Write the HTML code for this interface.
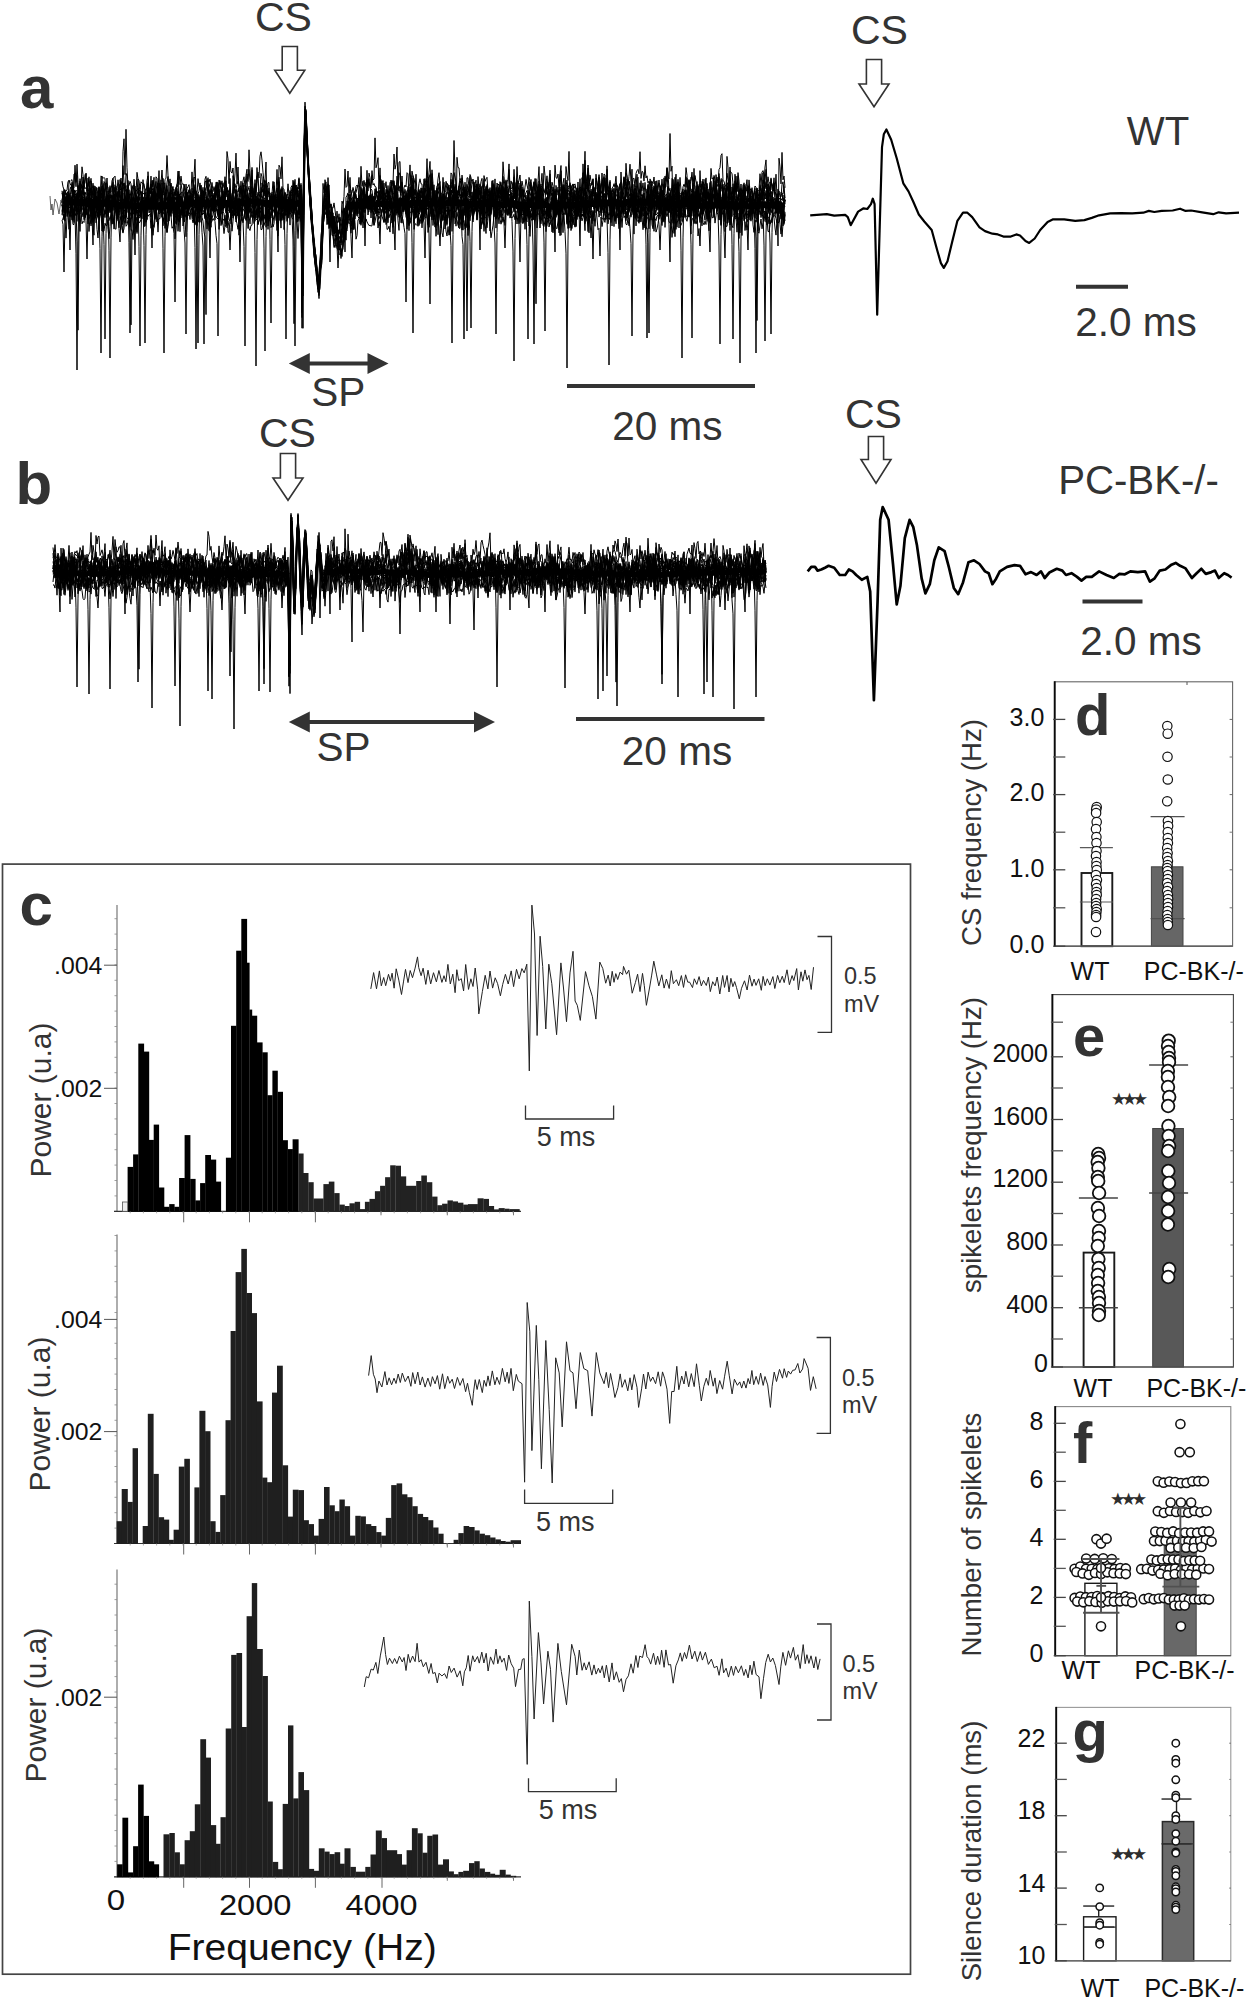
<!DOCTYPE html>
<html lang="en"><head><meta charset="utf-8"><title>Complex spikes in WT and PC-BK-/- Purkinje cells</title>
<style>html,body{margin:0;padding:0;background:#fff}svg{display:block}text{font-family:"Liberation Sans",sans-serif}.st{font-family:"DejaVu Sans","Liberation Sans",sans-serif}</style>
</head><body>
<svg width="1250" height="2000" viewBox="0 0 1250 2000">
<rect width="1250" height="2000" fill="#fff"/>
<path d="M63,202.7l2,1.1 2,-1.3 2,0.1 2,0.3 2,-1.2 2,1.1 2,0.4 2,0.5 2,-2 2,0.7 2,-0.6 2,2.2 2,-0.2 2,-1.9 2,2.9 2,0 2,-0.8 2,0 2,-1.3 2,-0.3 2,1.6 2,-1.3 2,0.5 2,0.2 2,-0.5 2,1.4 2,0 2,1.3 2,-0.9 2,0.5 2,-0.4 2,0.6 2,-0.5 2,-0.5 2,2.2 2,0.1 2,-0.4 2,-0.4 2,-1.1 2,-0.2 2,0.2 2,-0.6 2,2.1 2,-1.1 2,1.3 2,-1.3 2,1.7 2,-0.4 2,-2.5 2,0.6 2,2.1 2,-1.4 2,1.5 2,-1.8 2,-1 2,1.6 2,0.4 2,-1.6 2,-0.6 2,0.6 2,1.9 2,-0.7 2,-2 2,0.3 2,-0.6 2,-0.2 2,2.1 2,-1.9 2,1 2,-0.4 2,-0.9 2,1.6 2,-1.9 2,1.4 2,-1.7 2,0.8 2,-0.7 2,0.1 2,2 2,-0.5 2,-1.6 2,1.6 2,-2 2,0.4 2,1.4 2,-0.7 2,-1.7 2,2.6 2,-2.4 2,0.1 2,1.6 2,-1.4 2,-0.1 2,-0.7 2,0.1 2,1.5 2,-1.1 2,1.1 2,-0.6 2,0.2 2,1.6 2,-1.4 2,0.3 2,1 2,-2 2,-0.1 2,2.4 2,-0.2 2,-1.7 2,-0.1 2,1.8 2,0.6 2,-2.1 2,2.4 2,-0.2 2,-0.7 2,-0.5 2,-0.8 2,-0.1" fill="none" stroke="#000" stroke-width="6" stroke-linejoin="round" stroke-linecap="butt"/>
<path d="M325,204.2l2,1.5 2,-1.3" fill="none" stroke="#000" stroke-width="6" stroke-linejoin="round" stroke-linecap="butt"/>
<path d="M347,206.5l2,-0.7 2,-0.9 2,-0.4 2,1.6 2,-1.9 2,0.4 2,1 2,0.8 2,-0.7 2,-1.1 2,1.9 2,-2.2 2,-0.6 2,0.7 2,0.4 2,-1.2 2,0.2 2,0.5 2,0.6 2,-1.4 2,0.6 2,1.4 2,0.2 2,-1 2,0 2,-0.5 2,-1.4 2,-0.4 2,-0.1 2,2.5 2,-0.7 2,0.7 2,-2.9 2,1.8 2,-0.6 2,0.7 2,-1.3 2,1.9 2,-2.8 2,1.4 2,0.5 2,0.4 2,-0.5 2,-0.2 2,0.3 2,0.3 2,-1.7 2,1 2,0.6 2,-0.1 2,-1.3 2,1.1 2,0.2 2,-0.8 2,0.1 2,-0.7 2,0.7 2,0.1 2,-1.5 2,1.7 2,1.1 2,-0.3 2,-0.3 2,-1 2,1.1 2,-0.4 2,-0.3 2,1.3 2,-2.2 2,2.1 2,-2.1 2,1.9 2,-0.3 2,-0.7 2,1.5 2,-0.5 2,0.5 2,1 2,-1.9 2,-0.7 2,1 2,1.2 2,-1.3 2,0 2,2.2 2,-0.6 2,-0.6 2,1.4 2,-1.6 2,1.1 2,-1.4 2,0.7 2,1.2 2,0.4 2,-0.1 2,-1.5 2,0.6 2,-0.8 2,-0.5 2,1.1 2,1 2,0 2,-0.4 2,0.7 2,-2.1 2,-0.3 2,0.8 2,-0.6 2,-0.3 2,0.6 2,0.5 2,-0.4 2,-0.6 2,1.5 2,0.3 2,-1.7 2,-1.2 2,-0.2 2,2.4 2,-2.6 2,2 2,-0.6 2,-0.8 2,1.3 2,-2.4 2,0.3 2,0.8 2,-1.4 2,2.4 2,-1.9 2,-0.4 2,-0.4 2,1.7 2,-0.6 2,0.5 2,0 2,0.4 2,0.4 2,-0.9 2,-1.5 2,0.8 2,-1 2,-0.5 2,1.4 2,0.7 2,-1.7 2,0.3 2,0.2 2,1.1 2,-0.5 2,0.3 2,0.4 2,-1 2,1.2 2,0.4 2,-2.4 2,2.6 2,-0.6 2,-1.7 2,1 2,0.6 2,0.9 2,-1.5 2,0.7 2,1 2,-0.2 2,0.6 2,-1.4 2,0.7 2,-1.3 2,1.7 2,0.4 2,-0.5 2,0.3 2,-1.4 2,2.2 2,0.3 2,0.1 2,-1.2 2,0.8 2,-1.3 2,1.8 2,-0.1 2,-1.4 2,-0.7 2,1.1 2,0.4 2,0.7 2,-0.8 2,-1.3 2,2.3 2,-2.2 2,2.3 2,-1.9 2,0.5 2,1.4 2,-2 2,0 2,1.1 2,0.6 2,0.4 2,-0.5 2,0.7 2,-1.4 2,1.3 2,-2.6 2,0.3 2,0.9 2,-0.8 2,1.2 2,-0.3 2,-0.4 2,0.8 2,-0.9 2,-0.8 2,0.1 2,1.3 2,0.1" fill="none" stroke="#000" stroke-width="6" stroke-linejoin="round" stroke-linecap="butt"/>
<path d="M62,181.1l1,5.7 1,2.8 1,2.1 1,-0.7 1,-0.7 1,-8.9 1,-0.6 1,0.7 1,-1 1,-0.9 1,9.1 1,-0.3 1,-23.2 1,17.2 1,-6.9 1,22.6 1,-1 1,-18.4 1,10.4 1,-3.3 1,9 1,-9.6 1,2.6 1,0.8 1,0.4 1,-3 1,-9.2 1,11.4 1,7.3 1,-4.5 1,-7.8 1,7.7 1,17 1,-17.3 1,-2.8 1,8.7 1,-9.5 1,23.8 1,-34.9 1,1.3 1,1.2 1,-1 1,1.4 1,19.7 1,10.6 1,-10.5 1,51.6 1,107.8 1,-120.1 1,-40.9 1,-18.6 1,19.1 1,-12.8 1,6.3 1,27.9 1,-26 1,-8.7 1,5.2 1,0.1 1,-1.2 1,9.8 1,3.6 1,0.4 1,11.2 1,-23.1 1,3.7 1,16.1 1,-12.5 1,-6.6 1,-1.8 1,-3.2 1,-0.5 1,4.6 1,12 1,-5.1 1,3.4 1,46.3 1,99.4 1,-110.8 1,-38.2 1,-17.4 1,10.2 1,8.4 1,0.1 1,-2 1,-8.3 1,3.4 1,-1.7 1,4.1 1,-7.5 1,-6.3 1,6.6 1,5.8 1,2.8 1,-1.7 1,3.7 1,-4.9 1,-5 1,0.6 1,20.5 1,-2.6 1,-1.3 1,1.7 1,-2 1,1.9 1,-7.7 1,-2.7 1,6.5 1,-6.6 1,-8.9 1,3.6 1,-1.1 1,6.7 1,-6.5 1,-4.8 1,2.7 1,12.8 1,-6 1,-1 1,-1.4 1,1.2 1,4.4 1,4.5 1,-17.8 1,13 1,-4.1 1,-3.3 1,16.3 1,-10.5 1,10 1,-2.5 1,-13.5 1,5.1 1,3.6 1,-4.1 1,-15.4 1,7.4 1,3.6 1,-4.5 1,17.2 1,-7.2 1,-3.6 1,-0.7 1,-3.4 1,-1.3 1,4.9 1,3 1,-4.4 1,1 1,-8.2 1,9.3 1,-5.1 1,4.3 1,-5.8 1,0.4 1,4.7 1,-7.6 1,20.8 1,-9.1 1,-7.2 1,-4.4 1,5 1,-11 1,10.2 1,-35.4 1,7.3 1,24.9 1,-22.3 1,10.6 1,1.1 1,-5.1 1,19.9 1,-4.1 1,4.9 1,24.4 1,-2.5 1,-17.2 1,3.8 1,-8.6 1,3.1 1,5.3 1,-12 1,13.6 1,20.2 1,-17.4 1,12.1 1,-6 1,-16.6 1,1 1,-2.4 1,9.1 1,-2.7 1,-4 1,-0.4 1,-24 1,16 1,10.5 1,2.9 1,-9.5 1,5.3 1,-3.1 1,-1 1,6.4 1,2.3 1,-7 1,-7.6 1,-0.2 1,57.2 1,83.3 1,-92.8 1,-33.2 1,-15.1 1,13.5 1,11.3 1,0.7 1,-5 1,-3 1,-9.3 1,0.5 1,0.6 1,-2.9 1,19.2 1,37 1,94.5 1,-105.3 1,-36.7 1,3.9 1,24.2 1,-37.8 1,-1.7 1,5.7 1,-8.3 1,11.4 1,-6.4 1,2.1 1,-3.8 1,-7.4 1,18.7 1,-12.6 1,15.4 1,43.4 1,-71.7 1,-62.9 1,4.3 1,24.2 1,24.7 1,12.1 1,10.8 1,18.1 1,10.9 1,18.3 1,8.8 1,12.9 1,9.6 1,11.8 1,7.4 1,-3.7 1,-10.4 1,-18.6 1,-19.6 1,-11.5 1,-19.1 1,-16.8 1,3.7 1,1.7 1,-4.9 1,8.5 1,15.2 1,-3.4 1,3.4 1,0.6 1,-5.3 1,7 1,8.7 1,3.6 1,0.7 1,-9.1 1,17.2 1,4.9 1,-1.7 1,-3.4 1,-15 1,-8.2 1,0.5 1,6.3 1,-20.6 1,2.6 1,-2.2 1,7.2 1,8.4 1,-10.7 1,-7.8 1,3 1,-7.8 1,-1.5 1,1.9 1,-9.5 1,17.9 1,-29 1,20.1 1,-5.3 1,20.9 1,44 1,-52.3 1,-8.8 1,-1.7 1,-1 1,4 1,-2.3 1,-13.3 1,9.5 1,-1.2 1,-41 1,29.9 1,-3.6 1,-6.5 1,31.3 1,-21.1 1,27.1 1,3.9 1,-7.2 1,7.6 1,1.1 1,-5.2 1,-5.6 1,8.4 1,-0.8 1,-15 1,-0.2 1,9.9 1,1.1 1,1.4 1,2.7 1,-2.4 1,8.1 1,-11.2 1,-3 1,3.3 1,3.5 1,0.8 1,3.9 1,-12.4 1,-2.7 1,2 1,-14.3 1,1.1 1,23.9 1,-3.2 1,-8.1 1,-15.3 1,5.2 1,2.1 1,5.8 1,16.4 1,-4.1 1,-4 1,-9.1 1,-4.6 1,5 1,0.3 1,22.3 1,-19.9 1,-8 1,6.5 1,-4.3 1,2.5 1,14.1 1,-5.1 1,-8.2 1,7.8 1,3.9 1,-3.9 1,5.4 1,2.6 1,-10 1,-11 1,-6.1 1,12 1,12.1 1,2.8 1,-3.4 1,4.6 1,-8.8 1,-1.6 1,-7.2 1,9.6 1,2.1 1,-2.1 1,-3 1,-5.2 1,6.4 1,9.7 1,-6.8 1,3.6 1,-6.1 1,4.1 1,-6.4 1,7 1,-1.1 1,3.4 1,-4.4 1,-5 1,4 1,10.3 1,7.3 1,-9.7 1,11.4 1,28.9 1,86.8 1,-96.7 1,-34.3 1,-15.1 1,16.8 1,-8.1 1,7.8 1,-21.8 1,11.3 1,11.4 1,-12.2 1,11.5 1,-1.3 1,-2.9 1,-4.4 1,-3.7 1,2.2 1,23.2 1,-10.5 1,-3.8 1,-6.8 1,-2.2 1,-0.4 1,-2.2 1,10.5 1,-3.5 1,6.1 1,-10.7 1,9.8 1,-2.6 1,3.6 1,-3.5 1,-6.2 1,11.2 1,-6.8 1,-5.2 1,-6.5 1,-2.5 1,-15.6 1,24.7 1,0.8 1,-2.2 1,-4.9 1,4.2 1,5.5 1,0.3 1,-25.8 1,17.7 1,-3.9 1,-5.3 1,14.6 1,-8.5 1,5.4 1,8.5 1,-7.9 1,-7.7 1,5.7 1,3.9 1,-11.6 1,3.5 1,9.5 1,-1.3 1,1.4 1,-8 1,11.4 1,9.7 1,-8.8 1,-6.2 1,-4.5 1,11.8 1,4.2 1,14.2 1,-9.6 1,-2.8 1,-0.4 1,-15.1 1,5.4 1,6.7 1,-9.5 1,10.5 1,6.8 1,-0.2 1,-11.5 1,-4 1,8.4 1,3.1 1,2.1 1,-3.4 1,-6.1 1,-8.4 1,-15.6 1,20.3 1,8.7 1,-9.9 1,-0.3 1,4.3 1,2.6 1,-10.4 1,0.5 1,-1.8 1,34.1 1,2.7 1,-6.1 1,-7.1 1,7 1,-4.1 1,0.9 1,-12.5 1,16.4 1,-20.1 1,-2.4 1,19.4 1,-21 1,6.9 1,-10.1 1,21.4 1,-8.1 1,-27.6 1,27.4 1,-9.5 1,1 1,4.1 1,-10.9 1,0.5 1,4 1,4 1,-0.8 1,13.6 1,-12 1,-6.2 1,-4.1 1,-2.1 1,-5.2 1,0.9 1,12.3 1,-1.2 1,-2 1,2.7 1,5.5 1,-0.9 1,0.7 1,-8.2 1,-0.8 1,-3.5 1,3.3 1,-3.4 1,1.8 1,2 1,25.3 1,37.3 1,-58.8 1,5.7 1,-9.3 1,-10.1 1,8.3 1,-13.1 1,3.2 1,9.5 1,-8.9 1,-12.3 1,17.6 1,10.7 1,-13.8 1,-0.5 1,8.6 1,-13.4 1,-2.7 1,-1.3 1,4.4 1,-22.1 1,26.7 1,-7.1 1,0.9 1,8.9 1,-15.3 1,12.2 1,-2.2 1,7.3 1,-2 1,2.9 1,2 1,7.3 1,2.8 1,-10.2 1,3.3 1,9.4 1,-2.5 1,-8.2 1,-4.9 1,2.3 1,4.9 1,-11.1 1,11.8 1,3.3 1,-18.1 1,5.3 1,-13.4 1,4.8 1,17.7 1,-2.3 1,13.2 1,-22.9 1,2 1,43.1 1,-31.8 1,-6.9 1,8.2 1,-11.3 1,46.2 1,-31.3 1,20.6 1,-23.9 1,-4.5 1,8.7 1,-7.4 1,16.5 1,-11 1,-4 1,0 1,14.8 1,-5.4 1,-7 1,7.4 1,11.9 1,-19 1,-3.7 1,3.8 1,-3.5 1,23.9 1,7.7 1,-19.7 1,6.6 1,-27.8 1,3.4 1,-0.4 1,19.2 1,-20.6 1,8.2 1,9 1,-1.5 1,3.8 1,-6.8 1,-9.9 1,-10.7 1,3.7 1,6.7 1,-8.8 1,6.2 1,-13.7 1,-1.7 1,-12.4 1,-1.7 1,26.8 1,0.8 1,4 1,0.8 1,-12.9 1,6.7 1,8.4 1,-17.5 1,1.7 1,0.8 1,10.8 1,11.9 1,-12.2 1,4 1,8.3 1,4.5 1,-9.9 1,-0.7 1,10.1 1,10.2 1,-2.3 1,-17.9 1,3.8 1,-3.6 1,0.1 1,-3.9 1,-0.4 1,2.8 1,12.5 1,-2.8 1,-2.8 1,-3.5 1,-6.3 1,1.2 1,9.2 1,0.1 1,7.6 1,-15.9 1,-2.3 1,-13.8 1,-1.5 1,4.2 1,14.1 1,-4.6 1,8 1,-8 1,4.5 1,-1 1,13.1 1,-0.7 1,-9.2 1,-7.7 1,13.9 1,16 1,-19.6 1,5.9 1,-1.5 1,1.3 1,-4 1,-1.4 1,0.1 1,-7.5 1,11.5" fill="none" stroke="#000" stroke-width="1.0" stroke-linejoin="round"/>
<path d="M62,205l1,3.2 1,-7.2 1,8.3 1,-9.3 1,-4.7 1,2.8 1,4.4 1,-5.2 1,-7.2 1,-7.8 1,16.6 1,-9.2 1,2.3 1,-0.5 1,-1.3 1,6 1,0.8 1,-6 1,-1.7 1,11.5 1,-18.8 1,7.5 1,12.1 1,-0.9 1,-5 1,-12.8 1,-1.1 1,17.2 1,-17.7 1,13.9 1,3.7 1,1.3 1,4.6 1,-8.7 1,3.2 1,4.3 1,25.3 1,-29.9 1,-7.9 1,-2.9 1,10.9 1,-17.6 1,1.5 1,5.7 1,-10.7 1,14.2 1,3 1,-9.5 1,6.5 1,-11.5 1,-2.6 1,-0.5 1,-1.5 1,11.4 1,2.5 1,-10.2 1,7.8 1,-1.9 1,-1 1,-3.3 1,4.7 1,-3.3 1,7.7 1,0.3 1,2.6 1,-8 1,23.1 1,31.8 1,84.6 1,-94.3 1,-33.2 1,-18.2 1,12 1,7 1,-5.3 1,-13.9 1,1.5 1,8.6 1,-7.3 1,1.3 1,0.5 1,0 1,6.9 1,5.9 1,-16 1,-4.5 1,18.1 1,0.2 1,-2.6 1,-7.2 1,2.8 1,-9.9 1,21.4 1,-3.4 1,0 1,-1.9 1,7.9 1,-6.5 1,-1.7 1,2.3 1,53.3 1,104.3 1,-116.2 1,-39.8 1,-6.9 1,31.9 1,-29.7 1,8.5 1,-17.8 1,5.7 1,10.1 1,2.6 1,-7 1,-1.2 1,-8.2 1,-4.1 1,-9.9 1,13.7 1,-8.6 1,7.8 1,0.1 1,0.5 1,4.3 1,0.9 1,13 1,-10.6 1,-0.2 1,0.9 1,5.9 1,-0.2 1,3.5 1,-4 1,-1.3 1,0.7 1,-1.1 1,-2.3 1,-2.8 1,-8.3 1,11 1,-3 1,3.3 1,9.5 1,-14.9 1,9 1,0 1,-18.2 1,2.8 1,-3.4 1,6.6 1,8.6 1,10.8 1,-9.3 1,4.2 1,-3.2 1,-14.5 1,10.8 1,-7.8 1,-4.6 1,11.7 1,-5.9 1,25.4 1,-21.6 1,-4.9 1,-4.5 1,11.7 1,-2.3 1,2.7 1,12.4 1,18.6 1,-14.8 1,-33.5 1,10.4 1,-12.1 1,-20.8 1,30.7 1,-16.8 1,24.6 1,1.2 1,-3.7 1,-1.8 1,-6.4 1,-4.1 1,9.8 1,-11.4 1,-6 1,59.3 1,-28.5 1,0.4 1,-4.2 1,-9.4 1,10.5 1,26.3 1,-29.3 1,-2.5 1,-15.9 1,0.2 1,16.4 1,0 1,-19.1 1,3.4 1,15 1,-12.1 1,3.5 1,7 1,11.4 1,24.4 1,-14.8 1,-15.5 1,4.7 1,-1.4 1,-0.4 1,4.5 1,-5.2 1,3 1,3 1,-6.3 1,3.4 1,-9.1 1,9.2 1,15.4 1,-12.6 1,7.2 1,-2.9 1,-7 1,1 1,1 1,4.1 1,-1 1,-4.9 1,2.7 1,-15.5 1,-7.2 1,7.6 1,-4 1,12.2 1,-10.1 1,2.2 1,0.2 1,-6.2 1,19.8 1,52.9 1,-78.1 1,-57.2 1,-1.6 1,13 1,22.1 1,20.7 1,7 1,17.7 1,15.3 1,17 1,10.7 1,6.5 1,10.1 1,9.7 1,11.3 1,10.7 1,-15.6 1,-18.3 1,-15.9 1,-31.1 1,-12.3 1,-12.5 1,10.7 1,28.8 1,-22.1 1,-17.7 1,27.7 1,7.6 1,-12 1,10.1 1,-2.3 1,14 1,-5 1,-13.9 1,10.9 1,-2.1 1,-2.9 1,15.4 1,-15.1 1,-10.3 1,-10.6 1,-27.4 1,18.4 1,-1.2 1,-15.2 1,22 1,-15.6 1,20 1,3.1 1,5.8 1,-13.7 1,1.1 1,4.6 1,3.3 1,2.2 1,1.9 1,3.3 1,16.3 1,-24.8 1,-2.6 1,-1.9 1,9.7 1,0.3 1,-5.4 1,3.3 1,-6.9 1,1.2 1,-2.9 1,8.4 1,-4.5 1,3 1,-4.5 1,-9.2 1,10.3 1,0.2 1,2.3 1,-10.8 1,-11 1,8.2 1,8.3 1,-12.9 1,22.6 1,-1.8 1,1.7 1,-13.9 1,7.2 1,0 1,-0.6 1,1.2 1,-15.3 1,-30.2 1,15.2 1,-4.8 1,-17.4 1,41.8 1,-26.6 1,-0.7 1,29.4 1,-14.9 1,17.6 1,5.1 1,6.8 1,-9.8 1,-1 1,11.8 1,-3 1,-11.3 1,6.7 1,-13.1 1,-0.9 1,11.8 1,5.6 1,6.2 1,-9 1,-7 1,11 1,0.5 1,-6.9 1,0.2 1,1.4 1,20.8 1,-18.7 1,-5.2 1,11 1,-9.5 1,30.2 1,-19.8 1,-21.2 1,-16.5 1,13.6 1,18 1,-2.4 1,10.4 1,-23.1 1,-1.7 1,0.7 1,-3.8 1,40.7 1,-24 1,-0.6 1,-4.3 1,-2.3 1,-9.7 1,3.1 1,-0.2 1,4.6 1,5 1,-14.5 1,7.7 1,-6.7 1,14.9 1,-10.9 1,6 1,3.3 1,-2.5 1,-1.3 1,-8.8 1,14.8 1,-3.7 1,-5.5 1,3.6 1,4.6 1,1.2 1,-11.7 1,5.4 1,-1.3 1,5.7 1,-2.5 1,-9.2 1,-3.4 1,7.9 1,-0.6 1,0.9 1,-2.1 1,11.1 1,-1.2 1,-4.5 1,10.3 1,-6.2 1,14.1 1,11 1,-24.3 1,3.6 1,2.9 1,-9.5 1,-0.8 1,7.5 1,4.8 1,-20.9 1,-2.7 1,14.3 1,13.6 1,-13.8 1,-11.4 1,2.3 1,8.8 1,-4.1 1,3.7 1,-5 1,-1.9 1,7.3 1,-5.9 1,-3.2 1,8.5 1,6.7 1,-5 1,-0.7 1,-3.2 1,-1.1 1,1.9 1,7 1,-4.9 1,7.9 1,-10.7 1,-10.5 1,14.8 1,-7.2 1,12.2 1,-8.5 1,-1.7 1,9.4 1,-0.5 1,-4.4 1,6.2 1,0.2 1,-6.9 1,-4.4 1,-7.6 1,6.3 1,8.3 1,5.3 1,2.6 1,-9.4 1,3.4 1,-12 1,12.2 1,-0.7 1,-12.1 1,0 1,2 1,3.9 1,-2.4 1,-3.1 1,7.9 1,-3.4 1,-8.9 1,-1.2 1,18.7 1,-3.5 1,-2.9 1,15.9 1,42.6 1,-66.6 1,9.8 1,-8.1 1,10.4 1,-23.5 1,-8.5 1,44.1 1,-26.3 1,-5.1 1,32.2 1,-23.5 1,-6.9 1,8.5 1,0.4 1,-6.2 1,5.5 1,-2.1 1,-2 1,7.5 1,6 1,28.1 1,-27.9 1,-15.8 1,29.2 1,34.8 1,-51.5 1,-7.7 1,-8 1,4.7 1,-23.3 1,22.3 1,0.1 1,8.6 1,-0.1 1,2.1 1,2.3 1,10.6 1,-17.7 1,6.9 1,0.6 1,-3.6 1,9.9 1,-6 1,0.3 1,2 1,-5.9 1,-0.2 1,2.9 1,-2 1,0.9 1,13.5 1,9.4 1,-17.2 1,6.4 1,-8.9 1,4.1 1,-9 1,-4 1,38.1 1,-41.8 1,-8.6 1,17.5 1,11.2 1,3.2 1,3 1,5.7 1,-18.3 1,-0.7 1,-8.8 1,-1.4 1,14.4 1,2.9 1,12.9 1,-11.4 1,-1.2 1,-12.6 1,4.2 1,-1.4 1,1.4 1,1.6 1,4.8 1,0.7 1,5.5 1,-9.3 1,-0.5 1,-3.3 1,-2.1 1,2.4 1,-1 1,2.7 1,2.4 1,-7.1 1,-9.3 1,6.5 1,13.1 1,-17.4 1,-2.9 1,2.7 1,9.3 1,-5.7 1,-1.5 1,12.8 1,-5.8 1,8.1 1,7.2 1,-12.7 1,-8.1 1,7.9 1,-4.3 1,1.2 1,1.1 1,-2.6 1,-6.9 1,4.2 1,-0.8 1,6.1 1,4.4 1,0 1,-6.6 1,7.1 1,-3.3 1,8 1,-10 1,-2.3 1,-15.7 1,13 1,8.5 1,-12 1,-2.7 1,2.6 1,-19.2 1,7.7 1,39.3 1,-32.3 1,-1.3 1,-0.4 1,-8.5 1,14 1,-0.9 1,0.5 1,22.8 1,-20.4 1,-3.5 1,14.8 1,-28.8 1,21.2 1,-7.2 1,2.8 1,6.6 1,-3.9 1,15.9 1,-5.7 1,-4.6 1,7 1,6.4 1,3.7 1,-14.7 1,-2.5 1,2.1 1,-1.6 1,-4.5 1,-1.7 1,13.1 1,-7.9 1,15.9 1,-7.4 1,-4.7 1,-10.4 1,15 1,-4.9 1,-10.7 1,9.3 1,12.7 1,-11.3 1,7 1,-2.2 1,-16.4 1,5.9 1,-4.1 1,3.1 1,-8 1,7.9 1,-16 1,17.2 1,1.7 1,-10.7 1,13 1,-12.5 1,0.5 1,7.5 1,5 1,2.6 1,5.4 1,-8.9 1,3.2 1,-5.2 1,-6.9 1,8.2 1,0.2 1,-4.9 1,5.8 1,-8.6 1,8.5 1,-2.7 1,-9.6 1,9.9 1,3.3 1,-9.1 1,-2.5 1,-4.6 1,4.7 1,-2 1,1.9 1,-3 1,-0.9 1,0.2 1,0.9 1,4.4 1,-10 1,13.2 1,-16.8 1,23.1 1,48.7 1,-87.8 1,8.7 1,17 1,-31.5 1,27.4 1,-3.8 1,11.8" fill="none" stroke="#000" stroke-width="1.0" stroke-linejoin="round"/>
<path d="M62,199.8l1,-3.1 1,-1 1,6.5 1,3.7 1,-5.8 1,0.9 1,1.1 1,-12.9 1,-2.4 1,7.3 1,-7.8 1,10.7 1,0.9 1,9.9 1,34 1,88.4 1,-98.4 1,-33.1 1,-12.2 1,-19.7 1,7.9 1,14.3 1,-14.3 1,-1 1,21.1 1,-16.7 1,11.7 1,-5.4 1,-6.1 1,10.1 1,8.3 1,3.2 1,6.9 1,-1.8 1,11.2 1,-6.1 1,2.9 1,-14.3 1,2.5 1,20.5 1,-22.2 1,8.9 1,6 1,-2.4 1,-5.8 1,-4.4 1,-6 1,8.6 1,7.3 1,-4.4 1,-6.7 1,-9.4 1,-4.3 1,8.5 1,1.3 1,-6.4 1,7.4 1,-5.2 1,-14.5 1,23.9 1,-50.6 1,-12.5 1,35.8 1,-45.3 1,38.5 1,19 1,-1.3 1,-4.2 1,2.6 1,22.5 1,0.2 1,-5.6 1,-1.2 1,12.5 1,-5 1,-12 1,1.9 1,2.4 1,-1.2 1,-6.6 1,2.3 1,-1.1 1,4.1 1,5.6 1,2.8 1,-8.8 1,-0.8 1,-1.5 1,8.3 1,-6.2 1,8.9 1,-2.6 1,-14.3 1,-7.1 1,11.7 1,0.3 1,-10.5 1,14.7 1,-17.8 1,37.4 1,-38.9 1,9.5 1,36.2 1,-32.6 1,-9.2 1,-5.7 1,9.1 1,-6.7 1,14.1 1,0.8 1,12 1,22.8 1,-26.7 1,9.4 1,-17.7 1,17.2 1,10.1 1,-12.3 1,6.4 1,-13.2 1,-4.9 1,-12.9 1,10.3 1,-2.7 1,0.4 1,10.9 1,-3.8 1,2.2 1,-2 1,-11.1 1,7.4 1,-7.2 1,8.5 1,-5.2 1,1.8 1,8.3 1,-1.3 1,5 1,-19.9 1,14.5 1,-0.3 1,7.6 1,-7.7 1,1 1,-0.1 1,-2.5 1,4.8 1,4.4 1,-2 1,5.2 1,-11.6 1,-2.4 1,-1.9 1,-4 1,-8.7 1,15.3 1,-17.1 1,1.6 1,4 1,-4.9 1,13.3 1,11.1 1,-5.5 1,-3.8 1,-5.8 1,12.9 1,-9 1,-5.5 1,7.4 1,10.2 1,-11.4 1,6.1 1,-5.4 1,-5.9 1,1.8 1,1 1,-3.5 1,-1.5 1,-1.6 1,13.8 1,-2.2 1,7.2 1,1.5 1,-3.3 1,-12.7 1,0.8 1,-4.5 1,1.1 1,11 1,4.4 1,-10 1,8.6 1,-0.3 1,-3.5 1,-1.6 1,7.5 1,15 1,-18.1 1,-4.2 1,0 1,2.3 1,-7.1 1,-0.3 1,7 1,-0.7 1,-3.5 1,-1.6 1,0.2 1,3 1,10.7 1,-2.1 1,-3.1 1,0.3 1,-8.1 1,-5.4 1,13.1 1,-7.6 1,-0.8 1,-3.9 1,2.5 1,13.2 1,-0.7 1,0.2 1,-3.7 1,-5.4 1,-0.3 1,16.7 1,-1.2 1,-0.6 1,-5.3 1,-3.1 1,6.7 1,-18.3 1,4.7 1,-0.5 1,4.3 1,17.1 1,-24.9 1,17.3 1,94.7 1,-94.5 1,-50.5 1,-45.1 1,16.3 1,21.9 1,16.7 1,23.7 1,11.5 1,5.3 1,13.1 1,8.9 1,14.7 1,5 1,9.1 1,13 1,4.7 1,0.9 1,-12.1 1,-15.3 1,-31.2 1,-9.3 1,-7.5 1,-0.2 1,0 1,2.5 1,-26 1,19.4 1,14.2 1,11.6 1,1 1,1.5 1,-5.9 1,8 1,0.6 1,0.6 1,1.6 1,12.2 1,-0.2 1,-0.9 1,-8.6 1,-7.9 1,-14.6 1,-1.1 1,-3.6 1,4.7 1,-4.1 1,-2.5 1,1.5 1,15.2 1,-11.2 1,-6.9 1,-3.3 1,-3.8 1,-2.4 1,-4.3 1,-3.4 1,16 1,-6.2 1,-3.1 1,-3.4 1,8.4 1,-2.4 1,1.3 1,5.1 1,-20.8 1,7.4 1,-8.6 1,9.6 1,-0.3 1,-12.5 1,9.6 1,-1.6 1,3.1 1,0.3 1,9.1 1,4.3 1,-16.2 1,-8.6 1,12.4 1,-1.7 1,1.4 1,6.4 1,-0.6 1,7.5 1,11.8 1,-16 1,-5.3 1,12 1,-8.9 1,-13.7 1,0.7 1,6.8 1,15.3 1,-3.6 1,-2.5 1,15 1,-4.1 1,-3.5 1,-6.2 1,-0.9 1,14.1 1,-9.3 1,-4.5 1,-0.7 1,31.8 1,-24.8 1,-22.1 1,-17.4 1,21.9 1,55.9 1,90.3 1,-100.6 1,-35.4 1,0.9 1,3.7 1,-6.2 1,0.1 1,-4.2 1,1.4 1,-4.7 1,13 1,-3.8 1,-9.2 1,6.7 1,5.6 1,-3.7 1,-19.1 1,22.3 1,-12.8 1,2.2 1,0.2 1,16.6 1,-4.4 1,-4.6 1,-8.2 1,4.6 1,-10.2 1,10 1,4.6 1,4.3 1,0.1 1,8.3 1,18.5 1,-19.1 1,-4.1 1,-7 1,-5 1,6.7 1,-27.6 1,1.8 1,12.1 1,-46.3 1,31.3 1,54.4 1,-68.9 1,10.2 1,0.4 1,12.1 1,3.3 1,-5.5 1,6 1,5.2 1,10.6 1,28.1 1,-49.9 1,0.1 1,9.9 1,-1.1 1,10.9 1,3.2 1,-1.8 1,-5.9 1,-8.7 1,-4.2 1,16 1,-5.6 1,7.6 1,2.6 1,-0.7 1,3.5 1,8.3 1,-4.4 1,-11.7 1,-6.9 1,7.5 1,3.9 1,-1.5 1,-3.3 1,-1.8 1,11.3 1,-7.6 1,-4.6 1,15 1,20.3 1,-26.7 1,-9.5 1,-4.1 1,5.2 1,2.3 1,-0.3 1,-8.7 1,8.4 1,-6.9 1,15.6 1,-3.6 1,-11.2 1,18.3 1,-9.5 1,15.6 1,-6.1 1,-13.8 1,-10 1,11.8 1,12.8 1,-7 1,1.6 1,-0.8 1,-12.3 1,9.3 1,-8.8 1,0.4 1,5.6 1,-0.6 1,5.1 1,1.1 1,-4.9 1,3.6 1,-1.5 1,5.7 1,-2.5 1,-3.6 1,-4.8 1,1.2 1,-2.4 1,3.5 1,-6.7 1,13.2 1,-10.5 1,-4 1,3.9 1,1.7 1,17.3 1,-5.7 1,-5.1 1,-2 1,5.4 1,12.3 1,-4.6 1,-6 1,-6.3 1,-4 1,-1 1,11.9 1,-7.2 1,5.6 1,2.9 1,-17 1,12.5 1,-9.5 1,18.9 1,-5.1 1,-3.1 1,-7.6 1,-3.8 1,4.2 1,-6.8 1,3 1,-0.6 1,11.8 1,5.4 1,-13.7 1,3.3 1,-4.8 1,4.3 1,5.5 1,-5.4 1,-9.9 1,-1 1,0.6 1,4.5 1,-4.7 1,8.2 1,-12 1,5.1 1,-1.1 1,-22.9 1,12.2 1,11.6 1,-5.8 1,2.6 1,-6.3 1,17.5 1,1.6 1,-9.6 1,-1.4 1,-5.2 1,-7.6 1,7.7 1,11.5 1,-20.8 1,23.5 1,-22.5 1,0.8 1,18.5 1,-9.4 1,8.9 1,0.7 1,1.5 1,6.5 1,24.5 1,-19.5 1,7.1 1,-9.6 1,-4.1 1,-0.1 1,-5.8 1,7.4 1,-1.4 1,-1.9 1,0.7 1,-7.1 1,-8.8 1,5.6 1,-25.2 1,14.6 1,20 1,-16.9 1,4.5 1,10.9 1,-2.1 1,16.3 1,-21.3 1,-0.3 1,-1.5 1,-13.3 1,24.7 1,-3 1,-6.8 1,6.7 1,-0.4 1,9.2 1,5.4 1,15.1 1,-25.4 1,0.9 1,-9.8 1,16.7 1,-11.9 1,-0.4 1,-8.6 1,17.1 1,-3.1 1,-0.8 1,-18.8 1,12.7 1,-5.6 1,-8.1 1,12.2 1,5.2 1,-6.9 1,2.1 1,2.7 1,32.1 1,-19.6 1,-8.8 1,-11.8 1,37.1 1,37.7 1,-66.2 1,8.1 1,-13.3 1,1.6 1,-7.5 1,-10.6 1,20.7 1,7.8 1,-9.5 1,-0.3 1,1.1 1,0.2 1,-1.9 1,1.2 1,-4.4 1,-12.1 1,10.5 1,-3.4 1,-4.2 1,22.2 1,-7.8 1,-0.1 1,15.1 1,-19 1,-14.7 1,6 1,3.1 1,2.5 1,6.2 1,4.7 1,-9.2 1,6 1,-2.3 1,4.5 1,8 1,-6.8 1,1.1 1,-10.2 1,10.1 1,-8.7 1,-22.1 1,10.5 1,-1.2 1,17.4 1,-3.4 1,15.2 1,-7.1 1,13.1 1,7.2 1,-19.9 1,3.1 1,9.4 1,-8.2 1,-2.2 1,-7.6 1,8.1 1,-10.9 1,-5.9 1,9.4 1,-28.4 1,25.9 1,51.6 1,94.5 1,-105.3 1,-36.7 1,-20.9 1,15.1 1,-18.6 1,8.5 1,18.8 1,-11.4 1,11 1,2.3 1,9.7 1,-24 1,-1.1 1,-6.7 1,17 1,-16.8 1,10.8 1,4.7 1,2.7 1,4.9 1,-7.5 1,9.3 1,-9.3 1,-1.1 1,10 1,-7.8 1,-9.8 1,1.4 1,9.1 1,-17.4 1,3.8 1,-16.7 1,-7.1 1,25.3 1,-8.4 1,6.3 1,8.2 1,-12.1 1,6.1 1,5.6 1,-7.6 1,9.4 1,2.3 1,3.6 1,0.7 1,-8.4 1,6.3 1,-0.3 1,-12.2 1,-2.9 1,8.6 1,12" fill="none" stroke="#000" stroke-width="1.0" stroke-linejoin="round"/>
<path d="M62,190.8l1,10.9 1,-7.5 1,6.9 1,-5.6 1,-2.6 1,10.1 1,-1.4 1,-6.5 1,7 1,-5.3 1,6.1 1,-2.8 1,4 1,-0.9 1,-10.6 1,5.4 1,-3.2 1,0.2 1,8.9 1,-8.5 1,5.8 1,10.9 1,0 1,-9.4 1,-5.1 1,-4.3 1,-0.2 1,1.4 1,19.7 1,-8.1 1,16.4 1,-26.2 1,-10.2 1,12.6 1,3.2 1,-2.8 1,-6.2 1,20.6 1,-12 1,-8.5 1,7.5 1,3.2 1,-0.2 1,2.5 1,2.4 1,-9.2 1,4.6 1,4.3 1,-13.1 1,4.5 1,-2.5 1,7.1 1,24.7 1,0.4 1,-14.9 1,-16.3 1,-10.6 1,7.8 1,4.2 1,4.2 1,10.7 1,-13 1,-2 1,-4.5 1,-5.9 1,11.8 1,0.7 1,2.4 1,-5.6 1,-12.7 1,15.8 1,-1.8 1,-13.5 1,10.6 1,-1.8 1,-4.1 1,4.2 1,-8.5 1,12 1,5 1,-6.6 1,3.1 1,2.9 1,-4.1 1,-0.5 1,-15.2 1,14.7 1,9.3 1,-10.4 1,-0.9 1,11.1 1,-16.4 1,1.6 1,0.6 1,5 1,-14.8 1,6.6 1,-0.2 1,1.6 1,4.2 1,10.9 1,4.8 1,-19.2 1,5.1 1,4 1,-5.1 1,2.9 1,1.8 1,7.4 1,0.3 1,-9.9 1,3.5 1,3 1,0.1 1,7.3 1,-6 1,0.6 1,-10.4 1,3.8 1,13.4 1,-9 1,1.3 1,-13.5 1,1.6 1,6.7 1,14.2 1,-10.9 1,-1.5 1,-4.5 1,7.1 1,14.2 1,-7.8 1,36.3 1,101.5 1,-113.1 1,-38.9 1,7.9 1,5 1,0.6 1,4.5 1,-21.4 1,10.9 1,11.2 1,-16.1 1,-2.8 1,-1.5 1,-11.9 1,4 1,8.5 1,-6.2 1,6.2 1,1.6 1,3.4 1,9.8 1,-1.8 1,5.7 1,-13.1 1,9.7 1,-12.3 1,-2.4 1,8.2 1,-2.3 1,4.7 1,1.6 1,14.9 1,-17.1 1,-8.7 1,7.5 1,-1.5 1,-10.5 1,-0.8 1,-6 1,6.6 1,-2.4 1,12.3 1,7 1,-12 1,3.1 1,2.1 1,-5.2 1,-13.1 1,4.8 1,6.9 1,-14.5 1,-8.1 1,7.5 1,-31.7 1,20.9 1,19.6 1,-20.5 1,21.8 1,6.2 1,54.8 1,113.4 1,-126.4 1,-42.6 1,-4.7 1,0.6 1,4.7 1,-14.7 1,6 1,7.1 1,-11.2 1,12.8 1,-7.8 1,7.3 1,-9.2 1,21.9 1,-14.5 1,-1.9 1,-12 1,19.5 1,-6.3 1,12.3 1,23.6 1,-21.5 1,-3.1 1,-11.5 1,-3.9 1,9.8 1,2.7 1,-4.3 1,16.9 1,-21.2 1,12.2 1,-2.4 1,3.6 1,-10.2 1,-5.4 1,5.9 1,-2.3 1,-1.3 1,12.1 1,-5.9 1,0.3 1,5.7 1,-2.3 1,-11.9 1,4.1 1,121 1,-117.7 1,-62.1 1,-35.7 1,22.7 1,24.7 1,14.8 1,13.7 1,7.5 1,16.9 1,18.8 1,9.8 1,12.5 1,13.8 1,8.9 1,8.6 1,5.1 1,-0.3 1,-14.6 1,-29.9 1,-7.4 1,-44.3 1,9.5 1,-4.9 1,5.2 1,-2.2 1,-0.3 1,25.2 1,7.2 1,-4.2 1,0.5 1,-6.6 1,17.1 1,-7 1,10.2 1,-6 1,5.3 1,1.7 1,-15.8 1,3 1,-20.2 1,3.3 1,13.9 1,33.7 1,-54.7 1,-1.8 1,-2.6 1,6.3 1,-2.4 1,-2.2 1,-1.8 1,-5.4 1,4.3 1,7.1 1,-4.5 1,7.9 1,-2.3 1,-5.1 1,8.6 1,-16.7 1,18 1,23.3 1,-23 1,-5.7 1,0.9 1,-2.4 1,-2.1 1,2.1 1,13.8 1,1 1,-7.6 1,-5.9 1,-3.1 1,6 1,-6.5 1,-0.3 1,3.6 1,-6.9 1,6 1,-4.1 1,-12.9 1,12.2 1,8.2 1,-0.8 1,-5.1 1,2 1,-11.9 1,11.6 1,4.1 1,-5.5 1,7.4 1,-12.1 1,-10.3 1,10 1,1.3 1,-15.9 1,10.8 1,2.3 1,-3.5 1,7 1,-9.3 1,11.8 1,2.4 1,5.9 1,-5.2 1,13.8 1,-19 1,3.3 1,-9.2 1,1.6 1,-3 1,-7.7 1,20.6 1,9.4 1,9.7 1,-2.4 1,10.9 1,-16.4 1,-7 1,-12.4 1,3 1,-0.3 1,1.1 1,-2.4 1,-2.8 1,-14.7 1,4.1 1,-0.5 1,-3.5 1,15 1,-7.4 1,13.6 1,-10.9 1,19 1,-6.5 1,-9.5 1,10.9 1,4.6 1,10.7 1,-13 1,2.9 1,-9.7 1,17.6 1,-9.5 1,3.4 1,-15.3 1,-3.4 1,4 1,10.2 1,-11.4 1,1.3 1,2.2 1,-20.7 1,4.5 1,5 1,9.5 1,2 1,-8.7 1,-6.5 1,1.8 1,10.1 1,39.9 1,-24.9 1,-6.6 1,43.4 1,88.9 1,-99.1 1,-34.9 1,-20.7 1,17 1,-0.9 1,27 1,-17 1,-2.9 1,-8.2 1,7.2 1,-11 1,16.8 1,45.7 1,-64.2 1,7.3 1,8.9 1,-26.4 1,5.8 1,-2.5 1,-1.6 1,15 1,5.7 1,13.1 1,-8.3 1,-4.5 1,-12.1 1,-1.6 1,7.4 1,8.9 1,12 1,-19.2 1,4.4 1,-2.7 1,-2.8 1,2 1,-2.8 1,27 1,6.7 1,-21.7 1,-13.2 1,-6.1 1,-15 1,23.2 1,-11.8 1,3.8 1,5.7 1,-21.1 1,16.2 1,14.2 1,-19.4 1,20.8 1,2.7 1,6.6 1,-9.1 1,9.5 1,-7.1 1,5.1 1,20.5 1,-20.3 1,-3.7 1,-2.2 1,-5.4 1,-9.6 1,-8.7 1,30.6 1,9 1,-22.5 1,4.5 1,1 1,26 1,-10.6 1,-26.1 1,3.2 1,-1.4 1,-4.9 1,9.7 1,-4.3 1,-2.9 1,-6.8 1,-8.1 1,13.3 1,-7.5 1,-11.5 1,23.3 1,0.4 1,-6.8 1,6.1 1,-28 1,12.6 1,0.7 1,-4.4 1,13.7 1,-13.2 1,9.8 1,8.2 1,-6.2 1,18.9 1,-7.6 1,-1.4 1,-4.3 1,12.7 1,-9.9 1,-4.1 1,-0.7 1,4.7 1,-10.7 1,4 1,-1.4 1,1.8 1,5.5 1,6.1 1,-1.8 1,-19.4 1,23.1 1,-10.8 1,-18.3 1,18.5 1,-18.8 1,3.5 1,8.6 1,0 1,1.3 1,-10.7 1,5.8 1,4 1,-6.2 1,12.8 1,15.1 1,-12.6 1,4.1 1,-3.6 1,-3.1 1,-2.6 1,6.4 1,2.4 1,1.8 1,-4.6 1,-0.8 1,9.5 1,-9.5 1,-0.3 1,-6 1,7.7 1,-0.6 1,-4.2 1,1.2 1,14.8 1,-1.7 1,-15.2 1,-0.7 1,3.4 1,-1.1 1,-5.7 1,-3.4 1,16.7 1,-13.5 1,-8.7 1,6.8 1,-4.6 1,17.5 1,-4.7 1,2.5 1,1.9 1,-2.9 1,9.8 1,-8.9 1,1.9 1,-3.2 1,-6.9 1,16.2 1,8.6 1,-11.1 1,6 1,-25 1,14.5 1,5.2 1,-6.9 1,13.7 1,37.1 1,93.8 1,-104.5 1,-36.5 1,-18.1 1,2.5 1,12.7 1,3.2 1,-9.4 1,4.2 1,-6.3 1,19.4 1,-2 1,-4.6 1,0.6 1,-13.6 1,7.5 1,0.4 1,1.4 1,-2.6 1,-14.8 1,-8.7 1,23.6 1,1.4 1,3.1 1,13.3 1,4 1,-29.1 1,3 1,23.5 1,-10.4 1,-12.2 1,-6.4 1,6.6 1,13.8 1,47.2 1,107.8 1,-120.1 1,-40.9 1,5.9 1,-15.2 1,-9.5 1,14.2 1,-6.9 1,-0.3 1,6.1 1,0.3 1,0.1 1,-23.3 1,21.1 1,0.8 1,5.9 1,-9.8 1,10.8 1,0.5 1,-4.2 1,-12.1 1,1.7 1,14.6 1,-18.4 1,5.6 1,13.2 1,-5.2 1,8 1,2.6 1,-3.1 1,17.2 1,0.1 1,-9.4 1,-11.9 1,-10.6 1,12.3 1,0.3 1,-4 1,-10 1,24.5 1,-5 1,-1.3 1,5.6 1,-16.6 1,6.9 1,-13.6 1,-2.5 1,15.7 1,1.2 1,-3.9 1,3 1,1.2 1,-6.7 1,-2.1 1,-7.5 1,5.3 1,-2.6 1,10.4 1,-3.6 1,17.8 1,8.7 1,-16.5 1,-4.9 1,10.2 1,-7.1 1,0.7 1,1.8 1,4.9 1,-0.1 1,-17.3 1,0.5 1,8.9 1,-6.9 1,-5 1,19 1,-19.5 1,5.9 1,1.6 1,3.5 1,-2.3 1,2.7 1,-5.8 1,-1.8 1,6.6 1,0 1,-0.1 1,-2.7 1,-7.5 1,10.2 1,3.5 1,-2.4 1,-7.5 1,-4 1,3.1 1,3.3 1,7.9 1,0.6 1,1.6 1,-1.7 1,-4.1 1,1.8 1,-5.5 1,9.5 1,-4.7" fill="none" stroke="#000" stroke-width="1.0" stroke-linejoin="round"/>
<path d="M62,211.5l1,-6.7 1,6.8 1,-9.2 1,-5.8 1,0.4 1,-3.4 1,6.8 1,0.4 1,10.7 1,8.6 1,-21.5 1,-7.5 1,3.7 1,-0.6 1,3.8 1,6.3 1,-9.4 1,-6.2 1,7.6 1,-6 1,4.2 1,-2.6 1,3.9 1,4.8 1,5 1,-5.1 1,31 1,-15.3 1,-14.4 1,-5.7 1,-5.1 1,-5.3 1,13.4 1,-12.1 1,5.7 1,9.1 1,11.7 1,35.2 1,104.3 1,-116.2 1,-39.8 1,13 1,7.6 1,-14.3 1,-3.3 1,-4.9 1,7.8 1,-0.7 1,8.4 1,-5.9 1,-4.9 1,1.3 1,-7.4 1,14.4 1,-5.4 1,-11.1 1,3.1 1,2.8 1,15 1,12.4 1,-16.8 1,-7.4 1,-3.8 1,20.1 1,-15.4 1,-21.2 1,14.3 1,-0.1 1,0.3 1,5.5 1,1.6 1,-8.6 1,0 1,-2.8 1,-0.1 1,-2.4 1,12.8 1,-4 1,15.6 1,-21.3 1,8.7 1,26.9 1,-22.7 1,18.1 1,-2.9 1,-47.6 1,19.7 1,-2.9 1,-0.7 1,0.1 1,3.1 1,7.9 1,8.8 1,-8.9 1,1 1,-2.5 1,-13.6 1,4.4 1,-5.2 1,-12.9 1,17 1,8 1,-15.3 1,-1.6 1,-22.6 1,19.5 1,46 1,-27 1,8 1,0.3 1,-4.2 1,-5.9 1,3.3 1,-7.6 1,4.4 1,0.8 1,1.6 1,12.2 1,-6.5 1,2.2 1,10.7 1,-6.3 1,-6.9 1,-4.5 1,-3.2 1,3.8 1,5.7 1,-0.9 1,5.6 1,-12.6 1,7.3 1,-2.7 1,8.9 1,-16.8 1,6.8 1,2 1,-4.9 1,7.4 1,-4 1,-4.7 1,-1.5 1,3.8 1,-14.1 1,-0.1 1,9.3 1,-3.1 1,2.4 1,12.3 1,-11.4 1,2.3 1,10.8 1,-9.1 1,5.6 1,-12.3 1,4.7 1,7.3 1,-0.4 1,3.7 1,-0.2 1,11 1,-3.8 1,-5.7 1,-0.5 1,1.3 1,3.5 1,-5.1 1,-3.9 1,0 1,0.1 1,4.2 1,-2.1 1,-19.5 1,10.8 1,-4.8 1,-4.2 1,-3.4 1,3.1 1,6.5 1,-1 1,-0.6 1,8.5 1,3.3 1,6.4 1,-23.3 1,-4.9 1,0.3 1,-10.1 1,11.1 1,17.2 1,-11.1 1,11.1 1,-2.4 1,-1.8 1,1.7 1,-18.5 1,-4.7 1,6 1,-21.8 1,-4.4 1,8.4 1,12.1 1,10.4 1,0.8 1,1.6 1,11.8 1,-5.5 1,0.4 1,5.6 1,-0.7 1,-4.5 1,1.4 1,0.8 1,12.3 1,-9.8 1,1.4 1,-9.3 1,-7.4 1,39 1,-26.5 1,-7.6 1,13.1 1,30 1,-10.2 1,-20.2 1,3.8 1,1.1 1,2.8 1,-6.1 1,2 1,-3.9 1,1.7 1,9 1,-5.5 1,6.6 1,-18 1,-2.7 1,12.7 1,-5.3 1,6.9 1,123.9 1,-108.5 1,-62.5 1,-51 1,18.3 1,24.7 1,16.2 1,24.1 1,13.8 1,10.8 1,8.4 1,15.8 1,15.7 1,11.5 1,5.8 1,11.3 1,6.7 1,-3.8 1,-22 1,-8.4 1,-28.3 1,-8 1,-15.1 1,-8.3 1,-2 1,10 1,2.5 1,22.7 1,-15.2 1,7.5 1,7.7 1,6.6 1,0.1 1,1.3 1,-0.2 1,1.2 1,12.8 1,-14.4 1,3.6 1,2 1,-7.4 1,-14.3 1,8.8 1,-5.3 1,-3.4 1,-5.9 1,-3.9 1,-13 1,6.5 1,8.7 1,-1.8 1,-11.4 1,0.1 1,3.3 1,5.5 1,-0.1 1,-9.9 1,3.6 1,-6 1,14.5 1,11.6 1,-17.7 1,-10.6 1,14.5 1,-14.1 1,5.1 1,16 1,-7.3 1,-0.4 1,-11.3 1,0.9 1,3 1,9.7 1,1.3 1,-5.4 1,6.4 1,-15.1 1,0 1,-1.9 1,5.2 1,-3.7 1,11 1,-1.4 1,-8.6 1,-2 1,8.5 1,-11.7 1,7.8 1,-0.8 1,-19.2 1,5.9 1,-5.4 1,2.5 1,10.7 1,-8.5 1,6.1 1,3.7 1,13.5 1,-11.1 1,8.7 1,-7.4 1,3.3 1,7.2 1,-2.1 1,-16.5 1,12.2 1,11 1,8.4 1,-9.5 1,-0.8 1,-5.2 1,0.4 1,0.5 1,-3.4 1,-4.3 1,17.3 1,-14.1 1,-10.2 1,8.8 1,5 1,21.2 1,-20.5 1,-10.9 1,8.9 1,0 1,-7 1,6.6 1,29 1,70 1,-78 1,-29 1,-5 1,6.9 1,-3.8 1,14.8 1,-8.1 1,-10.6 1,2.8 1,8.7 1,5.7 1,-11.1 1,4.1 1,9.5 1,-5.1 1,12.5 1,-5.4 1,-10.8 1,1.1 1,-0.1 1,-10 1,10.1 1,-8.2 1,2.9 1,8.1 1,-10.6 1,3 1,-3.7 1,-0.2 1,1.3 1,3.5 1,5.4 1,-4.6 1,-3.6 1,-7.4 1,11 1,-8.3 1,-0.8 1,-1.7 1,8.5 1,-5.5 1,9 1,15.7 1,-12.3 1,-11.6 1,-3.9 1,11.8 1,-8.2 1,-9 1,5 1,-7.2 1,-3.2 1,15.5 1,-14.5 1,12 1,4.4 1,-9.6 1,7.1 1,-4.5 1,18.3 1,-8 1,-5.2 1,-10.4 1,24.8 1,7.1 1,-27.9 1,5.6 1,-3 1,5.7 1,-14.2 1,4.3 1,16.2 1,-25.9 1,12.2 1,8.7 1,-17.3 1,14 1,0.2 1,0 1,1.4 1,-1.2 1,-0.8 1,0.6 1,11.7 1,-4.2 1,0 1,6.5 1,2.8 1,13 1,38.2 1,-49.7 1,-12.4 1,-10.3 1,14.7 1,2.9 1,4.7 1,32.6 1,94.5 1,-105.3 1,-36.7 1,-4.7 1,21.1 1,32.6 1,98 1,-109.2 1,-37.8 1,2.5 1,-8.3 1,12.2 1,24.6 1,-18.8 1,-8.3 1,-2.9 1,5.7 1,2.6 1,-8.2 1,4.6 1,-12.3 1,-3.1 1,-13.4 1,18.7 1,-10.4 1,3.7 1,42.7 1,-32.9 1,-4.9 1,11 1,1.3 1,2 1,12.2 1,-15.6 1,8.4 1,-5.3 1,-3 1,-9 1,1.4 1,4.6 1,-3.6 1,-2.6 1,3.4 1,0 1,0.5 1,3.8 1,-1.3 1,-8.6 1,1.6 1,13.8 1,-11.4 1,0.6 1,0.5 1,0.8 1,1.7 1,-0.2 1,12.2 1,-11.4 1,-15.3 1,5.3 1,-3 1,6.2 1,10.3 1,2.7 1,-8 1,-1.7 1,0.5 1,-1 1,2.2 1,-0.2 1,-3.1 1,6.3 1,-0.3 1,1.7 1,1.4 1,10.2 1,-3 1,1.6 1,7.7 1,-0.6 1,-12.1 1,-15.2 1,13.1 1,-3 1,-8.3 1,12 1,4.8 1,-4.8 1,-4 1,8 1,-9.5 1,-12.3 1,-3.5 1,3.4 1,18.2 1,-5.6 1,3.3 1,-2.8 1,-13.6 1,10.4 1,0.5 1,-2 1,8.8 1,3 1,-18.5 1,12.9 1,-17.4 1,10.2 1,31.4 1,-20.4 1,4.2 1,-1.9 1,-6.8 1,4.3 1,12.1 1,12.3 1,-12.7 1,-7.3 1,4.6 1,-4.4 1,-14 1,-1.8 1,6.5 1,-17.6 1,-1.7 1,2.6 1,-6.9 1,11.5 1,-6.8 1,-1.1 1,12.2 1,1.8 1,4.2 1,-9.3 1,4.7 1,3.8 1,2.6 1,-2.6 1,5.8 1,-9 1,3.8 1,1.2 1,-4.5 1,13.1 1,4.4 1,10.5 1,-21.3 1,11.8 1,-10 1,-5 1,13 1,-0.2 1,-0.9 1,-14.4 1,5.9 1,9.1 1,-3.6 1,-5.3 1,-12.9 1,13.8 1,-3.8 1,-19.8 1,8.8 1,-11.5 1,0 1,20.8 1,13.9 1,-19.8 1,20.5 1,-17.1 1,8.7 1,0.4 1,-15.5 1,-5 1,5.7 1,-10.5 1,19.7 1,-11.7 1,-9.2 1,17.1 1,0.2 1,35.6 1,-25.7 1,-14.6 1,18.8 1,-14.8 1,2.4 1,5.7 1,-8.5 1,-1.2 1,12.9 1,-16.5 1,0.5 1,-11.3 1,0.9 1,25.1 1,-10.4 1,5.4 1,1.1 1,6.2 1,-4.5 1,-9 1,3.8 1,3.9 1,0.7 1,-18 1,15.5 1,-18.3 1,11.9 1,9.1 1,-7.4 1,6.4 1,2.4 1,-9.5 1,10.1 1,-9.3 1,-9.7 1,14.2 1,-12.4 1,4.8 1,7.5 1,2.9 1,-4.9 1,2.4 1,2.2 1,6.5 1,1.9 1,9.5 1,19.5 1,81.5 1,-90.9 1,-31.1 1,-4.6 1,3.1 1,2.6 1,-3.6 1,-6 1,0.4 1,8.1 1,-7.4 1,20.6 1,-18.8 1,4.6 1,-5.9 1,2.7 1,10.7 1,-2.5 1,-0.7 1,4.6 1,-0.9 1,-16.4 1,14.8 1,-1.4 1,-10.5 1,0.8 1,8.2 1,1.2 1,-1.5" fill="none" stroke="#000" stroke-width="1.0" stroke-linejoin="round"/>
<path d="M62,202.9l1,-11.4 1,5.5 1,-7.2 1,5.1 1,-1.2 1,-2.3 1,8.9 1,-1 1,1 1,-6.1 1,-0.4 1,-3.5 1,9 1,1.3 1,20.8 1,-20 1,-15.1 1,-3.5 1,0.7 1,3.9 1,-10.4 1,7.8 1,-1.8 1,-9.8 1,17.8 1,-2.8 1,12.2 1,-8.3 1,-3.9 1,17 1,20.4 1,9.6 1,-33.8 1,10.5 1,-11.6 1,2.5 1,-0.8 1,-6 1,10.1 1,-0.8 1,-10.1 1,8 1,-2.5 1,3.7 1,11.8 1,-13.8 1,-7.4 1,6.7 1,1.2 1,0.3 1,0.1 1,-8.7 1,5 1,-0.2 1,4.6 1,1.7 1,3.9 1,-2.5 1,-8.4 1,0.5 1,9.1 1,-3.8 1,-7.1 1,8.2 1,-3.5 1,-3.2 1,-5.1 1,4.9 1,5.1 1,-5 1,8.5 1,1.5 1,10.1 1,-3.8 1,-5.2 1,5.3 1,-1.6 1,3.8 1,-2.3 1,-15 1,1.3 1,4.6 1,-3.7 1,7.4 1,-8.3 1,-10.5 1,6.9 1,14.2 1,-11.8 1,-19.6 1,6.9 1,12.5 1,0.6 1,-4 1,8 1,-6.6 1,-5.7 1,-2.1 1,10.6 1,-9.4 1,2.4 1,1 1,8.1 1,-9.8 1,-7.6 1,9.6 1,2.8 1,2.2 1,-7.5 1,12.5 1,-3.3 1,-1.6 1,-3.3 1,3.1 1,-11.6 1,10.6 1,7.2 1,25.5 1,-28.6 1,1 1,21.9 1,-6.6 1,-12.9 1,-4.4 1,-13.7 1,-1.7 1,-2.1 1,7.6 1,0.1 1,-20.4 1,17.6 1,-13.3 1,-17 1,36.7 1,16.6 1,-10.5 1,1.3 1,7 1,-2.4 1,-14.3 1,-6.3 1,11.1 1,-19.3 1,-2.8 1,9.8 1,-8.4 1,25 1,9.9 1,14.7 1,-20 1,3.2 1,-8 1,-3.6 1,6.4 1,6 1,5.4 1,-15 1,-0.6 1,6 1,-0.4 1,-3.8 1,4 1,1.1 1,5 1,-3.2 1,-5.6 1,4.1 1,4.3 1,-12.2 1,3.4 1,-2.8 1,3.4 1,-0.1 1,1.1 1,-0.2 1,-6.4 1,21.6 1,41.6 1,-46.4 1,-4.9 1,-9.6 1,-8.9 1,6.7 1,-12.8 1,6.7 1,9.1 1,-8.7 1,0.3 1,3.3 1,-1 1,6.7 1,-13.7 1,-5.3 1,12.7 1,4 1,2.3 1,4.4 1,-13.3 1,13.7 1,8.1 1,-17.3 1,-7.1 1,-7.1 1,-3.6 1,22.1 1,27 1,-20.2 1,-4.1 1,4.2 1,-8.2 1,-1.6 1,5.7 1,8.7 1,-4.7 1,-13.7 1,11.8 1,-6.7 1,-3.9 1,10.7 1,4.5 1,-8.2 1,-6.6 1,11.6 1,-8.2 1,-1.4 1,6.3 1,-9.5 1,-0.9 1,-3.1 1,0.5 1,7.5 1,46.7 1,99.4 1,-110.8 1,-38.2 1,-5.9 1,1.4 1,6.8 1,-1.8 1,15.8 1,54.7 1,-77.2 1,-67 1,-13 1,28.9 1,15.5 1,18.1 1,19.3 1,6.7 1,18.9 1,10.1 1,17.7 1,5 1,5.1 1,12 1,10.3 1,17.2 1,-22.9 1,-11.1 1,-19.4 1,-16.2 1,-23.7 1,-16.9 1,-3.5 1,13.7 1,16.3 1,-1.5 1,2.4 1,-0.8 1,4 1,9 1,9.1 1,-17.4 1,11.9 1,4 1,3.4 1,-2.7 1,-1.4 1,9.8 1,-11.4 1,-10.1 1,8.6 1,-14.7 1,5.4 1,-2.8 1,-15.8 1,9.3 1,-21 1,0.7 1,7 1,2.2 1,14.8 1,-2.1 1,-6.3 1,-7.5 1,1.3 1,2.5 1,8.2 1,-3.7 1,-13.1 1,18 1,-3.6 1,-3.2 1,1.3 1,-13.9 1,10.6 1,4 1,0.4 1,-2.9 1,1.6 1,4.3 1,-1.7 1,-2.4 1,3.1 1,-8.8 1,5 1,-1 1,-2.3 1,-6.3 1,1.2 1,4.9 1,-12.4 1,-0.9 1,-6.5 1,11.6 1,1.9 1,-2.9 1,-0.2 1,-5.7 1,9 1,-4 1,15.8 1,-3 1,-8 1,-7.9 1,1.8 1,-17.5 1,2.7 1,19.7 1,-12.7 1,18.6 1,-5.3 1,-6.3 1,19.4 1,-13.6 1,-8.7 1,-1.1 1,-0.3 1,-9.3 1,27.1 1,-13.3 1,3 1,-3.4 1,1 1,16 1,-5.3 1,-10.6 1,4.1 1,7.4 1,20.7 1,-15.6 1,-9.7 1,19.6 1,1.4 1,-23.6 1,11.5 1,-0.5 1,2.3 1,-6.8 1,-0.3 1,10 1,8.6 1,7.8 1,-13.7 1,-5.2 1,-1 1,-10.8 1,-0.2 1,-3.2 1,22.8 1,4.6 1,-9.7 1,3.5 1,2.6 1,7.1 1,-12.1 1,-7.2 1,-14.6 1,5.1 1,-4.3 1,21.7 1,5.3 1,-19.4 1,-4.9 1,2.3 1,5.9 1,13.1 1,3.2 1,-8.2 1,20.2 1,-15.9 1,-4.7 1,-10 1,9.9 1,-5.9 1,0.8 1,4.3 1,-4.4 1,-3.5 1,4.2 1,-13 1,10.1 1,-5.9 1,14.2 1,-2.1 1,3.6 1,-1.9 1,-3.6 1,-2.3 1,-0.3 1,8 1,-12.5 1,-10.1 1,8.8 1,-13.2 1,11.2 1,-1.3 1,36.5 1,-20.8 1,-29.4 1,10.4 1,13.1 1,-0.2 1,-4.5 1,-0.4 1,-7.2 1,-5.1 1,-1 1,-3.5 1,9.9 1,-30.5 1,14.5 1,12.2 1,-7.6 1,19.9 1,-6.1 1,-9.1 1,3.6 1,5.5 1,11 1,-9.8 1,15.9 1,-10.1 1,-1.9 1,3 1,3 1,0.2 1,4.9 1,1.6 1,-5.8 1,3.6 1,4.3 1,-9.3 1,13.7 1,2.9 1,-22 1,-11.1 1,-7.1 1,5.2 1,10.8 1,2.3 1,-4.5 1,4.3 1,6.1 1,-12.3 1,6.1 1,0.5 1,8.2 1,-4.1 1,15 1,-9.2 1,2 1,-9.8 1,5.5 1,8.7 1,-13.6 1,8.7 1,-2.3 1,-3.2 1,-3.1 1,-10.6 1,15.9 1,-19.5 1,8.2 1,4.4 1,-1.2 1,29.6 1,-18.9 1,-5.2 1,3.3 1,23.7 1,-30.3 1,-4.5 1,-31.4 1,8.6 1,5.3 1,-29 1,40.7 1,35.7 1,-35.8 1,11.2 1,-18 1,-1.3 1,5.5 1,3.6 1,8.1 1,-5.4 1,1 1,3.2 1,4.2 1,-1.7 1,-5.3 1,8.1 1,3.7 1,0.4 1,-2.3 1,-1 1,-5.9 1,-7.3 1,-0.2 1,9.5 1,-2.1 1,-1.2 1,-4.8 1,-1.7 1,5.7 1,9.6 1,-11 1,19.1 1,-11.6 1,-1.7 1,-6.4 1,7.3 1,2.1 1,-3.4 1,4.1 1,-11.1 1,-4.8 1,6.1 1,3.7 1,-4.4 1,-7.2 1,10.4 1,-15.8 1,2.3 1,13.5 1,25.2 1,-25.8 1,-26.2 1,18.2 1,3 1,19.1 1,-27.1 1,-3.5 1,7.5 1,-9.5 1,2 1,12.5 1,8.9 1,1.8 1,-4.5 1,3.8 1,3.7 1,-9.8 1,5.5 1,-1.5 1,1.2 1,1.3 1,-6.9 1,2.5 1,4.7 1,-6.2 1,11.2 1,-14.2 1,-6.9 1,7 1,-12.7 1,0.4 1,-2.6 1,19.5 1,5.3 1,25.6 1,-30.2 1,4.7 1,4.5 1,-14.9 1,1.8 1,-0.5 1,-1.9 1,14.5 1,8.3 1,-18.8 1,3.8 1,-0.4 1,0.9 1,8.1 1,-4.9 1,-9.9 1,4.7 1,0.5 1,9 1,-7.3 1,-0.4 1,7.1 1,-7.3 1,0.8 1,-1.2 1,-8 1,2.7 1,-2.5 1,-2.5 1,11.9 1,-2.5 1,-9.6 1,9.9 1,7 1,-5.1 1,-15.4 1,15.5 1,-10.5 1,-10.1 1,13.9 1,2.3 1,-3.6 1,4.2 1,12 1,-11.5 1,-5.9 1,8.9 1,-10.6 1,11.6 1,-4.5 1,-12.6 1,11.6 1,-6.3 1,-0.9 1,2.8 1,-12 1,19.7 1,-8.3 1,2.2 1,0.5 1,6.5 1,-4.6 1,1.4 1,0.1 1,-3.5 1,-8.8 1,3.6 1,-6.8 1,8 1,-8.4 1,47.6 1,-26.3 1,-2.4 1,-3 1,-7.9 1,11 1,-1.9 1,0.4 1,3 1,-4 1,-4.5 1,10.2 1,-4.6 1,8.3 1,-4.1 1,-8.6 1,-4.1 1,2 1,-4.9 1,2.5 1,8.1 1,7 1,-5.9 1,-3.3 1,-0.1 1,5.6 1,6.7 1,0.8 1,-5.1 1,-6.9 1,0.9 1,2.2 1,7.2 1,-4.9 1,0.9 1,2.5 1,-0.9 1,1.9 1,-11 1,-13 1,7.1 1,3.4 1,5.2 1,-5 1,14.3 1,-8 1,-0.5 1,-10.7 1,10.3 1,-1.1 1,-2.4 1,12.7 1,-1.8 1,-6.3 1,10.7 1,-7.6 1,-1.5 1,0.7 1,5 1,1.7 1,-11.6" fill="none" stroke="#000" stroke-width="1.0" stroke-linejoin="round"/>
<path d="M62,193l1,3.3 1,-6.9 1,15 1,-3.9 1,3.5 1,2.9 1,-26.8 1,3.1 1,2.3 1,-0.7 1,21.4 1,16.3 1,-25.9 1,14.9 1,-5.1 1,5.7 1,-13 1,1.4 1,11 1,-3.7 1,-9.2 1,-1.6 1,4.3 1,19.2 1,38.5 1,-42.9 1,-19.1 1,12.9 1,-4.1 1,-6.9 1,1 1,2.4 1,-4.1 1,1.4 1,11 1,-5.7 1,-16.8 1,13.1 1,0 1,-13.4 1,13.8 1,-4 1,-1.3 1,8.8 1,-6.7 1,19 1,-9 1,-14.2 1,2.5 1,1.1 1,-3 1,-0.3 1,-0.1 1,-0.3 1,2.5 1,-4.3 1,14.4 1,-0.2 1,-8.1 1,1.9 1,-34.7 1,17.2 1,35.6 1,4.8 1,-37.8 1,15.7 1,41.6 1,90.3 1,-100.6 1,-35.4 1,15.3 1,1.5 1,-20.3 1,0.8 1,-22 1,6.9 1,21.2 1,1.5 1,11.5 1,-13.3 1,1.2 1,18.1 1,-28.1 1,-2.9 1,-0.2 1,-5.5 1,11 1,-3.4 1,-6.2 1,15.2 1,3.5 1,9.5 1,6.9 1,-13.4 1,-11.9 1,10.3 1,-17.7 1,11.9 1,-6.7 1,-0.3 1,1.6 1,-9 1,-1.2 1,15.2 1,2.4 1,7.1 1,-5.4 1,-3.6 1,1.7 1,-3.1 1,4.5 1,20.6 1,-11.1 1,-13.5 1,6.8 1,26.9 1,-14.2 1,-12.8 1,-8.2 1,6.6 1,5.5 1,-8.7 1,2.5 1,9.1 1,4.5 1,-14.2 1,7.2 1,-2.8 1,-8.9 1,5.2 1,-10.9 1,-14.2 1,1 1,23.9 1,-5.1 1,5.7 1,15.7 1,-13 1,-3.3 1,9.9 1,-20.9 1,18.2 1,0.7 1,-0.4 1,-9.4 1,2.2 1,18.3 1,37.5 1,-51.6 1,-8.6 1,12 1,-9.6 1,-9 1,-1.2 1,8.7 1,9.4 1,1.9 1,-12.1 1,12.8 1,0.2 1,-19.9 1,8.6 1,-8.1 1,11.3 1,7.5 1,-2.8 1,-5.2 1,9.5 1,-7.2 1,-1.9 1,5.5 1,0.9 1,-4.8 1,-14.3 1,11.5 1,-11.6 1,-2.1 1,9.2 1,11.3 1,6 1,-14.1 1,6.6 1,2.3 1,-7 1,-7.5 1,4.6 1,2.5 1,-3.5 1,6.1 1,3.4 1,-5.1 1,-14.4 1,-0.3 1,15.4 1,3.2 1,-8.8 1,8.2 1,-0.4 1,-11.4 1,-4.9 1,2.1 1,2 1,-1.8 1,35.8 1,-39 1,19.8 1,-2.6 1,-0.8 1,-1.9 1,-6.6 1,1.3 1,0.8 1,12.2 1,-14.5 1,-26.6 1,27.3 1,-19.5 1,17.2 1,1 1,2.9 1,6.5 1,-7 1,-5.6 1,2.9 1,1.7 1,-13 1,11.6 1,-4.9 1,2.4 1,-4.7 1,-1.8 1,6.4 1,5.2 1,-13 1,8.1 1,-4.3 1,-11.1 1,19.7 1,-8 1,108.8 1,-88 1,-66 1,-23.5 1,16.3 1,13.2 1,22.7 1,11.9 1,20 1,13.6 1,3.9 1,14.7 1,18.1 1,6.8 1,5.6 1,6.9 1,9.5 1,-13.1 1,-9.8 1,-13.8 1,-11.2 1,-23.9 1,-11.7 1,-20.7 1,7 1,10.2 1,-3.1 1,6.4 1,6 1,-2.4 1,17.2 1,7.1 1,2.5 1,5.1 1,0.1 1,-6 1,7.7 1,6.6 1,-4.3 1,5.1 1,-14.7 1,-18.7 1,-3.3 1,4.5 1,1.3 1,-13.1 1,4.3 1,0.4 1,-2.8 1,2 1,7.4 1,-9.3 1,9.7 1,-18.4 1,2.7 1,6.1 1,11 1,-15.6 1,4.3 1,-3 1,-10.1 1,5.8 1,11.7 1,-11.3 1,11.4 1,-20.5 1,14.2 1,2.6 1,-3.9 1,6.5 1,1 1,-3.4 1,-7.1 1,-1 1,4.1 1,1.9 1,-3.4 1,-4 1,-4 1,10.5 1,-0.9 1,2.6 1,0.6 1,-5.6 1,2.2 1,9 1,-6.8 1,-8.6 1,16.5 1,-11.7 1,5.5 1,-2.7 1,-4.8 1,-10.1 1,12.3 1,0.9 1,7.3 1,3.8 1,-12.1 1,4.3 1,-4 1,3.4 1,5 1,-4.4 1,-0.3 1,3.6 1,-0.5 1,14 1,-10.6 1,-6 1,2.8 1,-9.5 1,-1.1 1,-4.7 1,-15.9 1,20.3 1,-2.6 1,-2.6 1,6.7 1,-8.2 1,9.5 1,-5.9 1,11.6 1,-1.6 1,-1.3 1,1.7 1,5 1,-16.9 1,8.6 1,14.4 1,-20.6 1,11.7 1,-3.9 1,-9.8 1,15.1 1,-2.2 1,2.8 1,5.8 1,2.2 1,-1.4 1,-0.6 1,-8.7 1,2.6 1,8 1,-9.4 1,-2.1 1,2 1,-12.8 1,5.4 1,5.1 1,13.3 1,-7.3 1,-20.6 1,8.7 1,0.1 1,-0.6 1,5.5 1,-7.3 1,0 1,2.7 1,40 1,7.9 1,94.5 1,-105.3 1,-36.7 1,-2.6 1,1.9 1,0.1 1,-1 1,8.9 1,4.9 1,12.8 1,-9.8 1,-7 1,6.4 1,-13.9 1,-9.5 1,0.4 1,0.7 1,12.4 1,12 1,-11.3 1,-2.2 1,-7.2 1,3.5 1,16.7 1,-5.3 1,-10.3 1,-3.9 1,7.9 1,1.2 1,4.4 1,17.7 1,18.1 1,91 1,-101.4 1,-35.6 1,-3.9 1,15.9 1,-1.6 1,15 1,-5.4 1,6.1 1,24.9 1,-32.8 1,-17.8 1,-6.4 1,12.4 1,5.5 1,-1.8 1,-7.9 1,1.2 1,-3.5 1,-6.1 1,7.9 1,4.4 1,11.3 1,3.5 1,-17.2 1,13 1,-6.3 1,-7.5 1,-0.2 1,2.8 1,-3.2 1,9.3 1,-4.1 1,-0.4 1,9.8 1,-4.8 1,1.9 1,-24.6 1,-4.8 1,8.6 1,0.4 1,7.3 1,5.3 1,-4.9 1,-6 1,-8.3 1,21.2 1,-4.4 1,3.2 1,-5.3 1,4.4 1,1.5 1,12.1 1,-13.9 1,-18.9 1,12 1,-2.8 1,26.3 1,-14.7 1,-6.5 1,17.4 1,-5.8 1,-6.5 1,-1.5 1,-8.6 1,-6.3 1,11.9 1,-4 1,-10.1 1,23.4 1,-7.6 1,-5.8 1,8.8 1,3.6 1,6.3 1,8.8 1,-13 1,-8.3 1,-0.6 1,0.8 1,-3.5 1,-9.8 1,14.7 1,-11.2 1,14.2 1,-5 1,-3.3 1,-33.3 1,19.5 1,-32.1 1,62.6 1,-35.6 1,-10.2 1,19.8 1,5.7 1,-4.6 1,5.7 1,-1.8 1,0.8 1,4.1 1,-23.6 1,12.4 1,5.3 1,-11.9 1,9.9 1,0.5 1,1.6 1,-1.2 1,-8.7 1,-4 1,15.4 1,-27.6 1,22.9 1,-3.2 1,-3.6 1,23.5 1,6.3 1,0.1 1,-6.9 1,6.4 1,12.4 1,-15.5 1,-12.9 1,6.8 1,-10.1 1,11.1 1,0 1,6.9 1,-10.5 1,0.5 1,10.2 1,-1.1 1,-5.1 1,7.2 1,-7.5 1,-2.3 1,2.4 1,5 1,-12.7 1,17.5 1,-7.7 1,5.5 1,-9.7 1,-5.9 1,8.5 1,17.4 1,-14.4 1,-9.7 1,-4.8 1,10.6 1,14.3 1,-7.1 1,0.2 1,-12 1,1.8 1,14.7 1,-11.1 1,-6 1,-4.4 1,5 1,-1.7 1,-4.9 1,17.4 1,-12.5 1,-5.4 1,22.1 1,-19 1,8.1 1,-6.2 1,-0.4 1,10 1,1.4 1,-7.5 1,-7.9 1,4.2 1,8.1 1,-7.4 1,-18.1 1,13.7 1,-15.6 1,15.2 1,1.2 1,-14.4 1,15.4 1,12.8 1,-2.2 1,16.1 1,-14.7 1,5.8 1,-11.3 1,2.2 1,1.5 1,1 1,-1.9 1,4.5 1,-2.3 1,-11.7 1,7.4 1,5.3 1,-8.2 1,3.2 1,-0.7 1,-10.7 1,6.1 1,0.7 1,5.2 1,-4.7 1,6.9 1,-10.3 1,3.2 1,11.2 1,-15.5 1,1.1 1,6.3 1,-8.2 1,4.2 1,9.7 1,-11.1 1,4.1 1,-4 1,-11.3 1,11 1,-2.9 1,-16 1,22.1 1,26.9 1,-25.1 1,1.5 1,-7.2 1,4.6 1,-6 1,-0.2 1,8.5 1,-2.6 1,-11 1,10.9 1,17.7 1,-21.1 1,7.4 1,-28.7 1,19.8 1,20.9 1,-6.7 1,-0.1 1,-1.2 1,3.4 1,-15.6 1,6.5 1,-18.4 1,10.2 1,-8.6 1,1.1 1,7.9 1,-6.4 1,23.4 1,-2.3 1,-11.5 1,15.4 1,-2.5 1,-8.8 1,9.1 1,9.7 1,-9 1,-1.8 1,-13.5 1,8.6 1,10.4 1,-7.8 1,-14.2 1,11.8 1,5.6 1,-3.2 1,1.5 1,4.2 1,2.9 1,-16.9 1,5.8 1,-5.1 1,4.2 1,3.3 1,-1.3 1,-11 1,4.2 1,4.3 1,1.5 1,5.8 1,27 1,-12.5 1,-24 1,3.7" fill="none" stroke="#000" stroke-width="1.0" stroke-linejoin="round"/>
<path d="M62,204.5l1,10.7 1,1.1 1,4.9 1,-14.1 1,-11.3 1,1.1 1,20.3 1,32.8 1,-42.5 1,-2 1,2.8 1,2.2 1,3.4 1,1.9 1,-1.1 1,-2 1,-8.5 1,-2.1 1,8.4 1,-3.9 1,-5 1,0.1 1,-9.8 1,3.2 1,8.9 1,0.7 1,-7.9 1,-6.7 1,-1.6 1,7 1,-5.1 1,-2.2 1,5 1,5 1,0.1 1,1 1,-12.7 1,8.5 1,-5.5 1,-13.5 1,21 1,-13.8 1,19.4 1,3 1,-19.6 1,0.9 1,9.4 1,-9 1,9.7 1,-2.1 1,-12.7 1,23 1,-11.2 1,9 1,-0.9 1,2.2 1,2 1,-26.9 1,8.9 1,13.7 1,-9.4 1,-9.5 1,19.8 1,-7 1,-6.4 1,22.9 1,-4.6 1,18.8 1,-11.3 1,-11.5 1,-4 1,-2.6 1,16.4 1,-15.8 1,12.3 1,0.8 1,4.8 1,-1.3 1,-7.2 1,-2.9 1,-3.6 1,-0.4 1,16.5 1,-10.7 1,-14 1,6.7 1,-11.3 1,6 1,-17.5 1,25 1,-10.1 1,-3.4 1,12.1 1,1.2 1,4 1,-1.1 1,2.7 1,-0.6 1,6.9 1,-3.9 1,-1.9 1,-9.3 1,4.8 1,1.6 1,-1.1 1,3.6 1,-4.7 1,-0.3 1,14.9 1,-13.4 1,0.2 1,2.1 1,-8.3 1,-10.4 1,0.2 1,-15.8 1,23.1 1,0.8 1,-11.2 1,6 1,22.1 1,-3.2 1,-1.5 1,-4 1,6.2 1,3 1,-17.1 1,10.8 1,-1.9 1,-7.6 1,11.8 1,6.6 1,10.1 1,-4.4 1,-4.8 1,-10.4 1,-0.6 1,-8.5 1,10.3 1,0.8 1,-8.2 1,-1.9 1,21.1 1,-16.2 1,-1.9 1,-4.8 1,-5 1,4.7 1,1.3 1,-1.7 1,2.6 1,-4.5 1,1.6 1,-12.3 1,1.3 1,14.2 1,9.8 1,-4.5 1,1.1 1,-14 1,6.6 1,0.1 1,7.3 1,-0.3 1,24 1,-17.8 1,0.3 1,-15.4 1,6.2 1,8.2 1,3.1 1,1.4 1,0.3 1,-9.5 1,-5 1,16.3 1,-9.6 1,-3.5 1,2 1,1.5 1,14 1,26.2 1,99.4 1,-110.8 1,-38.2 1,2.3 1,13.2 1,-3.8 1,2.9 1,-4.4 1,-2.9 1,0.9 1,3.1 1,-3.3 1,9.9 1,-2.7 1,0.1 1,2.8 1,14.6 1,-0.3 1,-6.5 1,-16.5 1,-6.9 1,-1.5 1,4.2 1,4.1 1,-3.1 1,2.6 1,-10.4 1,16.9 1,14.8 1,-3.4 1,-13.3 1,1.9 1,-13.7 1,7.8 1,1.4 1,-7.7 1,4 1,-4.7 1,-2.2 1,9.8 1,-13.7 1,13.8 1,14.3 1,-20.9 1,8.3 1,-13.6 1,1.9 1,13.8 1,-6 1,3.7 1,0.2 1,-5.4 1,-0.1 1,-4.5 1,-6.2 1,9.6 1,-1.1 1,111.5 1,-102.5 1,-57.2 1,-37.8 1,10.3 1,20.4 1,23.7 1,12.1 1,9 1,19.5 1,12.8 1,14.8 1,11.9 1,5.3 1,10.7 1,11.3 1,10.9 1,-6.8 1,-13.4 1,-13.2 1,-9.2 1,-21.6 1,-8.4 1,-3.7 1,3.5 1,0 1,9.1 1,-7.5 1,4.7 1,-9.3 1,5.5 1,6.3 1,7.6 1,0.5 1,1.4 1,-12.7 1,14.3 1,-4.7 1,-0.7 1,13.3 1,-14 1,3.2 1,1.1 1,-13.4 1,20.5 1,-22 1,2.8 1,-3.5 1,-7.5 1,9.4 1,5.6 1,-7.5 1,10.9 1,-18.7 1,-1.3 1,3.9 1,-6.2 1,-3.4 1,-1.2 1,-4.1 1,12.9 1,1.8 1,-24.8 1,14.1 1,6.8 1,-17.7 1,13.8 1,-0.4 1,-8.7 1,-6.3 1,1.6 1,9.1 1,-2.2 1,14.6 1,-3.5 1,7.4 1,-0.4 1,5.8 1,22.7 1,-35.1 1,7.2 1,3.3 1,2.6 1,-11.5 1,2.9 1,-8.5 1,4.6 1,-1.3 1,1.1 1,5.8 1,4.2 1,-11.6 1,18.1 1,24.2 1,-55.3 1,6.6 1,19.4 1,9.7 1,-27.7 1,-20.3 1,5.9 1,4.2 1,4 1,-0.1 1,17.8 1,-11 1,-2.7 1,-10.9 1,7.4 1,-1 1,-10.9 1,11.8 1,5.8 1,6.1 1,-2.6 1,-7.2 1,7.4 1,7.3 1,-12.3 1,10.3 1,-10.2 1,19.8 1,-26 1,-7.2 1,-4.2 1,-5 1,21.3 1,-8.8 1,-1.9 1,-2.8 1,-4.1 1,21 1,-1.3 1,-1.4 1,-6.4 1,-3.5 1,43.7 1,-22 1,-26 1,19 1,-12.5 1,-2.7 1,-8.3 1,16.8 1,-3.2 1,-2 1,-1.3 1,5.6 1,6.9 1,-3.9 1,-2.6 1,-4.4 1,0.9 1,1 1,-0.4 1,8.6 1,5.6 1,-5.4 1,3.5 1,-0.6 1,-15.3 1,5.1 1,-10.1 1,2 1,5 1,8.2 1,-4.8 1,18.9 1,-16.6 1,0.2 1,-0.9 1,0.7 1,-17 1,20.5 1,-4.8 1,21.3 1,-12.1 1,0.5 1,-9.7 1,14 1,-2.8 1,-0.2 1,-16.9 1,12.4 1,0.6 1,-8.7 1,2.1 1,16.7 1,-11.8 1,10.7 1,-15 1,-0.8 1,-0.7 1,-19.1 1,39.3 1,-28.6 1,-5.1 1,0 1,2.8 1,9.4 1,7.2 1,-7.8 1,7.9 1,-5.7 1,10.2 1,0.9 1,5.5 1,-3.5 1,-1 1,-16.6 1,7.1 1,-2.6 1,-3.4 1,-2.1 1,5 1,3.6 1,1.8 1,20.7 1,-17.8 1,4.4 1,-12.2 1,5.7 1,17.9 1,-12.4 1,-8.3 1,1.2 1,13.1 1,-12.1 1,-4.1 1,2.9 1,6.6 1,-9.5 1,-6.2 1,-14.6 1,11 1,5.8 1,-0.5 1,1.1 1,6.9 1,-1.9 1,-7 1,13.3 1,0.4 1,1.5 1,5.3 1,-7.3 1,1.2 1,18.7 1,-3.5 1,-15.5 1,-9.9 1,3 1,15.9 1,-2.8 1,-6.8 1,-5.3 1,10.7 1,20.1 1,-15.4 1,-15.2 1,3.3 1,-10.4 1,-7.8 1,0.8 1,9.5 1,1.8 1,6.3 1,0.6 1,9.7 1,-27.8 1,8.4 1,5.1 1,-5.6 1,3.9 1,15 1,-10.6 1,-3.9 1,11.4 1,-4.8 1,10.1 1,-3.3 1,2.5 1,-6.6 1,13.8 1,-9.9 1,7.5 1,-15.3 1,-5.4 1,13.3 1,-3.2 1,10.1 1,-9.1 1,4.9 1,-5.5 1,-14.4 1,6.1 1,-1.3 1,-7.9 1,15.9 1,-12.4 1,13.1 1,-6.8 1,12.1 1,-14.3 1,3.7 1,6.5 1,6.3 1,-6.2 1,-16.8 1,17.5 1,2 1,-9.7 1,-2.5 1,-3.8 1,0.3 1,13.9 1,5.6 1,-7.7 1,-8.4 1,-3.7 1,8.5 1,0.9 1,-10.4 1,7.2 1,5.4 1,-9.6 1,1.1 1,9.4 1,-3.3 1,-2.4 1,-4.5 1,2.5 1,31.1 1,-44.6 1,14.2 1,-22.8 1,-3.7 1,28.1 1,2.9 1,-8.5 1,-3.4 1,1 1,18 1,9.1 1,-2 1,-6.6 1,-4.5 1,-8 1,2.5 1,14.4 1,-8.2 1,-12 1,13 1,2.6 1,-2.8 1,-7 1,-14.4 1,16.4 1,5.3 1,-8.1 1,-3.2 1,-6.8 1,-17.2 1,18.1 1,5.4 1,1.8 1,9.6 1,9.5 1,0 1,2.4 1,-7.8 1,-3.2 1,-3.3 1,5.1 1,-6.9 1,9.2 1,-5.1 1,8.6 1,-8 1,2.9 1,-0.3 1,1.7 1,-5.8 1,-2.2 1,9.4 1,2.4 1,-6.4 1,-13.7 1,5.4 1,8.5 1,1 1,-14.1 1,4.1 1,0 1,0.6 1,-21.2 1,8.8 1,5.2 1,-5.6 1,14.7 1,-1.2 1,6.5 1,-3.4 1,-2.9 1,-9.1 1,2.2 1,1.8 1,4.8 1,-1.4 1,-15.9 1,-1.2 1,-1.7 1,-10.1 1,24.1 1,-26.5 1,9.1 1,3 1,-13.2 1,10.2 1,16.9 1,0.2 1,-5.9 1,-0.1 1,14.9 1,-6.9 1,2.1 1,9.8 1,8 1,-3.9 1,-9.6 1,-9.1 1,-3 1,12.4 1,-8.7 1,-1.9 1,10.6 1,15.2 1,-11.6 1,6.9 1,-23.6 1,7.7 1,-3 1,2.3 1,0 1,-7.6 1,8.8 1,-6.3 1,0.6 1,-0.7 1,13.2 1,1.2 1,1 1,-10.7 1,1.6 1,9 1,-13.6 1,13 1,-14.7 1,2.3 1,9.4 1,-8.7 1,11.7 1,-9.4 1,4.3 1,10.1 1,-4.9 1,3.8 1,1.9 1,24.3 1,91 1,-101.4 1,-35.6 1,11 1,0.7 1,4.7 1,-9.8 1,-0.9 1,5.4 1,-0.7 1,0.6 1,9.2 1,2.4 1,-8.2 1,9.6" fill="none" stroke="#000" stroke-width="1.0" stroke-linejoin="round"/>
<path d="M62,201.8l1,1 1,10.1 1,-7.2 1,-4.7 1,6.5 1,-12.2 1,12.7 1,-1.2 1,3.2 1,-3.6 1,10.1 1,-5.2 1,-7.7 1,-8.1 1,4.9 1,-0.8 1,-14.1 1,17.8 1,2.7 1,0 1,-6.2 1,10.6 1,7.3 1,-11.5 1,0.7 1,-3.8 1,6.9 1,1.7 1,2.1 1,-2.4 1,-4.4 1,6.3 1,-6.4 1,-10.5 1,13.7 1,-13.3 1,10.2 1,-13.6 1,19.3 1,-11.9 1,-3.6 1,-1.8 1,-5.6 1,-6.6 1,10.3 1,19.6 1,-10.7 1,10.5 1,-8.5 1,-1.3 1,-0.4 1,-4.3 1,2.8 1,-14.9 1,15.4 1,6.9 1,-8.6 1,0.6 1,-9.3 1,34.2 1,7.6 1,-40.3 1,8.1 1,-27.6 1,2.7 1,28.6 1,-14.9 1,15.4 1,-8.5 1,3.6 1,-1.7 1,15.2 1,-1.1 1,8 1,11.3 1,-21.7 1,-1.8 1,5.1 1,-7.7 1,-1.2 1,-4.7 1,7.6 1,3.8 1,4.9 1,-12 1,-7.7 1,7.6 1,3.2 1,-0.6 1,-9.2 1,-6.7 1,5.8 1,17.5 1,-37.3 1,1.5 1,13.9 1,-21.6 1,31.5 1,-0.5 1,-9.8 1,22.7 1,-2.9 1,-10 1,0.7 1,0.9 1,8 1,3.2 1,-8.5 1,3.8 1,1.3 1,-5.5 1,-5.4 1,5.7 1,9.2 1,-5.9 1,-2 1,-13 1,9.5 1,-6.8 1,4.7 1,2.6 1,6.7 1,-14 1,0.4 1,6.9 1,6.9 1,-14.5 1,-0.1 1,12.7 1,0.5 1,-12.3 1,-6.4 1,-6.4 1,25.2 1,36 1,97.3 1,-108.4 1,-37.6 1,0.8 1,6.7 1,-4.9 1,5.9 1,-11 1,-2.9 1,14.7 1,-4.3 1,10.4 1,19.5 1,-25.9 1,-10.6 1,4.5 1,4.2 1,-15.4 1,18.5 1,-2 1,-11.4 1,2.8 1,6.4 1,-3.9 1,10.2 1,-9.7 1,5.1 1,-16.2 1,8.6 1,-8.9 1,18.6 1,-5.8 1,12 1,-8.5 1,4.1 1,-8.7 1,-1.6 1,7.4 1,7.1 1,-8.6 1,4.1 1,-2.2 1,5.4 1,-10.8 1,0 1,-4.5 1,9.3 1,11.6 1,3.4 1,-14.4 1,5.8 1,-18.6 1,-5.2 1,2.1 1,-22.8 1,26.7 1,-3.3 1,5.4 1,13.3 1,3.3 1,11.6 1,-3.3 1,-2.7 1,-0.1 1,0.3 1,-13.9 1,43.4 1,102.9 1,-114.7 1,-39.3 1,11.4 1,3.3 1,6.9 1,-3.7 1,-20.9 1,10.4 1,-4.1 1,12.7 1,-1.5 1,5.8 1,18.7 1,-22.8 1,-0.5 1,15.4 1,-34.3 1,8.7 1,1.4 1,2 1,3.9 1,-4.5 1,7.1 1,-8.5 1,-1.5 1,9.9 1,-4.3 1,8.6 1,-21.6 1,-15.6 1,22.1 1,5.7 1,14.3 1,-7.4 1,-9.9 1,-0.5 1,16.7 1,75.6 1,-114.9 1,-32.8 1,-24.3 1,13.4 1,20.7 1,19.4 1,15.4 1,7.1 1,15.1 1,14 1,8 1,11 1,10.5 1,12.2 1,7.2 1,4.9 1,-3.6 1,-16.6 1,-3.8 1,-26.4 1,-27.3 1,-5.2 1,-7.5 1,-6 1,13.6 1,19.6 1,42.3 1,-55.2 1,1.6 1,11.8 1,2.7 1,2.4 1,7.3 1,-0.3 1,-1.3 1,-1.3 1,3 1,0.4 1,4.6 1,-13.5 1,18.1 1,-14.6 1,-10.1 1,-4.8 1,5.3 1,-4 1,-10 1,-6.5 1,22.2 1,2.8 1,-10.6 1,7 1,-13.9 1,11 1,-10.7 1,-1.1 1,14.3 1,-8.1 1,-7.1 1,7.7 1,-21.2 1,17.9 1,-7.9 1,0.2 1,9.4 1,-13.1 1,13.6 1,-1.9 1,2.4 1,1.8 1,13.2 1,-15.1 1,0.6 1,2.6 1,-4.1 1,5.8 1,-14.8 1,-5.7 1,-1.9 1,-3.8 1,8.5 1,3.4 1,9.3 1,-1.9 1,-8.1 1,-2.2 1,-2.5 1,13.2 1,0.9 1,4.5 1,0.9 1,-9 1,9.3 1,-5.6 1,-10 1,2.9 1,3.7 1,-8.8 1,13 1,-1.9 1,1.3 1,-13 1,7.1 1,0.6 1,1.2 1,-7.4 1,-1.6 1,-8.4 1,10.2 1,4.5 1,-6.2 1,20.8 1,-15.9 1,1.4 1,5.8 1,3.2 1,-5.7 1,-7.9 1,-5.2 1,0.2 1,-14.8 1,9.9 1,1.1 1,1.7 1,0.5 1,8.6 1,5.9 1,10.1 1,-10.6 1,-1.8 1,-7.6 1,-1.4 1,9.2 1,-0.4 1,1.6 1,-8.4 1,21.4 1,9.3 1,-18.2 1,-16.2 1,3.1 1,9.1 1,-5.7 1,0.7 1,-3.8 1,3.9 1,19.4 1,-19.5 1,30.6 1,-30.7 1,-14.2 1,5.5 1,12.5 1,-14.2 1,9.6 1,6.9 1,7.1 1,3.6 1,7.2 1,-8 1,-11 1,-1.7 1,-5.9 1,2.1 1,29.9 1,-15.1 1,0.7 1,-9.5 1,8.9 1,3.2 1,-5 1,-10.3 1,-12.6 1,-6.4 1,5.7 1,-1.6 1,5.5 1,11.7 1,8.4 1,5.6 1,-27.4 1,1.5 1,9.1 1,11.1 1,-9.9 1,7.8 1,-20.9 1,19.1 1,-20.4 1,10 1,2.6 1,2.7 1,7.4 1,-5.5 1,3.2 1,-8 1,5.6 1,9.4 1,-6.4 1,-8.8 1,0.2 1,-4.7 1,-3.6 1,13.4 1,-4.5 1,-7.7 1,13.4 1,-16.4 1,4.2 1,8 1,-26.7 1,13.7 1,9 1,-8.9 1,10 1,9.2 1,-27 1,13.8 1,-10 1,7 1,3.7 1,-2.1 1,-3 1,-2 1,6.7 1,8.5 1,-8.6 1,5.4 1,-8.4 1,6.5 1,4.5 1,-0.8 1,-4.5 1,3.8 1,-6.7 1,6 1,2.3 1,-4.7 1,-1.4 1,9.2 1,33.8 1,88.9 1,-99.1 1,-34.9 1,10.9 1,-1.5 1,4.1 1,1.1 1,-8.7 1,1.7 1,-9.6 1,-4.4 1,15 1,3.9 1,-1.4 1,4.7 1,-8.2 1,1.7 1,3.2 1,-10 1,-2.6 1,-1.1 1,3.1 1,15.2 1,14.4 1,-17.1 1,-17 1,-9 1,10.6 1,9.3 1,-13.9 1,-0.9 1,16.3 1,-9.4 1,17.3 1,-7.6 1,-2.4 1,-3.5 1,1.7 1,-0.5 1,2.1 1,-6.3 1,0.3 1,9.3 1,3.1 1,4.4 1,3.1 1,-2.4 1,7.7 1,-13.3 1,3.9 1,12 1,-12.3 1,-11.4 1,8.7 1,-11 1,6.3 1,-2.6 1,-5.1 1,-4.1 1,6.4 1,11.7 1,-11.8 1,-6.3 1,-2.1 1,4.2 1,10.2 1,3.4 1,6.2 1,-1.7 1,-4 1,-11.3 1,-4.9 1,0.5 1,6.9 1,-13.6 1,-4.8 1,-1 1,24.7 1,0.3 1,-11.2 1,10.7 1,7.4 1,1 1,-7.4 1,-1.1 1,-3.7 1,7.2 1,-0.3 1,-6.8 1,-8.6 1,10.1 1,-5.2 1,-7.3 1,7.6 1,-1.4 1,-16 1,6.2 1,1.8 1,-7.9 1,11.8 1,-12.3 1,13.6 1,6 1,-5.9 1,5.9 1,2.3 1,-5.7 1,-9.2 1,3.8 1,11.9 1,-10 1,2 1,1.6 1,0.1 1,16.7 1,-26.8 1,0.3 1,2.8 1,3.4 1,-10.9 1,3.1 1,-0.5 1,-19.4 1,9 1,2.3 1,-45.3 1,37.8 1,-5.2 1,47.1 1,-20.6 1,-2.5 1,-3.7 1,25.3 1,-15.6 1,1.2 1,19.2 1,-9.3 1,-4.2 1,-0.4 1,3.4 1,2.4 1,0.6 1,-0.5 1,-1.6 1,4.3 1,-7.2 1,0.4 1,6.1 1,-4.4 1,-3.7 1,-4.8 1,21 1,-15.1 1,5.4 1,2.9 1,6.1 1,-13.6 1,2.9 1,5.7 1,-4.9 1,-3.4 1,-2 1,6.7 1,-2.5 1,6.9 1,-4 1,-28.5 1,13.8 1,-6.7 1,1.1 1,1 1,11 1,9.9 1,-10.9 1,13.1 1,-4.3 1,7.8 1,-11.6 1,0.6 1,15.6 1,-22.8 1,-1.9 1,26.5 1,-9.9 1,-6.2 1,0.2 1,-5.4 1,3 1,-7.8 1,13.3 1,-4.9 1,8.8 1,-3 1,-14.3 1,1.3 1,34.4 1,-30.9 1,-0.6 1,-3.5 1,-5.1 1,7.4 1,8.6 1,2.8 1,-18 1,-5.5 1,15.8 1,-5.6 1,6.9 1,-8.4 1,5.2 1,3.6 1,2.2 1,3.5 1,-7.1 1,1.9 1,-13.8 1,8.8 1,-3.4 1,4.2 1,1.3 1,-1.8 1,10.1 1,13.5 1,-20.2 1,-7.3 1,6 1,-25.6 1,12 1,0.9 1,-2.9 1,9.7 1,11 1,5.2 1,8.8 1,-0.2 1,-4 1,-8.5 1,7.2 1,-9.6 1,-9.6 1,2.8" fill="none" stroke="#000" stroke-width="1.0" stroke-linejoin="round"/>
<path d="M62,201.3l1,11.2 1,7.6 1,-24.8 1,-2.6 1,3.1 1,17.9 1,15.6 1,-15.1 1,-5.6 1,2 1,-10.1 1,-1.4 1,14.8 1,39.9 1,116.2 1,-129.5 1,-43.5 1,-2.5 1,11.1 1,3 1,0.9 1,-5.1 1,-0.6 1,8.9 1,-11.5 1,-4.9 1,-0.9 1,3.7 1,-0.9 1,19 1,27.8 1,-55 1,14.8 1,-8.9 1,1.4 1,9.2 1,6 1,-1.9 1,-9.7 1,5.2 1,1.4 1,-5.8 1,-3.2 1,8.3 1,-15.9 1,9 1,2.6 1,-1.7 1,5.6 1,17.8 1,-17.6 1,-1.3 1,-7 1,6.7 1,-1.3 1,9.3 1,-3.5 1,-1.4 1,1 1,12.7 1,-1.1 1,-4.9 1,2.9 1,-7.8 1,-11.4 1,-3.1 1,11.5 1,2.5 1,-5.3 1,-4.7 1,10 1,-5.3 1,-7 1,9.7 1,-0.7 1,-9.5 1,14.4 1,-9.1 1,-3.1 1,-2.8 1,9.9 1,38.8 1,97.3 1,-108.4 1,-37.6 1,7.9 1,8 1,-1.5 1,5.6 1,-7.7 1,-16.6 1,-1.2 1,4.1 1,10.8 1,7.7 1,18 1,-17.8 1,-9.9 1,0.9 1,-2.8 1,3.1 1,5.5 1,8.3 1,1.4 1,-9.7 1,-6.1 1,-2.2 1,-18.2 1,16.8 1,-1.3 1,-13.6 1,23.1 1,29.3 1,-13.3 1,-5.6 1,-28.5 1,22.1 1,-12 1,1.5 1,-4.8 1,10.4 1,13 1,-1.8 1,-8.7 1,8.3 1,-7.8 1,-0.9 1,-4.3 1,1.2 1,2.5 1,-4.1 1,10.9 1,-1 1,-10.3 1,-0.1 1,4.5 1,0.3 1,11.9 1,-11.7 1,2.6 1,0.3 1,-0.2 1,5.2 1,1.4 1,-6.8 1,-2.5 1,5.1 1,-1.4 1,-3.6 1,-8.7 1,9.3 1,-3.6 1,4.2 1,-22.5 1,-4 1,17.3 1,-13.5 1,12.4 1,4.6 1,-10 1,8 1,3.5 1,-24.9 1,11.4 1,-7.2 1,3.4 1,9.1 1,-10.2 1,11 1,8.5 1,-5.8 1,9.7 1,3.6 1,0.9 1,-2.4 1,-9.5 1,29.9 1,-38.2 1,-15.8 1,20.6 1,-18.9 1,10.1 1,8.6 1,4.3 1,9.1 1,-3.5 1,-9.5 1,7.8 1,-10.1 1,1.1 1,1.7 1,2.6 1,-25.5 1,17.5 1,1.5 1,-6.4 1,20.5 1,-12.2 1,-6.6 1,25.8 1,-26.8 1,-1.1 1,-11.3 1,-18.5 1,42.9 1,-0.1 1,13.5 1,-3.8 1,3.4 1,-7.4 1,-1.9 1,3.9 1,-3.3 1,11.5 1,-0.4 1,-5.3 1,-5.7 1,-12.9 1,2.1 1,21.9 1,-6.7 1,6 1,-18.6 1,-2 1,13.3 1,5.8 1,-14.7 1,-5.9 1,0.7 1,7.9 1,-12.5 1,20.8 1,-10.9 1,5.7 1,5 1,-4.2 1,-0.9 1,-2.9 1,14.6 1,1.9 1,59.5 1,-90.6 1,-61.1 1,-21.1 1,23 1,21.2 1,26.4 1,24.3 1,5.8 1,6.5 1,17.7 1,13.7 1,12.4 1,7.3 1,9.5 1,8.4 1,12.9 1,-18.6 1,-19.1 1,-9.3 1,-24.8 1,-17.1 1,-1.5 1,-10.3 1,3.4 1,1.8 1,20.4 1,4.2 1,-10.5 1,-1.7 1,19.3 1,12.6 1,-3.1 1,-6.6 1,-2.7 1,7.2 1,7.8 1,-2.3 1,-2.8 1,-11.5 1,-8.7 1,-6 1,-9.8 1,9 1,-4.4 1,10.1 1,-1.2 1,-6.3 1,20.8 1,21.1 1,-43.7 1,-1 1,-5.1 1,-0.9 1,2.5 1,-1.6 1,-1.1 1,0.7 1,-1.3 1,6.9 1,-7.8 1,-18.7 1,14 1,-7.6 1,-23 1,20.8 1,-18 1,4.7 1,25.9 1,-0.5 1,-2 1,9.2 1,-2.2 1,-2.9 1,0.3 1,3.9 1,0.3 1,-8.9 1,3.7 1,-1.4 1,-1.8 1,-0.5 1,9.3 1,-3.1 1,22.3 1,-0.4 1,-2.8 1,5.9 1,-17.7 1,-6 1,6.8 1,6.2 1,-11.3 1,-9.8 1,-13.2 1,19.7 1,-8.6 1,12.8 1,2.7 1,-2.8 1,-7.7 1,8.3 1,-16.5 1,2.2 1,-4.8 1,7.5 1,3.4 1,0.4 1,-2.2 1,8.5 1,-14.6 1,-2.2 1,11.2 1,9.9 1,-1.9 1,-10.7 1,-8 1,13.3 1,2.8 1,0 1,-9.3 1,-12.3 1,16.1 1,5.1 1,-25.1 1,21.4 1,-10.6 1,-6.3 1,13.5 1,-4.2 1,27.4 1,-12.2 1,-15.2 1,8.7 1,13.1 1,1.4 1,-13.2 1,1.4 1,-2.9 1,6.3 1,-15.9 1,-0.9 1,9.3 1,-12.4 1,0 1,-1.7 1,-6.3 1,7.7 1,-2.1 1,2.3 1,-5.8 1,16.6 1,-0.3 1,-2.9 1,-4.9 1,-1.1 1,-8.6 1,13.1 1,17.9 1,-41.8 1,11.6 1,15.9 1,-20.4 1,11.1 1,12.9 1,-0.3 1,-6.1 1,-0.2 1,1.6 1,3.3 1,-7.1 1,5.4 1,-4 1,10.2 1,-0.1 1,-4.4 1,-0.7 1,-1.3 1,8.2 1,0.1 1,0.7 1,-13.9 1,20.2 1,-10.2 1,-5.7 1,-7.1 1,13.9 1,7.6 1,-7.3 1,-3.6 1,-4.9 1,8.8 1,-2.9 1,-5 1,10.5 1,0.9 1,11 1,-17.6 1,-10.4 1,3.4 1,-10.4 1,4.3 1,15.1 1,-18.3 1,23.3 1,2.5 1,-12.9 1,3 1,-9.2 1,24.8 1,29.7 1,109.9 1,-122.5 1,-41.5 1,12 1,-3.6 1,9.2 1,-3.2 1,0.4 1,-4.5 1,6.3 1,-11.9 1,-1.7 1,14.5 1,1.7 1,-9.4 1,4.3 1,2.4 1,4.7 1,2.3 1,-1.9 1,-11.5 1,13.3 1,-18.9 1,7.3 1,-0.7 1,-1.3 1,12.4 1,-19.6 1,-2 1,10.3 1,-1.7 1,11.3 1,7.5 1,1.2 1,-9.6 1,6.2 1,1.9 1,-4.4 1,1.2 1,11.4 1,-8.3 1,-5.9 1,-1.3 1,-2.6 1,-5.7 1,0.1 1,2.6 1,23.4 1,-22.4 1,-12.1 1,0.1 1,-0.8 1,-3.4 1,-11.6 1,24.2 1,19 1,-13.2 1,-12.9 1,9.3 1,-1.5 1,-12 1,4 1,2.6 1,-8.3 1,8.4 1,-12.5 1,-3.1 1,15.1 1,-26.4 1,5.7 1,32 1,15.3 1,-39 1,3 1,2.1 1,36.1 1,-25.7 1,-12.5 1,-2.1 1,3.9 1,12.6 1,3.5 1,-1.2 1,-6 1,-5.3 1,-8.8 1,8.5 1,-15.9 1,-1.4 1,17.1 1,-22.9 1,11.6 1,13.9 1,-32.8 1,19.5 1,6.7 1,-15.3 1,22.6 1,7 1,1 1,-2.1 1,12.3 1,-3.3 1,-2.2 1,-2.3 1,5.1 1,-17.2 1,7.2 1,3.5 1,-0.3 1,-9.2 1,4.6 1,-19.9 1,10.5 1,2.4 1,-2.5 1,10.5 1,-5.8 1,7.3 1,1.6 1,-3.6 1,10.7 1,-2.3 1,-1.3 1,-8.1 1,9.8 1,-1.2 1,-12.1 1,1.4 1,10.3 1,1.5 1,0.2 1,12.8 1,-15.5 1,-28.2 1,15.6 1,7.7 1,-19.1 1,11.1 1,-5.5 1,-7.2 1,21 1,-11.7 1,5.7 1,-0.1 1,2.8 1,-6.2 1,-1.7 1,7.6 1,0.9 1,15.8 1,-11.1 1,-4.6 1,4.1 1,-5.3 1,-5.9 1,2.7 1,1 1,9.8 1,9.2 1,11.3 1,-36.2 1,-6.5 1,11.3 1,-11.7 1,13.2 1,-3.4 1,7.9 1,-3 1,-8.6 1,0.3 1,4 1,7.6 1,-6.5 1,-4.3 1,-0.9 1,6 1,31.5 1,-45.2 1,13.2 1,-11.4 1,15.2 1,18.2 1,-3.6 1,-9.3 1,-4.4 1,-10.6 1,9.4 1,13.4 1,-4.8 1,-2.6 1,-3.8 1,-8.3 1,19.6 1,-10.6 1,8.7 1,-7 1,-3.4 1,-6.3 1,4.1 1,1.7 1,-2.9 1,0.5 1,-0.4 1,-4.6 1,-0.4 1,21.3 1,-17.6 1,6.6 1,-10.7 1,-0.8 1,12.1 1,-10.9 1,10.7 1,8.5 1,-7.4 1,4.1 1,3.3 1,-18.3 1,4.5 1,1.9 1,9.5 1,2.6 1,14.3 1,-25.2 1,1.7 1,7.5 1,5 1,-11.1 1,3.5 1,-1.5 1,-6.2 1,-4.2 1,20.4 1,-3.3 1,-7.4 1,3.1 1,-7.4 1,12.6 1,-3 1,-10.7 1,42.7 1,104.3 1,-116.2 1,-39.8 1,10.2 1,2.6 1,7.8 1,-5.3 1,6.3 1,2.8 1,-8.2 1,-1.7 1,3.8 1,-1.6 1,-4 1,14.3 1,-2.1 1,-5.2 1,-12.5 1,-3.7 1,4.7 1,-4.5 1,-3.5 1,11.9 1,4.7 1,-6.7 1,1.2 1,7.4 1,1.1 1,6.1 1,-11" fill="none" stroke="#000" stroke-width="1.0" stroke-linejoin="round"/>
<path d="M62,215.1l1,-13.2 1,-4.8 1,20.2 1,-10 1,9.2 1,-10 1,-2.5 1,-8.3 1,16.8 1,-15.5 1,1.6 1,-24.6 1,-0.4 1,13.1 1,-22.6 1,18.2 1,10 1,-11.2 1,14.4 1,-5.5 1,-4.4 1,16.3 1,15.5 1,-2.8 1,-5.4 1,9.7 1,-3 1,3.6 1,4.3 1,-16.5 1,2.5 1,-1.1 1,9.1 1,-6.4 1,-0.6 1,-14.1 1,-0.5 1,2.7 1,-8.4 1,-4.6 1,31 1,-28.1 1,7.7 1,12 1,-8.8 1,7.2 1,-7.2 1,-4 1,3.7 1,11.5 1,-16 1,8.8 1,5.9 1,-2.3 1,6.5 1,-9.1 1,10.8 1,-1.1 1,-15.2 1,-0.4 1,1.2 1,6.9 1,2 1,5.1 1,3.9 1,1.1 1,-0.4 1,-8.3 1,-7.2 1,2 1,11.9 1,14.9 1,-23.6 1,-5 1,11.4 1,3.7 1,-8.8 1,4 1,2.7 1,-15.5 1,5 1,3.8 1,16.7 1,-10.5 1,-16.1 1,0.5 1,3.9 1,-1.9 1,4.9 1,4.8 1,23.4 1,-10.8 1,-12.3 1,-15 1,-5.1 1,-9 1,2.1 1,8.4 1,7 1,-17.6 1,19.3 1,6.5 1,-9.1 1,27 1,5.9 1,-11.2 1,-11.6 1,5.7 1,-16.8 1,14.8 1,-15.4 1,3.8 1,17.9 1,4.1 1,-21.9 1,-8.3 1,0.9 1,4.9 1,-0.4 1,11.3 1,-4.7 1,9.8 1,1.2 1,-25.7 1,12.9 1,12.1 1,-13.5 1,1.6 1,-2.7 1,-1.8 1,5.8 1,4.6 1,-5.2 1,-6.5 1,12.4 1,9.2 1,2.4 1,-16 1,5.6 1,20.5 1,13.6 1,98 1,-109.2 1,-37.8 1,13.7 1,3.4 1,3 1,-1.7 1,3.5 1,-0.3 1,-3.9 1,-9 1,8.9 1,1.7 1,1.8 1,0.8 1,-0.9 1,-8.2 1,-0.6 1,0.8 1,-2.2 1,0.4 1,-1.1 1,-0.6 1,6.4 1,19.3 1,0 1,-12.2 1,-3.7 1,-3.3 1,-2 1,3.8 1,-10.5 1,-13.2 1,23.3 1,-10 1,12.4 1,-0.4 1,-14.2 1,13.9 1,-12.7 1,-0.6 1,4.4 1,-6.7 1,13.1 1,4.3 1,-4 1,-4.9 1,-8 1,4.5 1,3.4 1,7.5 1,-3.5 1,4.9 1,-8.5 1,5.9 1,1.3 1,-6.7 1,4.2 1,6.7 1,-17.3 1,-5.7 1,1.9 1,1.3 1,-2 1,6.3 1,-4.3 1,16.1 1,-4.6 1,-2.5 1,-2.3 1,-3.1 1,3.5 1,-0.3 1,3.3 1,3.8 1,-8.5 1,-8.9 1,4 1,7.2 1,-11.8 1,11.5 1,1.8 1,-8.4 1,6.6 1,6.8 1,-4.2 1,2 1,1.1 1,4 1,1.3 1,-11.9 1,-1 1,1.1 1,-6.3 1,4.8 1,3.2 1,0.8 1,-12.5 1,11.3 1,33.2 1,-67.1 1,-58.7 1,7.9 1,21.5 1,14.8 1,21.1 1,21.4 1,17.1 1,12.3 1,6.7 1,7.4 1,15.1 1,7.9 1,3.7 1,13.5 1,0.1 1,-12.3 1,-10.1 1,-13.6 1,-23.8 1,-9.3 1,-11.7 1,-3.1 1,12.2 1,3.4 1,5.7 1,-0.1 1,2.4 1,-4.2 1,1.7 1,12.5 1,7.3 1,-9.5 1,7.7 1,5.3 1,-6.2 1,7.5 1,3.3 1,-0.8 1,-1.9 1,-14 1,-4.7 1,-11.1 1,0.6 1,-3.3 1,-2.1 1,1.7 1,5 1,2.3 1,-0.3 1,6.3 1,-17.7 1,1.7 1,0.8 1,-1.7 1,-1.3 1,-6.3 1,3.3 1,10.6 1,-6.9 1,-3.3 1,4.1 1,-4.5 1,-11.6 1,5.6 1,3.5 1,-7.9 1,-1.2 1,11 1,-0.8 1,-8.3 1,-9.8 1,6.3 1,-4.1 1,2.8 1,11.1 1,-10 1,-8.7 1,11.9 1,-17.6 1,42.2 1,-24.3 1,-9.1 1,5 1,11 1,-2.6 1,6.9 1,-3.5 1,0.2 1,-3.1 1,2 1,-6.7 1,6.3 1,4.1 1,-0.5 1,-8.6 1,8.9 1,7.1 1,-2.5 1,-7.2 1,2.4 1,-9.5 1,12.7 1,4.4 1,-7.4 1,2.3 1,-9.4 1,-1.8 1,5.1 1,-6 1,24.4 1,-12.3 1,4 1,-10.4 1,3.8 1,-0.6 1,-4.8 1,8.8 1,3.2 1,4.6 1,-3.5 1,-10.1 1,8.6 1,-0.1 1,10.1 1,-22.6 1,6.3 1,3.9 1,7.8 1,-11.2 1,10.9 1,-1.5 1,-15 1,22.3 1,-20.3 1,-0.2 1,1.1 1,8.3 1,1.1 1,5 1,-8.6 1,2.7 1,4.2 1,6.7 1,-18 1,6.4 1,20.9 1,-21.7 1,-4.9 1,5.3 1,-2.7 1,7.6 1,0.6 1,1.5 1,4.9 1,2.4 1,-16.3 1,7.3 1,-1 1,-5.5 1,2.9 1,-7 1,-5.2 1,12.2 1,20.4 1,-23.5 1,-2.2 1,-5.2 1,0 1,-7.8 1,2.3 1,7.5 1,-1 1,4.5 1,-3.5 1,-0.6 1,-7.6 1,17.9 1,-5.9 1,4.6 1,-9 1,-5.9 1,10.8 1,9.3 1,-11.1 1,1.2 1,1.3 1,1.4 1,-4.3 1,-15.7 1,10.3 1,1.4 1,-1 1,0.5 1,-15.9 1,15.2 1,-6.5 1,-12.2 1,3.6 1,8.2 1,12 1,4.5 1,-3.9 1,-1.8 1,-3.9 1,7.5 1,3 1,3.6 1,-0.7 1,0.3 1,-3.1 1,5.6 1,-9 1,13.2 1,-8.6 1,-2.9 1,3.3 1,-8 1,15 1,0.3 1,-6.1 1,-0.9 1,-2.8 1,-4.1 1,-6.8 1,14 1,20 1,-20.5 1,1.5 1,-9.6 1,-2.8 1,-4.2 1,-22.1 1,14.8 1,-11.8 1,-15.1 1,31.5 1,0.1 1,10 1,7.9 1,-3.9 1,4.1 1,-5.1 1,7.9 1,-1.2 1,3.3 1,-14.4 1,4.7 1,10.1 1,-4.4 1,-0.1 1,5.1 1,5.6 1,0.9 1,-7.7 1,-7.4 1,6.8 1,-8.4 1,-6.8 1,-0.2 1,4.5 1,-3.1 1,3.2 1,14.7 1,-15.1 1,-8.6 1,6.5 1,5.6 1,-2.1 1,7.4 1,7 1,-14.2 1,16 1,-17.8 1,7.8 1,-14.5 1,9.5 1,1.5 1,-8.1 1,-9.1 1,19 1,-8.6 1,-2.1 1,9.9 1,17.3 1,-18.7 1,-13.3 1,-4.6 1,-3.2 1,-6 1,2.8 1,11.3 1,-21.8 1,4.4 1,15 1,-20.2 1,22.3 1,-0.2 1,7.6 1,-10 1,1.5 1,-4.4 1,7.3 1,-21.6 1,15.6 1,8.7 1,6.2 1,-7.2 1,0.8 1,-4.7 1,0.1 1,-7.5 1,17 1,-5 1,-1.5 1,8.6 1,6.4 1,-7.4 1,-7 1,9.8 1,-13.6 1,9.9 1,8.4 1,0.6 1,-2.8 1,-3.1 1,-2.6 1,7.7 1,-13.4 1,-1.9 1,3.7 1,3 1,5.6 1,-3.3 1,0.9 1,-3.8 1,8.9 1,1.3 1,-15.5 1,11.8 1,-0.5 1,-2 1,4.3 1,-1.2 1,-1.9 1,0.8 1,-13.6 1,9.2 1,1.8 1,-7.1 1,1.1 1,7.5 1,-3.4 1,-4.6 1,3.4 1,-1 1,4.3 1,7.6 1,6.4 1,-8.8 1,-5.9 1,-13.1 1,13.1 1,-12 1,0.2 1,9.9 1,-12.5 1,11.9 1,1.6 1,-0.6 1,12.4 1,14.9 1,-22 1,-5 1,3.8 1,2.5 1,-10.8 1,-1.5 1,-0.8 1,-6 1,8.7 1,11.8 1,-11.5 1,-2.4 1,-1.3 1,1.5 1,-4.2 1,15.9 1,-12.7 1,6.3 1,9.2 1,5 1,-2.2 1,-21.2 1,-13.7 1,17.9 1,5 1,-1.7 1,2 1,-5.6 1,-3.4 1,0.2 1,5.3 1,5.2 1,10.4 1,-10.4 1,-12.7 1,11.7 1,-4.3 1,-2.4 1,14.3 1,-19.4 1,-3.8 1,19.1 1,0.2 1,32.3 1,98 1,-109.2 1,-37.8 1,11.7 1,5.2 1,3.7 1,8.7 1,0.1 1,-7.9 1,-10.9 1,5.9 1,-7.3 1,-9.4 1,-0.6 1,9.6 1,3 1,-1.6 1,10.1 1,5.7 1,28.7 1,111.3 1,-124 1,-42 1,14.3 1,9.4 1,-6.6 1,-0.4 1,4.3 1,-7 1,3.6 1,1.1 1,5.5 1,-20.2 1,23.9 1,7.5 1,-12.5 1,2.3 1,-2.9 1,-13.3 1,2.2 1,6.4 1,-4.7 1,0.4 1,0.9 1,33.9 1,95.9 1,-106.9 1,-37.1 1,-11.5 1,21.8 1,4 1,-1.1 1,3 1,-11.5 1,5.3 1,1.7 1,3.8 1,-9.3 1,13 1,-7.5 1,1.7 1,8.6 1,-4.1 1,-5.7 1,12.8 1,-7.2" fill="none" stroke="#000" stroke-width="1.0" stroke-linejoin="round"/>
<path d="M62,204.7l1,2.2 1,-5.6 1,-0.1 1,10 1,-13.9 1,-3.7 1,-0.7 1,15.2 1,-5.8 1,8.7 1,-1.8 1,4.3 1,0.7 1,0 1,-21.4 1,16.1 1,2.6 1,2.4 1,-13.3 1,11.1 1,5.1 1,-10.3 1,-1.6 1,-3 1,10.5 1,11.5 1,-13.8 1,-4.6 1,20.4 1,-11.6 1,2.5 1,-16.3 1,10.5 1,11.8 1,-5 1,-3.8 1,-13.5 1,-4.7 1,16.9 1,18.3 1,-17.3 1,30.8 1,94.5 1,-105.3 1,-36.7 1,10.4 1,0.6 1,3.8 1,-0.5 1,-2.3 1,-8 1,9.5 1,-9.5 1,8.1 1,11.6 1,-16.3 1,24.1 1,13.5 1,-26.8 1,-1.8 1,-0.9 1,3.3 1,-0.2 1,-10.2 1,-2.4 1,6 1,0 1,7.1 1,-4.9 1,-6.4 1,7.6 1,2.6 1,40 1,-55 1,-4.1 1,8 1,-5.8 1,-6.5 1,0.2 1,14.6 1,2.6 1,-4.6 1,6.1 1,3.8 1,-2.8 1,-3 1,-18.4 1,19.9 1,-11.2 1,7.1 1,3.8 1,-15.2 1,0 1,16 1,0.2 1,-9.2 1,12.6 1,-0.9 1,-14 1,5.7 1,0.3 1,-2.1 1,-9.7 1,7.9 1,4.9 1,6.8 1,-16.2 1,14.4 1,4 1,13 1,-1.6 1,6.8 1,68.6 1,-76.4 1,-28.6 1,3.3 1,5 1,10.3 1,2.4 1,-16.6 1,12.2 1,5.9 1,-10.9 1,-8.4 1,1.3 1,5.3 1,-14.5 1,-2.8 1,8 1,5.9 1,12 1,7.2 1,-12.8 1,3.3 1,1.1 1,6.4 1,-6.6 1,-14.8 1,12.9 1,2.9 1,-0.8 1,-1.7 1,-1.7 1,-4.2 1,1.5 1,4.1 1,-9.8 1,-0.4 1,-4.5 1,3.2 1,4.3 1,-2.4 1,8.7 1,-11.6 1,2.1 1,5.2 1,22.4 1,-19.7 1,15.9 1,-7.9 1,-5.8 1,1.6 1,12.8 1,-8.7 1,-8.4 1,-12.8 1,6.2 1,-24.2 1,20.1 1,32.7 1,-10 1,-11.7 1,-3.3 1,13 1,-5.9 1,-2.6 1,0.5 1,12.7 1,-3.8 1,-12.6 1,0.9 1,2.6 1,2 1,-8.4 1,7.1 1,-4.3 1,-2.5 1,3.2 1,5.9 1,3.7 1,-2.7 1,3 1,-17.8 1,2.3 1,0.9 1,11 1,-7.6 1,3.7 1,-3.8 1,5.7 1,0.2 1,6.9 1,-4 1,-15.9 1,6.7 1,-2.8 1,-2 1,19.7 1,-11.2 1,-2.9 1,-1.2 1,-20.2 1,7.4 1,9.2 1,14.8 1,34.9 1,-55.8 1,5 1,8 1,-13.7 1,10.9 1,-2.3 1,11.3 1,-2.5 1,-3.5 1,-3.2 1,5.8 1,-7 1,3 1,8 1,23.9 1,83.8 1,-93.4 1,-32.2 1,24.1 1,-4.6 1,-8 1,7.6 1,3.9 1,3.5 1,64 1,-85.2 1,-62.5 1,-16.9 1,13.5 1,14.5 1,25.9 1,19.6 1,20.7 1,4.5 1,15.6 1,7.8 1,9.9 1,7.5 1,9.7 1,10.5 1,8.6 1,-13.2 1,-17.6 1,-16.6 1,-17.9 1,-24.9 1,0.5 1,-4.4 1,9.1 1,3.2 1,8.7 1,0 1,0.6 1,3.8 1,8.2 1,-15.6 1,17.5 1,-1.5 1,13.2 1,22.6 1,-19.7 1,-4.1 1,7.2 1,-1.8 1,-3.9 1,-11.7 1,3.3 1,-15.4 1,3.5 1,-20 1,3.8 1,3.8 1,12.9 1,-5 1,0.8 1,-7.1 1,-4.9 1,-7.2 1,10.5 1,-5.4 1,-1.4 1,9.6 1,5.1 1,-20 1,7.1 1,-27.7 1,6.4 1,-4.4 1,2.3 1,22 1,-10 1,9.4 1,-0.1 1,-12.2 1,16.1 1,4.7 1,-0.5 1,-4.9 1,-8.4 1,11.6 1,-0.9 1,1.9 1,-8.5 1,0.8 1,6.8 1,-1.9 1,-2.7 1,1.3 1,-0.4 1,14 1,-13.1 1,1.7 1,-12 1,13.7 1,14.3 1,-7.3 1,-15.4 1,0.8 1,7.9 1,-12.8 1,12.7 1,-3 1,-8.4 1,3.9 1,-10.1 1,7.5 1,6.8 1,-3.3 1,-0.6 1,2.7 1,21.9 1,-44.2 1,5.1 1,9.1 1,-25 1,15.8 1,3.7 1,-4.8 1,13.1 1,10.3 1,-0.9 1,1.5 1,3.8 1,-0.5 1,-3.6 1,9.1 1,34.9 1,-49.3 1,3.9 1,19.9 1,-7.7 1,-16.5 1,-7.4 1,9.5 1,2.6 1,-2.9 1,11 1,6.5 1,-6.8 1,-3.1 1,-9.9 1,-8.7 1,2.9 1,-4.4 1,-20.2 1,16.8 1,11.8 1,5.8 1,-2.2 1,4.3 1,-9.3 1,-3.3 1,5.7 1,6.1 1,-7.5 1,2.9 1,3 1,-0.2 1,-5.7 1,3.8 1,16 1,-20.4 1,5.9 1,4.3 1,-3.5 1,0.4 1,-14.3 1,10.9 1,-8.7 1,-13.6 1,8.8 1,-20.7 1,2.9 1,6 1,-0.9 1,16.7 1,-2.2 1,-4.9 1,6.7 1,-10 1,20.1 1,-2.1 1,22.2 1,-9.2 1,-8.3 1,-13.6 1,-4.3 1,11.9 1,-4.1 1,7.1 1,-7.4 1,-13.5 1,13.4 1,-6.2 1,5.9 1,16.2 1,-7.6 1,9.5 1,-17.3 1,14.2 1,-7.1 1,10.5 1,5.1 1,-4.6 1,-1.1 1,3 1,-2 1,-14.3 1,9.5 1,-3.1 1,2.5 1,-8.7 1,10.2 1,-3.1 1,-0.8 1,-8.5 1,10.9 1,1.8 1,3.2 1,-1.2 1,-15.2 1,6.1 1,5.4 1,0.1 1,9.2 1,-6.8 1,-12.5 1,-0.6 1,7.7 1,-21.9 1,16.4 1,-0.5 1,-7.3 1,-0.9 1,-10.4 1,21.6 1,4.4 1,-15.6 1,15.7 1,1.7 1,-1.1 1,4.8 1,5.6 1,-9 1,10.5 1,1.1 1,-6 1,-2.8 1,-1.6 1,-1.1 1,1.5 1,1.7 1,0.2 1,13.6 1,-14 1,-4.8 1,3 1,-7.1 1,3.2 1,-1.7 1,-4.5 1,12 1,-12.6 1,2.9 1,4.7 1,1.7 1,16.9 1,21.6 1,114.8 1,-127.9 1,-43.1 1,5.1 1,-6.4 1,8.3 1,6 1,-4.1 1,9.5 1,-11.2 1,8.1 1,1.7 1,-6.1 1,-5.1 1,12.9 1,5.2 1,-3.4 1,-2.9 1,0.9 1,-0.7 1,-14.6 1,-4 1,12.9 1,2.9 1,4.8 1,-19.9 1,1.1 1,11.1 1,-7 1,3.9 1,11.9 1,11.8 1,-1.4 1,27.7 1,-39 1,9.6 1,-5.9 1,-10.9 1,-10.7 1,-0.7 1,11.9 1,13.6 1,-6.2 1,2 1,-9.6 1,0.2 1,-1.1 1,1.8 1,8.6 1,-1.9 1,-18.4 1,16.2 1,13.2 1,-11.2 1,-5.5 1,2.3 1,-5.9 1,9.3 1,-1.9 1,8.5 1,0.5 1,-6.7 1,0.3 1,10 1,15.2 1,92.4 1,-103 1,-36 1,-5.2 1,17 1,6.1 1,0.2 1,4.4 1,-10.1 1,4.6 1,-13.9 1,3.8 1,3.2 1,2.7 1,-5.4 1,6 1,-2.7 1,4 1,-2.8 1,7 1,-18.1 1,0.1 1,4.2 1,8.8 1,4 1,-0.7 1,-1.9 1,7 1,-10.2 1,-4.6 1,10.9 1,-21.3 1,1.1 1,17.4 1,-8.5 1,0.9 1,5.3 1,2.6 1,-7.8 1,-5.6 1,-1.7 1,-4.2 1,13.2 1,7 1,15.6 1,-30.1 1,7.8 1,5.2 1,-12.4 1,14.6 1,-22.5 1,0.1 1,4.9 1,-1.5 1,-5.2 1,10.1 1,2.8 1,-4.8 1,17.3 1,-8.5 1,-6 1,1.9 1,7 1,-13.5 1,-0.2 1,-14.9 1,19 1,4.3 1,-4.8 1,7.5 1,6.6 1,-8.2 1,-6.8 1,1.9 1,2.1 1,0.2 1,10.8 1,-16.1 1,-2.8 1,2.1 1,-4.5 1,0.9 1,2.7 1,-4 1,-10.4 1,8.3 1,14.5 1,-11.6 1,17.5 1,13.7 1,-13 1,4 1,16.5 1,26.1 1,-44.6 1,-0.8 1,-2.4 1,1.3 1,13.5 1,-5.7 1,6.1 1,2.4 1,-14 1,4.7 1,0.4 1,-18.2 1,2.4 1,-8.9 1,2.9 1,1.7 1,9.6 1,1.9 1,3.1 1,5.7 1,-11.1 1,-9.5 1,-6.5 1,-6 1,4.5 1,-1.6 1,2.9 1,10.5 1,5.3 1,-8 1,-1.6 1,-5.9 1,38.6 1,-28.9 1,-9 1,10.5 1,11 1,-6.9 1,4.8 1,-1.2 1,11.2 1,-7 1,2.8 1,5.8 1,-9.4 1,-9.8 1,1.1 1,5.7 1,4.9 1,-0.8 1,-5.9 1,-7.6 1,10.2 1,-2 1,-2.8 1,5.8 1,-10.6 1,5.5 1,-5.5 1,-2.4" fill="none" stroke="#000" stroke-width="1.0" stroke-linejoin="round"/>
<path d="M62,220l1,4.4 1,47.6 1,-53 1,-22 1,10 1,2.8 1,4.4 1,1.8 1,-2.1 1,-15.6 1,22 1,-15.3 1,-14.9 1,20.7 1,-16.1 1,-1.1 1,14.3 1,23.6 1,-21.6 1,-14.3 1,8.3 1,15.7 1,-10.6 1,-0.6 1,6.4 1,-25.5 1,2.6 1,15.7 1,4.8 1,-10.4 1,-0.4 1,-1.9 1,16 1,-4.4 1,18.1 1,8.6 1,-18 1,-3.5 1,-3.8 1,-11.8 1,28.1 1,-13.9 1,-4.4 1,2.7 1,0.4 1,15.7 1,9.2 1,-12.2 1,-17.5 1,-12.7 1,17.9 1,14.9 1,-12.4 1,-11.5 1,2.5 1,7.5 1,-10.4 1,12.7 1,2.8 1,9.1 1,2.8 1,-3.5 1,-13.8 1,-8.7 1,-1 1,3.7 1,6.4 1,4.7 1,-1.8 1,-0.2 1,-12.6 1,-1.4 1,0.5 1,14.7 1,14.3 1,-18.1 1,7.7 1,-1 1,-2.6 1,-12.8 1,-9.1 1,19.4 1,1.5 1,-10.2 1,5.6 1,2.5 1,-1.8 1,0 1,13.7 1,-13.5 1,9.3 1,3.3 1,-6.8 1,-10 1,11.3 1,-5.4 1,-10.3 1,-0.3 1,1.5 1,9.6 1,3.6 1,-2.9 1,10.7 1,-10.8 1,14.7 1,-5.7 1,-7.6 1,-13.1 1,6.4 1,-3.4 1,-0.2 1,17.6 1,-23.1 1,17.4 1,-11 1,7.7 1,4.8 1,-2.9 1,-3.2 1,-10.2 1,6 1,17.6 1,13.6 1,91 1,-101.4 1,-35.6 1,16.8 1,-0.5 1,-3.9 1,-1 1,10.5 1,-0.7 1,5.7 1,-21.9 1,8.8 1,-16.5 1,17.1 1,-6 1,-4 1,1.7 1,6.5 1,2.9 1,-4.7 1,6.4 1,14.9 1,-12.2 1,13.8 1,-12 1,-13.7 1,-1.1 1,7.1 1,2.7 1,6.6 1,-10.8 1,-0.3 1,5 1,-0.9 1,3.7 1,-6 1,3.3 1,9.4 1,9.9 1,-8 1,0.8 1,-3.9 1,-1.6 1,5.9 1,23.2 1,-22.6 1,-13.6 1,2.4 1,-9.3 1,-3.3 1,15.9 1,4.1 1,5.7 1,-4.5 1,6.2 1,-10.7 1,-3 1,5.5 1,-7.1 1,-5.6 1,4 1,1.8 1,-2.4 1,1.9 1,8.7 1,-15.8 1,8.2 1,-8.8 1,-2.5 1,0 1,13.7 1,1.1 1,-2.7 1,-2.4 1,-3.8 1,13.6 1,-11.1 1,3.1 1,0.3 1,-2.5 1,8.2 1,-10.7 1,7.8 1,-0.8 1,-3 1,11.7 1,-2.1 1,-4.2 1,-5.8 1,-1.5 1,-6.6 1,16 1,-10.7 1,-1.3 1,-3.9 1,12.9 1,-3.4 1,-4.2 1,2.9 1,-7.7 1,2.7 1,-4.5 1,11.6 1,-4.6 1,-4.3 1,-8.1 1,-2.2 1,9.8 1,4.6 1,-7.6 1,-0.2 1,12.6 1,-4.8 1,-8.4 1,6.2 1,-12.4 1,99.7 1,-75.4 1,-60.1 1,-51 1,13.7 1,23.9 1,19.2 1,13.8 1,16 1,18.6 1,8.1 1,18.6 1,11.5 1,7 1,10 1,10 1,10.3 1,-5.9 1,-16.3 1,-9.3 1,-14.6 1,-17.5 1,-12.2 1,-10.8 1,4.5 1,7.5 1,-6 1,-1.9 1,5.8 1,-0.8 1,8.5 1,-4.9 1,8.7 1,5.8 1,-1.9 1,4.6 1,3.8 1,10.5 1,-0.6 1,9.1 1,-9.8 1,-13.4 1,0.1 1,4.2 1,-21.5 1,7.1 1,-5.3 1,-6.7 1,-4 1,12.6 1,6 1,2.1 1,-7.4 1,-9.4 1,-13.5 1,1.5 1,15.6 1,1.6 1,5.9 1,-9.6 1,4.5 1,-10.7 1,-19 1,13.9 1,-1.3 1,-1.1 1,8.1 1,-9.2 1,-4.9 1,23.1 1,-16.7 1,18 1,5.6 1,-2.9 1,-5.7 1,-2.1 1,13.8 1,-6.4 1,4.6 1,-9.5 1,-4.8 1,-8.3 1,7.6 1,6.6 1,6.7 1,-1.6 1,-11.3 1,-13.3 1,-1.5 1,2.5 1,12.2 1,22.3 1,-29.7 1,-13.8 1,11 1,-7.2 1,9.9 1,11.1 1,-5.1 1,-4.8 1,18 1,-10.3 1,-5.5 1,-2 1,11.7 1,1.7 1,2.7 1,4.2 1,-3.7 1,-5.9 1,-12.2 1,8.1 1,-2.5 1,9.2 1,-2.2 1,-9.2 1,-2 1,20.2 1,-7.4 1,-2 1,7.3 1,-12.6 1,-7.9 1,3.8 1,-17.7 1,-30.3 1,29 1,-15.5 1,-10.8 1,28.1 1,-16 1,22.7 1,14.3 1,-19.8 1,17.6 1,-8.7 1,8.4 1,0.5 1,9.4 1,6.1 1,-3.6 1,-8.8 1,2.8 1,6.4 1,-5.1 1,3.5 1,-1.2 1,-8 1,19.6 1,16.1 1,97.3 1,-108.4 1,-37.6 1,26.8 1,-3.2 1,-8.3 1,5.5 1,10.3 1,0.3 1,-10.5 1,-6.4 1,10.7 1,-1.6 1,8.6 1,-2 1,-4.3 1,-11.3 1,-8 1,-0.4 1,3.3 1,3.2 1,0.9 1,2.8 1,-3.5 1,-1.1 1,11.4 1,-9.6 1,-1 1,1.5 1,11 1,2.3 1,-8.9 1,15.9 1,-14.3 1,1.6 1,9.1 1,-9.3 1,-6.9 1,14.9 1,11.3 1,-6.2 1,-6.4 1,-9.3 1,-1.8 1,-0.5 1,-10.9 1,6 1,-7.1 1,16 1,-5.9 1,0.6 1,-7.7 1,2.6 1,-4.4 1,5.5 1,-1.1 1,5.6 1,-5.2 1,0.9 1,-12.1 1,2.6 1,-1.6 1,1.3 1,-4.8 1,-11.4 1,21 1,6 1,-12.7 1,-11.4 1,7 1,-3.3 1,9.2 1,7.4 1,5.5 1,9.3 1,-3.2 1,-11.5 1,20.2 1,-15 1,4.3 1,1.3 1,3.5 1,-2.1 1,-5.7 1,-7 1,-4.4 1,4 1,-24 1,28 1,-25 1,-10.6 1,22.3 1,-29.6 1,9.4 1,18.6 1,-12.5 1,9.9 1,14.5 1,6.6 1,-4.1 1,-2.2 1,3.7 1,1.3 1,4.1 1,0.3 1,-6.1 1,-4.7 1,-4.5 1,4.6 1,-9 1,18.4 1,0.5 1,-1.5 1,1.2 1,-7.7 1,15.7 1,-9 1,2 1,0.8 1,14.3 1,-5.6 1,-8.5 1,6.6 1,4.1 1,-20.6 1,-0.7 1,3.7 1,2.3 1,0.8 1,4.4 1,-3.4 1,2.2 1,-10 1,9.2 1,-10.8 1,8.2 1,1.9 1,6.3 1,-1 1,18.3 1,-17.5 1,38.5 1,-42.9 1,-19.1 1,9.5 1,-6.2 1,4.1 1,12.7 1,-5.1 1,-7.9 1,15.2 1,-1.1 1,1.7 1,2.5 1,-11.8 1,-3.4 1,11.3 1,0.1 1,-9 1,12.9 1,-19.1 1,0.2 1,-1.5 1,-1.7 1,9.3 1,-3.8 1,3.4 1,-4.7 1,10.5 1,-1.9 1,-2.7 1,-2.9 1,-1.8 1,8.1 1,-3.1 1,4.5 1,-0.7 1,-20.4 1,1.1 1,-9.2 1,-16.9 1,31 1,-5.5 1,16.1 1,8.6 1,0.8 1,1.4 1,-2.2 1,2.7 1,-10.1 1,-1.5 1,-3.1 1,4.1 1,-4.5 1,7.8 1,3.6 1,-0.9 1,11.3 1,-17.6 1,3.8 1,-2.7 1,14.7 1,-13.9 1,5.5 1,2 1,-4.8 1,-0.4 1,8.9 1,25.7 1,-24.8 1,-12.8 1,9 1,-3 1,-6.2 1,1.4 1,3 1,-4.6 1,-8.5 1,6.1 1,8 1,19.8 1,-11.7 1,-9.4 1,-8.1 1,10.2 1,8.8 1,-11.3 1,-6.4 1,8.3 1,-17.6 1,7.5 1,-0.7 1,-7.3 1,-0.5 1,-4.1 1,8 1,10.8 1,3.3 1,-7.2 1,15.7 1,-6.6 1,-0.6 1,5.2 1,-17.3 1,2 1,-1.4 1,29 1,-7.5 1,17.5 1,-29.7 1,9.6 1,-18.5 1,6.5 1,6.4 1,-16.6 1,12.7 1,-5.9 1,9.9 1,2.5 1,-6.1 1,-5.4 1,-12.1 1,10.6 1,13.2 1,-7.7 1,-7 1,-2.9 1,-5.4 1,-5 1,8.9 1,1.8 1,-0.5 1,-4.6 1,-7.3 1,3.6 1,-40.6 1,10.8 1,32.1 1,-20 1,16.3 1,-4 1,3.2 1,11.1 1,-3.6 1,15.1 1,-7.8 1,16 1,12.9 1,-15.8 1,-17.5 1,8 1,-7.4 1,-2.4 1,-0.5 1,4.4 1,18 1,24.7 1,-42.4 1,12.5 1,-11.3 1,-7.8 1,11.4 1,-2 1,7.5 1,-15.6 1,4.2 1,-15.5 1,-1.4 1,-15.9 1,10.8 1,14 1,-25.4 1,17.5 1,-9.9 1,-11.3 1,33.3 1,-15.6 1,22 1,-4.1 1,-4.3 1,10.4 1,-7.2 1,7.1 1,3.9 1,3.6 1,4.6 1,-7.3 1,-10.7 1,6.2 1,-10.1 1,4.3 1,20.4 1,-20.5 1,1" fill="none" stroke="#000" stroke-width="1.0" stroke-linejoin="round"/>
<path d="M62,219.6l1,-0.6 1,-5 1,4.2 1,19.9 1,-20.4 1,-8.2 1,-2.1 1,9.8 1,-8.4 1,5.4 1,10.3 1,0 1,-18.8 1,2.3 1,-9.8 1,-1.9 1,22.4 1,-11.7 1,2.7 1,14.1 1,-2.5 1,1.2 1,-7.7 1,-3.9 1,3.8 1,0.5 1,1.5 1,-2.9 1,-9.9 1,-2.1 1,-3.4 1,-8.6 1,15.2 1,-13.1 1,17.9 1,7.7 1,-11.2 1,7.3 1,-4.1 1,5.9 1,16.6 1,-0.9 1,-7.9 1,2.6 1,-0.6 1,-5.2 1,0.9 1,-4.2 1,-1.1 1,1.2 1,7 1,-7.8 1,-6.5 1,1 1,6.2 1,0.8 1,10.3 1,-11.3 1,2.8 1,4.6 1,-1.6 1,-12.1 1,0.7 1,15.4 1,-1.3 1,-5.4 1,-1.3 1,-1.7 1,13.9 1,-0.8 1,9.8 1,-14.7 1,-1 1,-6.9 1,4.3 1,-0.4 1,-3.7 1,1.1 1,-8.5 1,9.1 1,-18.2 1,8.2 1,-12.2 1,8.9 1,14 1,-26.2 1,15.3 1,-8.2 1,10.7 1,36.9 1,-44.6 1,7.1 1,6.7 1,-10.6 1,14.8 1,-1.7 1,-0.9 1,-0.2 1,-18.7 1,9.8 1,16.1 1,-10.6 1,-2 1,10.9 1,-14.1 1,-12.3 1,14.2 1,-7.2 1,5.5 1,-10 1,2.6 1,6.4 1,6 1,2.4 1,-7.6 1,-6.6 1,11 1,-8.3 1,-13.3 1,15.5 1,-6.2 1,19.9 1,-2.4 1,17.2 1,-40.5 1,6.4 1,10.1 1,6.7 1,-10.6 1,9.6 1,4.3 1,-5.2 1,-7.6 1,4.6 1,10.9 1,-10.2 1,-6.6 1,2 1,-6.8 1,13.4 1,3.9 1,10.6 1,5.4 1,77.4 1,-86.3 1,-29.8 1,19.6 1,2 1,2.6 1,-1.6 1,-2.7 1,1.8 1,1.3 1,13.8 1,8.3 1,92.4 1,-103 1,-36 1,24.2 1,3.2 1,-5.4 1,1.5 1,-5.3 1,9.1 1,-11.8 1,-0.3 1,8.1 1,0.1 1,-8.1 1,-5 1,10.8 1,-3.7 1,-13.9 1,21.5 1,-5.4 1,-5.3 1,-9.2 1,13.3 1,1 1,4.6 1,-0.7 1,-1.6 1,-6.3 1,-6.9 1,-10.3 1,26.1 1,7 1,2.2 1,-5.1 1,-0.2 1,-13 1,-5.6 1,14.7 1,-11.2 1,3.5 1,11 1,-4.5 1,-8.2 1,-0.8 1,0.3 1,10.6 1,3.5 1,-3.7 1,-13 1,0.8 1,3.6 1,-2.9 1,-0.3 1,-4.6 1,6.9 1,-18.8 1,9.5 1,-7.9 1,-0.3 1,0.1 1,13.5 1,-43.2 1,2.2 1,11.5 1,-22.1 1,31.5 1,1.1 1,9.3 1,12.8 1,-1 1,-11.5 1,14.2 1,-18.8 1,11.7 1,-1.1 1,-24.8 1,21.6 1,-9.4 1,-0.7 1,28.4 1,18.4 1,-16.4 1,-9.3 1,-7.1 1,7.1 1,115.5 1,-112.7 1,-63.3 1,-39 1,18.8 1,23.4 1,13.6 1,25.3 1,24.3 1,10.2 1,2.8 1,10.8 1,14.2 1,7.2 1,5.4 1,16.6 1,6.4 1,-3.8 1,-19.6 1,-6.6 1,-36.5 1,-6.6 1,-8 1,-7.2 1,2.4 1,-0.9 1,12.7 1,6.7 1,-6.8 1,17.3 1,-0.4 1,10.3 1,2.2 1,-4.9 1,6.1 1,0.4 1,5.7 1,-1.4 1,-4.9 1,8 1,-13.7 1,-13.4 1,10 1,-11.3 1,2.8 1,-9.3 1,0.5 1,2.3 1,8.8 1,-9.3 1,4.2 1,-15.1 1,9.7 1,16.5 1,-3.7 1,-15.5 1,-0.8 1,-2.7 1,7.2 1,-4.8 1,3.1 1,1.6 1,4.1 1,-8.8 1,2.9 1,2.1 1,1.6 1,-0.1 1,0.6 1,-0.2 1,-9.8 1,-4.7 1,-7.3 1,9.8 1,-4.9 1,6.7 1,3.1 1,-3 1,0.7 1,-6.2 1,-1.4 1,6.9 1,5.1 1,-2.4 1,-6.2 1,-10.1 1,15.7 1,-4.1 1,1.9 1,7.5 1,-16.8 1,-6.5 1,2.3 1,-0.2 1,8.8 1,-1.5 1,8.1 1,-7.3 1,12.7 1,-5.3 1,2.3 1,7.7 1,6 1,68.6 1,-76.4 1,-28.6 1,24.5 1,1.9 1,-3.2 1,-6.3 1,-4.4 1,19.9 1,-5.8 1,0.8 1,1 1,-11.3 1,4.3 1,5.2 1,-6 1,-3.9 1,5.4 1,-4.3 1,-6.3 1,5.3 1,-6.2 1,1.7 1,-8.5 1,-3.5 1,16.5 1,-5.6 1,1.8 1,6.6 1,-1.8 1,21.5 1,-12.4 1,-3.8 1,7 1,18.9 1,-25 1,11.7 1,4.3 1,-15.2 1,-2.4 1,11.7 1,4.9 1,-9.6 1,8.8 1,-8.1 1,-6.2 1,-13.3 1,1.3 1,-14.7 1,3.5 1,-8.1 1,7 1,8.6 1,7.3 1,1.5 1,6.3 1,-6.8 1,-2.9 1,4.9 1,-8.3 1,-9.1 1,19.4 1,-18.2 1,15.5 1,6 1,-9 1,-8.1 1,3.4 1,-3.8 1,-6.5 1,-12.6 1,25.5 1,-8.7 1,8.2 1,8.6 1,-1.3 1,3.7 1,3.1 1,-12.8 1,11.6 1,11.4 1,-23.6 1,-8.8 1,6.2 1,-6.6 1,8.8 1,-4.7 1,0.9 1,-1.8 1,1.5 1,7.8 1,4.1 1,-9.5 1,3.4 1,0 1,-1.1 1,8.1 1,-7.1 1,-5.7 1,-11.2 1,11.1 1,-1.5 1,-10 1,14.6 1,9.7 1,-7.2 1,-15.2 1,10.9 1,-6.5 1,1.2 1,3.4 1,-0.5 1,8.3 1,-4.9 1,14.9 1,-14.6 1,6.1 1,0.9 1,-3.3 1,-1.3 1,-5.6 1,11.6 1,-6.6 1,8.8 1,0 1,-5.4 1,3.7 1,2.5 1,-11.7 1,26.3 1,69.9 1,-77.9 1,-27.2 1,-4.7 1,3.6 1,-3.9 1,11.3 1,6.2 1,7.4 1,-2.2 1,15.3 1,-14.2 1,-6.9 1,1.6 1,6 1,-11.1 1,-7.2 1,10.1 1,0.1 1,-4 1,1.9 1,6.8 1,-4.2 1,-0.2 1,25.3 1,-41.5 1,13.4 1,-23 1,14.6 1,15.3 1,-6.7 1,1.1 1,-7.8 1,10.9 1,2.8 1,10.9 1,2.7 1,-13.2 1,0.2 1,-2 1,-9.6 1,15.8 1,-8.3 1,2.9 1,4.6 1,-3.5 1,-14.5 1,10.1 1,-3.5 1,12.7 1,-12.1 1,-6.8 1,10.9 1,0.4 1,-6.3 1,5.7 1,-1.1 1,10.4 1,-9 1,-4.7 1,-9 1,12.5 1,-4 1,3.9 1,1.8 1,-4.5 1,-1.9 1,-0.9 1,12.1 1,2.6 1,-4.9 1,3 1,34.1 1,112.7 1,-125.6 1,-42.4 1,2.4 1,16.7 1,-3.1 1,8.4 1,-10.1 1,-6 1,5 1,3.8 1,-2.8 1,1.5 1,14.7 1,-15 1,0.4 1,0.2 1,7.6 1,-9 1,7.2 1,7 1,-11 1,0.1 1,-0.1 1,-6.5 1,2.5 1,1.1 1,-1.9 1,3.6 1,6.5 1,3.1 1,-11.7 1,3.1 1,-1.9 1,4.5 1,10.7 1,-4.9 1,4.4 1,0.5 1,14.7 1,90.3 1,-100.6 1,-35.4 1,27.7 1,4.1 1,-11.7 1,2.9 1,12.1 1,-3.2 1,-5.3 1,-6.7 1,-2.5 1,-9.3 1,2.3 1,13.3 1,-20.2 1,-0.5 1,14.8 1,-18.4 1,5.2 1,10.7 1,-4 1,9.2 1,-8.3 1,-1.1 1,8.7 1,-16.1 1,-8.1 1,7.1 1,-13.3 1,26.3 1,10.9 1,1.7 1,-2.7 1,-3.8 1,-1.6 1,-5.5 1,3.8 1,1.4 1,-2 1,2.1 1,-2.3 1,29.5 1,93.8 1,-104.5 1,-36.5 1,-0.5 1,7.2 1,7.3 1,5.5 1,-2.9 1,4.5 1,-3.8 1,-5.6 1,13.8 1,2.4 1,-3.8 1,3.4 1,-21.7 1,17.9 1,9.1 1,22.2 1,-46.6 1,2.8 1,-15.5 1,-11.8 1,27.8 1,-16.7 1,14.1 1,2.2 1,-20.7 1,8 1,-13.2 1,-2.8 1,20.7 1,-8.7 1,-5.8 1,12.3 1,-14.2 1,9.4 1,7.5 1,29.8 1,-24.7 1,3.2 1,-6.5 1,12.2 1,-10.8 1,7.2 1,10.1 1,-4.2 1,13.4 1,-12.3 1,2.5 1,14.8 1,-22.8 1,-4.2 1,22 1,-8.8 1,8.5 1,-7 1,-13.2 1,6.5 1,-6.7 1,3.8 1,-8.4 1,2 1,-3.9 1,16 1,-1.2 1,13.3 1,1.8 1,-8.1 1,-6.1 1,9.8 1,-6.3 1,-11.1 1,4.8 1,4.1 1,-2.4 1,13.6 1,0.2 1,-6.7 1,-5.2 1,3 1,-8.4 1,3.6 1,10 1,7.1 1,-16.5 1,-9.7 1,5.3 1,10 1,9.9 1,-17 1,0 1,7.3 1,-10.9" fill="none" stroke="#000" stroke-width="1.0" stroke-linejoin="round"/>
<path d="M50,196l1,14 1,-6 1,11 2,-16 2,4 2,11 2,-14 2,5" fill="none" stroke="#222" stroke-width="0.7" stroke-linejoin="round"/>
<path d="M54,575.8l2,-0.2 2,-2.4 2,1.6 2,-0.5 2,0.3 2,-1.2 2,0.2 2,0.7 2,-0.7 2,0.7 2,-1.3 2,0.1 2,1.8 2,-0.9 2,0.2 2,0.6 2,-1.2 2,-0.9 2,2.1 2,-0.7 2,0.1 2,-0.2 2,1 2,-1.9 2,1.1 2,-1.3 2,0.5 2,0.2 2,-1.2 2,-0.7 2,1 2,0.7 2,-0.5 2,-0.5 2,0.5 2,-1.5 2,-0.1 2,0.4 2,1.4 2,-2 2,-0.3 2,-0.1 2,-0.3 2,0.7 2,0.8 2,0.7 2,-1.5 2,0.1 2,-0.3 2,0.1 2,1.4 2,-0.7 2,-0.9 2,-0.5 2,2.1 2,-0.3 2,0.4 2,-1.7 2,0.9 2,1.2 2,-0.9 2,1.1 2,-2.3 2,2.5 2,-2.7 2,1.1 2,-1.1 2,2.4 2,-0.2 2,0.9 2,-0.4 2,0.5 2,-1.1 2,1.4 2,-0.6 2,-1.1 2,2 2,-1.7 2,-0.5 2,-0.3 2,1.3 2,-0.7 2,2.3 2,0.1 2,-2.1 2,-0.2 2,1.3 2,-1 2,1.2 2,0.9 2,-1.6 2,0.6 2,1.5 2,-1.4 2,-0.2 2,1.7 2,-0.2 2,0.2 2,-0.6 2,-0.8 2,0.9 2,0.4 2,-0.6 2,-1.2 2,0.2 2,0.3 2,1 2,-0.6 2,-0.1 2,0.8 2,-2.2 2,1.5 2,-1 2,0.7 2,0.7 2,-1.8 2,2" fill="none" stroke="#000" stroke-width="5" stroke-linejoin="round" stroke-linecap="butt"/>
<path d="M326,572l2,0.7 2,-2.2 2,1 2,1.2 2,-2 2,2.1 2,-2 2,1.4 2,-1.6 2,0.8 2,-0.1 2,-1 2,1.8 2,-0.7 2,0.7 2,-0.5 2,0.1 2,-0.1 2,-0.7 2,1.9 2,-2.4 2,2.4 2,0 2,-1 2,0.8 2,-0.2 2,-0.1 2,-0.9 2,0.1 2,0.2 2,0 2,2 2,-1.8 2,0.3 2,0.2 2,1.2 2,-0.9 2,0.4 2,-0.8 2,0.1 2,-0.5 2,0.5 2,0.3 2,1.8 2,-0.9 2,-1.1 2,1.1 2,-0.9 2,1.4 2,-0.3 2,1.3 2,-1.7 2,1.8 2,-1.7 2,2.2 2,-1 2,-1.7 2,2.3 2,-1.5 2,0.2 2,-0.6 2,2.1 2,-2.2 2,1.9 2,-1 2,0.8 2,-1.2 2,-0.6 2,2.5 2,-0.9 2,-1.5 2,2.4 2,-0.2 2,-2.3 2,-0.5 2,1.7 2,-1.5 2,1.7 2,-0.9 2,0.7 2,-0.6 2,0.6 2,0 2,-0.7 2,-0.2 2,-0.8 2,-0.7 2,-0.2 2,2.2 2,-2.1 2,0.6 2,-0.4 2,0.8 2,-0.4 2,0.9 2,-1.3 2,-0.4 2,0.8 2,0.2 2,0.5 2,-1.9 2,1.7 2,0.2 2,0 2,-2.7 2,0.8 2,1.1 2,0.1 2,-2.3 2,1 2,1 2,0.1 2,-0.7 2,-1 2,0.6 2,-1 2,0.8 2,0.4 2,1.2 2,-0.6 2,-0.5 2,-0.5 2,0.3 2,1.1 2,-0.6 2,-0.7 2,2 2,-0.7 2,1.3 2,-1.2 2,0.3 2,-0.4 2,0.6 2,1 2,0.3 2,-0.9 2,-0.6 2,-1 2,2.5 2,-1.3 2,0.1 2,-0.9 2,0 2,1.2 2,1.8 2,-0.6 2,0 2,-0.1 2,-1.1 2,-0.2 2,1.3 2,-1.5 2,1.6 2,-0.2 2,0.1 2,-1.2 2,-0.1 2,1.2 2,-1 2,1.5 2,-1 2,1 2,0.3 2,-0.4 2,-0.3 2,-1 2,0.4 2,1.9 2,-2.2 2,0 2,0.6 2,0.1 2,0.6 2,-1.5 2,1.9 2,-2.9 2,2.2 2,-0.7 2,0.9 2,-2.3 2,1.5 2,0.7 2,-1 2,-1.7 2,2.3 2,0 2,-2.6 2,2 2,-2.3 2,-0.1 2,2 2,-0.3 2,0.7 2,-1.1 2,-0.4 2,-0.8 2,0.8 2,1.2 2,-1.1 2,0.6 2,-2.1 2,1.6 2,-0.1 2,-2 2,2.2 2,-1.9 2,0.1 2,-0.5 2,1.8 2,-1.6 2,2.5 2,-2.9 2,2.5 2,-0.2 2,-0.5 2,0 2,0.8 2,-0.5 2,-1.4" fill="none" stroke="#000" stroke-width="5" stroke-linejoin="round" stroke-linecap="butt"/>
<path d="M53,557.8l1,-2.3 1,3.6 1,-1.3 1,12.6 1,-13.7 1,22.7 1,15.6 1,-21.6 1,-16.3 1,11.8 1,2.7 1,-3.3 1,-9.7 1,16.9 1,-9.9 1,-8.7 1,-4.1 1,10.5 1,4.3 1,-8.7 1,2.1 1,9.2 1,-6.5 1,-5.5 1,-1.8 1,9.7 1,-1.4 1,11.8 1,10.4 1,-26 1,3.4 1,0.3 1,3.5 1,10.9 1,-8.5 1,1.3 1,-0.8 1,-10.4 1,13.9 1,-3.3 1,-10.2 1,7 1,-3.4 1,8.1 1,2.3 1,-1.7 1,12.7 1,-21.1 1,7.6 1,-2.3 1,0.7 1,-8.6 1,-2.7 1,0 1,14.6 1,0.3 1,-17.7 1,20.4 1,-16.6 1,5.3 1,23.6 1,-27.3 1,-15.4 1,5.5 1,-1.5 1,-4.1 1,0.5 1,6 1,8.8 1,-5.9 1,11.9 1,-1.9 1,-1.3 1,0.6 1,0.1 1,-11.6 1,10.3 1,-2 1,2.9 1,-3.1 1,-2.9 1,-4.7 1,2.7 1,-3.6 1,9.6 1,-6.7 1,-2 1,7.4 1,-10.2 1,11.9 1,21.6 1,-31.2 1,1.7 1,5.9 1,-16.1 1,13.2 1,-10.4 1,-12.8 1,14.1 1,3.9 1,-5.2 1,7.2 1,-20.4 1,13.8 1,1.5 1,-4.5 1,31 1,-21.6 1,-14.7 1,25.5 1,-7.8 1,-4.7 1,6.4 1,6.7 1,-1.8 1,1 1,-10.1 1,6.9 1,9.4 1,0.6 1,3.6 1,-13.8 1,14.1 1,12.9 1,-11.4 1,-7.4 1,-0.3 1,-11.8 1,15.1 1,-0.2 1,-4.9 1,2.7 1,-4.5 1,2.2 1,7.9 1,-6.1 1,2.2 1,0.1 1,-1.3 1,2 1,7.5 1,-2 1,-5.5 1,-1.6 1,5.8 1,-1.1 1,-5.4 1,-1.9 1,-1.7 1,-3.2 1,5.7 1,-3.1 1,18.2 1,-2.3 1,-4.3 1,-6.2 1,8.3 1,-4.5 1,-1.3 1,-1.4 1,0.9 1,-1.7 1,2.2 1,6.7 1,-1.3 1,-12.6 1,0.5 1,-9 1,4.1 1,4.7 1,-2.9 1,-6.3 1,4.2 1,-19.1 1,3.8 1,9.6 1,-15.2 1,7.9 1,7.2 1,-7.6 1,9.9 1,-0.6 1,-12.8 1,4.1 1,5 1,10.4 1,-10.4 1,7.8 1,-5.3 1,12 1,1.2 1,0.2 1,-11.4 1,-2.6 1,18.5 1,-10.2 1,-3.4 1,3.1 1,-3.5 1,3.3 1,12.2 1,2.8 1,-5.6 1,-11.4 1,5.8 1,-6.6 1,-9.1 1,8 1,4.5 1,-4.8 1,1.6 1,-1.6 1,2.7 1,5.5 1,-0.3 1,0 1,-2.8 1,-4.2 1,7.2 1,18 1,-29.5 1,11.3 1,-2 1,1.5 1,4.6 1,2.4 1,-3.9 1,-0.6 1,-5.4 1,2.7 1,3 1,3.1 1,-11.8 1,9.8 1,10.7 1,103.3 1,-108.3 1,-62.9 1,20.2 1,36.5 1,37.4 1,-24.6 1,-26.4 1,-28.8 1,-2.9 1,16.6 1,31.4 1,28.6 1,-0.7 1,-36.9 1,-25.7 1,-6.9 1,18.6 1,7 1,12.4 1,9 1,0.3 1,-0.4 1,3.4 1,5.7 1,3.3 1,-5.9 1,-19.6 1,-12.7 1,-18.4 1,7.1 1,8 1,11.3 1,23.7 1,3.1 1,-4.7 1,-18.3 1,3.2 1,-7.7 1,-4.8 1,4.8 1,3.4 1,1.3 1,-8.3 1,3.1 1,6.3 1,-4.1 1,0.3 1,-3.8 1,2.4 1,-2.2 1,9.9 1,-4.4 1,2.9 1,-16 1,0.9 1,7.7 1,3.4 1,-3.4 1,3.8 1,-13.4 1,5.9 1,31.6 1,53.5 1,-86.7 1,12.1 1,25.1 1,-30.2 1,-0.9 1,5.5 1,-12.4 1,9.1 1,-6.6 1,-0.7 1,10.1 1,14.6 1,-13.6 1,-4.3 1,-1.4 1,-1.7 1,1.5 1,-1.5 1,-0.4 1,9.2 1,1.7 1,-4.6 1,5.2 1,-6.3 1,-13.6 1,8.8 1,-8.6 1,-9 1,0 1,13.3 1,-23 1,5.4 1,7.3 1,-4 1,11 1,6.2 1,6.9 1,20.5 1,-19.1 1,-2.4 1,21.5 1,-13.4 1,13.7 1,-26.1 1,13.1 1,1 1,3.4 1,-7.7 1,0.9 1,-10.2 1,8.9 1,-0.3 1,-0.4 1,1.1 1,-5.2 1,-2.6 1,-1.2 1,12.3 1,-2.1 1,3.1 1,-0.4 1,-0.6 1,0.7 1,-8.8 1,0.9 1,-9.8 1,4.6 1,-0.5 1,6.2 1,-0.7 1,-9.5 1,11.9 1,-3.9 1,-4 1,7.4 1,-9.8 1,3.9 1,4.9 1,25.7 1,-30.4 1,3.6 1,-5.5 1,11.4 1,-7.3 1,3.1 1,6.3 1,-2.1 1,4 1,-14.2 1,20.7 1,-14.9 1,8.1 1,-2.5 1,-8.1 1,-1.8 1,0.5 1,3.7 1,21 1,-18 1,-10.8 1,8 1,5 1,-4.5 1,25.5 1,-34.6 1,4.3 1,-4.8 1,-3.9 1,-0.6 1,5.1 1,-5.7 1,8.9 1,-2.7 1,1.8 1,-0.1 1,0.2 1,9.1 1,14.1 1,-29.4 1,6.3 1,-12.1 1,5.5 1,-3.2 1,-11 1,13.7 1,4.5 1,-7.2 1,9 1,3.6 1,0 1,8.2 1,-10.4 1,-3.7 1,22.6 1,-27.7 1,-5.5 1,-5.5 1,-9.3 1,30.6 1,13.3 1,-22.3 1,15.6 1,6.3 1,-0.3 1,-10.2 1,-3.5 1,6 1,-7.1 1,0 1,4.3 1,1.3 1,-3.1 1,1.3 1,3.6 1,3.7 1,-2.5 1,4.7 1,-2.2 1,-2.8 1,0.8 1,-4.6 1,4 1,1.5 1,6.7 1,-5 1,0.9 1,12.1 1,-14.8 1,1.6 1,7.9 1,-8.6 1,-1.6 1,-2.7 1,2.1 1,0.6 1,6.9 1,4.1 1,1.4 1,1.8 1,-11.5 1,-11.1 1,20.6 1,-14 1,9.1 1,-6.4 1,14.7 1,-21.7 1,3.3 1,2.7 1,1.4 1,-9 1,9.8 1,-2.5 1,-5 1,-2.4 1,3.8 1,2.2 1,-0.6 1,2.8 1,-0.9 1,-12.9 1,11.1 1,-6.3 1,2.4 1,27.2 1,-16.9 1,-5.1 1,17.1 1,-10.8 1,-7 1,-0.1 1,-2.5 1,-4.3 1,2.1 1,0.7 1,-1.6 1,-8 1,4.9 1,-0.9 1,3 1,0.9 1,-1.4 1,8.8 1,-10.4 1,8.6 1,-12.4 1,-2.3 1,9.8 1,-9.2 1,5.3 1,-7.2 1,12.6 1,-5.1 1,7.3 1,-1.9 1,-1.4 1,2.8 1,-5.9 1,-9.9 1,18.8 1,-11.4 1,-8.6 1,4.1 1,1.8 1,4.4 1,1.5 1,1 1,15.4 1,-13 1,-2.7 1,-0.4 1,-5.3 1,13.8 1,9.7 1,-11.1 1,-2.5 1,-7.1 1,26.3 1,7.2 1,-27.5 1,-10 1,6.1 1,-5 1,10.6 1,-6.7 1,1.5 1,8 1,-4.3 1,8.9 1,-3.8 1,-1.7 1,-5.5 1,-5.2 1,-16.7 1,1.6 1,12.9 1,-18.1 1,16.9 1,-0.8 1,-4.7 1,13.4 1,-3.5 1,-3.6 1,12.5 1,-13.7 1,3.8 1,2.1 1,-14.9 1,13.7 1,-8.5 1,37.8 1,-19.9 1,-6.8 1,0.8 1,-6.5 1,0.3 1,13.7 1,-10.9 1,-5.7 1,7.3 1,-1.5 1,30.8 1,-31.8 1,-5.9 1,0.6 1,3.7 1,6.1 1,-3.8 1,-1 1,4.2 1,-1.7 1,3.1 1,-2.4 1,-0.8 1,1.2 1,9.8 1,-3.2 1,-7.9 1,0.4 1,-8.6 1,2.4 1,-0.8 1,6 1,-2.7 1,1.7 1,6.2 1,-0.8 1,5.2 1,-8.1 1,-0.5 1,1.6 1,-0.1 1,-0.1 1,2 1,-9.8 1,-3.2 1,-3 1,5.2 1,0.6 1,0.1 1,2.5 1,-13.9 1,5.9 1,10.1 1,-15.4 1,-1.8 1,12.5 1,-2.8 1,0.7 1,5.6 1,-4.9 1,4 1,-13.3 1,15.8 1,4.9 1,-4.2 1,3.8 1,-7.7 1,0.6 1,53.8 1,86.8 1,-96.7 1,-34.3 1,-0.3 1,3 1,-3.1 1,-6.6 1,9.1 1,-2 1,7.7 1,-4.3 1,-4 1,6.6 1,-3 1,2.3 1,3.3 1,-1.9 1,1.3 1,-19.4 1,9.9 1,-0.7 1,5.4 1,-6 1,8.9 1,-3.3 1,2.7 1,-4.4 1,-6.2 1,13.8 1,0.2 1,-1.1 1,12.7 1,25.4 1,-45.8 1,2.5 1,4.6 1,18.9 1,-20.6 1,2.5 1,-3.7 1,-3.7 1,-15.8 1,-2.9 1,16.7 1,-12.8 1,2 1,8 1,-14.6 1,10.2 1,-8.5 1,-5.5 1,22.4 1,0.8 1,5.7" fill="none" stroke="#000" stroke-width="1.0" stroke-linejoin="round"/>
<path d="M53,547.5l1,9.3 1,-12.2 1,12.5 1,0.5 1,-4.5 1,3.5 1,5.9 1,-6.1 1,11.3 1,-19.5 1,4.1 1,13.2 1,-5.3 1,8.2 1,5.7 1,2.7 1,-2.1 1,-15.2 1,2.8 1,1.5 1,-3.8 1,-5.6 1,0.1 1,1.6 1,0.3 1,0.2 1,2.6 1,5.7 1,4 1,-5.9 1,-0.5 1,1.8 1,-6.3 1,11.6 1,39.7 1,84.7 1,-94.4 1,-33.6 1,-10.5 1,2.4 1,2.6 1,15.7 1,-24.4 1,8.5 1,7.8 1,-7.9 1,9.9 1,-0.1 1,0.7 1,2.2 1,-1.9 1,-2.1 1,6.9 1,-5.8 1,11.8 1,5.7 1,-2.4 1,-10.2 1,-2.1 1,-3.2 1,-11.1 1,2.2 1,17.9 1,8.4 1,-22.7 1,4.7 1,-14.7 1,8.6 1,-6.2 1,0.9 1,-2.2 1,12.7 1,-15.2 1,5.1 1,15.5 1,-0.2 1,-0.6 1,-8.4 1,7.1 1,-0.3 1,13.3 1,3.2 1,-10.3 1,-4.2 1,6.1 1,-9.3 1,-1.5 1,2.5 1,-2.8 1,-10.4 1,6.4 1,-0.8 1,9.9 1,-12.7 1,0.2 1,9.3 1,-6.3 1,-1 1,5 1,-2.3 1,-1.5 1,5.1 1,3.8 1,-1.7 1,-6.8 1,-6.8 1,3.2 1,-1.2 1,6 1,-2.7 1,-0.2 1,-6.5 1,8.7 1,-5 1,-1.1 1,-2.4 1,7.4 1,4.2 1,4.8 1,-1.7 1,35.9 1,79.1 1,-88.1 1,-31.9 1,10.5 1,-18.3 1,-1.4 1,3.2 1,31.6 1,-21.5 1,-12.2 1,3.9 1,-2.2 1,-2.4 1,-1.5 1,2.4 1,-4.2 1,5.9 1,-1.6 1,8.1 1,-8 1,-9.7 1,12.2 1,1.5 1,-1 1,0.7 1,-2.9 1,4.3 1,-8.2 1,9.7 1,-1.5 1,9.6 1,-4 1,6.8 1,1.5 1,-2.1 1,-11.8 1,6.5 1,15.3 1,-10.8 1,-8.7 1,-6.8 1,8.5 1,0.7 1,5.2 1,-10.7 1,17 1,-12.3 1,-0.7 1,-4 1,-1.3 1,-1.4 1,4.9 1,-4.8 1,5.5 1,-4.8 1,2 1,-9.3 1,-1.7 1,-9.5 1,16.7 1,11 1,-1.1 1,-2 1,-7.2 1,24.7 1,-17.8 1,0.7 1,-2.5 1,7.8 1,-0.3 1,-8.8 1,-6.1 1,10.9 1,1 1,-1.4 1,-10 1,-3.9 1,18 1,-5.9 1,-4.4 1,-0.2 1,-2.3 1,17.5 1,17.5 1,-18.7 1,-0.9 1,-9.3 1,-2.8 1,-4.2 1,-6.1 1,5.3 1,7.4 1,-3.1 1,5.6 1,-2.7 1,3.8 1,21.3 1,-30.4 1,0.9 1,-4.7 1,0.6 1,12.1 1,-9 1,-2 1,1.2 1,1.8 1,4.5 1,9.3 1,-14.4 1,-0.3 1,-7.7 1,17.3 1,-8.6 1,10.4 1,77 1,-35.2 1,-90.1 1,5.2 1,34.2 1,42.9 1,-14.7 1,-35.2 1,-25.6 1,-11.3 1,19.2 1,19.5 1,21.4 1,21.1 1,-30.6 1,-27.1 1,-9.4 1,8.9 1,6.5 1,25.2 1,16.2 1,-2.7 1,-10.6 1,-0.2 1,5.4 1,22.3 1,-12.8 1,-18 1,-14.8 1,-4.8 1,-20.2 1,17.1 1,4.3 1,18.5 1,4.5 1,4.9 1,-7.2 1,-7.9 1,4.1 1,20.4 1,-26.9 1,-6 1,1.9 1,12.5 1,0.3 1,3.1 1,-1.8 1,-5.4 1,-2.5 1,-0.5 1,4.1 1,2.5 1,-7.5 1,-1.4 1,0.8 1,2.5 1,0.9 1,-2.9 1,-8.5 1,1.9 1,-0.4 1,9.7 1,3.4 1,2.3 1,5.4 1,1.9 1,-2.3 1,-10.7 1,8 1,-16.3 1,3.2 1,1.3 1,-0.2 1,6.4 1,-3.7 1,-11 1,22.8 1,-0.2 1,-6.2 1,3.9 1,15.7 1,-27 1,4.5 1,-5.5 1,19 1,-19.9 1,-4.9 1,-2.1 1,7.5 1,-1.9 1,1.7 1,-3.2 1,12.2 1,-8.9 1,-8.3 1,8.7 1,-0.3 1,-1.6 1,-10.5 1,-0.3 1,8.1 1,2.4 1,6.4 1,-6.1 1,-2.6 1,7 1,-6.9 1,9.8 1,-13.7 1,8 1,-11.7 1,-1.8 1,7.9 1,-5.1 1,12 1,1.4 1,-14 1,13.7 1,-0.7 1,-12.6 1,7.4 1,-24.2 1,6 1,5.3 1,0.3 1,1.8 1,6.7 1,-1.4 1,4.7 1,3.2 1,5 1,-5.9 1,-1.7 1,2.1 1,-5.9 1,-4.8 1,14.7 1,-0.8 1,-2.8 1,4.1 1,-4.3 1,-5.7 1,12.4 1,4 1,-4.8 1,6.9 1,-6.4 1,-10.4 1,6.1 1,5.4 1,-2.1 1,-0.3 1,-3 1,1.8 1,0.1 1,-6.2 1,8.4 1,0.9 1,2.2 1,3.3 1,-9.2 1,-0.8 1,5.4 1,0.2 1,2 1,-3.4 1,4.3 1,-5 1,-3.2 1,-1.7 1,-10 1,6.9 1,-7.7 1,-3.4 1,-1.3 1,6.9 1,-10.5 1,13.8 1,-2.1 1,14.4 1,-4.5 1,0.3 1,-3.9 1,7.9 1,4.3 1,3.9 1,-15.6 1,-5.3 1,-1.8 1,11.1 1,-3.4 1,-0.4 1,-19.5 1,-2.6 1,5.3 1,4.3 1,4.4 1,7.8 1,-14.2 1,14.6 1,0.2 1,7.2 1,-6.2 1,-7.6 1,2.2 1,5.6 1,-5.8 1,9.1 1,-3.9 1,-8.5 1,1.6 1,-4.9 1,2.3 1,-0.7 1,1 1,-5.1 1,9.7 1,3.9 1,-3 1,-7.5 1,16.4 1,41.7 1,-51.3 1,3.7 1,1 1,-3.5 1,-0.7 1,-2.5 1,-2 1,12 1,-8.9 1,17.3 1,-11.5 1,-3.6 1,0.2 1,15.6 1,-7.2 1,-5.6 1,2.5 1,-3.9 1,-4.7 1,12.6 1,-7.4 1,-2.5 1,5.1 1,-0.2 1,-3.4 1,-11 1,4.3 1,-8.8 1,-1.7 1,18 1,-6.9 1,-0.3 1,10 1,1.5 1,1.3 1,4 1,6.1 1,-8.1 1,-7.2 1,0.1 1,14.3 1,15.7 1,-19.4 1,-9.5 1,-7.1 1,7.9 1,5.5 1,-0.5 1,2.9 1,0.1 1,3.7 1,3.4 1,-7.6 1,-2.6 1,16.8 1,-23.6 1,-3.4 1,-1.7 1,-10.1 1,12.4 1,19.7 1,5.1 1,-17.9 1,-7.1 1,1 1,7.1 1,2.9 1,3.2 1,-13.4 1,3.7 1,-9.3 1,5.2 1,2 1,-2.4 1,24.3 1,-11.4 1,-6.6 1,0.3 1,10.9 1,-1 1,-14.5 1,-8.4 1,1.4 1,13.5 1,-9.3 1,-3.6 1,2.4 1,-7.8 1,13.1 1,2.4 1,-8.4 1,0.9 1,-2.7 1,7.7 1,-7.7 1,9.5 1,-13.4 1,-4.2 1,6.3 1,2.8 1,0 1,7.6 1,-18.5 1,4.5 1,2 1,4.2 1,5 1,1.4 1,-5.7 1,0.9 1,-0.5 1,-0.8 1,-8.3 1,-4.6 1,12.8 1,-18.8 1,10.9 1,17 1,3.8 1,-3.2 1,21.7 1,-8.9 1,5.6 1,4.1 1,-19.5 1,-2.5 1,-16.9 1,7.6 1,8.9 1,-15.7 1,2.9 1,-0.9 1,2.2 1,7.7 1,10 1,8.3 1,-7.3 1,-22.1 1,13.3 1,-10.3 1,2.3 1,4 1,4.5 1,-6.5 1,6.4 1,-17.1 1,9.7 1,4.5 1,-6.3 1,6.9 1,-1.5 1,-6.9 1,19.3 1,-7.3 1,11.4 1,11 1,-10.8 1,-7.8 1,0.3 1,-10.9 1,6.3 1,15 1,-20 1,6.3 1,-6.1 1,5.3 1,-3.6 1,12.4 1,-13.7 1,9.6 1,1.3 1,-2.3 1,-1.6 1,-6.5 1,4.5 1,3.1 1,4.2 1,-7.8 1,-6.8 1,8.3 1,2.1 1,-8.1 1,0 1,6.4 1,0.7 1,8.5 1,-12.7 1,6.8 1,8 1,-26.6 1,7.8 1,2 1,0.5 1,-3.3 1,5.8 1,1.2 1,0.8 1,-0.2 1,-8.9 1,0.3 1,-15 1,14.9 1,-6.9 1,-12.4 1,10.6 1,11.8 1,4.9 1,-1.4 1,10.6 1,-7.3 1,-5.9 1,0.7 1,0.2 1,13.2 1,-13.4 1,4.5 1,0.3 1,2.9 1,-8.8 1,6.9 1,-11.4 1,8.4 1,-5.2 1,0.9 1,2.2 1,-3.5 1,23.9 1,-7.3 1,-6.2 1,-5.2 1,8.6 1,0.3 1,5.5 1,-12.8 1,-12.7 1,16.2 1,-7 1,11.8 1,18.2 1,-9.5 1,-11.8 1,-2.7 1,-6.1 1,-2.6 1,18.5 1,-2.5 1,-7.4 1,-2.5 1,-0.8 1,-4.3 1,1.9 1,0.8 1,5.9 1,2.6 1,-12.6 1,10" fill="none" stroke="#000" stroke-width="1.0" stroke-linejoin="round"/>
<path d="M53,574.2l1,-2.1 1,-18.8 1,6.9 1,12.8 1,-17.4 1,11.6 1,-3.9 1,-5.8 1,10.7 1,7.1 1,-4.4 1,-8.4 1,5.8 1,-0.7 1,3.5 1,-0.9 1,-2.4 1,0.3 1,-2.7 1,-5.4 1,4.6 1,-6 1,1.7 1,11.2 1,4.1 1,-5.1 1,1.1 1,0.1 1,-2.3 1,-7.3 1,-0.3 1,11.6 1,-9.1 1,-3 1,-4.4 1,-2.8 1,-2.1 1,-19.6 1,27.6 1,-14.7 1,7 1,14.4 1,-31.2 1,8.5 1,-7.2 1,-0.7 1,19.5 1,-2.7 1,-3.1 1,5.1 1,5.6 1,9.2 1,-5.6 1,-3 1,-2.1 1,-5.1 1,8.7 1,2.2 1,-5.7 1,8.8 1,0.4 1,0.2 1,-9.3 1,1.2 1,-3.1 1,2.9 1,4.7 1,5.9 1,1.6 1,-4.6 1,6.8 1,39.4 1,-64.7 1,5 1,7.2 1,26.9 1,-3.8 1,-16.1 1,-14 1,8.7 1,-6.9 1,8.3 1,-6.3 1,-10.5 1,23.7 1,6 1,-8.1 1,-9 1,14.7 1,0.9 1,-8.1 1,-6.3 1,8.4 1,-4 1,2.2 1,-3.4 1,5.7 1,-9.7 1,4.2 1,7.9 1,-7.5 1,-4.9 1,6.3 1,2.6 1,-8.3 1,0.1 1,7.4 1,5 1,13.8 1,-18.4 1,1 1,-0.2 1,0.9 1,-4.6 1,-3.9 1,25.9 1,-22.5 1,-3.2 1,10.2 1,20.6 1,-16.3 1,-9.9 1,-18.4 1,11.5 1,17.3 1,-26.9 1,3.7 1,-2.9 1,15.8 1,2.5 1,-7.8 1,-2.5 1,0.8 1,-3.6 1,6 1,-4.7 1,-0.9 1,2.4 1,2.7 1,5.2 1,-2.9 1,28.6 1,-33.4 1,4 1,-4.2 1,0 1,1.6 1,9.8 1,7.3 1,-8.5 1,3.5 1,-0.4 1,12.8 1,-16.3 1,1.3 1,-3.6 1,10.4 1,-12 1,10.4 1,-14.3 1,-8.8 1,5.6 1,2.5 1,1.3 1,7.6 1,21.1 1,-26.3 1,-6.6 1,-4 1,1.7 1,-8.7 1,-10.9 1,22.6 1,-1.7 1,4.8 1,6.8 1,28.4 1,55.2 1,-61.5 1,-22.8 1,-10 1,10.5 1,4.3 1,-8.9 1,15.6 1,-5.8 1,-15.2 1,0.5 1,9.4 1,-7.3 1,-6.9 1,3.5 1,-3.3 1,-0.2 1,14.8 1,-5.4 1,3.7 1,-14.6 1,9.2 1,5.2 1,-2.5 1,2.4 1,5.6 1,-3 1,-2.8 1,8.1 1,-22.5 1,1.7 1,10.4 1,-9.1 1,13.1 1,-1.2 1,-5.6 1,-0.3 1,-3.3 1,14.8 1,-4.2 1,-0.4 1,-4.8 1,-0.1 1,9.2 1,14.5 1,8 1,-6.2 1,-18.1 1,1.2 1,-3.2 1,-5.6 1,-1.5 1,3.3 1,7 1,-12.5 1,8.4 1,-2.3 1,9.7 1,53 1,0.4 1,-90.2 1,-10.7 1,30.2 1,36.8 1,1.5 1,-34.6 1,-23.4 1,-19.6 1,19 1,17 1,34.9 1,24.8 1,-29.4 1,-25.1 1,-25.3 1,3.8 1,20.6 1,11.9 1,15.6 1,-3.9 1,-12.3 1,1.3 1,16.8 1,17.4 1,-18.9 1,-8.9 1,-22.1 1,-5.9 1,-1.6 1,-3 1,21.8 1,3.1 1,7.9 1,-0.9 1,-0.3 1,5.4 1,-20.1 1,-14.2 1,9.3 1,16.1 1,-2.8 1,6.3 1,-16.2 1,7.5 1,1 1,20.5 1,-19.2 1,-8 1,1.4 1,-3.7 1,18.3 1,-22 1,13.1 1,6.8 1,-5.5 1,-11.6 1,13 1,-3.7 1,1.7 1,-6.4 1,10.2 1,-4.2 1,0 1,1 1,-1.5 1,3.5 1,6.5 1,-3.9 1,0.7 1,-0.9 1,2.2 1,-3.7 1,-5.1 1,10 1,6.4 1,-6.1 1,-6.8 1,-0.2 1,3.2 1,-0.3 1,-6.5 1,-4.6 1,2.9 1,3.5 1,-1.7 1,-4 1,-2.9 1,5.8 1,-11.2 1,2.1 1,9.6 1,-10.8 1,5.6 1,10.2 1,-10.9 1,-20.3 1,4.4 1,9.2 1,-6 1,16.2 1,-6.4 1,8.1 1,1.9 1,3.9 1,-10 1,2 1,-8.2 1,6.7 1,1.7 1,-9.2 1,13 1,-0.1 1,4.5 1,3.8 1,-8.6 1,5.7 1,-7.3 1,-8 1,6.6 1,-5.3 1,-11.3 1,11.2 1,3.8 1,5.9 1,-1.8 1,-3.9 1,-14.6 1,11.6 1,21 1,-23.5 1,5.1 1,3.6 1,-4.4 1,1.5 1,-2.3 1,-9.9 1,-0.3 1,9.7 1,-3.4 1,4.5 1,14.9 1,15.8 1,-29.1 1,-8.6 1,-9.2 1,27.3 1,-7.3 1,1.9 1,9.8 1,-4.1 1,-5.7 1,-2.9 1,24.1 1,-19.3 1,-1.7 1,2.7 1,-10.3 1,0.2 1,-8.7 1,10 1,23.5 1,-38.6 1,10.8 1,-8.5 1,12.1 1,3.2 1,-9.1 1,7.8 1,8.2 1,-5.5 1,-5.5 1,8.7 1,-3.4 1,-1.2 1,-5.5 1,4.9 1,1.1 1,7.3 1,-6.7 1,-3.9 1,7.9 1,-2 1,-5.7 1,13.6 1,-1.7 1,-1.4 1,2.3 1,-1.6 1,0.4 1,1.5 1,-8.2 1,1.3 1,-7.5 1,0.5 1,2.6 1,4.6 1,4.4 1,-5 1,0.9 1,-1 1,-2.6 1,-5.9 1,11.7 1,-7.6 1,8.6 1,-0.4 1,15 1,-18.7 1,2.4 1,-9.7 1,11.4 1,-8.9 1,-2.4 1,5.4 1,2.2 1,-1.3 1,-2.3 1,2.4 1,3.5 1,1.7 1,-4.4 1,12.9 1,-6.7 1,1.1 1,-11.6 1,0.6 1,4 1,-15.1 1,8.4 1,0 1,-2 1,6.9 1,4.8 1,-10 1,-5.3 1,10 1,-0.6 1,-2.9 1,1.7 1,-2.4 1,1.3 1,-1.1 1,2.1 1,-6.7 1,6.1 1,-19.3 1,20.5 1,-2.8 1,-0.3 1,14.8 1,-3.1 1,-9.6 1,3.2 1,0.5 1,-0.2 1,3.4 1,-2.1 1,-4.2 1,0.3 1,3.4 1,3.1 1,-5.6 1,10.9 1,-3.4 1,-5 1,-5.2 1,4.2 1,-3.6 1,7 1,-10.3 1,-3.5 1,9.2 1,4.8 1,16.7 1,-14.3 1,-6.1 1,-7.3 1,-0.3 1,28.2 1,-15.1 1,-8.8 1,7 1,16.2 1,0.5 1,-1.4 1,-9.6 1,-13.2 1,8 1,11.4 1,-9.9 1,5.6 1,-1.8 1,-0.5 1,-1.4 1,-8.6 1,6 1,7.3 1,-11.4 1,4 1,-4.9 1,5.5 1,4.3 1,8.6 1,7.9 1,-5.8 1,-2.1 1,25.5 1,88.2 1,-98.3 1,-34.7 1,7.9 1,3.6 1,-14 1,-5.1 1,4 1,2.4 1,-10.4 1,20.2 1,7.7 1,-6.7 1,-10.4 1,2.8 1,19.8 1,-28.4 1,3.4 1,1.8 1,4.9 1,-5.3 1,5.6 1,-6.7 1,4.4 1,-1.2 1,-9 1,7 1,5.8 1,24.5 1,-13.5 1,-5.2 1,3.6 1,-6.5 1,-4.6 1,7.3 1,-0.9 1,-2.5 1,-7 1,-0.9 1,-2 1,9.4 1,-11.5 1,0.1 1,10.9 1,-2.4 1,-10.9 1,4.3 1,12.3 1,-5.4 1,2.6 1,-3.7 1,-6.6 1,3.7 1,2.7 1,0.3 1,3 1,11.7 1,-24.2 1,9.7 1,-4 1,11.8 1,-3.8 1,-0.2 1,-6 1,-2.7 1,7.4 1,-1.4 1,-5 1,3.9 1,-4.3 1,7.6 1,-7.1 1,5.4 1,-10.5 1,4.1 1,-6.1 1,2.3 1,-8.8 1,15.9 1,0.1 1,6.4 1,1.5 1,-1.4 1,11.6 1,-11.7 1,-5.8 1,5.6 1,-3.4 1,4.7 1,-3.6 1,-6.3 1,19.5 1,-11.1 1,-3 1,-1.4 1,9.4 1,3.3 1,-1.2 1,-8.4 1,-4 1,2.5 1,-1 1,-14.4 1,6.1 1,2.6 1,5.8 1,12.1 1,-1.8 1,-10.8 1,-2 1,4.2 1,0.9 1,-1 1,-2.6 1,1.1 1,-2.7 1,2.5 1,-6.7 1,-5.9 1,8.1 1,-1.4 1,4.8 1,-6.5 1,27.7 1,-25.8 1,0.8 1,-11.5 1,14.3 1,-0.8 1,4.6 1,-16.2 1,0.6 1,-0.2 1,-0.3 1,9.6 1,-5.6 1,9.2 1,12.3 1,-20.2 1,-6.7 1,9.7 1,9.1 1,-2.9 1,-8.7 1,2.6 1,4.5 1,-2.7 1,1 1,13.5 1,-10.4 1,-8.1 1,-0.4 1,-10 1,4.3 1,1.9 1,2.3 1,15.4 1,35.7 1,86.8 1,-96.7 1,-34.3 1,-8.4 1,8.4 1,15.6 1,-7.8 1,-16.3 1,6.9 1,-4 1,3.7" fill="none" stroke="#000" stroke-width="1.0" stroke-linejoin="round"/>
<path d="M53,569l1,-7.6 1,9.4 1,-8.1 1,5.6 1,19.8 1,-8.6 1,-0.8 1,4.6 1,-12.9 1,-1.5 1,4.2 1,4.3 1,5.2 1,0.9 1,-17.6 1,-2.2 1,12.1 1,-10.5 1,-0.1 1,8.5 1,-11.3 1,-5.1 1,19.9 1,-18.2 1,17.6 1,5.4 1,-7.1 1,3.8 1,-9.5 1,4.8 1,-7.1 1,-12.1 1,9.6 1,3 1,2.1 1,-0.8 1,-4.7 1,7.1 1,-8.6 1,7.6 1,-10 1,-3.3 1,3.4 1,2.3 1,-5.2 1,9.3 1,2.5 1,-7.8 1,9.9 1,-4.7 1,5.6 1,-5.5 1,1.6 1,2.4 1,0.3 1,-0.7 1,7.9 1,-8.5 1,1.4 1,7.4 1,-0.8 1,-3.8 1,-8 1,4.8 1,-0.6 1,5 1,-1.3 1,-5.1 1,-4.6 1,1.3 1,0.8 1,13.5 1,-16.6 1,-4 1,6.4 1,-3.8 1,-0.5 1,11.2 1,-5.9 1,-0.5 1,-8.4 1,1.4 1,8.4 1,-4.9 1,16.9 1,-15.3 1,-9.8 1,11.2 1,-0.8 1,-6.4 1,10.3 1,6.6 1,-13.6 1,6.2 1,3.9 1,-7.4 1,-3 1,5 1,1 1,0.1 1,-0.6 1,5.2 1,-1.2 1,3.6 1,-5 1,-2.8 1,-3.1 1,-2.1 1,-10.5 1,5.7 1,-2.1 1,-7.7 1,18.4 1,-4.2 1,2 1,1.8 1,-14.8 1,9.2 1,-2.8 1,-5.9 1,4.5 1,5.2 1,2.9 1,3.4 1,1.7 1,0.3 1,-6.5 1,-2 1,5.9 1,4.6 1,0.8 1,-10.2 1,-5 1,-2.6 1,15 1,-5 1,4.2 1,2.6 1,-5.6 1,1.8 1,-6.6 1,-4.5 1,0.4 1,-2.2 1,8.8 1,34.3 1,-33.4 1,-0.1 1,-1.5 1,-2.7 1,11.6 1,-8.9 1,-5.9 1,-0.7 1,-23.6 1,4.9 1,14.1 1,-4.1 1,11 1,5.4 1,-4.8 1,14.4 1,21 1,-21.4 1,-14.2 1,6.7 1,2.1 1,8.2 1,1.8 1,-9.2 1,15.1 1,5.8 1,-22.2 1,2.4 1,7.4 1,28.1 1,72.1 1,-80.3 1,-29.7 1,4.2 1,6.6 1,3.3 1,-20.4 1,7.2 1,-6.8 1,-2.9 1,14.4 1,-21.3 1,17.9 1,0.2 1,8.1 1,-9.1 1,-6.3 1,16.7 1,-6.5 1,3.5 1,7.4 1,-1.6 1,-3.1 1,-0.2 1,-2 1,4.1 1,-10.2 1,0.7 1,-1.8 1,10.3 1,-8.2 1,0.1 1,-4.4 1,4.3 1,9.8 1,-10.3 1,0.4 1,4.6 1,-6.1 1,-10.8 1,-0.2 1,11.9 1,5.8 1,9.1 1,-7.1 1,4.5 1,-4.3 1,-4.8 1,-2.4 1,-2.4 1,-8.3 1,-1.2 1,3.8 1,3.7 1,1.9 1,-9.1 1,2.1 1,-0.8 1,11.6 1,103.6 1,-78.2 1,-83.7 1,17.6 1,40.5 1,37.2 1,-19.3 1,-0.5 1,-52.4 1,-10.1 1,5.6 1,33.9 1,27.2 1,14.6 1,-26.9 1,-37.4 1,-13.8 1,15.2 1,18.3 1,13.8 1,16.5 1,-1.4 1,-13 1,-1.4 1,20.6 1,13.5 1,-12.7 1,-25.7 1,-24 1,2.9 1,-8.8 1,8.5 1,0.3 1,11.9 1,7.9 1,5.3 1,-4.2 1,-19.7 1,9.3 1,-17.5 1,7.3 1,7.4 1,5.2 1,16.6 1,-12.6 1,4.3 1,1.7 1,-0.4 1,6.8 1,-3.8 1,-9.7 1,0.8 1,4.6 1,-13.7 1,-2.3 1,26.3 1,-54.8 1,30.2 1,29.3 1,-54.2 1,24.4 1,0.5 1,-2 1,8.1 1,-6.9 1,3.5 1,10.5 1,-5.8 1,8.1 1,19.5 1,-11.5 1,-10.5 1,5.3 1,-1.4 1,-10.3 1,15 1,-4.1 1,-7.2 1,8.9 1,-5.9 1,-9.9 1,13.2 1,-3.4 1,-1.8 1,4.6 1,-0.3 1,-1.2 1,11.6 1,5.4 1,-13.7 1,2.7 1,28.5 1,-25.3 1,-15.2 1,6 1,5.2 1,-2 1,6.5 1,2 1,-7.4 1,1.7 1,-4.2 1,3.2 1,4.9 1,8 1,-18.5 1,-3.3 1,-0.8 1,1.4 1,1 1,-4.5 1,3.2 1,-17.5 1,0 1,-0.2 1,6.4 1,19.8 1,-19.1 1,-9 1,-16.1 1,20.3 1,37.8 1,-31.9 1,2.8 1,-19.3 1,5.6 1,11.8 1,-15.5 1,22.7 1,-7 1,5.9 1,-5.2 1,-4 1,14.4 1,-6 1,9.3 1,7.2 1,-10.2 1,-1.3 1,-5.8 1,-3.4 1,12.8 1,-6.9 1,0.6 1,0.4 1,25.9 1,-15.1 1,13.7 1,2.2 1,-23.2 1,-6.9 1,-1.7 1,-0.7 1,2.5 1,13.9 1,-2.1 1,4.2 1,-10.2 1,-2.2 1,1.1 1,11.2 1,-1.7 1,1.8 1,-14 1,-1.4 1,-2 1,2.6 1,-2.5 1,6.3 1,4.4 1,-6.9 1,5.3 1,10.3 1,-4.8 1,-0.7 1,-6.7 1,6.1 1,0.3 1,4.1 1,-5.5 1,-10 1,0.9 1,5.8 1,-1.1 1,-3.4 1,8.9 1,-5 1,-1.4 1,-5.9 1,-6.4 1,14 1,0.8 1,0.6 1,-5.2 1,-8.2 1,8.3 1,3.5 1,-1 1,-5.4 1,6.9 1,-8.7 1,-8.1 1,10.5 1,-5.1 1,8.9 1,1.9 1,-4.9 1,1.1 1,4.4 1,0.4 1,-5.9 1,-3.7 1,7.9 1,-3.5 1,8.3 1,-8.2 1,6.1 1,-1.9 1,-7.7 1,-0.5 1,-8 1,15.3 1,21.6 1,-21.6 1,-8.7 1,-5.3 1,-9.5 1,14.2 1,-2.6 1,-0.5 1,-0.9 1,4.6 1,-0.2 1,7.2 1,-6.8 1,15 1,-15.2 1,-0.9 1,5.3 1,26.7 1,13.4 1,-48.5 1,3.4 1,8.6 1,21.5 1,-23.2 1,-4.9 1,7.7 1,-0.6 1,-3.2 1,-6.7 1,7.3 1,4.1 1,0.9 1,2.9 1,-7.2 1,-3.6 1,4.6 1,-5 1,6.3 1,-6.5 1,6.7 1,-9.3 1,-2.9 1,6.6 1,-2.7 1,8.9 1,-1.7 1,-4.5 1,2.9 1,0.6 1,22.1 1,-21.3 1,-4.7 1,2.1 1,3.4 1,4.5 1,2.6 1,4.5 1,4.6 1,1.6 1,8.7 1,-5.3 1,-15.9 1,-9.5 1,6.2 1,-1.9 1,4.9 1,-5.2 1,5.2 1,0.3 1,-10.1 1,16.1 1,-16.6 1,2 1,8.4 1,-5.9 1,1.7 1,-1.1 1,-3 1,-2.3 1,12.2 1,-0.8 1,-7.1 1,5.8 1,-8.7 1,5.3 1,-7.2 1,2.8 1,-9.1 1,-6.9 1,0 1,12.1 1,8.8 1,-1.9 1,-0.5 1,-9.6 1,6.7 1,7.6 1,-3.2 1,12.4 1,-19.9 1,2.7 1,-0.9 1,13 1,-0.3 1,-3.9 1,0.1 1,-5.2 1,-6.5 1,6.5 1,17.1 1,-19.8 1,-0.2 1,-1.5 1,-3.2 1,9.4 1,-4.8 1,2.1 1,1 1,23.7 1,-21.7 1,1.3 1,-7.8 1,2.6 1,-6.2 1,1 1,-0.3 1,4.2 1,4.2 1,8 1,-10.9 1,8.2 1,3.4 1,-11.2 1,0.2 1,0 1,3.7 1,0.5 1,-11.6 1,19.3 1,0.7 1,-12 1,3 1,-4.3 1,-3.9 1,5.3 1,-27.7 1,8.6 1,7.9 1,-6.4 1,29 1,-13.5 1,-13.2 1,14.7 1,6.7 1,-12.2 1,4.4 1,-1.4 1,-0.4 1,6.6 1,-1.8 1,8.4 1,-5 1,0.7 1,0.7 1,-1.9 1,-3.7 1,1.6 1,5.1 1,4 1,-11.1 1,2.4 1,5.8 1,6.9 1,-10.2 1,1.1 1,0.5 1,-1.4 1,-3.4 1,-9.7 1,-2.9 1,7.1 1,-8 1,20.5 1,-12.3 1,6.5 1,2.7 1,-14.3 1,-1.7 1,11.8 1,-15.5 1,2.1 1,-1.5 1,4.7 1,11.7 1,-3.4 1,-3.5 1,-6.1 1,0.4 1,2.7 1,5.3 1,-0.2 1,0.6 1,-1.3 1,-13.8 1,12.1 1,4 1,-4.2 1,19.5 1,-11.9 1,-7.2 1,-1 1,-2.7 1,6.4 1,7.3 1,-1.8 1,-3.1 1,1.6 1,2.5 1,1.1 1,-6.8 1,-2.1 1,3.5 1,1.6 1,-4.5 1,-6.2 1,-0.3 1,-5.3 1,7.9 1,1.2 1,-4 1,-8.1 1,13.2 1,7.8 1,-11.2 1,-3.6 1,0.9 1,5.5 1,4 1,-10.6 1,-11.8 1,9.6 1,-1.8 1,9.2 1,-3.5 1,-8.4 1,19.6 1,-2.3 1,8.1 1,-9.8 1,2.1 1,-6 1,5.4 1,0.3 1,4 1,-11.3 1,3.4" fill="none" stroke="#000" stroke-width="1.0" stroke-linejoin="round"/>
<path d="M53,569l1,-6 1,11.3 1,-8 1,10.2 1,-5.8 1,1.6 1,3.3 1,20.2 1,-34.7 1,-6.5 1,20.2 1,-5.6 1,-12.6 1,11.3 1,-7.6 1,1.7 1,42 1,-41 1,-11 1,14.3 1,-11.2 1,-3.6 1,1.6 1,-2.4 1,6.6 1,0.2 1,-10 1,3.2 1,9.2 1,-14.3 1,21.2 1,-9.1 1,5.8 1,-9.3 1,12 1,2.9 1,-1.4 1,2.8 1,1.5 1,-6.4 1,10.6 1,-18.1 1,3.7 1,-4.5 1,10.5 1,-2.2 1,-7 1,-0.1 1,5.8 1,6.1 1,4.9 1,-3.7 1,-6 1,-0.3 1,-10.6 1,2.9 1,-7.5 1,11.8 1,-11.1 1,-14.4 1,22.9 1,-19.8 1,9.4 1,17.8 1,-8.6 1,4 1,-3.9 1,5.3 1,27.8 1,-16.3 1,-6.9 1,2.3 1,8.8 1,-8.7 1,8.1 1,-3.7 1,-5.8 1,-1.6 1,-1.7 1,4.6 1,-1.4 1,2.6 1,4 1,5 1,-2.6 1,-12.7 1,9 1,-0.6 1,-3.3 1,-6.4 1,3.3 1,-4.5 1,1.6 1,1.4 1,10.2 1,13.1 1,-8.5 1,-2.9 1,-9.9 1,4.4 1,-10.1 1,3.7 1,4.8 1,-6.4 1,-3.9 1,9.1 1,-6.5 1,-4.6 1,3.3 1,2.4 1,-2.2 1,-0.4 1,8.2 1,-5.4 1,2.2 1,5.8 1,-4.9 1,-0.6 1,1.8 1,0 1,0 1,-7.7 1,-13.1 1,5.8 1,-11.5 1,9.9 1,5.1 1,-8.5 1,11.7 1,-4.8 1,9.8 1,0.1 1,-0.7 1,-0.7 1,-15 1,13.2 1,-0.1 1,1.7 1,4.1 1,-9.1 1,-5.2 1,4.8 1,1.6 1,10.9 1,-10.1 1,2.8 1,3.4 1,2.7 1,-4.7 1,7.5 1,0.7 1,-3.7 1,0 1,9.2 1,-0.9 1,-6.3 1,4.8 1,-5.4 1,-7.6 1,20.5 1,-5.4 1,11.2 1,-15.9 1,-6.1 1,0.7 1,3.5 1,-5 1,3.3 1,5.3 1,0.7 1,-0.6 1,12.9 1,-19.5 1,-5.9 1,-3.2 1,-4.6 1,-14.8 1,22.1 1,1.7 1,-10.9 1,20.4 1,-3.1 1,-5.7 1,15.8 1,-9.5 1,5.3 1,8.4 1,-9.6 1,3.9 1,-19.3 1,16.9 1,1.6 1,-7.8 1,8.5 1,0.4 1,2.8 1,-3.7 1,-4 1,-2.9 1,-0.4 1,-0.4 1,-7.2 1,2.3 1,-5.5 1,19.5 1,11.2 1,-13.2 1,-8.5 1,0.4 1,5.1 1,-0.7 1,-5.8 1,1.4 1,-5.7 1,0.4 1,3.1 1,3.6 1,5.7 1,-11.3 1,3.9 1,4.7 1,0.3 1,-4.3 1,-0.5 1,-2.5 1,-5 1,-0.2 1,7 1,-7 1,-1.6 1,6.6 1,-9.5 1,6.1 1,-1.2 1,34.7 1,21.9 1,32.1 1,-106.9 1,-20.7 1,21 1,50.4 1,9 1,-36.5 1,-25.7 1,-27 1,22 1,27.6 1,19.7 1,24 1,-12.7 1,-27.4 1,-29.7 1,3.2 1,10.7 1,20.2 1,22 1,-0.6 1,-17.5 1,8.2 1,13.3 1,16.7 1,-9.2 1,-22.6 1,-26.3 1,-6.6 1,-7.5 1,10.6 1,6.1 1,8.2 1,2.5 1,1.5 1,-0.7 1,-6.1 1,1.1 1,0.5 1,0 1,5 1,23.2 1,-23.3 1,6.4 1,-4.7 1,-12.3 1,9.4 1,-8.8 1,9.8 1,2.7 1,4.9 1,-5.8 1,-4.2 1,-3.6 1,6 1,4.1 1,-2.4 1,11.1 1,-12.2 1,-0.9 1,-0.3 1,-9.8 1,4 1,-11.2 1,9.8 1,1.1 1,-9.6 1,36.1 1,-30.7 1,0.8 1,3.9 1,12.2 1,-11.4 1,8.8 1,-10.3 1,-1.4 1,-3.2 1,0.7 1,10.6 1,-10.7 1,-4.6 1,5.6 1,-2.7 1,9.6 1,-6.8 1,0.8 1,9.9 1,0.2 1,-2.6 1,-5.5 1,3 1,-2.7 1,1.4 1,2.8 1,4.7 1,-7.9 1,2.1 1,22 1,-24.5 1,-4.7 1,3.8 1,2.6 1,7.8 1,-5.6 1,-2.8 1,1.8 1,-3.9 1,4.9 1,5.8 1,15.1 1,-23.9 1,-2.1 1,3.3 1,-1.8 1,-10 1,-4.8 1,-2.2 1,18.1 1,5.8 1,12.5 1,-9 1,-2.3 1,-11.9 1,-6 1,9.7 1,5.9 1,-2 1,4 1,23.8 1,-27.6 1,-20 1,9.4 1,3.4 1,-0.5 1,-10 1,6.1 1,-0.5 1,-0.5 1,2.2 1,-1.5 1,1.8 1,-1.9 1,-4 1,6.8 1,1.4 1,8.7 1,42.3 1,-43.8 1,-10.3 1,22.1 1,16.4 1,-42.1 1,9.8 1,-2.7 1,11.7 1,-6.6 1,5.4 1,-1.9 1,6.1 1,-4.7 1,-1.2 1,-1.2 1,0 1,-4.8 1,3.9 1,-1.3 1,8.9 1,-11.6 1,2.4 1,5.3 1,0.3 1,-1.9 1,6.8 1,-10.8 1,2.4 1,6.7 1,-4.1 1,-0.6 1,19 1,-10.2 1,7.3 1,-18.6 1,-1.1 1,-0.2 1,10 1,-7.3 1,8.9 1,-7.7 1,-1.9 1,3 1,-3 1,-1.1 1,-0.2 1,2.3 1,6.8 1,4.9 1,8.9 1,-6.7 1,-20.2 1,5.6 1,3.8 1,1.5 1,-8.1 1,-6.7 1,6 1,0.8 1,40.8 1,79.8 1,-88.9 1,-32.1 1,-14.8 1,-0.8 1,11.6 1,-0.3 1,9.2 1,-0.2 1,-8.3 1,3.9 1,1.5 1,4.4 1,-5.7 1,-3.3 1,7.9 1,-3.7 1,2.7 1,0 1,22 1,-48.9 1,22.6 1,4.4 1,-12.2 1,2.2 1,2.9 1,14.7 1,-3.5 1,-1 1,-17 1,2.7 1,8.7 1,4.1 1,-5.1 1,4.6 1,1 1,-2.6 1,8.2 1,-3.5 1,-4.1 1,0.6 1,-1 1,11 1,-10.5 1,0.5 1,6.4 1,-11.4 1,0.6 1,8 1,-3.8 1,-4.5 1,11.7 1,-2.5 1,0.4 1,-1.1 1,-1.2 1,2.8 1,14.8 1,-12.8 1,-1.9 1,1.5 1,-1 1,5.9 1,-7.1 1,-2 1,-4.4 1,7.6 1,-12.9 1,13.7 1,5.8 1,-5.5 1,1.9 1,4 1,-12.9 1,2.9 1,4.6 1,0.3 1,-0.6 1,-7.6 1,8.8 1,1.6 1,-2.1 1,14.3 1,-29 1,5.1 1,4.5 1,-2.2 1,5.7 1,7.4 1,-12.8 1,11.8 1,-5.7 1,-13.9 1,8 1,1 1,-6.5 1,4.8 1,10 1,7.9 1,-13.5 1,-9.4 1,-4.1 1,1.8 1,4.3 1,-3.9 1,6.4 1,-1.6 1,5.5 1,-10.6 1,-4.4 1,5.4 1,1 1,2.8 1,-7.7 1,10.1 1,-5.1 1,-0.8 1,-2 1,14.6 1,34.8 1,93.1 1,-103.7 1,-36.3 1,0.1 1,1.9 1,5.4 1,-4.9 1,2.2 1,7.6 1,-2.1 1,-1.3 1,5.7 1,-18.8 1,7.2 1,1.2 1,-7.7 1,6.8 1,5.1 1,-5.6 1,-1.3 1,3.8 1,-1.2 1,-5.6 1,1.2 1,8.1 1,-0.2 1,-1.6 1,-10.5 1,-2.1 1,-0.2 1,5.4 1,-7.7 1,9.9 1,3.8 1,3.6 1,0.9 1,-12.1 1,4.8 1,-1.6 1,10.2 1,0.8 1,-6.6 1,-0.2 1,8.7 1,24.3 1,70.9 1,-79 1,-28.7 1,6.6 1,4.1 1,-5 1,-3.7 1,4.7 1,3 1,-2.3 1,7.8 1,-9.3 1,-3.6 1,-3.9 1,-1.9 1,1.3 1,-3.7 1,11.6 1,6.1 1,-20.8 1,6.6 1,-10.3 1,-1.6 1,16.5 1,-2.9 1,21.4 1,-23 1,6.2 1,43.5 1,-56.9 1,-12.1 1,24.8 1,-9.5 1,12.3 1,-6.7 1,7.7 1,-1.7 1,0.6 1,-1.6 1,0.7 1,-1.6 1,39.3 1,84.7 1,-94.4 1,-33.6 1,-1.6 1,-4.7 1,0.1 1,-1.9 1,-3.1 1,3.4 1,4.2 1,-4.4 1,3.2 1,16.2 1,-16 1,-2.6 1,-0.8 1,-1.5 1,3.1 1,22.3 1,-36.5 1,5.4 1,14.5 1,-5.6 1,-4.6 1,2.4 1,6.1 1,4.1 1,-7.2 1,10.8 1,-3.6 1,29.4 1,-21.1 1,-10.6 1,6.2 1,7.6 1,-15.6 1,2.2 1,0.4 1,8 1,-1 1,-4.4 1,14 1,-15.3 1,-1.2 1,-4.6 1,2.8 1,6 1,0.4 1,-5.6 1,-10.8 1,-0.9 1,-13.3 1,50.4 1,-0.7 1,-28 1,7.1 1,-5.4 1,14.8 1,0.8 1,-18.8 1,8.6 1,4.9 1,6.8" fill="none" stroke="#000" stroke-width="1.0" stroke-linejoin="round"/>
<path d="M53,570.4l1,1.1 1,-2.9 1,-3.7 1,0.9 1,2 1,-0.7 1,12.2 1,-15 1,7.4 1,2.2 1,-2.3 1,8.6 1,2.9 1,-8.2 1,1.7 1,6.5 1,13.4 1,-18 1,-9.2 1,-1.2 1,9.9 1,19 1,-25.4 1,-5.5 1,-6.8 1,-6.6 1,10.7 1,-8.8 1,9 1,2.1 1,4.6 1,1.8 1,-0.3 1,-2 1,-7.9 1,-0.6 1,1.8 1,6.1 1,1.1 1,1.4 1,-8.1 1,14.7 1,-2 1,-6.6 1,10.8 1,-3.6 1,-9.1 1,1.3 1,9.1 1,-10.7 1,9.3 1,-3.6 1,9.9 1,-10.9 1,-1.1 1,3.9 1,4.3 1,-8.4 1,5.8 1,2.9 1,-11.1 1,0 1,-1.1 1,-3.4 1,-7.2 1,3.5 1,4.2 1,19.1 1,-10.6 1,-29.1 1,-3.4 1,17.6 1,-7.9 1,-7.3 1,24.4 1,-12.7 1,6.2 1,9.5 1,1.7 1,-9.6 1,9.2 1,-5.9 1,12 1,-9 1,0 1,-1.3 1,2.2 1,2.8 1,1.1 1,-5 1,-11.2 1,-4.5 1,1.6 1,13.8 1,-17.1 1,-0.1 1,0.2 1,-12 1,14 1,16.4 1,22.4 1,-18.4 1,-12.5 1,0.8 1,3.8 1,9.3 1,-13.4 1,-0.3 1,-0.7 1,5 1,2 1,-1.7 1,-0.9 1,3.5 1,28.1 1,-36.6 1,0.3 1,7.2 1,-4.6 1,0.5 1,5.5 1,-7.4 1,5.5 1,-2.4 1,6.1 1,0.8 1,1.6 1,4.7 1,0.6 1,-2.4 1,-8.1 1,-10.2 1,22.9 1,-6.8 1,-1.4 1,-15.6 1,5.6 1,-1.1 1,-4.3 1,9.7 1,-2.3 1,-11.7 1,17.7 1,-7 1,-0.7 1,0.8 1,8.4 1,9.6 1,-10.6 1,3.8 1,-2 1,3.3 1,-1.7 1,-5.4 1,2.3 1,9 1,-11.1 1,11.9 1,5 1,-12.4 1,10.2 1,-9 1,4.5 1,1 1,-6.3 1,0.5 1,4.7 1,-6.7 1,0.8 1,7.8 1,-13 1,-5.2 1,-1.1 1,17.4 1,-3.8 1,3.8 1,-10.7 1,16.3 1,-3.5 1,-9.3 1,-0.7 1,-0.2 1,-6.3 1,7 1,-6.2 1,-1.8 1,10.7 1,-2.7 1,21.5 1,-25.3 1,-12.8 1,5 1,7.7 1,0.6 1,2.2 1,-2.9 1,7.3 1,-9.2 1,10.8 1,-2.3 1,0.6 1,7.2 1,-9 1,-2.8 1,8.4 1,-13.6 1,13.1 1,-3.7 1,-1.4 1,-6 1,4.7 1,-4.9 1,-1.1 1,3.9 1,3.9 1,-9.5 1,-2.9 1,-1.2 1,11.3 1,2.1 1,-4.3 1,-0.3 1,-7.5 1,5.2 1,0.8 1,-6.9 1,4.1 1,0.7 1,-5.6 1,-4.5 1,4.3 1,-12.1 1,38.1 1,-18.5 1,-9.9 1,22.5 1,86 1,-100.5 1,-41.5 1,23.3 1,46.6 1,13.1 1,-35.6 1,-31.6 1,-21.2 1,9.3 1,24.7 1,23.5 1,39.5 1,-18.1 1,-30.2 1,-28.9 1,-3.9 1,23.2 1,19.8 1,25 1,0.8 1,-19.1 1,-5 1,16.5 1,6.7 1,3.7 1,-19.8 1,-12.1 1,-18.5 1,-11.1 1,-0.6 1,19.7 1,12.1 1,-0.3 1,-4.5 1,4.3 1,-14.2 1,9.7 1,-15.1 1,3.6 1,15.2 1,-19.7 1,6.2 1,13.6 1,-0.1 1,0.6 1,-19.7 1,3.7 1,12 1,2.5 1,-9.4 1,9.1 1,-20 1,6.6 1,2.1 1,-13.3 1,2.3 1,17.4 1,2.2 1,-7.7 1,4.9 1,-9.2 1,-7.4 1,17.6 1,1.8 1,-4.3 1,16.8 1,-5.6 1,-1.7 1,2.9 1,-13.8 1,-7.3 1,6.2 1,9.5 1,2.2 1,-7.3 1,0.2 1,-11.7 1,10 1,5.5 1,5.2 1,16.6 1,-11.5 1,-15.4 1,-0.9 1,9.2 1,-7 1,6.8 1,-6.4 1,-10.5 1,0.8 1,8.4 1,6 1,8.4 1,-13.3 1,-10.4 1,5.1 1,2.3 1,2.9 1,-5.3 1,3.3 1,1.7 1,-3.4 1,-0.1 1,-8.6 1,9.9 1,25.8 1,-21 1,1.6 1,-4.5 1,-7.3 1,-7.9 1,-7.8 1,14.9 1,9.5 1,-24.5 1,7.7 1,3.8 1,-3.3 1,7.1 1,-9 1,17.8 1,2.5 1,-7 1,1.9 1,3.8 1,-2.3 1,4.3 1,21.2 1,-5.6 1,24.7 1,-46 1,12.7 1,2.1 1,-16.2 1,2.8 1,4.7 1,1.1 1,-6.9 1,3.3 1,3.9 1,-0.6 1,15.5 1,-18.8 1,7.8 1,12.6 1,-6.9 1,-11.4 1,14.8 1,-10.5 1,-3.2 1,8.3 1,2.9 1,-0.6 1,-0.7 1,4.9 1,0.3 1,-7 1,-5.1 1,1.6 1,-5.2 1,3.6 1,-0.4 1,-6 1,7.2 1,-0.4 1,-0.1 1,-2.8 1,-7.7 1,-2.8 1,1.6 1,2.6 1,-1.1 1,13 1,-9.7 1,-2.2 1,-3.8 1,-0.5 1,7.1 1,3 1,-4.3 1,-6 1,-2.3 1,4.5 1,-5.2 1,4.4 1,-1 1,20 1,-12.7 1,-2.1 1,1.9 1,1.9 1,10.2 1,4.9 1,-14.8 1,3.5 1,-13.7 1,6.9 1,-5.7 1,6.2 1,0.2 1,-11 1,12.7 1,-7.1 1,-2.7 1,-0.6 1,14.6 1,16.9 1,-18.2 1,0.3 1,-6.9 1,0.2 1,1.7 1,-4 1,10.6 1,-5 1,-5.9 1,16.5 1,-15.1 1,5.4 1,-1 1,8 1,-16.3 1,8.2 1,-5.5 1,5.8 1,-3.6 1,-7.3 1,-5.9 1,-7.4 1,-2.6 1,21.6 1,-9.9 1,10.7 1,5.9 1,1.1 1,-4.7 1,6.9 1,-1.7 1,2.6 1,-3 1,3.3 1,-3.7 1,-10.7 1,-0.8 1,-2.9 1,-17.2 1,16.8 1,10.9 1,-4 1,0.4 1,5.4 1,-0.6 1,-4.7 1,15.6 1,30.3 1,-43.4 1,-4.8 1,1.3 1,1.4 1,15.5 1,-19.1 1,-9.1 1,13.1 1,12.5 1,-20.4 1,15.9 1,14.6 1,-10 1,-2.3 1,5.8 1,1.6 1,-6.7 1,-4.8 1,6.9 1,2.5 1,-8.1 1,13 1,4.6 1,-16.1 1,-0.6 1,6.6 1,-7.5 1,-4.3 1,1.5 1,-1.1 1,0 1,-6.5 1,-7.1 1,6.3 1,2.3 1,3.5 1,0 1,10.9 1,-14 1,1.2 1,7.8 1,-7.1 1,-5.5 1,-0.7 1,5.7 1,-22.9 1,22.6 1,-10.4 1,6.2 1,4.1 1,-4.9 1,4.4 1,6.2 1,0.1 1,4.1 1,-6.5 1,-3 1,9.4 1,1.6 1,-0.7 1,-5.6 1,4.3 1,-9.1 1,-4.8 1,-8.6 1,4.8 1,13.6 1,3.9 1,-3 1,2.2 1,-13.2 1,0.7 1,1.1 1,7.1 1,0.8 1,-0.9 1,-5 1,5.4 1,-7.8 1,6.1 1,-8.1 1,22.2 1,13.2 1,-24.8 1,1.6 1,20.8 1,-15.1 1,-10.1 1,-1.8 1,-0.7 1,-1.2 1,-0.5 1,-2.8 1,3.3 1,0.5 1,12.7 1,-1.4 1,-5.1 1,-1 1,4.3 1,2.1 1,-0.6 1,-10.8 1,-2.5 1,-7.7 1,12.5 1,-0.5 1,-10.6 1,-3.1 1,10.4 1,2.2 1,3.2 1,-1.1 1,3.7 1,-4.4 1,2.9 1,-0.8 1,-4.4 1,2.3 1,-6.6 1,-1.6 1,-0.5 1,5.5 1,7.6 1,4 1,5.1 1,-11.4 1,-6.9 1,13.2 1,-9.3 1,6.7 1,3.9 1,-2.9 1,-0.5 1,1.3 1,14.3 1,-3.2 1,-19.6 1,-1.7 1,0.2 1,3.4 1,-0.3 1,-0.2 1,-11.1 1,9.2 1,-2.3 1,-2.5 1,9.8 1,-15.5 1,5.3 1,4.4 1,1.5 1,14.9 1,-8.9 1,0.8 1,-7.7 1,-2.8 1,2.7 1,9.6 1,-9.4 1,5.3 1,-6 1,6.1 1,-2.9 1,-2.1 1,20.6 1,-20 1,-16.6 1,17 1,12.8 1,-22.9 1,-12.7 1,18.5 1,-4.2 1,19.1 1,-8.3 1,13.6 1,-16.2 1,15.2 1,26.8 1,-27.9 1,-8.7 1,-4.7 1,-9.2 1,10.4 1,1.9 1,-6.4 1,0 1,-10 1,4.5 1,1.6 1,5.9 1,-0.6 1,-13.8 1,5.1 1,-2.2 1,6.9 1,7.2 1,-24.3 1,10.1 1,-2.1 1,-9.9 1,12.6 1,4.8 1,28.3 1,-15.9 1,0.9 1,5.2 1,-4.7 1,10.3 1,-0.4 1,-25.6 1,5.9 1,20.3 1,-11.5 1,-5.5 1,-2.4 1,-6.2 1,7.6 1,0.7 1,3.8" fill="none" stroke="#000" stroke-width="1.0" stroke-linejoin="round"/>
<path d="M53,568.8l1,-2.9 1,0.9 1,-1.8 1,10 1,-5.8 1,-3.8 1,0.3 1,-2 1,6.3 1,18.2 1,-28.4 1,0.8 1,19.8 1,-14.8 1,0.7 1,0.5 1,-6.5 1,10.8 1,-8.5 1,3.9 1,-8.6 1,3.4 1,2 1,-0.3 1,3.3 1,1.5 1,-4.6 1,-3.4 1,-9.7 1,12.5 1,3.1 1,7.9 1,-12.8 1,2.5 1,-4.5 1,16.9 1,-9.7 1,-5.1 1,10.8 1,-0.3 1,-0.8 1,6.1 1,-9.4 1,-2.4 1,10.7 1,-7.4 1,-2.6 1,8.6 1,-18.3 1,7.8 1,-0.1 1,-11.3 1,17.5 1,0.4 1,1 1,0.6 1,-9.9 1,12.6 1,-0.6 1,7.3 1,-6.5 1,-12.9 1,7.1 1,3.7 1,-0.7 1,6.3 1,-6.7 1,-0.7 1,6.9 1,-2.7 1,7.5 1,1.2 1,-17.1 1,5.5 1,-2.5 1,-4.1 1,13.8 1,-7.3 1,0.2 1,23.8 1,-30.8 1,0.2 1,1.7 1,-2.2 1,3.7 1,-1.8 1,13.8 1,0.4 1,-7.6 1,-0.8 1,-2.2 1,5.8 1,-10.3 1,-4.3 1,-1.4 1,9.2 1,-7.4 1,4.1 1,2.8 1,-18.6 1,3.3 1,15.7 1,-12.3 1,6.2 1,8.7 1,4.3 1,-1.1 1,-7 1,1.7 1,6.6 1,-14.2 1,7.2 1,-7.6 1,0.9 1,-2.3 1,5.2 1,4 1,0.7 1,5.7 1,-0.5 1,0.8 1,-5.4 1,-10.7 1,6.9 1,-0.7 1,11.1 1,-2.3 1,-7.2 1,-4.2 1,-0.5 1,-7.9 1,6.4 1,-7.9 1,25.3 1,-2.5 1,9.3 1,-18.9 1,-0.9 1,-0.4 1,-2.6 1,12 1,-7.3 1,0.2 1,15.4 1,9.9 1,-14.3 1,9.6 1,-12.7 1,3.1 1,-6.2 1,13.7 1,-5.2 1,8.2 1,3.1 1,-14 1,-1.2 1,4.3 1,29 1,88.2 1,-98.3 1,-34.7 1,9 1,2.5 1,0.3 1,-4.5 1,12.9 1,1.3 1,-2.3 1,-6.1 1,-4.5 1,0.1 1,2.2 1,-0.5 1,-6.1 1,1.5 1,-6.5 1,21.7 1,-14.8 1,0 1,-10 1,3.8 1,1.7 1,-3.6 1,16.3 1,1.4 1,-8.8 1,-6.6 1,7.2 1,1.6 1,3.4 1,-2 1,-4.6 1,6.5 1,-6.8 1,0.3 1,-8.7 1,-1.7 1,0.6 1,-9.9 1,20.3 1,-13.8 1,3 1,3.1 1,-0.5 1,2.4 1,1.5 1,-7.6 1,28.6 1,-20.7 1,-5.5 1,25.7 1,-14.2 1,-17.3 1,1.8 1,-14.1 1,12.9 1,1.2 1,-15.8 1,15.6 1,9 1,-15.5 1,8.3 1,4 1,-2.7 1,-1.9 1,3.5 1,9.8 1,18.2 1,-27 1,10.7 1,-2.7 1,-8.9 1,3.6 1,-4.9 1,11.5 1,64.6 1,-10.6 1,-97 1,0.4 1,16.3 1,56.6 1,-5.6 1,-40.8 1,-24.5 1,-18.1 1,22.9 1,24.9 1,31 1,30.4 1,-26.7 1,-38.8 1,-28 1,-0.3 1,42 1,12.3 1,12 1,1.9 1,-14.2 1,4.2 1,6.9 1,8.4 1,-7.9 1,-28.6 1,-3.5 1,-5.2 1,-11.8 1,12.9 1,6.3 1,14.4 1,-0.1 1,18.1 1,-9.8 1,-10.8 1,-5.9 1,1.8 1,-9 1,-4.9 1,6.4 1,2.8 1,1.9 1,9.6 1,8.8 1,-15.3 1,-3.3 1,4.9 1,-7.2 1,5 1,-7.4 1,8 1,-6.9 1,7.6 1,-1.9 1,-3.1 1,-7.8 1,-2 1,12.4 1,-5.7 1,6.4 1,11.8 1,-12.3 1,-7.1 1,5.2 1,0.7 1,-8.3 1,-2.3 1,-7.7 1,11.6 1,-16.4 1,12.7 1,-4.1 1,-5.2 1,9.4 1,3.8 1,-8.8 1,7 1,2.5 1,-5.9 1,3.3 1,-2.9 1,0.2 1,-8.7 1,6.1 1,19.4 1,-15.9 1,7.9 1,2.3 1,-6.9 1,2.5 1,1.7 1,-0.5 1,-2.7 1,-3.5 1,-8.1 1,13.6 1,6 1,-4 1,9.5 1,-12.1 1,-1.7 1,-4.9 1,-0.9 1,6.5 1,8 1,-1.8 1,-4.2 1,3.3 1,-1 1,2.8 1,3.1 1,-5.6 1,3.1 1,1.4 1,-3.3 1,1.5 1,5.5 1,-13 1,1.6 1,4.5 1,2.2 1,-0.7 1,12 1,1.9 1,-8.9 1,-9.9 1,-4.4 1,9 1,-0.5 1,-6.5 1,8.7 1,-3.6 1,7.8 1,-7.7 1,4.7 1,-1.7 1,-0.5 1,4 1,-7.6 1,0.7 1,6.1 1,-17.1 1,16.9 1,-7.9 1,7.4 1,-1 1,5.2 1,-0.8 1,-8.8 1,4.8 1,-2.6 1,9.5 1,1.9 1,-8.6 1,3.1 1,-3.8 1,-2.9 1,0.5 1,0.6 1,-8.5 1,6.7 1,-12.9 1,-15.5 1,17.4 1,-6.4 1,-1.3 1,5.1 1,-8.1 1,-5 1,14.5 1,-11.3 1,15 1,32.1 1,-55.6 1,23.4 1,-4.9 1,5.8 1,2.6 1,-1.4 1,3.2 1,16.8 1,-4 1,-1.5 1,5.3 1,-15.9 1,4.1 1,2.6 1,-2.7 1,2.3 1,-7.1 1,0.7 1,3.7 1,-10 1,3.6 1,7.9 1,2 1,-7.8 1,-6.4 1,9.9 1,-11.4 1,-8.2 1,3.8 1,9 1,-11.4 1,17 1,-5 1,6.2 1,-4 1,6.7 1,-8.6 1,-0.1 1,0.7 1,11.5 1,16 1,-23.1 1,-7 1,12.4 1,-3.9 1,-0.4 1,-7 1,11.3 1,-6.9 1,-2.8 1,-2.9 1,19.1 1,-8.6 1,4.5 1,-3.2 1,-3.1 1,-4.8 1,18.1 1,8.8 1,-15.3 1,-9.7 1,8.4 1,-10.7 1,-14.1 1,5.4 1,7.8 1,4.8 1,2 1,5.7 1,-4.8 1,-12.2 1,5.4 1,3.5 1,-6.3 1,16.3 1,1 1,3.2 1,-9.8 1,5.2 1,-1.1 1,-5.4 1,0.8 1,4.7 1,-11 1,8.9 1,9.3 1,9.1 1,-18.3 1,-1.3 1,-7.9 1,8 1,23.5 1,-3.6 1,-5.2 1,-3.2 1,-11.8 1,0.2 1,-4.6 1,-3.6 1,9 1,9.1 1,-8.9 1,-14.8 1,7.8 1,1.7 1,-3.6 1,10.6 1,14.3 1,-11.9 1,-25.7 1,-3 1,9.3 1,-8 1,4.9 1,-6.7 1,1.4 1,8.5 1,-2.9 1,8.6 1,23.5 1,-20.8 1,-0.7 1,4.3 1,10.2 1,-12.7 1,2 1,7.9 1,-15 1,-2.8 1,4.8 1,-2 1,3.2 1,6.4 1,1.6 1,-8.1 1,-0.7 1,0.8 1,-8.5 1,-11.9 1,23.3 1,19.9 1,-23.7 1,-10.5 1,4.5 1,-1.4 1,3.6 1,1.1 1,-7.6 1,-7.6 1,0.6 1,-10.4 1,3.1 1,7.6 1,-12.6 1,17.5 1,-4.3 1,2.2 1,7.2 1,-2.3 1,4.9 1,5.7 1,5.6 1,3.4 1,-3.2 1,5.3 1,-7.1 1,5.8 1,2.2 1,-8.4 1,1.1 1,-6.6 1,1.1 1,-4.1 1,8.8 1,9.8 1,-4.2 1,-3.2 1,-14.6 1,-5.1 1,2.6 1,-8.9 1,7.8 1,3.1 1,-22.9 1,17.8 1,17.1 1,-13.9 1,11.9 1,-5.7 1,0 1,4.4 1,6.4 1,-8.3 1,22.4 1,-9.9 1,-18.5 1,2.6 1,0.2 1,4.8 1,8.6 1,-7.8 1,-16.6 1,14.8 1,-2.5 1,9.3 1,5.7 1,-3.5 1,-9.8 1,0.8 1,1.2 1,-3.9 1,5 1,1.9 1,-1.2 1,-1.8 1,-1.4 1,14.9 1,-19.9 1,-3 1,27.1 1,-13.3 1,0.1 1,-6.6 1,13 1,-18 1,-3.5 1,4.5 1,-6 1,0.5 1,4.1 1,13.7 1,-7.8 1,-9.1 1,3.3 1,3.6 1,-5.6 1,13.7 1,-1.1 1,-3.5 1,-2.7 1,15.7 1,-11.2 1,0 1,-8.2 1,12.3 1,-4.8 1,-6.4 1,4.4 1,5 1,-13.6 1,9.3 1,0.9 1,-2.5 1,2.2 1,2.4 1,-5.2 1,3.6 1,-5.2 1,12.5 1,-5.6 1,-3.6 1,-0.3 1,4.1 1,7.3 1,6 1,-14.6 1,-0.5 1,27 1,-21.6 1,-5.9 1,3.9 1,-4.4 1,-1.3 1,9.7 1,-3 1,-1.4 1,-5.1 1,2.4 1,5.1 1,-6.4 1,5.1 1,-7 1,0.9 1,4.4 1,-15.2 1,3.7 1,9.3 1,-16.9 1,26.7 1,8.5 1,-28.4 1,3.8 1,-5.4 1,0.2 1,5.9 1,2.4 1,7.9 1,-8.2 1,-5 1,4.2 1,-4.6 1,9.9" fill="none" stroke="#000" stroke-width="1.0" stroke-linejoin="round"/>
<path d="M53,572.3l1,-7.3 1,10.9 1,-5.8 1,6.7 1,-7.9 1,2.6 1,-6.1 1,7.3 1,-2 1,1.6 1,2.2 1,16.7 1,-14.3 1,-1.9 1,15.4 1,-7 1,-13.8 1,3.5 1,7.3 1,-3.9 1,-11.9 1,2.5 1,5.3 1,9.5 1,-0.7 1,-4 1,1.1 1,4.4 1,-7.4 1,-3.7 1,14.2 1,-3.6 1,6.7 1,-5.5 1,-6 1,6.2 1,-5.1 1,4.7 1,-2.3 1,2.9 1,-1.8 1,-2.9 1,-6.8 1,-0.1 1,4.2 1,3 1,-21.1 1,0.7 1,13.5 1,3.7 1,-1.4 1,1.4 1,4.3 1,-8.1 1,3.2 1,-3.7 1,6.2 1,-1.1 1,-3.3 1,-2.5 1,3 1,-1.3 1,7.1 1,-7.6 1,-11.7 1,0.4 1,-5.1 1,-10.7 1,27.6 1,-0.4 1,7.6 1,3.5 1,-15.3 1,4.1 1,5.2 1,-6.2 1,-3.8 1,4.4 1,-0.5 1,15.4 1,-5.6 1,6.8 1,-30.4 1,8.7 1,-1.3 1,4.6 1,-2.9 1,-3 1,10.7 1,10.1 1,-24.6 1,6.2 1,9 1,-3.2 1,-11.5 1,1 1,3.5 1,3.3 1,-2 1,-4.5 1,3.3 1,1.2 1,3.8 1,0.8 1,-0.5 1,-0.3 1,2.1 1,3.1 1,-9.1 1,0.2 1,3.1 1,-9.1 1,7.1 1,4.8 1,-12 1,1.9 1,8.3 1,0.3 1,-4.9 1,-1.6 1,6 1,-9.5 1,9.4 1,5.6 1,-10.8 1,-1.2 1,-0.6 1,-0.3 1,8 1,-9.9 1,10 1,0.8 1,-2.8 1,-11.9 1,12.8 1,-6.9 1,12.6 1,-8 1,20.6 1,-3.8 1,-22.8 1,-9.9 1,8.8 1,5.6 1,7.3 1,-0.9 1,2 1,-2.3 1,8.4 1,-7.8 1,2.5 1,-13 1,12.6 1,33.5 1,82.6 1,-92 1,-33 1,8.2 1,6.8 1,0.3 1,-7.6 1,-1.3 1,-0.7 1,15.3 1,-19.8 1,1.5 1,9.1 1,-1.3 1,-4.6 1,14.5 1,-21.2 1,-3.1 1,-2.4 1,8.3 1,9.5 1,-6.2 1,1.1 1,-6.4 1,5.5 1,-6.4 1,10.1 1,-5.4 1,-10.9 1,0.2 1,-5.7 1,5.8 1,14.1 1,22.5 1,-19.4 1,-9.1 1,9.4 1,5 1,-4.2 1,-2 1,1.7 1,-8.7 1,5.6 1,-0.2 1,-0.2 1,-4.8 1,7.6 1,11.8 1,-21.6 1,11.9 1,-3.6 1,-14.9 1,8 1,-1.1 1,3.5 1,-5.2 1,6.3 1,0.7 1,-8.7 1,0.8 1,1.3 1,5.2 1,4.9 1,1.1 1,-12.7 1,0.9 1,10.4 1,4.7 1,1.9 1,2.3 1,-5.6 1,-15 1,0.1 1,6.2 1,-9.9 1,7.9 1,-4.3 1,-2.9 1,8.4 1,5.9 1,-4.3 1,10.1 1,112.6 1,-117.1 1,-59.3 1,22.7 1,26.7 1,46.8 1,-33.5 1,-26.9 1,-19.7 1,-1.9 1,11.5 1,38.7 1,15.6 1,9.7 1,-28.8 1,-18.3 1,-27.1 1,17.8 1,13.6 1,17.7 1,14.3 1,-6.6 1,-5.1 1,14.3 1,8.3 1,6 1,-17.9 1,-15.9 1,-14.1 1,-12.2 1,-4.1 1,9.7 1,12.8 1,9.3 1,0.3 1,9.7 1,1 1,-15.4 1,-5.8 1,-9.1 1,1.2 1,0.7 1,7.9 1,-1.8 1,-3.9 1,1.1 1,-9.9 1,-0.4 1,4.3 1,-6.5 1,13.7 1,3.3 1,-5.2 1,2.8 1,-0.6 1,9.4 1,3 1,-5.8 1,0.5 1,1.8 1,0.1 1,-7.9 1,-7 1,6 1,-4 1,7.5 1,-9.3 1,7.2 1,-8.6 1,-6.9 1,34.5 1,2 1,-22.7 1,-4.3 1,1.6 1,9.6 1,-12.6 1,17.7 1,-18.6 1,-1.8 1,4 1,-0.4 1,0.7 1,5.4 1,-12.7 1,-1.1 1,5.9 1,3.9 1,7.2 1,-1.9 1,4.8 1,1 1,-7.1 1,-5.2 1,3.1 1,0.8 1,9.1 1,-1.1 1,-2.7 1,-0.5 1,-0.9 1,-5.1 1,15.1 1,3.4 1,-8.2 1,-1.8 1,1.1 1,-2.9 1,8.6 1,2.5 1,-17.4 1,-4 1,-10.2 1,10.7 1,3.4 1,-23.9 1,7.9 1,0.4 1,-2.3 1,12.7 1,-4 1,-3.9 1,17 1,-0.4 1,-1.6 1,7.7 1,-1.9 1,-3.2 1,4.1 1,-8.7 1,-3.7 1,-0.8 1,-0.6 1,7.4 1,2.3 1,5.3 1,1 1,-8.3 1,0 1,-13.2 1,1.1 1,21 1,-14.6 1,17.5 1,16.1 1,-27.1 1,-1.3 1,-10.9 1,-4.4 1,11.2 1,1.3 1,11.8 1,4.6 1,-11.7 1,-2.4 1,2 1,-5.1 1,-7.2 1,15.3 1,-1.5 1,16.1 1,-12.3 1,-11.1 1,4.9 1,-7.7 1,2.6 1,11.3 1,21.3 1,-24.8 1,-9.9 1,-1.5 1,7.7 1,-6.5 1,11.5 1,-6.1 1,0.6 1,2.3 1,11 1,-7.8 1,-2.6 1,-5 1,3.1 1,2.2 1,-4 1,6.7 1,-1.9 1,-4 1,5.6 1,24.4 1,-26.4 1,-11.6 1,-1.9 1,19.4 1,-13.3 1,-8 1,8.7 1,-1.3 1,-2.5 1,10.9 1,-15.6 1,10.3 1,-13.4 1,13.2 1,1.6 1,2.7 1,1.1 1,-4.2 1,-2.6 1,4.4 1,6.3 1,-3.7 1,26.1 1,-22.7 1,-6.7 1,6.2 1,3.8 1,-3.3 1,2.8 1,-0.5 1,-2 1,6.8 1,-3.8 1,-4.1 1,-4.5 1,-25.3 1,4.9 1,5.7 1,-14.7 1,23.2 1,-3.4 1,-0.6 1,4.3 1,-3.8 1,12 1,9.6 1,1.3 1,-7 1,-1.7 1,-12.6 1,3.6 1,1.9 1,-6.6 1,11.2 1,0.7 1,-0.5 1,-4.7 1,9.8 1,3.7 1,-9 1,7.8 1,3.8 1,14.1 1,-2.6 1,-22.8 1,3.7 1,-4.7 1,2.1 1,6.3 1,-5.2 1,7.2 1,1.4 1,-1.3 1,-10.6 1,-1.4 1,-4.8 1,1.4 1,4.8 1,0.7 1,3.5 1,-2.6 1,2.8 1,-4.1 1,-0.7 1,0.6 1,16.8 1,-16.6 1,4.5 1,-5.7 1,-0.4 1,-8.9 1,11.2 1,1.5 1,0 1,-0.2 1,-3.3 1,-1.3 1,0.9 1,-2.9 1,8.4 1,-3.3 1,8.6 1,9.3 1,-18.8 1,2.4 1,2.4 1,-5.9 1,-5 1,6.5 1,-8.6 1,11 1,-1.7 1,8.3 1,-2.3 1,-7.2 1,13.3 1,-3.9 1,-7.3 1,12 1,-9.9 1,-2.8 1,13.7 1,-0.7 1,22.7 1,82.6 1,-92 1,-33 1,-3.7 1,-4.1 1,14.8 1,3.5 1,-9.9 1,5.9 1,2.5 1,17.4 1,-12 1,-16.8 1,16 1,-5.4 1,8 1,10.1 1,-0.7 1,-8.8 1,6.2 1,-5.2 1,-9.3 1,-4.4 1,4.2 1,-7.7 1,14.4 1,5.4 1,-11.5 1,0 1,-8.5 1,11.8 1,1.2 1,2.2 1,-4.1 1,3.5 1,-8.5 1,-1.1 1,10.2 1,-1.3 1,-5.3 1,-4.3 1,-2.1 1,0.7 1,11.9 1,-4.7 1,17.3 1,-10.8 1,-11.2 1,3.7 1,-10 1,-6 1,5.2 1,6 1,-1 1,-3.3 1,0.4 1,-3.5 1,6.2 1,-4.8 1,-2.4 1,1.4 1,-3.5 1,-8.7 1,18 1,1.8 1,-12.6 1,10.8 1,0.2 1,-9.6 1,2.4 1,4.2 1,-0.6 1,0.6 1,5.4 1,-2.8 1,-0.1 1,2.6 1,5.7 1,-9.5 1,4.3 1,2 1,2.4 1,2.9 1,-6.4 1,-6.6 1,12.3 1,-7.2 1,-3.5 1,17 1,-17.9 1,1.5 1,-1.1 1,0.4 1,2.7 1,1.2 1,3.1 1,-10.6 1,-0.5 1,19.9 1,-5.1 1,-13.2 1,1.2 1,-5 1,-0.9 1,9.1 1,-15.4 1,13.9 1,-9.3 1,3.1 1,1.4 1,2.6 1,-5.6 1,6.4 1,6.7 1,-3.6 1,-5.6 1,7.6 1,-0.7 1,4.5 1,-2.1 1,-5.6 1,-1.7 1,22.8 1,-13.4 1,-0.3 1,3.2 1,-19.1 1,2.9 1,0 1,1 1,2.9 1,3.1 1,4.8 1,0 1,2.3 1,-11.1 1,8.4 1,14.9 1,-10.8 1,-7.3 1,-6.6 1,4.9 1,0.2 1,6 1,4.2 1,3.4 1,-4.1 1,-6.3 1,-1.8 1,0 1,-2.3 1,-2.1 1,7.2 1,2.9 1,-3 1,-5.7 1,5.9 1,1.2 1,-3.8 1,-0.9 1,-11 1,13.6 1,3.5 1,-8.8" fill="none" stroke="#000" stroke-width="1.0" stroke-linejoin="round"/>
<path d="M53,565.2l1,7 1,2.7 1,3.2 1,17.1 1,-22.8 1,-2.6 1,2.4 1,-13.2 1,12.4 1,-16.1 1,-5.8 1,12 1,0.2 1,15.1 1,4 1,-16 1,6.1 1,2.9 1,8.6 1,1.9 1,-2.6 1,-1.2 1,-2.2 1,9.7 1,-4.8 1,6.1 1,-9.4 1,7.5 1,-6 1,-5.7 1,6.1 1,-6 1,7.4 1,4.3 1,0.3 1,-10.3 1,-2.8 1,-3.4 1,14 1,2.8 1,0.7 1,-11.1 1,-11 1,4.1 1,-3.6 1,3.3 1,-8.4 1,13.8 1,-0.9 1,-3.9 1,-10.5 1,10.3 1,-6.9 1,4.5 1,10.6 1,28.7 1,81.2 1,-90.5 1,-32.5 1,4.4 1,-4.8 1,15.4 1,-0.8 1,2.7 1,-3.1 1,-1.9 1,-6.5 1,1.3 1,1.8 1,-14.8 1,9.6 1,-2.5 1,-3.5 1,7.5 1,-4.2 1,-8 1,11 1,-6.6 1,-8.3 1,12.4 1,-4 1,-3.6 1,8.7 1,-14.3 1,8.5 1,7.2 1,-1.7 1,-3 1,1.7 1,9 1,3.8 1,4.6 1,-7.8 1,-9.3 1,4.6 1,-5.3 1,9.6 1,-13.7 1,9.2 1,-5.4 1,8.8 1,-5.6 1,6.3 1,4.6 1,1.7 1,-3.1 1,-15.7 1,1.9 1,-0.5 1,11.5 1,-1.2 1,0.1 1,-16.8 1,4.7 1,4.9 1,3.8 1,-15 1,33.7 1,-19.9 1,-6.2 1,10.7 1,-1.9 1,-0.8 1,-0.3 1,12.9 1,-14.5 1,-1.4 1,6.2 1,-1.6 1,5.8 1,-0.8 1,3.9 1,-7.4 1,3.9 1,4.1 1,11.5 1,-15.1 1,0.2 1,6 1,-4.2 1,-0.1 1,-14 1,13 1,4.3 1,-3 1,-1.7 1,-6 1,1.1 1,-3.4 1,0.2 1,25.8 1,-20.1 1,-11.4 1,2 1,7 1,-0.5 1,-3 1,4 1,-2.2 1,-5.6 1,2 1,-1.6 1,2.7 1,2.7 1,-2.8 1,-1.8 1,-7.7 1,-1.1 1,21.3 1,-19.5 1,3.3 1,4 1,18.4 1,-10.4 1,-20.3 1,11.7 1,9.3 1,-12.3 1,5.9 1,48.5 1,109.2 1,-121.7 1,-41.3 1,6.5 1,-2.2 1,8.9 1,5.9 1,-13.9 1,-2.9 1,2.8 1,-2.7 1,5.8 1,-7.2 1,11.4 1,-3.3 1,-21.1 1,11.8 1,-5 1,3.9 1,7.9 1,3.5 1,-12.8 1,3.4 1,12.7 1,-3.8 1,-1 1,-7.1 1,1.8 1,6 1,26.4 1,67 1,-74.7 1,-27 1,7.6 1,4 1,-1.1 1,5 1,4 1,-0.9 1,1 1,4.5 1,-10.4 1,-4.9 1,-2 1,2.5 1,-16.1 1,-2.2 1,7.2 1,19.6 1,7.8 1,-10.2 1,-10.9 1,15.2 1,-9.8 1,1.8 1,15.4 1,79.3 1,-105.2 1,-47.2 1,32 1,42.2 1,19.2 1,-36.4 1,-30.8 1,-24.6 1,12.3 1,26.6 1,28.8 1,22 1,-7.4 1,-26.9 1,-22.3 1,-10.2 1,16.4 1,19.1 1,16.2 1,11.9 1,-12.1 1,-12.4 1,11.5 1,14.1 1,-0.7 1,-17.6 1,-18.6 1,-14.9 1,-1.5 1,-3.2 1,22.5 1,1.8 1,5.9 1,3.6 1,18.7 1,-19.3 1,-16.1 1,-13.6 1,4.8 1,4.5 1,-5.1 1,0.4 1,3.4 1,-17.6 1,16.4 1,2.2 1,-19.7 1,20.6 1,5.9 1,23.9 1,-8.8 1,-9.1 1,-8.1 1,1.1 1,5.3 1,1.7 1,-4.9 1,6.1 1,2.4 1,-8 1,2 1,6.5 1,-6.3 1,0.7 1,-4.7 1,-2.9 1,6.6 1,-0.9 1,4.1 1,-3.1 1,3.7 1,-5.3 1,-3.1 1,6.3 1,-1 1,0.9 1,-5.7 1,-1.2 1,6.6 1,-9 1,-1.7 1,10.9 1,-15.9 1,11.8 1,-4.7 1,5.4 1,-3.6 1,1.4 1,1.7 1,4.6 1,5 1,-1.1 1,1.6 1,-7.6 1,-2.1 1,2 1,11.3 1,0.3 1,-1.7 1,-1.2 1,1.2 1,5 1,-9.1 1,3 1,-0.1 1,-3.5 1,-7.2 1,-3.3 1,3.3 1,-2 1,1.3 1,3.9 1,-7.1 1,9.4 1,17.5 1,-10.4 1,-2.2 1,1.1 1,-9.4 1,-1.7 1,1.7 1,1.7 1,0.2 1,-5.7 1,1.3 1,3.4 1,-2.5 1,7 1,1.7 1,-6.4 1,-5 1,-8.6 1,10.4 1,-4.1 1,-0.3 1,3.4 1,-5.9 1,3 1,-1.5 1,-5.4 1,-4.6 1,1 1,3.9 1,4.9 1,-2.6 1,3.9 1,9.3 1,17.5 1,-19.7 1,-6.2 1,-2.9 1,-4.7 1,4.5 1,2.6 1,-9.8 1,1.5 1,5.4 1,2.8 1,11.5 1,-6.5 1,-6.8 1,5.3 1,-7.2 1,3.2 1,11.4 1,-13.3 1,6.1 1,2.8 1,-4 1,1.6 1,-14.1 1,5.4 1,3.9 1,6.3 1,2.5 1,2.8 1,-1.1 1,-3.9 1,2.5 1,-5 1,-12.2 1,1.2 1,-1.5 1,-0.6 1,10.2 1,-8 1,1.7 1,2.4 1,3.6 1,-7.7 1,-1.3 1,8 1,5.1 1,-3.5 1,1.7 1,-2 1,-7.3 1,-0.7 1,9.1 1,-9.2 1,4.1 1,10.2 1,-0.5 1,10.6 1,-14.5 1,-0.2 1,10.5 1,-6.9 1,4.7 1,5.4 1,-6.9 1,4.4 1,-7.9 1,2.9 1,-1.4 1,4.5 1,2 1,-12.9 1,1.2 1,0.1 1,-9.5 1,13.6 1,3.6 1,-4.1 1,-8.4 1,6 1,-1.4 1,-1 1,1.9 1,20.4 1,-5.3 1,-11.2 1,5.9 1,0.8 1,-6.3 1,-5.3 1,0.1 1,4 1,-4.7 1,9.6 1,-2.9 1,-7 1,3 1,5.6 1,0.6 1,3.1 1,11.2 1,-14.6 1,-9.9 1,6.1 1,11.8 1,-26.2 1,6.9 1,-2.2 1,-7.3 1,4.5 1,-18.8 1,16.9 1,-9.6 1,-11 1,24.5 1,-8.8 1,-0.7 1,8.6 1,-0.2 1,18 1,-15.5 1,8 1,-10.2 1,10.8 1,-2.9 1,-11.1 1,4 1,6 1,8.5 1,-0.1 1,1.1 1,-2.9 1,-7.2 1,-1.1 1,1.4 1,-6.3 1,7.4 1,8.6 1,-4.6 1,-3.3 1,-2.8 1,10 1,-6.4 1,11.6 1,0.9 1,-3.1 1,4 1,-1 1,4.5 1,-14.3 1,-7.6 1,2.5 1,-0.5 1,-2.4 1,13.1 1,12.1 1,-2.2 1,-1.9 1,-7 1,-2.8 1,-9.4 1,4.9 1,2.9 1,14.4 1,-6.5 1,-4.8 1,-3.7 1,1.4 1,-5 1,7 1,1.2 1,6 1,0.9 1,-10.7 1,12.5 1,2.8 1,-7 1,6.4 1,-9.1 1,-0.5 1,3.7 1,-3.8 1,3.1 1,-10.3 1,12.7 1,-4 1,-0.9 1,-19.2 1,14.4 1,-1.9 1,7.5 1,5.3 1,-11.9 1,-2.5 1,-2.6 1,-13 1,5.6 1,0 1,4.6 1,-0.5 1,-5.5 1,6.8 1,10.5 1,-3.1 1,3 1,-17.6 1,4.8 1,1.6 1,15.3 1,-6.9 1,-1.2 1,3.8 1,-6.5 1,6.9 1,5.7 1,-17.9 1,4.6 1,-6.8 1,6.1 1,-10.7 1,5.9 1,9.1 1,-5.9 1,-0.6 1,0.9 1,4.3 1,6 1,4.6 1,-17.4 1,15.1 1,-8.5 1,-4.1 1,-6.5 1,1.5 1,9.6 1,-8.1 1,0.8 1,8.7 1,-5.1 1,-10.2 1,9.3 1,2.4 1,-3.5 1,-2.4 1,-1.4 1,7.6 1,1.3 1,5.7 1,-2.6 1,-7.3 1,7.1 1,-2.5 1,3.6 1,-5.7 1,-5 1,9.2 1,-0.4 1,-0.3 1,-10 1,7.3 1,1.8 1,6.9 1,-2.6 1,-4.5 1,-7.3 1,6 1,1.8 1,0.1 1,0.2 1,28.4 1,76.3 1,-85 1,-31 1,9.2 1,-5.5 1,-5.3 1,4.7 1,-2 1,12 1,-19.3 1,11.5 1,14.8 1,-11.9 1,-5.6 1,1.3 1,-3 1,8.5 1,-6.3 1,-14.5 1,7.8 1,-13 1,7.7 1,13.3 1,-22.4 1,22 1,-0.3 1,21.6 1,-17.9 1,4.9 1,2.1 1,-2 1,5.4 1,-3.7 1,-0.5 1,-11.9 1,7.8 1,-3.4 1,-4.6 1,3.4 1,-17.3 1,-3.1 1,20.9 1,-25.5 1,7.4 1,6 1,5.8 1,9.3 1,-8.4 1,-3.4 1,-1.6 1,5.1 1,-14.7 1,10.1 1,-8.6 1,17.5 1,-7.4 1,0.7 1,0.5 1,2.4 1,6.2" fill="none" stroke="#000" stroke-width="1.0" stroke-linejoin="round"/>
<path d="M53,582l1,-10 1,2 1,-2.5 1,0.8 1,-3.7 1,0.2 1,-3.5 1,5.1 1,2.8 1,7.7 1,-6.5 1,0.9 1,5.6 1,-17.4 1,-0.5 1,1 1,11.4 1,0.9 1,-4.8 1,-1.5 1,-6.7 1,3.5 1,9.1 1,5.6 1,-1.4 1,-2.3 1,2 1,5.8 1,0.2 1,-16.3 1,13 1,-14.3 1,9.9 1,5.7 1,-13.3 1,0.5 1,-6.5 1,2.7 1,4.2 1,0.2 1,9.4 1,-7.5 1,-3.5 1,2.3 1,4.1 1,2.9 1,0.4 1,1.7 1,-12.7 1,4.1 1,5.8 1,9.9 1,-3.4 1,-0.3 1,-14.1 1,-4.2 1,7.5 1,-3.3 1,3.3 1,-5.6 1,0.5 1,4.4 1,25.2 1,-22.7 1,-7.4 1,-1.2 1,0.6 1,-8.7 1,11.8 1,-0.6 1,-4.5 1,-0.3 1,-6.4 1,8.9 1,4 1,-6 1,2.1 1,-6.9 1,16.5 1,-11.3 1,12.2 1,-8.3 1,-2.8 1,4.4 1,30 1,67.3 1,-75 1,-27.4 1,-5.6 1,-1.9 1,-0.5 1,7.5 1,16.5 1,-1.9 1,-3.8 1,-3.9 1,2 1,3.3 1,-1.8 1,-2.3 1,7.2 1,2.1 1,-2 1,1.9 1,-0.3 1,-10.3 1,-8.9 1,0.4 1,10.2 1,20.5 1,-12.7 1,2 1,-13.8 1,7.2 1,2.2 1,2.9 1,-3.6 1,6.8 1,-3.2 1,-6.4 1,0.1 1,-8.4 1,2 1,6.5 1,3.3 1,-0.5 1,-5.1 1,5 1,-6.2 1,0.4 1,0.9 1,1.3 1,6 1,1.6 1,-9.6 1,16.7 1,21.4 1,-23.9 1,-4.3 1,5.3 1,1.1 1,-9.7 1,-2.3 1,-8.4 1,-8.8 1,3.8 1,-0.3 1,-4.4 1,11.1 1,9.5 1,1.9 1,2.9 1,-1.9 1,-4.9 1,-7.8 1,-10.4 1,13.1 1,10.1 1,-0.5 1,-14.3 1,3.8 1,-14 1,7.1 1,10.3 1,-9.1 1,-7 1,9.8 1,-0.6 1,-1.2 1,9.5 1,-0.5 1,2.2 1,8 1,-23.4 1,7 1,2.3 1,-5.9 1,8.8 1,1.7 1,-0.2 1,-12.2 1,7.2 1,1.9 1,-8.5 1,11.3 1,2.3 1,7.9 1,-2.1 1,0.8 1,-6.3 1,12.6 1,21.6 1,-36.7 1,-1.2 1,5.5 1,-6.1 1,9.8 1,-2.8 1,-5.1 1,-1.5 1,-9.1 1,2.7 1,0.8 1,3.1 1,-1.6 1,16.6 1,-0.3 1,9.2 1,-20.9 1,-9.7 1,21.8 1,-14.1 1,-24.2 1,13.3 1,-5.1 1,50.3 1,83.3 1,-92.8 1,-33.2 1,11 1,-4.1 1,7.3 1,0.3 1,-1.4 1,6.4 1,-4.3 1,-2.8 1,4.7 1,1.4 1,-10.4 1,12.2 1,1 1,-6.5 1,1 1,-0.3 1,59.1 1,-9.1 1,-105 1,-3.2 1,52.2 1,30.3 1,-4.6 1,-36.8 1,-32.7 1,-18.2 1,26.6 1,33 1,15.7 1,27.8 1,-28.1 1,-34.6 1,-13 1,0.5 1,27.6 1,22.6 1,15.8 1,-17.5 1,4.5 1,-19.5 1,25.2 1,13.8 1,-8.9 1,-11.9 1,-16.6 1,-17.7 1,9.9 1,49.3 1,-49.9 1,10.4 1,-0.7 1,3.7 1,-3 1,-5.3 1,0.7 1,-17.2 1,16.4 1,40.9 1,-72.8 1,-1.4 1,11.2 1,-14.3 1,24.3 1,4.6 1,-0.2 1,9.7 1,-6.6 1,-4.9 1,7.1 1,-7.7 1,9.9 1,3.1 1,-6.1 1,1.1 1,4.6 1,0.4 1,-6 1,-0.1 1,7.8 1,-7.2 1,10.4 1,-3.8 1,7.8 1,-5.9 1,4 1,-7.7 1,-6.8 1,9 1,-4.8 1,7.2 1,-18.9 1,10.6 1,-0.5 1,3.8 1,1.8 1,1.2 1,-4.1 1,2.3 1,-8.4 1,-1.6 1,2.8 1,3.8 1,-0.2 1,-5.3 1,6.8 1,8.8 1,-5 1,1.6 1,6.4 1,-6.5 1,9.8 1,-11.7 1,10 1,1.7 1,-0.4 1,-0.9 1,-3.2 1,-4.5 1,-12.3 1,4.2 1,5.7 1,-1.3 1,6.6 1,-2.7 1,-10.7 1,2.3 1,12.8 1,-14.3 1,4.7 1,-6.6 1,1.9 1,5.9 1,1.1 1,3.6 1,-1.8 1,-7 1,8.5 1,-3.4 1,-1.9 1,-0.7 1,-12.4 1,10.1 1,-4.6 1,5.4 1,-0.8 1,0.1 1,6.8 1,-8.9 1,5.6 1,-5.2 1,0.7 1,-0.9 1,2.6 1,0.1 1,14.7 1,-0.9 1,7.6 1,-25.1 1,11.7 1,-5.4 1,-2.7 1,-9.7 1,11.2 1,-3.2 1,7.4 1,-3 1,-4.1 1,3 1,-0.6 1,-0.9 1,1.9 1,-8.4 1,2.7 1,14.6 1,10.8 1,-20 1,9.9 1,39.2 1,-52.9 1,1.6 1,-4.6 1,-0.9 1,4.9 1,20 1,-13.7 1,-7.6 1,0.3 1,2.4 1,6.5 1,-9 1,-8.6 1,1 1,-8.6 1,11.8 1,4.7 1,-10 1,12.8 1,-1.5 1,3.5 1,2.5 1,-3.7 1,11.6 1,-4.6 1,-7.1 1,3.6 1,3 1,-2.8 1,-4.6 1,-0.2 1,-1.4 1,1.9 1,-17 1,12.4 1,-3.8 1,-2 1,33.8 1,-21.3 1,3.8 1,-4.1 1,-1.4 1,-2.5 1,8.4 1,5.1 1,-11.4 1,-7.5 1,-10.6 1,21.1 1,-1 1,3.9 1,-2.9 1,-8.8 1,11.7 1,5.1 1,0.2 1,-2.5 1,-11.1 1,4.6 1,1 1,3.3 1,5.8 1,-1.1 1,-5.9 1,7.3 1,-5.4 1,8.7 1,-10.6 1,-0.4 1,2 1,-8.2 1,5.8 1,-4.5 1,-3.2 1,19.9 1,-10.9 1,-7 1,-16.6 1,11.5 1,-7.5 1,-6.4 1,16.2 1,3 1,-0.6 1,0 1,5.9 1,4.9 1,-1.8 1,-3.8 1,-1.3 1,-4.8 1,5 1,-11.5 1,13.8 1,0.5 1,-4.4 1,-12.1 1,18.4 1,-7.8 1,-7.5 1,10.4 1,-18.1 1,4.2 1,9.9 1,-11.2 1,23.8 1,-15.8 1,-13.2 1,2.4 1,-6.5 1,3.5 1,11.8 1,2.4 1,1.5 1,3.4 1,-6.4 1,8.5 1,20.4 1,-8.7 1,-4.1 1,-13.8 1,-9.1 1,-9.1 1,3.8 1,3.7 1,12 1,3.6 1,6.8 1,-1.5 1,5.5 1,-9.1 1,2.4 1,-9.9 1,12.2 1,1.8 1,-3.6 1,0.6 1,0.1 1,1.6 1,-11.6 1,3.8 1,4.5 1,-2.3 1,-0.1 1,1.3 1,2.6 1,1.5 1,-2.6 1,3 1,-4.5 1,-18.1 1,2.8 1,5.5 1,16.2 1,-0.8 1,-5.6 1,0 1,4.8 1,-4.2 1,-3.9 1,-5 1,7.3 1,-1.2 1,9.7 1,-1.4 1,-1.5 1,-8.8 1,1.2 1,12.1 1,-10.6 1,-1.8 1,5.1 1,0.3 1,-6.5 1,-1.9 1,6.6 1,8.6 1,-13.3 1,-2.5 1,-1.6 1,14.9 1,0.8 1,-6.3 1,-12.4 1,-4.3 1,7 1,11.1 1,4.5 1,12.9 1,10.3 1,-20.9 1,12.8 1,-21.1 1,-11.3 1,-5.7 1,-6.7 1,13 1,-7.2 1,15.7 1,-2.8 1,-5.9 1,-4.3 1,-2.5 1,-7.4 1,26.9 1,-22.9 1,33 1,-23.3 1,-23.4 1,8.7 1,-5.4 1,2.6 1,14.7 1,6.2 1,-2.4 1,2.6 1,-1.1 1,-0.4 1,2.6 1,11.6 1,-20.3 1,2.7 1,0.2 1,-4.5 1,-0.4 1,-2.1 1,10.9 1,-3.2 1,8.2 1,-4.2 1,-10.7 1,9.2 1,24.7 1,-19.9 1,-1 1,-2.7 1,0.3 1,1.7 1,3 1,3.4 1,8.1 1,-4.6 1,-4.9 1,7.1 1,1.8 1,-1 1,-7.2 1,9.1 1,-3.5 1,4.8 1,-8.1 1,-3 1,2.8 1,5.5 1,-5.4 1,0.9 1,-10.9 1,4.8 1,7.9 1,-9.4 1,5.8 1,18.5 1,-7.4 1,5.5 1,-11.3 1,4.1 1,-7.1 1,2.7 1,10.3 1,-14.1 1,5.2 1,3.4 1,-15.9 1,6.8 1,4.2 1,-1.4 1,-1.8 1,-4.9 1,7.4 1,-1.5 1,-3.4 1,0.6 1,-7.7 1,-3 1,6.3 1,-0.3 1,-5.9 1,1.5 1,-2.5 1,-0.1 1,1.8 1,-2.1 1,19.3 1,-11.3 1,1.9 1,5.6 1,-6.8 1,-1.9 1,1.9 1,8 1,-10.1 1,-11.2 1,5.8 1,-1.1 1,-24.1 1,18.2 1,-10.7 1,7.9 1,5.6 1,3.5 1,4.1 1,-4.5 1,4.7 1,9.2 1,-5.5 1,-3.8" fill="none" stroke="#000" stroke-width="1.0" stroke-linejoin="round"/>
<path d="M53,553.1l1,13.1 1,-3.2 1,-3.6 1,7.6 1,-8.8 1,19.6 1,-7.2 1,6.1 1,-10.4 1,10.2 1,18 1,-24.7 1,-3.6 1,3.5 1,-8.8 1,-15.5 1,17.8 1,9.3 1,26.9 1,-13.4 1,-19.5 1,5.5 1,35.2 1,79.8 1,-88.9 1,-32.1 1,-9.9 1,20.4 1,2.7 1,-1 1,-1.9 1,0.8 1,6.5 1,-4.7 1,3.3 1,-4 1,2.4 1,-4.6 1,-2.7 1,-5.2 1,13.7 1,0.4 1,0.3 1,12.7 1,0.9 1,-19.6 1,-5.8 1,6.8 1,-2.3 1,-8 1,-11.2 1,-12.4 1,24.4 1,-6.8 1,9.2 1,4.7 1,8 1,0.4 1,5.9 1,-11.5 1,2.2 1,-1.8 1,3.2 1,0.7 1,0.7 1,0 1,2 1,6.3 1,2.5 1,-4.4 1,-3.7 1,1.7 1,-9.3 1,-2 1,5.5 1,9.2 1,7.6 1,5.9 1,-18.2 1,-4.8 1,-0.7 1,-2.7 1,1.5 1,0.2 1,-6.6 1,-1.6 1,1.2 1,6.8 1,-10.4 1,-5.7 1,5.2 1,-0.4 1,13.6 1,6.7 1,-12.6 1,-7.4 1,15.6 1,29.6 1,94.5 1,-105.3 1,-36.7 1,8.5 1,-1.6 1,5.4 1,-6.7 1,5.9 1,-7.5 1,6.3 1,4.2 1,-7.3 1,14.1 1,-5.6 1,-2.9 1,-4.9 1,-2.8 1,9.5 1,-1.5 1,-5 1,18.4 1,-16.5 1,-0.4 1,0.3 1,-12.3 1,5.6 1,9.1 1,5.2 1,-11.6 1,6.2 1,4.2 1,-6.8 1,-6.1 1,10.3 1,-1.9 1,-9.2 1,6.5 1,9.2 1,7.7 1,-3.8 1,-12.1 1,-2.3 1,11.1 1,-15.4 1,3.8 1,-7.2 1,7.9 1,4.8 1,-25.3 1,14.9 1,9.8 1,-17.7 1,8.9 1,-6.2 1,-3.1 1,12.8 1,13.4 1,-1.8 1,2.1 1,-15.8 1,0.2 1,-6.6 1,13.8 1,10 1,-3.9 1,7.3 1,-6.7 1,-3.6 1,12 1,5.1 1,-10.5 1,-5.6 1,6.7 1,-1.6 1,-3.9 1,-3.2 1,-1.3 1,4.4 1,-5.3 1,10.3 1,9.5 1,-19.8 1,-2.8 1,-3.9 1,-1.9 1,5.1 1,-4.7 1,7.6 1,8.4 1,-16.6 1,5 1,7.6 1,-9.1 1,6.8 1,-6.6 1,-1.1 1,2 1,-6.4 1,12.4 1,-14.7 1,7.1 1,2.7 1,-0.8 1,-0.2 1,-0.9 1,8.6 1,26.7 1,82.6 1,-92 1,-33 1,2.6 1,37.7 1,77.7 1,-86.6 1,-31.4 1,-1.1 1,6.2 1,-5.2 1,-1.5 1,6.5 1,-8 1,5 1,3.2 1,-7 1,6.4 1,0.1 1,1.1 1,0.5 1,-3.4 1,7 1,-3 1,-0.5 1,2.2 1,-0.4 1,2.8 1,-2.6 1,10.9 1,91.8 1,-100.5 1,-49.2 1,20.5 1,40.2 1,22.9 1,-21.5 1,-39.6 1,-22.3 1,4.4 1,25.8 1,27.6 1,16.9 1,-4.7 1,-35.2 1,-16.6 1,-10.4 1,24.3 1,20.7 1,20.8 1,-0.9 1,-11.2 1,9.4 1,25.6 1,-15.5 1,3.1 1,-22.7 1,-21.6 1,-8.2 1,-17 1,-2.3 1,31.2 1,6.7 1,5.2 1,6.2 1,-4.1 1,-6.9 1,-4.9 1,-4.6 1,-5.7 1,10.5 1,-4.8 1,6.1 1,-0.5 1,8.1 1,-1 1,-5.8 1,3.5 1,-1.8 1,-6.2 1,-2.5 1,-4.9 1,5.4 1,-9.3 1,10.6 1,-2.2 1,1.7 1,-4.6 1,-2.8 1,1.9 1,4.8 1,4.3 1,-1.5 1,4.2 1,2.5 1,-3.1 1,-6.2 1,-2.3 1,-4.9 1,14.1 1,18.1 1,-14.4 1,-14 1,-4.3 1,4.1 1,2.9 1,1.2 1,16 1,-9.6 1,10.4 1,-9.5 1,-8.3 1,5.1 1,-8.2 1,2.5 1,1.8 1,20.3 1,-21.5 1,-8.8 1,-5.1 1,14.7 1,-3.1 1,0.6 1,6.9 1,-3.4 1,2.7 1,0 1,7 1,6.5 1,-7.5 1,3.9 1,-7.7 1,21 1,-14.9 1,-10.7 1,2.2 1,9.1 1,5.2 1,-10.8 1,-5.7 1,-1.7 1,3.1 1,7.8 1,-5.9 1,-3.5 1,5 1,4.8 1,6.5 1,-5 1,-1.3 1,-4.3 1,1.6 1,-0.4 1,5.4 1,-8.9 1,-7.9 1,13.9 1,0.2 1,-7 1,5.1 1,-4.4 1,4 1,3.5 1,-11 1,11.3 1,11.2 1,2 1,-16.3 1,2.6 1,-7.7 1,-7 1,14.3 1,4.9 1,-1.7 1,1.7 1,-16.6 1,6 1,-4.4 1,-7.7 1,2.2 1,8.1 1,-1.1 1,2.7 1,3.7 1,-12.2 1,0.1 1,7 1,-8 1,8.9 1,18.9 1,-28 1,15 1,-16.5 1,9.1 1,-1.1 1,-7.7 1,1.2 1,-2.7 1,-11.7 1,27.1 1,-9.8 1,-5.6 1,4.7 1,3.8 1,3.4 1,1 1,4.2 1,1.2 1,2.6 1,-3.1 1,-3.4 1,5.9 1,7.5 1,-14.6 1,1.5 1,2.3 1,5.2 1,3.8 1,-11.6 1,-7 1,3.1 1,-2.1 1,5.9 1,3.2 1,-6.1 1,-3.8 1,13.1 1,-3.9 1,-20.1 1,15.4 1,-4.4 1,-4.1 1,8.3 1,-8.8 1,2.5 1,-3 1,-5.4 1,1.8 1,-0.3 1,-5.6 1,15.1 1,24.2 1,-35.6 1,9.4 1,-6.4 1,3.4 1,-1.9 1,4.9 1,-1.8 1,3.6 1,-8.4 1,14.6 1,-5.4 1,-11.7 1,12.6 1,-17.9 1,6.5 1,10.7 1,-13.4 1,19.6 1,-7.2 1,11.4 1,1.7 1,-6.6 1,-9 1,4.5 1,-11.9 1,10.5 1,3.3 1,-2.2 1,7.9 1,-1 1,1.8 1,-0.3 1,-11.8 1,-0.4 1,4.2 1,15.1 1,-2.7 1,-1.2 1,3.6 1,-5.8 1,-9 1,5.4 1,-3.6 1,-1.6 1,3.8 1,-3.8 1,7.3 1,4.3 1,-5.1 1,3.9 1,-1.3 1,-5.9 1,1.6 1,4.8 1,7.7 1,9.8 1,-21.4 1,5.4 1,-8.1 1,1.9 1,-0.9 1,9.7 1,-6 1,26.8 1,80.5 1,-89.7 1,-32.3 1,1.7 1,5.6 1,-4.3 1,6.1 1,-3.8 1,-3.3 1,8 1,1.3 1,-4 1,1.1 1,13.2 1,-1.2 1,-9 1,-1.8 1,-0.2 1,-6.6 1,12.4 1,-8.6 1,1.7 1,-1.8 1,6.4 1,-10.7 1,2.4 1,2.8 1,-3.3 1,1 1,11.2 1,-10.1 1,-1.2 1,-6.5 1,14.4 1,25 1,-9.1 1,-17.1 1,-11.4 1,3 1,-1.4 1,2.7 1,-8.6 1,0.5 1,10.4 1,4.3 1,5.3 1,-13 1,1.7 1,5 1,6.4 1,23.1 1,76.4 1,-85.1 1,-29.7 1,6 1,-1.3 1,1.9 1,4.3 1,-1.3 1,-4.9 1,3.5 1,-2.4 1,3 1,-12.5 1,6.8 1,4.7 1,-5.3 1,-5.7 1,4.4 1,-7.6 1,4 1,5.4 1,-14.4 1,6.1 1,7.7 1,12.3 1,-12.8 1,11.5 1,1.9 1,-3.5 1,1 1,-8.8 1,-6 1,7.1 1,-8.4 1,7.5 1,15.3 1,-18.5 1,-15.2 1,12.8 1,33.9 1,-40.1 1,8.4 1,2.3 1,-2.2 1,10.4 1,-0.6 1,5.9 1,-1.2 1,-6.4 1,9.7 1,-4.3 1,2.4 1,-6.8 1,-5 1,7.7 1,-4.9 1,10.4 1,-8.9 1,9.2 1,-7.4 1,16.2 1,15.6 1,86.8 1,-96.7 1,-34.3 1,-0.7 1,0.1 1,11.8 1,4.3 1,-4.2 1,7.6 1,-11.5 1,-3.1 1,-2.8 1,-1.8 1,0.4 1,6.7 1,-3.5 1,7.7 1,-1.4 1,-14 1,6.4 1,4.5 1,-0.3 1,2.9 1,-3.6 1,-4.5 1,16.5 1,-13.8 1,1.4 1,-2.1 1,2 1,-3.4 1,-1.1 1,9.9 1,7.2 1,-4.2 1,-9.3 1,2.9 1,-3.9 1,7.1 1,-7.1 1,5.4 1,2.3 1,2.4 1,7.4 1,-13 1,13.7 1,-11.7 1,6.6 1,2.7 1,-11.3 1,4.9 1,-7.9 1,1.4 1,6.4 1,15 1,-17.4 1,-3.4 1,11.3 1,-26.3 1,4.5 1,3.6 1,16.7 1,-1.5 1,-8.8 1,0.7 1,15.7 1,-8.1 1,-0.8 1,-5.3 1,2.6 1,3.4 1,-0.3 1,-4.1 1,0.5 1,-17.5 1,12.4 1,7.2 1,-9.4 1,17.5 1,-0.8 1,3.6 1,-10.8 1,-4.9 1,6.8 1,-0.7 1,2.5 1,-5.3 1,4.7 1,-6.7" fill="none" stroke="#000" stroke-width="1.0" stroke-linejoin="round"/>
<path d="M53,561.5l1,5.7 1,8.6 1,0 1,-2.5 1,3.2 1,-4.1 1,7 1,10.1 1,0.7 1,-12.9 1,1.2 1,-0.3 1,-0.8 1,-3.9 1,0.9 1,8.1 1,-0.7 1,-7.2 1,10.4 1,-9 1,7.6 1,-2.4 1,-3.6 1,-0.1 1,16.3 1,-7.5 1,4.8 1,-4.6 1,-6.5 1,3.6 1,5.1 1,-4.1 1,1.1 1,-6.8 1,-0.7 1,9.9 1,-7.5 1,-5.2 1,8.5 1,-3 1,-1.5 1,10.6 1,0.4 1,6.8 1,10.8 1,-19.6 1,-7.6 1,-3 1,8.1 1,-6.4 1,-2.5 1,6.6 1,-3.8 1,-5.1 1,-2.9 1,8.1 1,-0.4 1,7.3 1,3.3 1,-15.1 1,-2.7 1,7.8 1,-2.5 1,-3.2 1,-11.5 1,10.1 1,4.6 1,4.9 1,-2.4 1,2.7 1,-5.3 1,-0.1 1,5.9 1,11.4 1,-12.8 1,-4.7 1,11.7 1,-5.2 1,-1.4 1,-12.7 1,10.7 1,4.5 1,-8.2 1,-2.3 1,-3.8 1,4.6 1,4.1 1,1.6 1,-3.8 1,-7 1,8.2 1,-4.1 1,1.6 1,3.7 1,-8.1 1,-3.7 1,-0.5 1,-17.7 1,16.2 1,24.7 1,-21.6 1,3 1,6.4 1,-8.1 1,-4.3 1,17.2 1,23.1 1,-24.8 1,8.7 1,-11.5 1,-2.3 1,-1.5 1,8.9 1,-4.8 1,10.8 1,-15.6 1,-6.4 1,6.3 1,1.2 1,2.5 1,4 1,-9.1 1,7.4 1,-6.2 1,1.2 1,44.1 1,107.1 1,-119.3 1,-40.7 1,14.7 1,0.6 1,-8.6 1,0.1 1,10.5 1,-9.1 1,-16.7 1,5.5 1,7.8 1,-15.8 1,20.1 1,-10.3 1,7.9 1,9.6 1,-8.5 1,-8.6 1,6.9 1,-3.2 1,3.2 1,-2.9 1,-13.1 1,15.2 1,-4.8 1,11.3 1,6.5 1,-16.3 1,5.5 1,14.6 1,-2.7 1,0.6 1,-11.7 1,-7 1,12.5 1,-14.9 1,-7.6 1,5.2 1,-16.6 1,13.6 1,3.7 1,-11.1 1,14 1,5.8 1,-11.2 1,17.7 1,-22.4 1,5.8 1,13 1,-8.2 1,1.9 1,12.6 1,-11 1,26.1 1,-13.2 1,-2.8 1,16.1 1,-16.8 1,3.3 1,-8 1,5.2 1,-0.8 1,2.9 1,12.9 1,-16.5 1,6.8 1,-6.4 1,-0.7 1,-1.6 1,1.3 1,1 1,-3.4 1,-12 1,10.7 1,-6.1 1,6.8 1,-9.1 1,-15.8 1,19.6 1,-8.9 1,16.5 1,-5.6 1,-19 1,25.6 1,19.1 1,-36.2 1,0.4 1,-13.6 1,10.5 1,10.1 1,1.4 1,9.1 1,-15.1 1,0.6 1,29.2 1,-8.4 1,-13 1,6.1 1,10.2 1,-10.2 1,7.3 1,-0.6 1,-7.5 1,-4.8 1,10.5 1,1.7 1,-0.5 1,-1.6 1,93.3 1,-79.1 1,-79.5 1,17.5 1,35.2 1,43.7 1,-21.5 1,-28.1 1,-27.7 1,-10.5 1,23.5 1,31.3 1,22.8 1,13.1 1,-27.8 1,-34.6 1,-16.7 1,20.1 1,9.9 1,26.4 1,14.8 1,-10 1,-15.3 1,-1 1,3.9 1,18.1 1,-15.8 1,-9.6 1,-9.1 1,-11.6 1,-3.5 1,14.9 1,12.9 1,8.3 1,-2 1,-1.9 1,-1.2 1,-11.1 1,-1.1 1,-8.7 1,3.7 1,1.5 1,3 1,3.7 1,-5.2 1,4.3 1,-3.5 1,6 1,-5.3 1,-4 1,13.5 1,27.1 1,-33.6 1,-0.1 1,-2.7 1,-4.5 1,-5.4 1,3.4 1,-1 1,13.2 1,-7.5 1,-5.2 1,-6.9 1,25 1,-2.6 1,-5.8 1,13.9 1,0.1 1,-10.2 1,-3 1,2.3 1,-10.8 1,5.4 1,-1.3 1,-6.4 1,8.5 1,-1 1,-13.6 1,11.7 1,3.8 1,11.2 1,-4.5 1,-3 1,6.8 1,10.8 1,-14.8 1,-5.2 1,5.3 1,-5.8 1,0.6 1,12.5 1,-2.7 1,-5.7 1,-4.3 1,-6.4 1,-8.6 1,6.9 1,0.5 1,12.8 1,-11.1 1,14.8 1,-6.7 1,9.8 1,0.4 1,-9.6 1,-6.3 1,27.7 1,-15.7 1,-6.2 1,4.6 1,4.2 1,-0.5 1,-7.8 1,-10.5 1,3.7 1,0.3 1,-0.6 1,9 1,3.8 1,0.4 1,-6.4 1,1.9 1,1.5 1,-2.5 1,-0.9 1,-5.1 1,-0.5 1,11.8 1,0 1,1.3 1,-5.7 1,-4.6 1,7.5 1,4.2 1,0.6 1,-1.6 1,0.1 1,-3.2 1,-4.6 1,1.7 1,0.8 1,-1.1 1,-6 1,-9.7 1,-6 1,14.9 1,-4.4 1,17.3 1,-15.2 1,-15.5 1,18.3 1,-6 1,-3.3 1,8.7 1,-3.6 1,10.5 1,3.8 1,3.7 1,-12.5 1,1.6 1,1.9 1,-14.2 1,3 1,5.1 1,3.9 1,-1.2 1,-10.6 1,9.9 1,-11.5 1,13.5 1,7 1,-17.1 1,1.6 1,-4 1,-1 1,14.9 1,-0.3 1,0.7 1,8.7 1,-6.1 1,-11.9 1,5.3 1,-0.8 1,0.8 1,15.8 1,39 1,-52.8 1,7.5 1,-1.3 1,-0.8 1,-2.5 1,-0.9 1,2 1,5.2 1,-0.7 1,-2.3 1,-5.7 1,2.2 1,1.2 1,4.1 1,2.9 1,3.9 1,-9.1 1,-9.9 1,-10.3 1,2.7 1,4.8 1,9.3 1,-4.9 1,7.2 1,-10 1,5.3 1,3.9 1,-0.7 1,-1.5 1,0.9 1,5.1 1,-5 1,-4.3 1,-7.2 1,-1.1 1,2.9 1,13 1,6.8 1,-9 1,8.7 1,3.6 1,-4.4 1,-1.3 1,-1.1 1,1.5 1,-2.7 1,-7.1 1,1.8 1,9.2 1,-2.3 1,9.4 1,-18.3 1,3.4 1,-2.4 1,0.6 1,-0.8 1,10.7 1,-5.3 1,-16.4 1,6.8 1,10.8 1,-9.2 1,5 1,1.1 1,-3.7 1,3.5 1,-12.8 1,8.1 1,-1.3 1,-5 1,-2.3 1,6.6 1,-6.9 1,6.5 1,-3.7 1,-14.9 1,9 1,-6.1 1,-0.8 1,11.9 1,-16.6 1,10.3 1,-0.6 1,3.6 1,0.4 1,1.5 1,2.3 1,8.2 1,-4.4 1,-7 1,1.6 1,7.7 1,2.4 1,10.8 1,5.9 1,-24.2 1,8.5 1,16.9 1,-8 1,-0.8 1,-13.3 1,5.6 1,-7.8 1,2.3 1,3.9 1,-3.7 1,5.2 1,1.3 1,-4.1 1,14.2 1,21.6 1,-30.6 1,-2.5 1,-6.1 1,-0.7 1,8.1 1,-10.2 1,-1.3 1,1.8 1,-0.4 1,-4.1 1,6.4 1,15.8 1,-6.7 1,0.4 1,11.7 1,0.5 1,-8.7 1,-12.2 1,-4.3 1,5.1 1,2.9 1,-6.6 1,-0.2 1,-1 1,3.6 1,7.6 1,5.5 1,-4.5 1,0.8 1,-7.4 1,-10 1,18.1 1,-18.8 1,6.8 1,-8.8 1,6.3 1,10.4 1,-2.7 1,2.5 1,-1.4 1,-8.9 1,7.7 1,4.9 1,6.2 1,23 1,-42.4 1,6.5 1,-11.7 1,18.9 1,-10.8 1,14.1 1,-2 1,-7.5 1,-4.7 1,-3.3 1,3.9 1,9.8 1,-10.2 1,6.5 1,-16.2 1,6.3 1,7 1,-12.1 1,0.4 1,11.8 1,-10.6 1,9.8 1,5.7 1,1.2 1,4.5 1,-11.6 1,-4.2 1,3.4 1,-10 1,2 1,0.9 1,2.2 1,6.8 1,3.7 1,-0.6 1,1.4 1,-6.8 1,-6 1,5.9 1,2.5 1,7.9 1,-10.3 1,1.2 1,2.7 1,7.1 1,-1.6 1,-8.9 1,-9.9 1,-3.9 1,1.3 1,-3.7 1,15.6 1,-12.7 1,-9.6 1,40.7 1,-34.2 1,9 1,9.9 1,-13.9 1,14.7 1,-12.5 1,10.9 1,-2.4 1,4.7 1,-4.9 1,8.4 1,-8 1,5 1,-5.2 1,5 1,-3.6 1,-1.6 1,-0.1 1,12.7 1,-1.1 1,-1.6 1,-5.7 1,8.2 1,13.8 1,-15.6 1,-9.7 1,10.3 1,-17.3 1,-3.3 1,19.2 1,-3.3 1,-6.9 1,20.7 1,-13.4 1,4.7 1,-2.3 1,-4.3 1,5.8 1,-12.2 1,-7.6 1,4.4 1,16.5 1,15.3 1,-10.9 1,-11.9 1,0.1 1,3.1 1,-2.8 1,0 1,3.2 1,-1.7 1,-1.5 1,6 1,5.6 1,-5.1 1,-1.4 1,1.3 1,-1 1,15.6 1,-1.4 1,-6.2 1,-18.2 1,12.9 1,10.5 1,-8 1,-14 1,5.9 1,-3.2 1,7.3 1,-5.5 1,3.5 1,1.2 1,3.4 1,-10.8 1,17.8 1,-12 1,-2.1 1,-5 1,-6.6 1,12.8 1,-3.1" fill="none" stroke="#000" stroke-width="1.0" stroke-linejoin="round"/>
<path d="M53,585l1,-0.1 1,3.2 1,-11.4 1,6.1 1,-0.3 1,6.4 1,-7.6 1,0.1 1,1.8 1,1.5 1,-2.8 1,13.4 1,-7.9 1,-8 1,9.4 1,-4.5 1,3.3 1,-6.8 1,-12.9 1,-3.8 1,-7.1 1,13.4 1,9.2 1,-6.4 1,-1.6 1,4.8 1,-12.7 1,6.6 1,5.9 1,3.2 1,6.9 1,-2.4 1,-0.2 1,1 1,-4 1,-2.7 1,-0.3 1,16.4 1,-10.7 1,-3.6 1,1.3 1,-4.3 1,19.7 1,-16.5 1,0.4 1,6.2 1,-8 1,-2.2 1,12 1,-0.1 1,-1.5 1,-2.3 1,-4 1,-4.1 1,-3 1,12.2 1,13.4 1,-9.3 1,-8.7 1,2 1,0.6 1,0.5 1,-0.8 1,-12.5 1,5 1,9.8 1,-6.2 1,4.5 1,0.4 1,-1.8 1,2.3 1,17.4 1,-9.4 1,-14.4 1,-3.4 1,1.3 1,-1.3 1,7.2 1,2.8 1,-6.4 1,3.8 1,-9.4 1,6.8 1,-0.5 1,6.7 1,-8.5 1,4.9 1,4.7 1,-0.8 1,1.5 1,-5.4 1,-0.1 1,3.9 1,2.6 1,-1.2 1,4.2 1,-1.2 1,-3.6 1,2.9 1,3.1 1,-9.9 1,7.8 1,2.5 1,-0.7 1,-9.9 1,4 1,-5.8 1,6.3 1,4.7 1,-8.5 1,1 1,1.8 1,-1.4 1,-1 1,-4.2 1,1.5 1,2.8 1,-1.4 1,-4.3 1,2.2 1,8.7 1,3.3 1,2.9 1,-22.1 1,11.7 1,13 1,-9.1 1,-2.3 1,5.2 1,-10.2 1,-16.3 1,16.9 1,-9.6 1,14.1 1,1.7 1,-8 1,-3.5 1,11.8 1,-6.4 1,2.8 1,5.4 1,1.1 1,2.5 1,-8 1,-0.5 1,-4.6 1,-0.7 1,-0.2 1,-0.7 1,12.4 1,-10 1,6.2 1,0.2 1,-8.8 1,4.1 1,12.1 1,-8.7 1,-5.3 1,0.2 1,8.8 1,-4.6 1,-4.6 1,-3.4 1,7.4 1,-8.5 1,-2.4 1,1.7 1,13.2 1,-10.2 1,-5.7 1,5.6 1,0.1 1,-4.3 1,-4.3 1,3.3 1,8.7 1,-3.9 1,9.4 1,1.5 1,1.9 1,-12.7 1,10.5 1,-15.4 1,8.7 1,-3.5 1,-5.6 1,-0.6 1,5.9 1,5.4 1,3.1 1,-7 1,10.2 1,-12.6 1,-1.9 1,0.5 1,3 1,-6.2 1,9.9 1,-4.7 1,13.2 1,-1.4 1,-10.8 1,4.4 1,11.7 1,1.4 1,-9.9 1,-5.7 1,13.1 1,-1.7 1,-7.3 1,-4.5 1,0.5 1,1.2 1,-5 1,4 1,-7.7 1,5.1 1,0.2 1,6.4 1,1.7 1,-7.9 1,-3.3 1,10.5 1,-11 1,9.8 1,4.7 1,-17.4 1,10.1 1,25.1 1,-22.2 1,9.9 1,-13.6 1,-4.5 1,2.6 1,11.4 1,83.6 1,-71.6 1,-83.6 1,17.9 1,42.3 1,32 1,-22.8 1,-22.2 1,-28.5 1,-8.6 1,26 1,33.4 1,12.8 1,18.6 1,-22.3 1,-37.7 1,-4.2 1,-4.2 1,17.9 1,16.5 1,6.3 1,-11.1 1,0.8 1,5.4 1,16.2 1,8.8 1,-7.6 1,-12 1,-9.3 1,-23.2 1,-9.4 1,2.7 1,1.3 1,24.3 1,4 1,12.7 1,-21.3 1,0.3 1,-5 1,-6.2 1,3.3 1,4.1 1,0.3 1,0.6 1,3.4 1,-2.3 1,10.4 1,-5.2 1,-3 1,1.6 1,3.4 1,7 1,-3.1 1,2.3 1,15.8 1,-24.8 1,4.3 1,1.4 1,10.6 1,-7.3 1,-4.9 1,-2.1 1,-0.6 1,-4 1,2.6 1,-6.2 1,15.9 1,-11.3 1,12.2 1,-1.8 1,-10.7 1,-5.3 1,5.8 1,-4 1,-3.3 1,14.9 1,4.4 1,1.2 1,-6 1,2.8 1,-10.5 1,7.7 1,-0.3 1,0.2 1,4.7 1,-8.7 1,-1 1,3.6 1,8.6 1,-1.4 1,0.6 1,2.6 1,-0.1 1,-5.5 1,0.3 1,-2.5 1,-3.4 1,2.2 1,15.4 1,2.6 1,-12.9 1,0.6 1,-20.3 1,9 1,6.8 1,-0.5 1,-5.4 1,0.6 1,-12.6 1,13.2 1,10.4 1,43 1,-57.4 1,-9.9 1,11.3 1,-11.6 1,-14.4 1,20.6 1,-19.4 1,-15.9 1,26 1,-24.7 1,4.9 1,24.2 1,-14 1,25.6 1,1.5 1,-1.2 1,-0.1 1,1.5 1,-7.7 1,-1.6 1,7.1 1,-0.1 1,-4.9 1,-4.7 1,5.9 1,-1.6 1,0.1 1,10.1 1,0.9 1,-3.7 1,-0.3 1,-3.7 1,2.1 1,-5.8 1,-8.1 1,8.5 1,-0.8 1,2.6 1,-3.8 1,4.6 1,-1.2 1,6.9 1,-6.3 1,0.4 1,5.1 1,-4.3 1,-2.3 1,-4.9 1,7.4 1,16.4 1,-5.5 1,3.6 1,0.3 1,-2.9 1,0.1 1,-7.1 1,4.7 1,4.8 1,-11.4 1,11.2 1,-2 1,2.8 1,-4.3 1,-9 1,8.7 1,-1.3 1,-15.3 1,12.8 1,10.7 1,-2 1,-5.8 1,-9.6 1,-1.4 1,-0.6 1,6.2 1,-2.7 1,0.1 1,3.1 1,0.2 1,4.8 1,-2 1,-1.7 1,4.9 1,-1.4 1,0 1,6.9 1,-6 1,9 1,-9.4 1,-10.4 1,8.6 1,-19.5 1,3.3 1,8.8 1,4.8 1,4.6 1,3.9 1,-12.7 1,4.2 1,3.9 1,-5.4 1,6.9 1,-3.4 1,8.9 1,-8.1 1,-2.8 1,-10.9 1,3.4 1,1 1,-0.5 1,4.2 1,1.3 1,-4.1 1,-1.6 1,-0.4 1,4.8 1,-10.6 1,11.3 1,-11.9 1,1 1,6.2 1,-0.3 1,4.1 1,1.1 1,-2.8 1,7.1 1,-1.8 1,-1.4 1,4.2 1,0.2 1,-9.1 1,3 1,0.5 1,-7.5 1,13.1 1,-3.1 1,-2.6 1,-5 1,-3.3 1,11.3 1,-6.7 1,1.3 1,7 1,-5.4 1,-5.8 1,1.9 1,-13.9 1,11.3 1,-12.1 1,-8.2 1,13.1 1,-7.2 1,5.6 1,20 1,-26.6 1,10.9 1,-0.8 1,-23.2 1,10.5 1,-4.3 1,-3.8 1,28.3 1,-13.8 1,6.5 1,8.6 1,0.5 1,9.4 1,-5.3 1,6.3 1,-3.3 1,3.2 1,-1.4 1,-5.4 1,-1.2 1,2.1 1,-0.1 1,-2 1,2.2 1,7.2 1,-11.4 1,2.9 1,-4.5 1,-0.7 1,6.3 1,-0.9 1,6.1 1,3.3 1,-3.2 1,-5.4 1,-3.8 1,10 1,-1.9 1,-3.5 1,-4 1,7.5 1,3.5 1,-8.8 1,-5.6 1,-24.6 1,10.5 1,4.6 1,-7.4 1,24.2 1,18.3 1,-14.5 1,7.6 1,-18 1,-4.9 1,-6.7 1,-11.9 1,24.7 1,13.1 1,3.7 1,-7.9 1,-1.4 1,13.2 1,-14.5 1,2.4 1,2.2 1,-6.2 1,-3.1 1,15.4 1,1.1 1,-11.8 1,7.6 1,-12.2 1,-0.1 1,-1.9 1,-3.7 1,8.6 1,14.1 1,-12.1 1,-2.7 1,-3.1 1,-5.8 1,-3.6 1,9.7 1,-2.3 1,7.3 1,-2.9 1,8.6 1,-6.7 1,1.8 1,-7.1 1,2.8 1,3.6 1,6.4 1,-4.3 1,-9 1,-0.8 1,2.9 1,-10.4 1,1.6 1,10.9 1,16.3 1,-9.2 1,-2.1 1,6.6 1,-15.8 1,6.2 1,-3.1 1,5.9 1,-6.1 1,16.3 1,-10.4 1,-6.5 1,-8.4 1,2.9 1,-4.9 1,-8.4 1,6.2 1,9.9 1,20.7 1,-11.8 1,-3.9 1,-2.4 1,3.2 1,-3.5 1,10.8 1,0.6 1,-1.3 1,-5.8 1,4.3 1,4.3 1,12.7 1,-15 1,0.9 1,1.8 1,-5.4 1,1.5 1,-3.5 1,3.1 1,-4.2 1,1.5 1,3.2 1,1.6 1,-3 1,-1.9 1,1.7 1,0.5 1,8 1,-9.7 1,5.1 1,-1.8 1,4.4 1,0.5 1,-13.7 1,6.2 1,-9.1 1,3.9 1,2.7 1,4.3 1,0.7 1,0.7 1,1.8 1,5.7 1,-7.6 1,-7.5 1,8.5 1,17.8 1,-11.3 1,-13.3 1,3.3 1,-4.9 1,-2.2 1,6.9 1,7.9 1,-7.6 1,-5.7 1,5.2 1,-10.9 1,25.6 1,13.9 1,95.2 1,-106.1 1,-36.9 1,7.7 1,11.7 1,-9 1,4.2 1,8.4 1,-2.5 1,-8.4 1,-1.4 1,-5 1,-2.5 1,5.4 1,6.5 1,-1.7 1,3.2 1,-8.3 1,6.7 1,-6.3 1,-4.6 1,-4.5 1,8.6 1,13.1 1,-2.7 1,1.1 1,-0.5 1,1.4 1,-1.6 1,1.9 1,6.4 1,-10.2 1,-5.3" fill="none" stroke="#000" stroke-width="1.0" stroke-linejoin="round"/>
<path d="M53,572.2l1,-4.3 1,-5.7 1,-2.2 1,10.8 1,-14 1,31 1,24.2 1,-63.9 1,18.4 1,-13.5 1,11.1 1,10.6 1,1.4 1,4.1 1,7.7 1,-2 1,-5.6 1,-11.1 1,-13.2 1,29.6 1,-22.5 1,15.2 1,-0.6 1,0.7 1,2.3 1,6.7 1,-4.8 1,3.8 1,4.1 1,7.9 1,1.4 1,-1.5 1,-14.4 1,7 1,-10 1,11.2 1,-1.5 1,-13.2 1,5.2 1,-4.4 1,-3.7 1,7.2 1,1 1,3.7 1,3.4 1,-8.2 1,5.1 1,-5.5 1,-1.2 1,-1.4 1,7.9 1,9.9 1,-13.1 1,-3.2 1,6.8 1,-1.4 1,-2.1 1,-0.6 1,3.8 1,9.9 1,-10.8 1,-3.6 1,-0.5 1,-2.7 1,2.9 1,0.1 1,-2.5 1,2 1,1.5 1,-8.8 1,-4.8 1,14.8 1,19.1 1,-5.8 1,-11.1 1,1.3 1,4.3 1,-3.8 1,1.7 1,-0.6 1,-0.4 1,-3.1 1,2 1,18 1,76.3 1,-85 1,-31 1,18.9 1,-1.9 1,-0.3 1,-7.1 1,-2 1,-7.6 1,14.4 1,-5.7 1,2.9 1,5.4 1,-4.4 1,-9.7 1,8.6 1,-8.1 1,12.5 1,-15.2 1,-6.8 1,14.6 1,-12 1,16 1,-10.1 1,0.9 1,12.1 1,-6.1 1,0.4 1,17.5 1,-11.4 1,2.5 1,-0.1 1,-1.7 1,-12.6 1,11.9 1,5.1 1,1.8 1,-1.2 1,-1.1 1,14.1 1,-15.6 1,-0.5 1,11.8 1,-1.7 1,-9.9 1,5 1,-13.5 1,6.6 1,4.1 1,-3 1,-1.1 1,-3.5 1,3.7 1,-1.7 1,-2 1,5 1,-12.2 1,3.7 1,4.9 1,-16.3 1,9.2 1,0.9 1,-6.3 1,8.7 1,5.9 1,-7.6 1,0.1 1,2 1,1.9 1,1.7 1,5.1 1,-8.1 1,5 1,-2.5 1,11.4 1,-2.9 1,-0.4 1,5.3 1,-8.1 1,-1.4 1,-3.8 1,-5.9 1,11.9 1,7.9 1,15.7 1,-24.6 1,0.9 1,0.5 1,-16 1,-1.7 1,0.6 1,1.1 1,-1 1,15.9 1,-6.5 1,-2.8 1,5.9 1,1.1 1,2.2 1,-14 1,4.3 1,1 1,0.4 1,1 1,3.3 1,-1.7 1,0.9 1,-9.3 1,10.2 1,-3.9 1,7.4 1,-16.9 1,7.2 1,7.2 1,-17.4 1,-1.4 1,13.1 1,-10.5 1,18.4 1,0 1,-2.6 1,-5.7 1,-2.1 1,4.4 1,-3 1,2.7 1,-3.4 1,-6 1,32.2 1,-17.1 1,-4.3 1,11.7 1,-4.3 1,-29 1,17.1 1,-6.3 1,-5.7 1,13.4 1,7.5 1,-6.5 1,1.4 1,-4.5 1,8 1,-2.6 1,-1.1 1,-2.9 1,1.9 1,4.5 1,0.3 1,-1.2 1,7.4 1,45.8 1,4.5 1,-95.7 1,-13.1 1,36.1 1,37.4 1,2.2 1,-19.9 1,-43.9 1,-24.5 1,20.2 1,33.6 1,39.5 1,23.7 1,-37.2 1,-34.9 1,-14.2 1,8 1,16.1 1,23.9 1,6.1 1,7.6 1,-13.6 1,2.6 1,10.7 1,6.7 1,-6.2 1,-20.7 1,-13.4 1,-12.6 1,-11.1 1,13.6 1,21.1 1,-1 1,-2.9 1,4.7 1,6.3 1,-6.5 1,-20.1 1,-1.9 1,4.7 1,5.8 1,11.3 1,4.8 1,-8 1,-5.3 1,12.3 1,0.8 1,-8.8 1,-7.6 1,0.5 1,6.1 1,-1.6 1,1.1 1,3.3 1,-5.6 1,2.1 1,-10.2 1,9.3 1,-16 1,18.5 1,-1.3 1,-4.8 1,-4.4 1,-5.5 1,1.2 1,5.9 1,1.9 1,5.2 1,-5 1,2.6 1,2.9 1,6.8 1,11.4 1,31.5 1,-53.6 1,1.9 1,-10.2 1,13 1,-6.2 1,-7.3 1,13.8 1,-6.2 1,-0.4 1,3.2 1,0 1,-1.8 1,0.7 1,-1.1 1,0.8 1,5 1,9.3 1,1.1 1,-4.6 1,1.9 1,-2.1 1,0.7 1,4.5 1,-6.2 1,-2 1,-4.1 1,-5.8 1,7.1 1,-1 1,1.9 1,-0.2 1,1.7 1,2.1 1,-3.6 1,-0.2 1,10.9 1,7.5 1,-11.4 1,-0.6 1,-5.4 1,-0.9 1,-0.3 1,-0.2 1,-3.8 1,-4 1,7.2 1,-12.1 1,3 1,13 1,1.3 1,-2.9 1,7.2 1,-23.4 1,19.3 1,4 1,-17.1 1,21.2 1,-23.1 1,-0.4 1,8.2 1,1.7 1,1.8 1,-2.1 1,-6.8 1,1.9 1,-6.3 1,-4 1,10.1 1,-0.9 1,8.6 1,-3.2 1,1.3 1,-8.3 1,12.7 1,-8.4 1,-2.6 1,-2.4 1,-1.6 1,12.7 1,-5.2 1,-2.8 1,1.8 1,3.6 1,-3.5 1,-4.2 1,12.7 1,2.3 1,4.8 1,-8.4 1,-11.5 1,6 1,-1.2 1,5.7 1,-0.2 1,-3.7 1,3.5 1,1 1,-5.9 1,-2.5 1,-4.6 1,11.9 1,-15.5 1,13.3 1,-2.5 1,-3.5 1,6.6 1,-1.5 1,1.4 1,-0.7 1,-1.1 1,6.5 1,-3.2 1,-3.4 1,-4.4 1,9.4 1,-7.6 1,5.3 1,4.2 1,-10.2 1,-2.7 1,7.2 1,8.7 1,-5.3 1,-6 1,12.2 1,-6 1,-7.9 1,8.2 1,0.2 1,-8.9 1,11.8 1,-10.8 1,5.7 1,8 1,-2.2 1,-15.6 1,3.7 1,6.7 1,8.2 1,-6.3 1,2 1,2.3 1,-9 1,-7.9 1,6.9 1,9 1,-0.1 1,-4.5 1,-2.2 1,13.7 1,-8.6 1,-9.8 1,2.7 1,-2.5 1,11.4 1,4 1,-16.2 1,1.8 1,0.6 1,9.2 1,-1.3 1,8.5 1,1.2 1,-4 1,-10.2 1,-2.5 1,4.6 1,-4.6 1,-1.3 1,13.5 1,-5.9 1,-4.5 1,-5.4 1,9.6 1,0.5 1,-9.3 1,2.5 1,13.7 1,-10.6 1,-0.7 1,6.9 1,-11.3 1,-4.5 1,-5.3 1,1.4 1,-1 1,9.4 1,12.5 1,-12 1,-4.4 1,-5.1 1,-3.4 1,7.9 1,-6 1,7.4 1,-0.7 1,13.8 1,-2.1 1,-20.7 1,8.7 1,8.2 1,-5.5 1,-8.1 1,-1.2 1,11.1 1,-3.8 1,7.5 1,7 1,-18.1 1,12.4 1,1 1,6.2 1,-11.3 1,-8 1,1.1 1,1.3 1,3.5 1,3.3 1,-0.8 1,8.7 1,-17.3 1,3.7 1,1.9 1,1.9 1,12.5 1,-10 1,-15.6 1,3.6 1,13.7 1,-6.3 1,-2.6 1,13.4 1,-31.8 1,17.1 1,-3 1,-6.1 1,11.6 1,7.6 1,1 1,-9.1 1,-3.8 1,18.5 1,13.3 1,72.1 1,-80.3 1,-29.7 1,19.5 1,-5.3 1,8.6 1,0.7 1,4.1 1,-3.7 1,-3.6 1,-8 1,-0.4 1,9.4 1,-3.4 1,17.6 1,-3.4 1,-24.3 1,13.1 1,-1.5 1,-2.5 1,-12.5 1,9.2 1,-0.9 1,-3.5 1,2.1 1,-9.9 1,2.6 1,0.5 1,0.7 1,9.9 1,3.7 1,2.7 1,-7.7 1,0.3 1,0.8 1,-9.3 1,-7.1 1,9.5 1,-6.9 1,-0.4 1,6.6 1,-14.5 1,4.1 1,6.1 1,-8.6 1,22 1,-12.5 1,7.3 1,7.5 1,-3.5 1,-5.5 1,3 1,-8.3 1,7.4 1,28.5 1,77.7 1,-86.6 1,-31.4 1,12.7 1,-6.2 1,3.4 1,-6.9 1,6.4 1,-3 1,3.1 1,-8.6 1,1.7 1,4.8 1,-3.5 1,-6.5 1,8.9 1,-17.4 1,19.8 1,7.2 1,-16.6 1,8.8 1,3.9 1,11.7 1,-6.3 1,-15.7 1,-1.1 1,0.1 1,-3.2 1,6.8 1,1.8 1,-5.1 1,11.3 1,-3.7 1,11.5 1,-4.4 1,-4.2 1,6.1 1,1.2 1,3.7 1,-13.6 1,-0.3 1,6.1 1,2.2 1,7.7 1,-6.1 1,0.2 1,1.9 1,-5.9 1,-0.3 1,-0.4 1,3.1 1,1.8 1,11 1,1.9 1,-12.6 1,9.5 1,-3.6 1,3.1 1,-7.3 1,-4.2 1,0.6 1,-2.8 1,5 1,-10.4 1,8.4 1,1.2 1,3.6 1,-6.4 1,-0.7 1,1.3 1,2.3 1,8.4 1,-2.1 1,-9.5 1,6.5 1,-5.9 1,-3.5 1,9.9 1,-9.8 1,-1.7 1,-4 1,3.8 1,-8 1,7.8 1,-20.3 1,6.4 1,4.8 1,-15.7 1,38.1 1,-11.5 1,-19.8 1,19.2 1,-4.2 1,2.4 1,13.3 1,-14.2 1,9.6 1,7.2 1,-11.3 1,2.4 1,1.4 1,1 1,-6.8 1,3.1 1,6.1" fill="none" stroke="#000" stroke-width="1.0" stroke-linejoin="round"/>
<text x="283.4" y="31.3" font-size="41" fill="#333" text-anchor="middle">CS</text>
<path d="M282.2,46.5 297.4,46.5 297.4,70.2 304.8,70.2 289.8,93.3 274.8,70.2 282.2,70.2Z" fill="#fff" stroke="#333" stroke-width="1.6" stroke-linejoin="miter"/>
<text x="20" y="107.8" font-size="60" fill="#333" text-anchor="start" font-weight="bold">a</text>
<line x1="307.8" y1="363.5" x2="369.5" y2="363.5" stroke="#333" stroke-width="3.8"/>
<path d="M288.8,363.5 L309.8,353.0 L309.8,374.0Z M388.5,363.5 L367.5,353.0 L367.5,374.0Z" fill="#333"/>
<text x="338.2" y="406" font-size="40.5" fill="#333" text-anchor="middle">SP</text>
<line x1="567" y1="386" x2="755" y2="386" stroke="#333" stroke-width="4"/>
<text x="667.3" y="439.5" font-size="40.5" fill="#333" text-anchor="middle">20 ms</text>
<text x="879.5" y="44.3" font-size="41" fill="#333" text-anchor="middle">CS</text>
<path d="M866.4,59.5 881.6,59.5 881.6,84 889,84 874,106.8 859,84 866.4,84Z" fill="#fff" stroke="#333" stroke-width="1.6" stroke-linejoin="miter"/>
<text x="1158" y="144.5" font-size="40.2" fill="#333" text-anchor="middle">WT</text>
<line x1="1076" y1="286.8" x2="1128" y2="286.8" stroke="#333" stroke-width="4"/>
<text x="1136" y="336" font-size="40.5" fill="#333" text-anchor="middle">2.0 ms</text>
<text x="287.5" y="446.8" font-size="41" fill="#333" text-anchor="middle">CS</text>
<path d="M280.4,453.5 295.6,453.5 295.6,478 303,478 288,500.3 273,478 280.4,478Z" fill="#fff" stroke="#333" stroke-width="1.6" stroke-linejoin="miter"/>
<text x="15.5" y="503.6" font-size="60" fill="#333" text-anchor="start" font-weight="bold">b</text>
<line x1="307.8" y1="722" x2="476" y2="722" stroke="#333" stroke-width="3.8"/>
<path d="M288.8,722 L309.8,711.5 L309.8,732.5Z M495,722 L474,711.5 L474,732.5Z" fill="#333"/>
<text x="343.5" y="761.3" font-size="40.5" fill="#333" text-anchor="middle">SP</text>
<line x1="576" y1="719" x2="764.5" y2="719" stroke="#333" stroke-width="4"/>
<text x="677" y="765" font-size="40.5" fill="#333" text-anchor="middle">20 ms</text>
<text x="873.5" y="428.3" font-size="41" fill="#333" text-anchor="middle">CS</text>
<path d="M868.4,436.5 883.6,436.5 883.6,459.5 891,459.5 876,483.3 861,459.5 868.4,459.5Z" fill="#fff" stroke="#333" stroke-width="1.6" stroke-linejoin="miter"/>
<text x="1138.5" y="494" font-size="40.2" fill="#333" text-anchor="middle">PC-BK-/-</text>
<line x1="1082.5" y1="601.5" x2="1142.5" y2="601.5" stroke="#333" stroke-width="4"/>
<text x="1141" y="655" font-size="40.5" fill="#333" text-anchor="middle">2.0 ms</text>
<path d="M810.2,215.3 826.8,214.2 834.2,215.6 845.2,214.9 847.8,217.1 850.7,225.2 858.1,211.6 863.6,208.3 867.3,209 871,204.2 872.8,198.7 874.6,204.2 877.2,314.6 882,147.2 883.8,134.3 886.4,129.5 891.2,139.8 896.7,158.2 903.3,183.3 908.5,191.4 913.3,201.7 918.8,214.5 924.3,221.5 931.7,230 937.2,250.2 940.9,263.1 943.8,267.9 947.5,261.3 951.9,242.9 957.4,220.8 963,212.7 967.4,212.7 972.2,217.1 979.5,227.4 985,231.1 992.4,233.7 997.9,234.4 1003.4,236.6 1010.8,236.6 1016.3,234.4 1020,235.5 1025.5,241 1029.2,242.9 1034.7,238.5 1040.2,230 1047.6,221.9 1053.1,219.3 1064.2,219.3 1075.2,220.8 1084.4,220.1 1091.8,217.9 1099.1,215.3 1110.2,213.4 1121.2,213.1 1132.2,213.4 1143.3,212.7 1148.8,210.9 1154.3,212 1161.7,210.9 1172.7,210.5 1180.1,208.7 1185.6,210.9 1191.1,210.5 1202.2,212.3 1213.2,214.2 1218.7,212.3 1226.1,213.4 1239,212.7" fill="none" stroke="#000" stroke-width="2.2" stroke-linejoin="round"/>
<path d="M807.7,571.4 811.3,566.9 815,566.9 817.6,570.6 821.3,569.5 825,567.7 828.6,565.8 834.2,567.7 839.7,575 845.2,575 848.9,569.5 852.6,571.4 856.2,575 861.8,579.8 867.3,576.9 870.2,591.6 873.9,700.2 877.6,600.8 880.2,519.8 882.7,507 888.6,519.8 893,564 896.7,604.5 900.4,586.1 904.8,538.2 909.6,519.8 913.3,527.2 917,545.6 921.7,578.7 925.4,593.4 929.8,584.2 934.3,560.3 938.7,547.4 944.6,551.1 949,567.7 953.8,587.9 958.2,594.2 963,582.4 968.5,562.2 974,560.3 979.5,564 985,571.4 988.7,573.2 992.4,584.2 996.1,578.7 999.8,571.4 1007.1,566.9 1014.5,565.1 1020,565.8 1025.5,574.3 1031,572.1 1036.6,575 1041,571.4 1044.7,578 1049.4,572.5 1056.8,568.8 1062.3,570.6 1066,575 1071.5,573.2 1077,576.9 1081.5,580.6 1086.2,576.9 1091.8,576.9 1099.1,571.4 1106.5,575 1113.8,578 1119.4,573.9 1124.9,574.3 1130.4,571.4 1137.8,572.1 1145.1,571.4 1149.9,581.7 1154.3,578.7 1159.8,570.6 1165.4,569.5 1170.9,565.1 1175.7,562.9 1180.1,565.8 1185.6,568.4 1191.9,578 1196.6,573.2 1201.4,568.8 1205.8,573.9 1211.4,572.1 1215,570.6 1218.7,578 1224.2,573.2 1227.9,575 1231.6,577.6" fill="none" stroke="#000" stroke-width="2.7" stroke-linejoin="round"/>
<rect x="2.5" y="864.1" width="908" height="1110.1" fill="none" stroke="#444" stroke-width="1.7"/>
<text x="19.5" y="925.2" font-size="60" fill="#333" text-anchor="start" font-weight="bold">c</text>
<line x1="117" y1="905" x2="117" y2="1211.8" stroke="#777" stroke-width="1.2"/>
<path d="M114.5,1211.3h2.5M114.5,1195.9h2.5M114.5,1180.5h2.5M114.5,1165.1h2.5M114.5,1149.7h2.5M114.5,1134.3h2.5M114.5,1118.9h2.5M114.5,1103.5h2.5M114.5,1088.1h2.5M114.5,1072.7h2.5M114.5,1057.3h2.5M114.5,1041.9h2.5M114.5,1026.5h2.5M114.5,1011.1h2.5M114.5,995.7h2.5M114.5,980.3h2.5M114.5,964.9h2.5M114.5,949.5h2.5M114.5,934.1h2.5M114.5,918.7h2.5" stroke="#888" stroke-width="0.8" fill="none"/>
<line x1="114" y1="1211.3" x2="521" y2="1211.3" stroke="#333" stroke-width="1.2"/>
<line x1="104" y1="965.2" x2="117" y2="965.2" stroke="#555" stroke-width="1"/>
<text x="102.3" y="973.8000000000001" font-size="24.8" fill="#111" text-anchor="end">.004</text>
<line x1="104" y1="1088.3" x2="117" y2="1088.3" stroke="#555" stroke-width="1"/>
<text x="102.3" y="1096.8999999999999" font-size="24.8" fill="#111" text-anchor="end">.002</text>
<rect x="127.6" y="1166.9" width="5.8" height="44.9" fill="#000"/>
<rect x="133.1" y="1154.4" width="5.4" height="57.4" fill="#000"/>
<rect x="138.3" y="1043.6" width="5.8" height="168.2" fill="#000"/>
<rect x="143.8" y="1051.6" width="5.4" height="160.2" fill="#000"/>
<rect x="148.9" y="1139.9" width="5" height="71.9" fill="#000"/>
<rect x="153.7" y="1124.6" width="5.4" height="87.2" fill="#000"/>
<rect x="158.9" y="1187.5" width="5.4" height="24.3" fill="#000"/>
<rect x="164" y="1206.8" width="5.4" height="5" fill="#000"/>
<rect x="169.2" y="1204.1" width="5.4" height="7.7" fill="#000"/>
<rect x="174.3" y="1206.8" width="5" height="5" fill="#000"/>
<rect x="179.1" y="1178" width="5.8" height="33.8" fill="#000"/>
<rect x="184.6" y="1135.1" width="5.8" height="76.7" fill="#000"/>
<rect x="190.2" y="1178.9" width="5.4" height="32.9" fill="#000"/>
<rect x="195.3" y="1200.4" width="5" height="11.4" fill="#000"/>
<rect x="200.1" y="1183.1" width="5.4" height="28.7" fill="#000"/>
<rect x="205.2" y="1155" width="5.8" height="56.8" fill="#000"/>
<rect x="210.8" y="1159.6" width="5.4" height="52.2" fill="#000"/>
<rect x="215.9" y="1181.6" width="5.2" height="30.2" fill="#000"/>
<rect x="225.9" y="1157.7" width="5.4" height="54.1" fill="#000"/>
<rect x="231" y="1025.8" width="5.4" height="186" fill="#000"/>
<rect x="236.2" y="950.7" width="5.4" height="261.1" fill="#000"/>
<rect x="241.3" y="918.9" width="5.8" height="292.9" fill="#000"/>
<rect x="246.8" y="962.7" width="2.8" height="249.1" fill="#000"/>
<rect x="249.4" y="1009.6" width="2.8" height="202.2" fill="#000"/>
<rect x="252" y="1015.7" width="5.2" height="196.1" fill="#000"/>
<rect x="257" y="1042.4" width="5.6" height="169.4" fill="#000"/>
<rect x="262.3" y="1052.3" width="5.4" height="159.5" fill="#000"/>
<rect x="267.4" y="1095.2" width="5.2" height="116.6" fill="#000"/>
<rect x="272.4" y="1070.7" width="5.4" height="141.1" fill="#000"/>
<rect x="277.6" y="1091.8" width="5.4" height="120" fill="#000"/>
<rect x="282.7" y="1140.2" width="5.2" height="71.6" fill="#000"/>
<rect x="287.7" y="1149.1" width="5.2" height="62.7" fill="#000"/>
<rect x="292.6" y="1139.3" width="6" height="72.5" fill="#000"/>
<rect x="298.4" y="1153.5" width="5.2" height="58.3" fill="#222"/>
<rect x="302.9" y="1173" width="5.6" height="38.8" fill="#222"/>
<rect x="308.3" y="1182.2" width="5.4" height="29.6" fill="#222"/>
<rect x="313.4" y="1198.5" width="10.2" height="13.3" fill="#222"/>
<rect x="323.4" y="1184.1" width="5.6" height="27.7" fill="#222"/>
<rect x="328.8" y="1181.6" width="5.6" height="30.2" fill="#222"/>
<rect x="334.2" y="1193.1" width="5.4" height="18.7" fill="#222"/>
<rect x="339.4" y="1204.6" width="5.4" height="7.2" fill="#222"/>
<rect x="344.5" y="1206" width="5.2" height="5.8" fill="#222"/>
<rect x="349.5" y="1203.3" width="5.4" height="8.5" fill="#222"/>
<rect x="354.7" y="1201.8" width="5.4" height="10" fill="#222"/>
<rect x="359.9" y="1209.1" width="5.2" height="2.7" fill="#222"/>
<rect x="364.9" y="1201.8" width="4.9" height="10" fill="#222"/>
<rect x="369.5" y="1198.9" width="5.6" height="12.9" fill="#222"/>
<rect x="374.9" y="1191.2" width="5.4" height="20.6" fill="#222"/>
<rect x="380.1" y="1185.8" width="5.2" height="26" fill="#222"/>
<rect x="385.1" y="1177.2" width="5.4" height="34.6" fill="#222"/>
<rect x="390.2" y="1165.3" width="5.4" height="46.5" fill="#222"/>
<rect x="395.4" y="1165.7" width="5.6" height="46.1" fill="#222"/>
<rect x="400.8" y="1176.4" width="5.4" height="35.4" fill="#222"/>
<rect x="406" y="1185.8" width="10.4" height="26" fill="#222"/>
<rect x="416.2" y="1181" width="5.4" height="30.8" fill="#222"/>
<rect x="421.3" y="1175.5" width="5.6" height="36.3" fill="#222"/>
<rect x="426.7" y="1182.2" width="5.6" height="29.6" fill="#222"/>
<rect x="432.1" y="1196.6" width="5.4" height="15.2" fill="#222"/>
<rect x="437.3" y="1205.2" width="5.1" height="6.6" fill="#222"/>
<rect x="442.1" y="1203.7" width="5.6" height="8.1" fill="#222"/>
<rect x="447.5" y="1200.4" width="5.4" height="11.4" fill="#222"/>
<rect x="452.6" y="1201.4" width="5.4" height="10.4" fill="#222"/>
<rect x="457.8" y="1202.7" width="5.6" height="9.1" fill="#222"/>
<rect x="463.2" y="1204.6" width="5" height="7.2" fill="#222"/>
<rect x="468" y="1204.1" width="9.9" height="7.7" fill="#222"/>
<rect x="477.6" y="1198.3" width="6" height="13.5" fill="#222"/>
<rect x="483.4" y="1198.9" width="5.6" height="12.9" fill="#222"/>
<rect x="488.7" y="1206" width="5.4" height="5.8" fill="#222"/>
<rect x="493.9" y="1209.4" width="5.1" height="2.4" fill="#222"/>
<rect x="498.7" y="1208.1" width="6" height="3.7" fill="#222"/>
<rect x="504.5" y="1208.7" width="5" height="3.1" fill="#222"/>
<rect x="509.3" y="1209.1" width="10.4" height="2.7" fill="#222"/>
<rect x="122.5" y="1202" width="5.2" height="9.3" fill="#eee" stroke="#555" stroke-width="0.8"/>
<line x1="183.7" y1="1211.3" x2="183.7" y2="1222.3" stroke="#666" stroke-width="1"/>
<line x1="249.5" y1="1211.3" x2="249.5" y2="1222.3" stroke="#666" stroke-width="1"/>
<line x1="315.4" y1="1211.3" x2="315.4" y2="1222.3" stroke="#666" stroke-width="1"/>
<line x1="381" y1="1211.3" x2="381" y2="1215.3" stroke="#777" stroke-width="1"/>
<line x1="447.3" y1="1211.3" x2="447.3" y2="1215.3" stroke="#777" stroke-width="1"/>
<line x1="513.5" y1="1211.3" x2="513.5" y2="1215.3" stroke="#777" stroke-width="1"/>
<path d="M130.2,1211.3v2M143.4,1211.3v2M156.6,1211.3v2M169.8,1211.3v2M183,1211.3v2M196.2,1211.3v2M209.4,1211.3v2M222.6,1211.3v2M235.8,1211.3v2M249,1211.3v2M262.2,1211.3v2M275.4,1211.3v2M288.6,1211.3v2M301.8,1211.3v2M315,1211.3v2M328.2,1211.3v2M341.4,1211.3v2M354.6,1211.3v2M367.8,1211.3v2M381,1211.3v2M394.2,1211.3v2M407.4,1211.3v2M420.6,1211.3v2M433.8,1211.3v2M447,1211.3v2M460.2,1211.3v2M473.4,1211.3v2M486.6,1211.3v2M499.8,1211.3v2M513,1211.3v2" stroke="#888" stroke-width="0.7" fill="none"/>
<text x="51.2" y="1100" font-size="30" fill="#333" text-anchor="middle" transform="rotate(-90 51.2 1100)">Power (u.a)</text>
<line x1="117" y1="1234.5" x2="117" y2="1544.0" stroke="#777" stroke-width="1.2"/>
<path d="M114.5,1543.5h2.5M114.5,1528.1h2.5M114.5,1512.7h2.5M114.5,1497.3h2.5M114.5,1481.9h2.5M114.5,1466.5h2.5M114.5,1451.1h2.5M114.5,1435.7h2.5M114.5,1420.3h2.5M114.5,1404.9h2.5M114.5,1389.5h2.5M114.5,1374.1h2.5M114.5,1358.7h2.5M114.5,1343.3h2.5M114.5,1327.9h2.5M114.5,1312.5h2.5M114.5,1297.1h2.5M114.5,1281.7h2.5M114.5,1266.3h2.5M114.5,1250.9h2.5M114.5,1235.5h2.5" stroke="#888" stroke-width="0.8" fill="none"/>
<line x1="114" y1="1543.5" x2="521" y2="1543.5" stroke="#333" stroke-width="1.2"/>
<line x1="104" y1="1319.4" x2="117" y2="1319.4" stroke="#555" stroke-width="1"/>
<text x="102.3" y="1328.0" font-size="24.8" fill="#111" text-anchor="end">.004</text>
<line x1="104" y1="1431.6" x2="117" y2="1431.6" stroke="#555" stroke-width="1"/>
<text x="102.3" y="1440.1999999999998" font-size="24.8" fill="#111" text-anchor="end">.002</text>
<rect x="116.6" y="1521.2" width="5.4" height="22.8" fill="#1f1f1f"/>
<rect x="121.7" y="1489" width="6.1" height="55" fill="#1f1f1f"/>
<rect x="127.6" y="1501.9" width="5.2" height="42.1" fill="#1f1f1f"/>
<rect x="132.6" y="1448.2" width="5.4" height="95.8" fill="#1f1f1f"/>
<rect x="142.7" y="1526" width="5.4" height="18" fill="#1f1f1f"/>
<rect x="147.8" y="1413.8" width="5.8" height="130.2" fill="#1f1f1f"/>
<rect x="153.4" y="1473.9" width="5.4" height="70.1" fill="#1f1f1f"/>
<rect x="158.5" y="1517.2" width="5.6" height="26.8" fill="#1f1f1f"/>
<rect x="163.8" y="1519.6" width="5.4" height="24.4" fill="#1f1f1f"/>
<rect x="169" y="1539.8" width="4.8" height="4.2" fill="#1f1f1f"/>
<rect x="173.6" y="1529.7" width="5.4" height="14.3" fill="#1f1f1f"/>
<rect x="178.8" y="1466.6" width="5.8" height="77.4" fill="#1f1f1f"/>
<rect x="184.3" y="1458.8" width="5.6" height="85.2" fill="#1f1f1f"/>
<rect x="194.4" y="1487.4" width="5.2" height="56.6" fill="#1f1f1f"/>
<rect x="199.4" y="1410.8" width="6" height="133.2" fill="#1f1f1f"/>
<rect x="205.1" y="1431.2" width="5.4" height="112.8" fill="#1f1f1f"/>
<rect x="210.2" y="1521.2" width="5.4" height="22.8" fill="#1f1f1f"/>
<rect x="215.4" y="1531.9" width="5" height="12.1" fill="#1f1f1f"/>
<rect x="220.2" y="1495.1" width="5.6" height="48.9" fill="#1f1f1f"/>
<rect x="225.5" y="1420.2" width="5.4" height="123.8" fill="#1f1f1f"/>
<rect x="230.6" y="1331" width="5.2" height="213" fill="#1f1f1f"/>
<rect x="235.6" y="1272.1" width="6" height="271.9" fill="#1f1f1f"/>
<rect x="241.3" y="1248.9" width="5.6" height="295.1" fill="#1f1f1f"/>
<rect x="246.6" y="1293" width="5.4" height="251" fill="#1f1f1f"/>
<rect x="251.8" y="1313.1" width="5.2" height="230.9" fill="#1f1f1f"/>
<rect x="256.8" y="1401.4" width="5.8" height="142.6" fill="#1f1f1f"/>
<rect x="262.3" y="1477.6" width="5" height="66.4" fill="#1f1f1f"/>
<rect x="267.1" y="1482.2" width="5.2" height="61.8" fill="#1f1f1f"/>
<rect x="272" y="1392.6" width="5.2" height="151.4" fill="#1f1f1f"/>
<rect x="277" y="1365.7" width="5.8" height="178.3" fill="#1f1f1f"/>
<rect x="282.5" y="1465.3" width="5.6" height="78.7" fill="#1f1f1f"/>
<rect x="287.9" y="1516.6" width="5.2" height="27.4" fill="#1f1f1f"/>
<rect x="292.8" y="1489.7" width="5.8" height="54.3" fill="#1f1f1f"/>
<rect x="298.4" y="1490.1" width="5.6" height="53.9" fill="#1f1f1f"/>
<rect x="303.5" y="1520.2" width="5.4" height="23.8" fill="#1f1f1f"/>
<rect x="308.6" y="1524.1" width="5.4" height="19.9" fill="#1f1f1f"/>
<rect x="313.8" y="1535.6" width="5.1" height="8.4" fill="#1f1f1f"/>
<rect x="318.6" y="1518.9" width="5.6" height="25.1" fill="#1f1f1f"/>
<rect x="324" y="1487" width="5.6" height="57" fill="#1f1f1f"/>
<rect x="329.4" y="1505.3" width="5.4" height="38.7" fill="#1f1f1f"/>
<rect x="334.6" y="1511.2" width="5.1" height="32.8" fill="#1f1f1f"/>
<rect x="339.4" y="1499.5" width="5.4" height="44.5" fill="#1f1f1f"/>
<rect x="344.5" y="1506.2" width="5.6" height="37.8" fill="#1f1f1f"/>
<rect x="349.9" y="1535.6" width="5.6" height="8.4" fill="#1f1f1f"/>
<rect x="355.3" y="1515.8" width="5.4" height="28.2" fill="#1f1f1f"/>
<rect x="360.5" y="1516.4" width="5.4" height="27.6" fill="#1f1f1f"/>
<rect x="365.7" y="1524.1" width="5.6" height="19.9" fill="#1f1f1f"/>
<rect x="371" y="1526" width="5.4" height="18" fill="#1f1f1f"/>
<rect x="376.2" y="1532.1" width="5.2" height="11.9" fill="#1f1f1f"/>
<rect x="381.2" y="1535.6" width="4.9" height="8.4" fill="#1f1f1f"/>
<rect x="385.8" y="1517.9" width="5.6" height="26.1" fill="#1f1f1f"/>
<rect x="391.2" y="1485.1" width="5.6" height="58.9" fill="#1f1f1f"/>
<rect x="396.6" y="1483.4" width="5.6" height="60.6" fill="#1f1f1f"/>
<rect x="402" y="1494.3" width="5.4" height="49.7" fill="#1f1f1f"/>
<rect x="407.1" y="1497.2" width="5.4" height="46.8" fill="#1f1f1f"/>
<rect x="412.3" y="1506.2" width="5.4" height="37.8" fill="#1f1f1f"/>
<rect x="417.5" y="1513.9" width="5.6" height="30.1" fill="#1f1f1f"/>
<rect x="422.9" y="1517" width="5.4" height="27" fill="#1f1f1f"/>
<rect x="428.1" y="1520.2" width="5.2" height="23.8" fill="#1f1f1f"/>
<rect x="433.1" y="1527.5" width="5.4" height="16.5" fill="#1f1f1f"/>
<rect x="438.2" y="1533.7" width="5.4" height="10.3" fill="#1f1f1f"/>
<rect x="453.6" y="1539.8" width="5" height="4.2" fill="#1f1f1f"/>
<rect x="458.4" y="1533.1" width="5.4" height="10.9" fill="#1f1f1f"/>
<rect x="463.6" y="1526" width="5.6" height="18" fill="#1f1f1f"/>
<rect x="469" y="1527" width="5.6" height="17" fill="#1f1f1f"/>
<rect x="474.3" y="1530.4" width="5.4" height="13.6" fill="#1f1f1f"/>
<rect x="479.5" y="1533.7" width="5.4" height="10.3" fill="#1f1f1f"/>
<rect x="484.7" y="1535.2" width="5.6" height="8.8" fill="#1f1f1f"/>
<rect x="490.1" y="1537.5" width="5.4" height="6.5" fill="#1f1f1f"/>
<rect x="495.3" y="1539.4" width="5.6" height="4.6" fill="#1f1f1f"/>
<rect x="500.6" y="1541" width="5.1" height="3" fill="#1f1f1f"/>
<rect x="505.4" y="1541.7" width="5.4" height="2.3" fill="#1f1f1f"/>
<rect x="510.6" y="1540.2" width="10.4" height="3.8" fill="#1f1f1f"/>
<line x1="183.7" y1="1543.5" x2="183.7" y2="1554.5" stroke="#666" stroke-width="1"/>
<line x1="249.5" y1="1543.5" x2="249.5" y2="1554.5" stroke="#666" stroke-width="1"/>
<line x1="315.4" y1="1543.5" x2="315.4" y2="1554.5" stroke="#666" stroke-width="1"/>
<line x1="381" y1="1543.5" x2="381" y2="1547.5" stroke="#777" stroke-width="1"/>
<line x1="447.3" y1="1543.5" x2="447.3" y2="1547.5" stroke="#777" stroke-width="1"/>
<line x1="513.5" y1="1543.5" x2="513.5" y2="1547.5" stroke="#777" stroke-width="1"/>
<path d="M130.2,1543.5v2M143.4,1543.5v2M156.6,1543.5v2M169.8,1543.5v2M183,1543.5v2M196.2,1543.5v2M209.4,1543.5v2M222.6,1543.5v2M235.8,1543.5v2M249,1543.5v2M262.2,1543.5v2M275.4,1543.5v2M288.6,1543.5v2M301.8,1543.5v2M315,1543.5v2M328.2,1543.5v2M341.4,1543.5v2M354.6,1543.5v2M367.8,1543.5v2M381,1543.5v2M394.2,1543.5v2M407.4,1543.5v2M420.6,1543.5v2M433.8,1543.5v2M447,1543.5v2M460.2,1543.5v2M473.4,1543.5v2M486.6,1543.5v2M499.8,1543.5v2M513,1543.5v2" stroke="#888" stroke-width="0.7" fill="none"/>
<text x="49.8" y="1414" font-size="30" fill="#333" text-anchor="middle" transform="rotate(-90 49.8 1414)">Power (u.a)</text>
<line x1="117" y1="1569.5" x2="117" y2="1877.3" stroke="#777" stroke-width="1.2"/>
<path d="M114.5,1876.8h2.5M114.5,1861.4h2.5M114.5,1846h2.5M114.5,1830.6h2.5M114.5,1815.2h2.5M114.5,1799.8h2.5M114.5,1784.4h2.5M114.5,1769h2.5M114.5,1753.6h2.5M114.5,1738.2h2.5M114.5,1722.8h2.5M114.5,1707.4h2.5M114.5,1692h2.5M114.5,1676.6h2.5M114.5,1661.2h2.5M114.5,1645.8h2.5M114.5,1630.4h2.5M114.5,1615h2.5M114.5,1599.6h2.5M114.5,1584.2h2.5" stroke="#888" stroke-width="0.8" fill="none"/>
<line x1="114" y1="1876.8" x2="521" y2="1876.8" stroke="#333" stroke-width="1.2"/>
<line x1="104" y1="1697.2" x2="117" y2="1697.2" stroke="#555" stroke-width="1"/>
<text x="102.3" y="1705.8" font-size="24.8" fill="#111" text-anchor="end">.002</text>
<rect x="117.1" y="1864.3" width="5.6" height="13" fill="#000"/>
<rect x="122.4" y="1817.7" width="5.8" height="59.6" fill="#000"/>
<rect x="128" y="1872.4" width="5.4" height="4.9" fill="#000"/>
<rect x="133.1" y="1846.2" width="5.2" height="31.1" fill="#000"/>
<rect x="138.1" y="1784.6" width="5.6" height="92.7" fill="#000"/>
<rect x="143.4" y="1815.9" width="5.6" height="61.4" fill="#000"/>
<rect x="148.8" y="1861.3" width="5.4" height="16" fill="#000"/>
<rect x="153.9" y="1864.3" width="5.2" height="13" fill="#000"/>
<rect x="163.5" y="1834.3" width="6.1" height="43" fill="#1f1f1f"/>
<rect x="169.4" y="1833" width="5.4" height="44.3" fill="#1f1f1f"/>
<rect x="174.5" y="1852.3" width="5.4" height="25" fill="#1f1f1f"/>
<rect x="179.7" y="1864.3" width="5.2" height="13" fill="#1f1f1f"/>
<rect x="184.6" y="1840.2" width="5.4" height="37.1" fill="#1f1f1f"/>
<rect x="189.8" y="1831.2" width="5.2" height="46.1" fill="#1f1f1f"/>
<rect x="194.8" y="1804.3" width="5.8" height="73" fill="#1f1f1f"/>
<rect x="200.3" y="1739.2" width="5.8" height="138.1" fill="#1f1f1f"/>
<rect x="205.8" y="1757.6" width="5.2" height="119.7" fill="#1f1f1f"/>
<rect x="210.8" y="1825.1" width="5.4" height="52.2" fill="#1f1f1f"/>
<rect x="215.9" y="1843.8" width="4.8" height="33.5" fill="#1f1f1f"/>
<rect x="220.5" y="1817.2" width="5.4" height="60.1" fill="#1f1f1f"/>
<rect x="225.7" y="1728.5" width="5.8" height="148.8" fill="#1f1f1f"/>
<rect x="231.2" y="1654.9" width="5.6" height="222.4" fill="#1f1f1f"/>
<rect x="236.5" y="1653" width="5.6" height="224.3" fill="#1f1f1f"/>
<rect x="241.9" y="1727" width="5" height="150.3" fill="#1f1f1f"/>
<rect x="246.6" y="1616.2" width="5.4" height="261.1" fill="#1f1f1f"/>
<rect x="251.8" y="1583.1" width="5.4" height="294.2" fill="#1f1f1f"/>
<rect x="257" y="1649" width="5.8" height="228.3" fill="#1f1f1f"/>
<rect x="262.5" y="1676" width="5.4" height="201.3" fill="#1f1f1f"/>
<rect x="267.6" y="1801.5" width="5.2" height="75.8" fill="#1f1f1f"/>
<rect x="272.6" y="1861.9" width="5.6" height="15.4" fill="#1f1f1f"/>
<rect x="277.9" y="1869.2" width="5" height="8.1" fill="#1f1f1f"/>
<rect x="282.7" y="1803.9" width="5.6" height="73.4" fill="#1f1f1f"/>
<rect x="288" y="1725.4" width="5.4" height="151.9" fill="#1f1f1f"/>
<rect x="293.2" y="1798.4" width="5.4" height="78.9" fill="#1f1f1f"/>
<rect x="298.4" y="1772.1" width="5.6" height="105.2" fill="#1f1f1f"/>
<rect x="303.8" y="1790.1" width="5.4" height="87.2" fill="#1f1f1f"/>
<rect x="309" y="1868.9" width="5.1" height="8.4" fill="#1f1f1f"/>
<rect x="313.8" y="1870.8" width="5.2" height="6.5" fill="#1f1f1f"/>
<rect x="318.8" y="1848.3" width="5.8" height="29" fill="#1f1f1f"/>
<rect x="324.4" y="1851.6" width="5.2" height="25.7" fill="#1f1f1f"/>
<rect x="329.4" y="1854.1" width="5.4" height="23.2" fill="#1f1f1f"/>
<rect x="334.6" y="1852.2" width="5.6" height="25.1" fill="#1f1f1f"/>
<rect x="339.9" y="1863.7" width="4.9" height="13.6" fill="#1f1f1f"/>
<rect x="344.5" y="1848.3" width="6" height="29" fill="#1f1f1f"/>
<rect x="350.3" y="1866.9" width="5.6" height="10.4" fill="#1f1f1f"/>
<rect x="355.7" y="1871.7" width="9.8" height="5.6" fill="#1f1f1f"/>
<rect x="365.3" y="1866.9" width="5.4" height="10.4" fill="#1f1f1f"/>
<rect x="370.5" y="1854.5" width="5.6" height="22.8" fill="#1f1f1f"/>
<rect x="375.8" y="1830.5" width="6" height="46.8" fill="#1f1f1f"/>
<rect x="381.6" y="1838.1" width="5.4" height="39.2" fill="#1f1f1f"/>
<rect x="386.8" y="1850.2" width="10.4" height="27.1" fill="#1f1f1f"/>
<rect x="397" y="1854.1" width="5" height="23.2" fill="#1f1f1f"/>
<rect x="401.8" y="1864.6" width="5.1" height="12.7" fill="#1f1f1f"/>
<rect x="406.6" y="1850.2" width="5.6" height="27.1" fill="#1f1f1f"/>
<rect x="411.9" y="1828.2" width="5.8" height="49.1" fill="#1f1f1f"/>
<rect x="417.5" y="1833.3" width="5.2" height="44" fill="#1f1f1f"/>
<rect x="422.5" y="1852.7" width="5.1" height="24.6" fill="#1f1f1f"/>
<rect x="427.3" y="1835.8" width="5.4" height="41.5" fill="#1f1f1f"/>
<rect x="432.5" y="1834.5" width="5.6" height="42.8" fill="#1f1f1f"/>
<rect x="437.9" y="1864.6" width="5.4" height="12.7" fill="#1f1f1f"/>
<rect x="443" y="1859.3" width="6" height="18" fill="#1f1f1f"/>
<rect x="448.8" y="1871.4" width="5.1" height="5.9" fill="#1f1f1f"/>
<rect x="453.6" y="1874.2" width="5" height="3.1" fill="#1f1f1f"/>
<rect x="458.4" y="1871.9" width="5.1" height="5.4" fill="#1f1f1f"/>
<rect x="463.2" y="1870.8" width="6" height="6.5" fill="#1f1f1f"/>
<rect x="469" y="1863.1" width="5.6" height="14.2" fill="#1f1f1f"/>
<rect x="474.3" y="1861.2" width="5.4" height="16.1" fill="#1f1f1f"/>
<rect x="479.5" y="1868.5" width="5.4" height="8.8" fill="#1f1f1f"/>
<rect x="484.7" y="1871.9" width="5.6" height="5.4" fill="#1f1f1f"/>
<rect x="490.1" y="1873.7" width="5" height="3.6" fill="#1f1f1f"/>
<rect x="494.9" y="1874.8" width="5.1" height="2.5" fill="#1f1f1f"/>
<rect x="499.7" y="1869.8" width="6" height="7.5" fill="#1f1f1f"/>
<rect x="505.4" y="1874.6" width="5.4" height="2.7" fill="#1f1f1f"/>
<rect x="510.6" y="1875.8" width="5.6" height="1.5" fill="#1f1f1f"/>
<line x1="183.7" y1="1876.8" x2="183.7" y2="1887.8" stroke="#666" stroke-width="1"/>
<line x1="249.5" y1="1876.8" x2="249.5" y2="1887.8" stroke="#666" stroke-width="1"/>
<line x1="315.4" y1="1876.8" x2="315.4" y2="1887.8" stroke="#666" stroke-width="1"/>
<line x1="382" y1="1876.8" x2="382" y2="1887.8" stroke="#666" stroke-width="1"/>
<line x1="447.3" y1="1876.8" x2="447.3" y2="1880.8" stroke="#777" stroke-width="1"/>
<line x1="513.5" y1="1876.8" x2="513.5" y2="1880.8" stroke="#777" stroke-width="1"/>
<path d="M130.2,1876.8v2M143.4,1876.8v2M156.6,1876.8v2M169.8,1876.8v2M183,1876.8v2M196.2,1876.8v2M209.4,1876.8v2M222.6,1876.8v2M235.8,1876.8v2M249,1876.8v2M262.2,1876.8v2M275.4,1876.8v2M288.6,1876.8v2M301.8,1876.8v2M315,1876.8v2M328.2,1876.8v2M341.4,1876.8v2M354.6,1876.8v2M367.8,1876.8v2M381,1876.8v2M394.2,1876.8v2M407.4,1876.8v2M420.6,1876.8v2M433.8,1876.8v2M447,1876.8v2M460.2,1876.8v2M473.4,1876.8v2M486.6,1876.8v2M499.8,1876.8v2M513,1876.8v2" stroke="#888" stroke-width="0.7" fill="none"/>
<text x="46.2" y="1705" font-size="30" fill="#333" text-anchor="middle" transform="rotate(-90 46.2 1705)">Power (u.a)</text>
<text x="116" y="1910" font-size="29" fill="#111" text-anchor="middle" textLength="18.4" lengthAdjust="spacingAndGlyphs">0</text>
<text x="255.2" y="1915" font-size="29" fill="#111" text-anchor="middle" textLength="72.6" lengthAdjust="spacingAndGlyphs">2000</text>
<text x="381.6" y="1915" font-size="29" fill="#111" text-anchor="middle" textLength="72" lengthAdjust="spacingAndGlyphs">4000</text>
<text x="302.2" y="1959.6" font-size="37.5" fill="#111" text-anchor="middle" textLength="269" lengthAdjust="spacingAndGlyphs">Frequency (Hz)</text>
<path d="M370.8,988.9 373.6,972.6 376.5,988.8 379.4,970.9 381.3,985.8 383.7,977.5 385.7,985.7 388.5,974.3 390.4,981.1 392.1,973.2 394.1,988.2 396.2,968.8 398.8,980.1 401.5,994.5 403.6,981.1 405.5,969.4 408,982.6 410.2,970.5 412.5,977.7 415.1,968.1 417.5,956.9 418.7,967.4 421.1,975.7 423.1,968.2 425.8,984.4 428,970.2 430.7,983.9 433.5,972.7 436.4,981.9 438.9,970.5 441.9,982.4 444,975.7 445.9,981.7 447.9,964.4 450.3,984 452.8,974.2 455.1,992.7 456.8,969.7 458.7,980.6 461.3,978.7 463.6,991 465.7,964.5 468.5,989.4 470.9,978.8 473,986.5 475.2,968 477.7,989.8 478.8,1013.9 482.4,991.4 485.2,975.3 487.9,988.9 490,971 492.6,988.1 495.2,977.8 497.6,983.6 500.4,995.8 502.7,984.4 505.4,974.3 508.2,984 511.2,970.9 513.6,986.6 516.5,969.3 519.2,978.8 521.9,968.6 524.2,972.9 526.8,964.2 529.3,1070.9 531.9,905.1 534.5,934 537.1,1035.5 540.1,936.2 542.7,966.4 545.8,1029 548.8,964.2 551.8,983.7 556.6,1034.7 560.9,962.9 563.5,988 566.5,1021.7 570,972.9 573,951.3 575.1,1001 577.3,1005.3 580.3,1020.4 585.5,971.6 589,985.8 592.4,996.6 595.9,1019.1 599.8,962.1 602.8,968.6 605.7,983.2 608.2,975.1 610.2,986 612.2,971.3 614,982.3 615.8,973.6 617.7,979.5 620.1,972 622.6,974.7 623.5,966.4 626.5,974.2 628.8,970.2 630.6,981.9 632.2,993.2 635.4,982.6 637.6,974.2 640,991.6 642.5,973.4 644.3,985.7 646.4,1005.3 649.7,987 651.7,975.1 653.8,961.2 656.4,974.1 658.8,985.9 661.8,974.8 664.1,988.1 666.4,979 669.2,988.5 671.3,970.7 673.4,983.7 676.4,979.7 678.7,985.7 681.4,975.6 683.5,987.4 685.6,974.8 687.8,982.2 689.6,982.1 692.5,987.6 694.3,978.8 696.8,984.4 699.1,976.6 701.3,985.9 703.5,980.4 706.3,985.5 708.4,977.2 710.3,991.6 712.7,981.7 715.1,985.9 717.2,977 719.8,994 722.7,975.5 724.5,987.4 727.1,975.5 729,992 730.9,978.3 732.9,986.7 734.7,981.6 736.5,987.5 739.3,998.8 741.5,988.3 744.5,980.8 747.1,990 749.5,975.1 752,986.2 754.1,979.1 756,985.4 758.7,978.8 761.3,990.3 763.1,976.4 765.1,985.7 767.3,978.8 769.9,985.1 772.9,976.6 774.8,988.5 777.6,975.4 779.8,982.8 782.3,976.2 784.2,982.6 787,969.8 789.4,984.7 792.1,975.6 793.8,980.6 796.7,968.6 798.4,989.9 801,971.8 802.8,981.2 805,969.9 807,979.7 808.9,975.4 811.2,989.5 813.5,967.2" fill="none" stroke="#222" stroke-width="1.0" stroke-linejoin="round"/>
<path d="M525.5,1105.5V1119H613.6V1105.5" fill="none" stroke="#333" stroke-width="1.3"/>
<path d="M817.5,936.5H831.5V1032.3H817.5" fill="none" stroke="#333" stroke-width="1.3"/>
<text x="566" y="1145.5" font-size="27" fill="#333" text-anchor="middle">5 ms</text>
<text x="844" y="984.3" font-size="23.5" fill="#333" text-anchor="start">0.5</text>
<text x="844" y="1012.3" font-size="23.5" fill="#333" text-anchor="start">mV</text>
<path d="M368.6,1375.6 371.2,1355.6 373.4,1374.3 375.2,1379 377,1392.7 378.9,1381 381.9,1387 384.9,1371.6 387,1385 389.1,1377.8 391.6,1384.8 394,1378.2 396,1383.5 398.2,1374 400.3,1382.5 402.3,1373.1 405.2,1381.6 408.2,1376 410.9,1386.3 412.7,1372.6 415.1,1383.8 417.8,1372.1 420.1,1385 422.4,1376.9 425.1,1387.1 427.9,1378.1 430.5,1386.4 432.4,1376.7 435.1,1383.8 437.4,1375.6 439.7,1389.2 442.5,1373.8 444.7,1388.6 447.7,1376.3 449.7,1383.3 452.2,1379.2 454.5,1388.5 457.4,1377.4 460,1385.4 462.9,1378.5 465.6,1391.7 467.5,1383.2 469.3,1392.3 472.3,1405.3 473.4,1393.2 475.2,1379.7 477.1,1389.5 479.3,1379.5 482.3,1392.6 484.1,1380.3 486.2,1386.4 488,1375.9 489.9,1385.7 492.3,1370.9 494.9,1384.8 496.9,1377.2 499.6,1384.4 502.4,1368.4 505.2,1381.8 507.2,1372.1 508.9,1383.4 511,1368.4 513.3,1390.7 516.3,1374.4 518.3,1381.1 522,1383.7 524.6,1482.2 527.2,1302.5 529.8,1331.8 531.9,1450.6 536.3,1325.4 538.8,1379.4 541.4,1468.8 545.8,1340.5 549.2,1409.6 552.2,1483 555.7,1357.8 559.2,1372.9 562.2,1426.9 566.5,1341.8 570,1370.7 573,1372.9 576,1408.7 580.3,1352.6 583.8,1368.6 587.7,1370.7 592,1416.1 596.3,1352.6 599.8,1372.9 604.1,1383.7 606.3,1372.4 608.6,1387.7 610.5,1373.5 613.2,1386.9 614.9,1397.5 617.9,1387.6 620.2,1373.9 622.1,1387.3 625,1379.6 627.8,1390.8 630,1377.8 631.8,1389.9 634.2,1374.6 637,1387.4 638.6,1407.4 641.6,1388.8 643.5,1374 645.8,1389 648.1,1372.1 650.5,1381.4 652.8,1377 655.6,1383.7 658.2,1371.8 660.6,1386.2 662.5,1371.9 664.6,1378.2 667,1389.2 669.7,1423.4 671.7,1391.5 674.1,1391.5 676.8,1366.3 678.8,1389.7 681.7,1376 684,1384 685.8,1371.3 688.7,1386.8 691.3,1373.6 694.2,1386.6 696.5,1363.8 699.3,1385.3 701.3,1401 703.8,1386.4 706.3,1378.2 708.4,1385.3 710.2,1370.5 713.2,1386.2 715,1377.9 716.9,1393.6 719.7,1380.5 722.6,1389.2 724.5,1376.8 727.2,1361.2 729.3,1375.8 732.1,1393.9 734.4,1379.2 737.4,1385.3 739.8,1381.9 741.7,1388.1 743.8,1381 746,1388.1 748.1,1378.5 749.9,1383.9 751.9,1370.5 753.7,1384.7 756.1,1376.4 758.5,1384.3 760.6,1373.1 763.2,1385.4 765,1376.5 767.7,1384.9 770.4,1407.4 772.1,1386.4 774.2,1372.1 776.5,1381.5 779.5,1369.4 782.5,1378.2 784.2,1368.7 786.6,1377.4 788.3,1371 790.6,1374.1 792.7,1370.3 795.1,1369.9 797.8,1363.5 799.9,1373 802.6,1369 804.1,1358.6 808.1,1368.3 810.5,1390.4 813.3,1376.7 816.1,1388.8" fill="none" stroke="#222" stroke-width="1.0" stroke-linejoin="round"/>
<path d="M524.6,1489.5V1503.3H612.7V1489.5" fill="none" stroke="#333" stroke-width="1.3"/>
<path d="M816.6,1337.5H830.4V1433.4H816.6" fill="none" stroke="#333" stroke-width="1.3"/>
<text x="565.2" y="1530.5" font-size="27" fill="#333" text-anchor="middle">5 ms</text>
<text x="842" y="1385.8" font-size="23.5" fill="#333" text-anchor="start">0.5</text>
<text x="842" y="1413" font-size="23.5" fill="#333" text-anchor="start">mV</text>
<path d="M364.3,1687 366.2,1676.7 368.6,1677.8 371.1,1669.1 373.3,1670.1 375.9,1662.4 377.8,1673.5 380.3,1655.9 383.8,1637 385.6,1654.6 387.4,1664.5 389.5,1658.2 392.4,1663.5 394.6,1658.5 396.9,1663.6 399.4,1656.2 402.3,1662 404.1,1657.5 406,1670.5 408.2,1654.3 410.1,1662.6 412.6,1656 415.1,1661.6 417.1,1643.3 419,1662.1 421.1,1659.7 423.3,1666.8 426,1662.3 428.8,1673.4 431.1,1663.5 432.8,1673.5 435.1,1672.5 437.3,1682.9 439.1,1673.2 441.9,1676 444.5,1673.6 446.8,1678.4 449.1,1666 451.3,1672.5 454.1,1668.1 457.1,1677.1 460.1,1670.8 462.8,1685.8 464.4,1671.8 466.3,1667.8 468.2,1655.5 470,1671.2 472.7,1655.8 474.6,1662 477.5,1656.5 479.3,1663.1 481.8,1652.1 483.9,1663 486.2,1653.3 488.1,1671 490.5,1656.9 493.6,1664.3 496,1649.1 497.8,1663.7 499.9,1655.8 501.8,1662.2 504.1,1658.1 506.6,1670.4 508.7,1655 511.2,1663.7 513.7,1668.2 515.5,1686.6 518.5,1669.4 520.7,1669.4 522.4,1659.4 524.2,1658.6 527.2,1764.4 529.3,1601.1 531.9,1656.4 534.1,1719 538.4,1632.6 541,1662.9 543.6,1703.9 547.9,1651.2 550.5,1669.4 553.1,1722.1 557.9,1643.4 561.3,1671.5 566.5,1704.8 571.7,1644.3 575.1,1656.4 576.8,1675 579.3,1650.1 582.1,1670.3 584.2,1662.8 586.2,1670 589.1,1661.8 591.8,1675.1 594,1664.9 596.1,1674.1 598.4,1668.2 600.2,1672.9 602.3,1665.8 604.3,1677.8 606.4,1665.2 609.2,1682 612,1662.9 613.9,1679.9 616.4,1671.8 619.2,1682.3 621.3,1678.6 623.5,1691.8 626,1679.5 628.4,1675.8 631,1663.8 633.2,1673.2 635.9,1655.5 637.9,1667.5 639.7,1656.1 642.5,1657.5 645.1,1644.7 647,1656.7 648.7,1658.6 650.7,1664.1 653.5,1653.2 655.7,1664.7 657.6,1656.1 659.7,1664.4 661.6,1650.2 664.1,1667.3 665.9,1649.9 668.5,1665 670.6,1664.5 673.2,1683.2 675.9,1665.8 678.3,1659.9 680.3,1652.9 682.1,1661.3 684.5,1652.5 686.5,1658.6 689.4,1645.1 692,1659 694.8,1651.2 697.3,1661.5 700.3,1651.6 702.4,1660.1 705.4,1652.2 708.4,1664.4 711.4,1659.1 714.2,1667.8 717,1666.2 719.1,1675.3 721.9,1658.8 723.6,1672.9 726.1,1668.2 728.5,1677.1 731.3,1666.1 733.5,1675.4 735.6,1666.3 738.4,1672.8 741.4,1665.8 743.9,1675.5 745.7,1669.3 748.1,1677.9 750.1,1665.1 752,1674.7 753.9,1661.2 756.1,1674.5 759,1676.8 760.9,1698.7 763.5,1678.3 765.7,1662.6 768.2,1654.2 770.4,1662 772.8,1658 775.4,1665.5 779,1684.5 780.8,1666.8 782.9,1652.4 785.6,1665.3 788.4,1650.8 790.5,1658.1 793.4,1647.4 795.4,1660.2 797.9,1654.7 800.2,1668.5 803.2,1644.6 805.2,1663.7 806.9,1654.7 808.9,1663.4 811,1655.8 813.9,1668 815.8,1656.7 817.8,1669.5 820.1,1658.9" fill="none" stroke="#222" stroke-width="1.0" stroke-linejoin="round"/>
<path d="M528.5,1778.1999999999998V1791.6H616.2V1778.1999999999998" fill="none" stroke="#333" stroke-width="1.3"/>
<path d="M817,1624H831V1720H817" fill="none" stroke="#333" stroke-width="1.3"/>
<text x="568" y="1819.3" font-size="27" fill="#333" text-anchor="middle">5 ms</text>
<text x="842.5" y="1671.5" font-size="23.5" fill="#333" text-anchor="start">0.5</text>
<text x="842.5" y="1698.7" font-size="23.5" fill="#333" text-anchor="start">mV</text>
<rect x="1081.5" y="873" width="30.799999999999955" height="73.20000000000005" fill="#fff" stroke="#1a1a1a" stroke-width="1.9"/>
<rect x="1151.4" y="866.8" width="31.59999999999991" height="79.40000000000009" fill="#666" stroke="#444" stroke-width="1"/>
<rect x="1054.7" y="681.8" width="177.89999999999986" height="264.4000000000001" fill="none" stroke="#666" stroke-width="1.1"/>
<line x1="1054.7" y1="946.2" x2="1232.6" y2="946.2" stroke="#555" stroke-width="1.2"/>
<line x1="1054.7" y1="681.3" x2="1054.7" y2="946.8000000000001" stroke="#0a0a0a" stroke-width="1.9"/>
<line x1="1053.2" y1="719.4" x2="1065.3" y2="719.4" stroke="#444" stroke-width="1.3"/>
<line x1="1229.6" y1="719.4" x2="1232.6" y2="719.4" stroke="#666" stroke-width="1"/>
<text x="1044.3" y="726.1" font-size="25" fill="#111" text-anchor="end">3.0</text>
<line x1="1053.2" y1="794.6" x2="1065.3" y2="794.6" stroke="#444" stroke-width="1.3"/>
<line x1="1229.6" y1="794.6" x2="1232.6" y2="794.6" stroke="#666" stroke-width="1"/>
<text x="1044.3" y="801.3000000000001" font-size="25" fill="#111" text-anchor="end">2.0</text>
<line x1="1053.2" y1="869.8" x2="1065.3" y2="869.8" stroke="#444" stroke-width="1.3"/>
<line x1="1229.6" y1="869.8" x2="1232.6" y2="869.8" stroke="#666" stroke-width="1"/>
<text x="1044.3" y="876.5" font-size="25" fill="#111" text-anchor="end">1.0</text>
<line x1="1053.2" y1="946.2" x2="1065.3" y2="946.2" stroke="#444" stroke-width="1.3"/>
<line x1="1229.6" y1="946.2" x2="1232.6" y2="946.2" stroke="#666" stroke-width="1"/>
<text x="1044.3" y="952.9000000000001" font-size="25" fill="#111" text-anchor="end">0.0</text>
<line x1="1053.2" y1="757" x2="1065.3" y2="757" stroke="#555" stroke-width="1.3"/>
<line x1="1229.6" y1="757" x2="1232.6" y2="757" stroke="#777" stroke-width="1"/>
<line x1="1053.2" y1="832.2" x2="1065.3" y2="832.2" stroke="#555" stroke-width="1.3"/>
<line x1="1229.6" y1="832.2" x2="1232.6" y2="832.2" stroke="#777" stroke-width="1"/>
<line x1="1053.2" y1="907.8" x2="1065.3" y2="907.8" stroke="#555" stroke-width="1.3"/>
<line x1="1229.6" y1="907.8" x2="1232.6" y2="907.8" stroke="#777" stroke-width="1"/>
<text x="981" y="832.5" font-size="27.6" fill="#333" text-anchor="middle" transform="rotate(-90 981 832.5)">CS frequency (Hz)</text>
<text x="1075" y="734.5" font-size="58" fill="#333" text-anchor="start" font-weight="bold">d</text>
<text x="1090" y="979.7" font-size="25" fill="#111" text-anchor="middle">WT</text>
<text x="1193.8" y="979.7" font-size="25" fill="#111" text-anchor="middle">PC-BK-/-</text>
<line x1="1187" y1="682" x2="1187" y2="685" stroke="#555" stroke-width="1"/>
<line x1="1079.9" y1="847.6" x2="1112.9" y2="847.6" stroke="#5a5a5a" stroke-width="1.2"/>
<line x1="1079.9" y1="902" x2="1112.9" y2="902" stroke="#5a5a5a" stroke-width="1.2"/>
<line x1="1150.6" y1="816.7" x2="1184.6" y2="816.7" stroke="#505050" stroke-width="1.2"/>
<line x1="1150.6" y1="918.6" x2="1184.6" y2="918.6" stroke="#505050" stroke-width="1.2"/>
<circle cx="1096.7" cy="807" r="4.7" fill="#fff" stroke="#111" stroke-width="1.2"/>
<circle cx="1096.2" cy="809.5" r="4.7" fill="#fff" stroke="#111" stroke-width="1.2"/>
<circle cx="1096.1" cy="813" r="4.7" fill="#fff" stroke="#111" stroke-width="1.2"/>
<circle cx="1096.7" cy="822" r="4.7" fill="#fff" stroke="#111" stroke-width="1.2"/>
<circle cx="1096" cy="829" r="4.7" fill="#fff" stroke="#111" stroke-width="1.2"/>
<circle cx="1096.4" cy="837" r="4.7" fill="#fff" stroke="#111" stroke-width="1.2"/>
<circle cx="1096.5" cy="843" r="4.7" fill="#fff" stroke="#111" stroke-width="1.2"/>
<circle cx="1096.5" cy="851" r="4.7" fill="#fff" stroke="#111" stroke-width="1.2"/>
<circle cx="1096" cy="856" r="4.7" fill="#fff" stroke="#111" stroke-width="1.2"/>
<circle cx="1096.5" cy="862" r="4.7" fill="#fff" stroke="#111" stroke-width="1.2"/>
<circle cx="1096.4" cy="866" r="4.7" fill="#fff" stroke="#111" stroke-width="1.2"/>
<circle cx="1096.8" cy="870" r="4.7" fill="#fff" stroke="#111" stroke-width="1.2"/>
<circle cx="1095.9" cy="875" r="4.7" fill="#fff" stroke="#111" stroke-width="1.2"/>
<circle cx="1096.9" cy="880" r="4.7" fill="#fff" stroke="#111" stroke-width="1.2"/>
<circle cx="1096.1" cy="884" r="4.7" fill="#fff" stroke="#111" stroke-width="1.2"/>
<circle cx="1096.7" cy="888" r="4.7" fill="#fff" stroke="#111" stroke-width="1.2"/>
<circle cx="1096.4" cy="892" r="4.7" fill="#fff" stroke="#111" stroke-width="1.2"/>
<circle cx="1096.7" cy="895" r="4.7" fill="#fff" stroke="#111" stroke-width="1.2"/>
<circle cx="1096.1" cy="899" r="4.7" fill="#fff" stroke="#111" stroke-width="1.2"/>
<circle cx="1096.2" cy="903" r="4.7" fill="#fff" stroke="#111" stroke-width="1.2"/>
<circle cx="1096" cy="906" r="4.7" fill="#fff" stroke="#111" stroke-width="1.2"/>
<circle cx="1096.7" cy="909" r="4.7" fill="#fff" stroke="#111" stroke-width="1.2"/>
<circle cx="1096.4" cy="912" r="4.7" fill="#fff" stroke="#111" stroke-width="1.2"/>
<circle cx="1096.1" cy="915" r="4.7" fill="#fff" stroke="#111" stroke-width="1.2"/>
<circle cx="1096.1" cy="917" r="4.7" fill="#fff" stroke="#111" stroke-width="1.2"/>
<circle cx="1096" cy="932" r="4.7" fill="#fff" stroke="#111" stroke-width="1.2"/>
<circle cx="1167.3" cy="726" r="4.7" fill="#fff" stroke="#111" stroke-width="1.2"/>
<circle cx="1167.7" cy="733.7" r="4.7" fill="#fff" stroke="#111" stroke-width="1.2"/>
<circle cx="1167.5" cy="756.8" r="4.7" fill="#fff" stroke="#111" stroke-width="1.2"/>
<circle cx="1167.8" cy="779.5" r="4.7" fill="#fff" stroke="#111" stroke-width="1.2"/>
<circle cx="1167.2" cy="801.3" r="4.7" fill="#fff" stroke="#111" stroke-width="1.2"/>
<circle cx="1167.9" cy="821" r="4.7" fill="#fff" stroke="#111" stroke-width="1.2"/>
<circle cx="1168.1" cy="826" r="4.7" fill="#fff" stroke="#111" stroke-width="1.2"/>
<circle cx="1167.8" cy="832" r="4.7" fill="#fff" stroke="#111" stroke-width="1.2"/>
<circle cx="1167.8" cy="838" r="4.7" fill="#fff" stroke="#111" stroke-width="1.2"/>
<circle cx="1167.9" cy="843" r="4.7" fill="#fff" stroke="#111" stroke-width="1.2"/>
<circle cx="1167.2" cy="848" r="4.7" fill="#fff" stroke="#111" stroke-width="1.2"/>
<circle cx="1167.6" cy="853" r="4.7" fill="#fff" stroke="#111" stroke-width="1.2"/>
<circle cx="1167.2" cy="857" r="4.7" fill="#fff" stroke="#111" stroke-width="1.2"/>
<circle cx="1167.9" cy="861" r="4.7" fill="#fff" stroke="#111" stroke-width="1.2"/>
<circle cx="1167.6" cy="865" r="4.7" fill="#fff" stroke="#111" stroke-width="1.2"/>
<circle cx="1167.2" cy="868" r="4.7" fill="#fff" stroke="#111" stroke-width="1.2"/>
<circle cx="1167.5" cy="871" r="4.7" fill="#fff" stroke="#111" stroke-width="1.2"/>
<circle cx="1167.9" cy="875" r="4.7" fill="#fff" stroke="#111" stroke-width="1.2"/>
<circle cx="1167.7" cy="879" r="4.7" fill="#fff" stroke="#111" stroke-width="1.2"/>
<circle cx="1167.2" cy="883" r="4.7" fill="#fff" stroke="#111" stroke-width="1.2"/>
<circle cx="1168" cy="887" r="4.7" fill="#fff" stroke="#111" stroke-width="1.2"/>
<circle cx="1167.2" cy="891" r="4.7" fill="#fff" stroke="#111" stroke-width="1.2"/>
<circle cx="1167.9" cy="895" r="4.7" fill="#fff" stroke="#111" stroke-width="1.2"/>
<circle cx="1168.1" cy="899" r="4.7" fill="#fff" stroke="#111" stroke-width="1.2"/>
<circle cx="1167.9" cy="903" r="4.7" fill="#fff" stroke="#111" stroke-width="1.2"/>
<circle cx="1168" cy="907" r="4.7" fill="#fff" stroke="#111" stroke-width="1.2"/>
<circle cx="1167.6" cy="911" r="4.7" fill="#fff" stroke="#111" stroke-width="1.2"/>
<circle cx="1167.3" cy="915" r="4.7" fill="#fff" stroke="#111" stroke-width="1.2"/>
<circle cx="1167.6" cy="919" r="4.7" fill="#fff" stroke="#111" stroke-width="1.2"/>
<circle cx="1167.8" cy="922" r="4.7" fill="#fff" stroke="#111" stroke-width="1.2"/>
<circle cx="1167.9" cy="925" r="4.7" fill="#fff" stroke="#111" stroke-width="1.2"/>
<rect x="1083.6" y="1252.6" width="30.700000000000045" height="114.40000000000009" fill="#fff" stroke="#1a1a1a" stroke-width="1.9"/>
<rect x="1152.7" y="1128.5" width="30.700000000000045" height="238.5" fill="#585858" stroke="#444" stroke-width="1"/>
<rect x="1052.4" y="994.6" width="181.0" height="372.4" fill="none" stroke="#444" stroke-width="1.1"/>
<line x1="1052.4" y1="1367" x2="1233.4" y2="1367" stroke="#555" stroke-width="1.2"/>
<line x1="1052.4" y1="994.1" x2="1052.4" y2="1367.6" stroke="#0a0a0a" stroke-width="1.9"/>
<line x1="1050.9" y1="1056.8" x2="1063.0" y2="1056.8" stroke="#444" stroke-width="1.3"/>
<line x1="1230.4" y1="1056.8" x2="1233.4" y2="1056.8" stroke="#666" stroke-width="1"/>
<text x="1048" y="1062.0" font-size="25" fill="#111" text-anchor="end">2000</text>
<line x1="1050.9" y1="1119.5" x2="1063.0" y2="1119.5" stroke="#444" stroke-width="1.3"/>
<line x1="1230.4" y1="1119.5" x2="1233.4" y2="1119.5" stroke="#666" stroke-width="1"/>
<text x="1048" y="1124.7" font-size="25" fill="#111" text-anchor="end">1600</text>
<line x1="1050.9" y1="1182.2" x2="1063.0" y2="1182.2" stroke="#444" stroke-width="1.3"/>
<line x1="1230.4" y1="1182.2" x2="1233.4" y2="1182.2" stroke="#666" stroke-width="1"/>
<text x="1048" y="1187.4" font-size="25" fill="#111" text-anchor="end">1200</text>
<line x1="1050.9" y1="1245" x2="1063.0" y2="1245" stroke="#444" stroke-width="1.3"/>
<line x1="1230.4" y1="1245" x2="1233.4" y2="1245" stroke="#666" stroke-width="1"/>
<text x="1048" y="1250.2" font-size="25" fill="#111" text-anchor="end">800</text>
<line x1="1050.9" y1="1307.7" x2="1063.0" y2="1307.7" stroke="#444" stroke-width="1.3"/>
<line x1="1230.4" y1="1307.7" x2="1233.4" y2="1307.7" stroke="#666" stroke-width="1"/>
<text x="1048" y="1312.9" font-size="25" fill="#111" text-anchor="end">400</text>
<line x1="1050.9" y1="1367" x2="1063.0" y2="1367" stroke="#444" stroke-width="1.3"/>
<line x1="1230.4" y1="1367" x2="1233.4" y2="1367" stroke="#666" stroke-width="1"/>
<text x="1048" y="1372.2" font-size="25" fill="#111" text-anchor="end">0</text>
<line x1="1050.9" y1="1022.2" x2="1063.0" y2="1022.2" stroke="#555" stroke-width="1.3"/>
<line x1="1230.4" y1="1022.2" x2="1233.4" y2="1022.2" stroke="#777" stroke-width="1"/>
<line x1="1050.9" y1="1088" x2="1063.0" y2="1088" stroke="#555" stroke-width="1.3"/>
<line x1="1230.4" y1="1088" x2="1233.4" y2="1088" stroke="#777" stroke-width="1"/>
<line x1="1050.9" y1="1150.8" x2="1063.0" y2="1150.8" stroke="#555" stroke-width="1.3"/>
<line x1="1230.4" y1="1150.8" x2="1233.4" y2="1150.8" stroke="#777" stroke-width="1"/>
<line x1="1050.9" y1="1213.5" x2="1063.0" y2="1213.5" stroke="#555" stroke-width="1.3"/>
<line x1="1230.4" y1="1213.5" x2="1233.4" y2="1213.5" stroke="#777" stroke-width="1"/>
<line x1="1050.9" y1="1276.2" x2="1063.0" y2="1276.2" stroke="#555" stroke-width="1.3"/>
<line x1="1230.4" y1="1276.2" x2="1233.4" y2="1276.2" stroke="#777" stroke-width="1"/>
<line x1="1050.9" y1="1339" x2="1063.0" y2="1339" stroke="#555" stroke-width="1.3"/>
<line x1="1230.4" y1="1339" x2="1233.4" y2="1339" stroke="#777" stroke-width="1"/>
<text x="981" y="1145" font-size="27.6" fill="#333" text-anchor="middle" transform="rotate(-90 981 1145)">spikelets frequency (Hz)</text>
<text x="1073" y="1056" font-size="58" fill="#333" text-anchor="start" font-weight="bold">e</text>
<text x="1093" y="1396.5" font-size="25" fill="#111" text-anchor="middle">WT</text>
<text x="1196.4" y="1396.5" font-size="25" fill="#111" text-anchor="middle">PC-BK-/-</text>
<text x="1118.8" y="1105.2" font-size="17.4" fill="#2e2e2e" text-anchor="middle" class="st">★</text>
<text x="1129.5" y="1105.2" font-size="17.4" fill="#2e2e2e" text-anchor="middle" class="st">★</text>
<text x="1140.2" y="1105.2" font-size="17.4" fill="#2e2e2e" text-anchor="middle" class="st">★</text>
<line x1="1078.9" y1="1198" x2="1117.9" y2="1198" stroke="#444" stroke-width="1.4"/>
<line x1="1078.9" y1="1307.7" x2="1117.9" y2="1307.7" stroke="#444" stroke-width="1.4"/>
<line x1="1149.1" y1="1065" x2="1188.1" y2="1065" stroke="#444" stroke-width="1.4"/>
<line x1="1149.1" y1="1193" x2="1188.1" y2="1193" stroke="#444" stroke-width="1.4"/>
<circle cx="1098.2" cy="1154" r="6.3" fill="#fff" stroke="#111" stroke-width="1.8"/>
<circle cx="1099" cy="1158" r="6.3" fill="#fff" stroke="#111" stroke-width="1.8"/>
<circle cx="1097.7" cy="1162" r="6.3" fill="#fff" stroke="#111" stroke-width="1.8"/>
<circle cx="1098.4" cy="1168" r="6.3" fill="#fff" stroke="#111" stroke-width="1.8"/>
<circle cx="1097.8" cy="1177" r="6.3" fill="#fff" stroke="#111" stroke-width="1.8"/>
<circle cx="1098.2" cy="1181" r="6.3" fill="#fff" stroke="#111" stroke-width="1.8"/>
<circle cx="1099.1" cy="1193" r="6.3" fill="#fff" stroke="#111" stroke-width="1.8"/>
<circle cx="1097.9" cy="1208" r="6.3" fill="#fff" stroke="#111" stroke-width="1.8"/>
<circle cx="1099.1" cy="1216" r="6.3" fill="#fff" stroke="#111" stroke-width="1.8"/>
<circle cx="1099" cy="1231" r="6.3" fill="#fff" stroke="#111" stroke-width="1.8"/>
<circle cx="1098.7" cy="1238" r="6.3" fill="#fff" stroke="#111" stroke-width="1.8"/>
<circle cx="1097.8" cy="1246" r="6.3" fill="#fff" stroke="#111" stroke-width="1.8"/>
<circle cx="1098.4" cy="1259" r="6.3" fill="#fff" stroke="#111" stroke-width="1.8"/>
<circle cx="1098.7" cy="1268" r="6.3" fill="#fff" stroke="#111" stroke-width="1.8"/>
<circle cx="1097.8" cy="1275" r="6.3" fill="#fff" stroke="#111" stroke-width="1.8"/>
<circle cx="1098.1" cy="1283" r="6.3" fill="#fff" stroke="#111" stroke-width="1.8"/>
<circle cx="1097.8" cy="1291" r="6.3" fill="#fff" stroke="#111" stroke-width="1.8"/>
<circle cx="1098.9" cy="1297" r="6.3" fill="#fff" stroke="#111" stroke-width="1.8"/>
<circle cx="1099" cy="1303" r="6.3" fill="#fff" stroke="#111" stroke-width="1.8"/>
<circle cx="1099" cy="1311" r="6.3" fill="#fff" stroke="#111" stroke-width="1.8"/>
<circle cx="1098.8" cy="1315" r="6.3" fill="#fff" stroke="#111" stroke-width="1.8"/>
<circle cx="1168.7" cy="1040.7" r="6.3" fill="#fff" stroke="#111" stroke-width="1.8"/>
<circle cx="1168" cy="1046" r="6.3" fill="#fff" stroke="#111" stroke-width="1.8"/>
<circle cx="1168.6" cy="1052" r="6.3" fill="#fff" stroke="#111" stroke-width="1.8"/>
<circle cx="1169" cy="1058" r="6.3" fill="#fff" stroke="#111" stroke-width="1.8"/>
<circle cx="1169" cy="1062" r="6.3" fill="#fff" stroke="#111" stroke-width="1.8"/>
<circle cx="1167.9" cy="1071" r="6.3" fill="#fff" stroke="#111" stroke-width="1.8"/>
<circle cx="1167.9" cy="1077" r="6.3" fill="#fff" stroke="#111" stroke-width="1.8"/>
<circle cx="1168" cy="1087" r="6.3" fill="#fff" stroke="#111" stroke-width="1.8"/>
<circle cx="1169.2" cy="1097" r="6.3" fill="#fff" stroke="#111" stroke-width="1.8"/>
<circle cx="1168.1" cy="1106" r="6.3" fill="#fff" stroke="#111" stroke-width="1.8"/>
<circle cx="1168.4" cy="1126" r="6.3" fill="#fff" stroke="#111" stroke-width="1.8"/>
<circle cx="1168.6" cy="1136" r="6.3" fill="#fff" stroke="#111" stroke-width="1.8"/>
<circle cx="1169.1" cy="1146" r="6.3" fill="#fff" stroke="#111" stroke-width="1.8"/>
<circle cx="1168.1" cy="1151" r="6.3" fill="#fff" stroke="#111" stroke-width="1.8"/>
<circle cx="1168.3" cy="1171" r="6.3" fill="#fff" stroke="#111" stroke-width="1.8"/>
<circle cx="1169" cy="1183" r="6.3" fill="#fff" stroke="#111" stroke-width="1.8"/>
<circle cx="1168" cy="1197" r="6.3" fill="#fff" stroke="#111" stroke-width="1.8"/>
<circle cx="1168.1" cy="1211" r="6.3" fill="#fff" stroke="#111" stroke-width="1.8"/>
<circle cx="1167.9" cy="1224.5" r="6.3" fill="#fff" stroke="#111" stroke-width="1.8"/>
<circle cx="1169.2" cy="1269" r="6.3" fill="#fff" stroke="#111" stroke-width="1.8"/>
<circle cx="1168.2" cy="1277" r="6.3" fill="#fff" stroke="#111" stroke-width="1.8"/>
<rect x="1084.9" y="1583.3" width="32.0" height="72.40000000000009" fill="#fff" stroke="#1a1a1a" stroke-width="1.4"/>
<rect x="1164.2" y="1546" width="32.0" height="109.70000000000005" fill="#686868" stroke="#444" stroke-width="1"/>
<rect x="1055.2" y="1406.6" width="175.5999999999999" height="249.10000000000014" fill="none" stroke="#888" stroke-width="1.1"/>
<line x1="1055.2" y1="1655.7" x2="1230.8" y2="1655.7" stroke="#555" stroke-width="1.2"/>
<line x1="1055.2" y1="1406.1" x2="1055.2" y2="1656.3" stroke="#0a0a0a" stroke-width="1.9"/>
<line x1="1053.7" y1="1423.3" x2="1065.8" y2="1423.3" stroke="#444" stroke-width="1.3"/>
<line x1="1230.8" y1="1423.3" x2="1230.8" y2="1423.3" stroke="#666" stroke-width="1"/>
<text x="1043.4" y="1429.8999999999999" font-size="25" fill="#111" text-anchor="end">8</text>
<line x1="1053.7" y1="1481.4" x2="1065.8" y2="1481.4" stroke="#444" stroke-width="1.3"/>
<line x1="1230.8" y1="1481.4" x2="1230.8" y2="1481.4" stroke="#666" stroke-width="1"/>
<text x="1043.4" y="1488.0" font-size="25" fill="#111" text-anchor="end">6</text>
<line x1="1053.7" y1="1539.3" x2="1065.8" y2="1539.3" stroke="#444" stroke-width="1.3"/>
<line x1="1230.8" y1="1539.3" x2="1230.8" y2="1539.3" stroke="#666" stroke-width="1"/>
<text x="1043.4" y="1545.8999999999999" font-size="25" fill="#111" text-anchor="end">4</text>
<line x1="1053.7" y1="1597.4" x2="1065.8" y2="1597.4" stroke="#444" stroke-width="1.3"/>
<line x1="1230.8" y1="1597.4" x2="1230.8" y2="1597.4" stroke="#666" stroke-width="1"/>
<text x="1043.4" y="1604.0" font-size="25" fill="#111" text-anchor="end">2</text>
<line x1="1053.7" y1="1655.7" x2="1065.8" y2="1655.7" stroke="#444" stroke-width="1.3"/>
<line x1="1230.8" y1="1655.7" x2="1230.8" y2="1655.7" stroke="#666" stroke-width="1"/>
<text x="1043.4" y="1662.3" font-size="25" fill="#111" text-anchor="end">0</text>
<line x1="1053.7" y1="1452.2" x2="1065.8" y2="1452.2" stroke="#555" stroke-width="1.3"/>
<line x1="1230.8" y1="1452.2" x2="1230.8" y2="1452.2" stroke="#777" stroke-width="1"/>
<line x1="1053.7" y1="1510.3" x2="1065.8" y2="1510.3" stroke="#555" stroke-width="1.3"/>
<line x1="1230.8" y1="1510.3" x2="1230.8" y2="1510.3" stroke="#777" stroke-width="1"/>
<line x1="1053.7" y1="1568.4" x2="1065.8" y2="1568.4" stroke="#555" stroke-width="1.3"/>
<line x1="1230.8" y1="1568.4" x2="1230.8" y2="1568.4" stroke="#777" stroke-width="1"/>
<line x1="1053.7" y1="1626.3" x2="1065.8" y2="1626.3" stroke="#555" stroke-width="1.3"/>
<line x1="1230.8" y1="1626.3" x2="1230.8" y2="1626.3" stroke="#777" stroke-width="1"/>
<text x="981" y="1534.5" font-size="27.6" fill="#333" text-anchor="middle" transform="rotate(-90 981 1534.5)">Number of spikelets</text>
<text x="1073" y="1462.7" font-size="58" fill="#333" text-anchor="start" font-weight="bold">f</text>
<text x="1081" y="1679.3" font-size="25" fill="#111" text-anchor="middle">WT</text>
<text x="1184.6" y="1679.3" font-size="25" fill="#111" text-anchor="middle">PC-BK-/-</text>
<text x="1117.8999999999999" y="1504.6" font-size="17.4" fill="#2e2e2e" text-anchor="middle" class="st">★</text>
<text x="1128.6" y="1504.6" font-size="17.4" fill="#2e2e2e" text-anchor="middle" class="st">★</text>
<text x="1139.3" y="1504.6" font-size="17.4" fill="#2e2e2e" text-anchor="middle" class="st">★</text>
<circle cx="1141.2" cy="1569.2" r="4.55" fill="#fff" stroke="#111" stroke-width="1.55"/>
<circle cx="1146.9" cy="1568.8" r="4.55" fill="#fff" stroke="#111" stroke-width="1.55"/>
<circle cx="1152.5" cy="1570.6" r="4.55" fill="#fff" stroke="#111" stroke-width="1.55"/>
<circle cx="1158.2" cy="1569.8" r="4.55" fill="#fff" stroke="#111" stroke-width="1.55"/>
<circle cx="1163.8" cy="1569.5" r="4.55" fill="#fff" stroke="#111" stroke-width="1.55"/>
<circle cx="1169.5" cy="1569.2" r="4.55" fill="#fff" stroke="#111" stroke-width="1.55"/>
<circle cx="1175.1" cy="1568.5" r="4.55" fill="#fff" stroke="#111" stroke-width="1.55"/>
<circle cx="1180.8" cy="1570.2" r="4.55" fill="#fff" stroke="#111" stroke-width="1.55"/>
<circle cx="1186.4" cy="1568" r="4.55" fill="#fff" stroke="#111" stroke-width="1.55"/>
<circle cx="1192.1" cy="1569.6" r="4.55" fill="#fff" stroke="#111" stroke-width="1.55"/>
<circle cx="1197.7" cy="1568.6" r="4.55" fill="#fff" stroke="#111" stroke-width="1.55"/>
<circle cx="1203.4" cy="1568.5" r="4.55" fill="#fff" stroke="#111" stroke-width="1.55"/>
<circle cx="1209" cy="1569.1" r="4.55" fill="#fff" stroke="#111" stroke-width="1.55"/>
<circle cx="1151.4" cy="1559.6" r="4.55" fill="#fff" stroke="#111" stroke-width="1.55"/>
<circle cx="1156.8" cy="1560.4" r="4.55" fill="#fff" stroke="#111" stroke-width="1.55"/>
<circle cx="1162.2" cy="1559.4" r="4.55" fill="#fff" stroke="#111" stroke-width="1.55"/>
<circle cx="1167.7" cy="1559.3" r="4.55" fill="#fff" stroke="#111" stroke-width="1.55"/>
<circle cx="1173.1" cy="1559.5" r="4.55" fill="#fff" stroke="#111" stroke-width="1.55"/>
<circle cx="1178.5" cy="1559.4" r="4.55" fill="#fff" stroke="#111" stroke-width="1.55"/>
<circle cx="1183.9" cy="1561" r="4.55" fill="#fff" stroke="#111" stroke-width="1.55"/>
<circle cx="1189.3" cy="1560.3" r="4.55" fill="#fff" stroke="#111" stroke-width="1.55"/>
<circle cx="1194.7" cy="1560.6" r="4.55" fill="#fff" stroke="#111" stroke-width="1.55"/>
<circle cx="1200.1" cy="1560.8" r="4.55" fill="#fff" stroke="#111" stroke-width="1.55"/>
<circle cx="1160.4" cy="1573.7" r="4.55" fill="#fff" stroke="#111" stroke-width="1.55"/>
<circle cx="1167.6" cy="1575.2" r="4.55" fill="#fff" stroke="#111" stroke-width="1.55"/>
<circle cx="1174.7" cy="1574.1" r="4.55" fill="#fff" stroke="#111" stroke-width="1.55"/>
<circle cx="1181.9" cy="1574.2" r="4.55" fill="#fff" stroke="#111" stroke-width="1.55"/>
<circle cx="1189.1" cy="1574.3" r="4.55" fill="#fff" stroke="#111" stroke-width="1.55"/>
<circle cx="1196.2" cy="1574.7" r="4.55" fill="#fff" stroke="#111" stroke-width="1.55"/>
<circle cx="1143.8" cy="1599.2" r="4.55" fill="#fff" stroke="#111" stroke-width="1.55"/>
<circle cx="1148.8" cy="1598" r="4.55" fill="#fff" stroke="#111" stroke-width="1.55"/>
<circle cx="1153.8" cy="1599.3" r="4.55" fill="#fff" stroke="#111" stroke-width="1.55"/>
<circle cx="1158.8" cy="1598.5" r="4.55" fill="#fff" stroke="#111" stroke-width="1.55"/>
<circle cx="1163.8" cy="1598.1" r="4.55" fill="#fff" stroke="#111" stroke-width="1.55"/>
<circle cx="1168.9" cy="1599.4" r="4.55" fill="#fff" stroke="#111" stroke-width="1.55"/>
<circle cx="1173.9" cy="1599.4" r="4.55" fill="#fff" stroke="#111" stroke-width="1.55"/>
<circle cx="1178.9" cy="1599.4" r="4.55" fill="#fff" stroke="#111" stroke-width="1.55"/>
<circle cx="1183.9" cy="1598.3" r="4.55" fill="#fff" stroke="#111" stroke-width="1.55"/>
<circle cx="1189" cy="1599.5" r="4.55" fill="#fff" stroke="#111" stroke-width="1.55"/>
<circle cx="1194" cy="1599.2" r="4.55" fill="#fff" stroke="#111" stroke-width="1.55"/>
<circle cx="1199" cy="1599.6" r="4.55" fill="#fff" stroke="#111" stroke-width="1.55"/>
<circle cx="1204" cy="1599.1" r="4.55" fill="#fff" stroke="#111" stroke-width="1.55"/>
<circle cx="1209" cy="1599.6" r="4.55" fill="#fff" stroke="#111" stroke-width="1.55"/>
<circle cx="1174.5" cy="1605.6" r="4.55" fill="#fff" stroke="#111" stroke-width="1.55"/>
<circle cx="1179.6" cy="1605.6" r="4.55" fill="#fff" stroke="#111" stroke-width="1.55"/>
<circle cx="1184.7" cy="1605.6" r="4.55" fill="#fff" stroke="#111" stroke-width="1.55"/>
<circle cx="1154" cy="1541.1" r="4.55" fill="#fff" stroke="#111" stroke-width="1.55"/>
<circle cx="1159.8" cy="1541.1" r="4.55" fill="#fff" stroke="#111" stroke-width="1.55"/>
<circle cx="1165.5" cy="1540.7" r="4.55" fill="#fff" stroke="#111" stroke-width="1.55"/>
<circle cx="1171.3" cy="1542.1" r="4.55" fill="#fff" stroke="#111" stroke-width="1.55"/>
<circle cx="1177" cy="1540.7" r="4.55" fill="#fff" stroke="#111" stroke-width="1.55"/>
<circle cx="1182.8" cy="1541.8" r="4.55" fill="#fff" stroke="#111" stroke-width="1.55"/>
<circle cx="1188.6" cy="1541.2" r="4.55" fill="#fff" stroke="#111" stroke-width="1.55"/>
<circle cx="1194.3" cy="1541.7" r="4.55" fill="#fff" stroke="#111" stroke-width="1.55"/>
<circle cx="1200.1" cy="1540.5" r="4.55" fill="#fff" stroke="#111" stroke-width="1.55"/>
<circle cx="1205.8" cy="1539.8" r="4.55" fill="#fff" stroke="#111" stroke-width="1.55"/>
<circle cx="1211.6" cy="1541.6" r="4.55" fill="#fff" stroke="#111" stroke-width="1.55"/>
<circle cx="1155.3" cy="1531.6" r="4.55" fill="#fff" stroke="#111" stroke-width="1.55"/>
<circle cx="1161.3" cy="1532.1" r="4.55" fill="#fff" stroke="#111" stroke-width="1.55"/>
<circle cx="1167.2" cy="1532.9" r="4.55" fill="#fff" stroke="#111" stroke-width="1.55"/>
<circle cx="1173.2" cy="1531.4" r="4.55" fill="#fff" stroke="#111" stroke-width="1.55"/>
<circle cx="1179.2" cy="1533.2" r="4.55" fill="#fff" stroke="#111" stroke-width="1.55"/>
<circle cx="1185.1" cy="1532.5" r="4.55" fill="#fff" stroke="#111" stroke-width="1.55"/>
<circle cx="1191.1" cy="1532.5" r="4.55" fill="#fff" stroke="#111" stroke-width="1.55"/>
<circle cx="1197.1" cy="1532.7" r="4.55" fill="#fff" stroke="#111" stroke-width="1.55"/>
<circle cx="1203.1" cy="1531.4" r="4.55" fill="#fff" stroke="#111" stroke-width="1.55"/>
<circle cx="1209" cy="1531.4" r="4.55" fill="#fff" stroke="#111" stroke-width="1.55"/>
<circle cx="1170.6" cy="1547.9" r="4.55" fill="#fff" stroke="#111" stroke-width="1.55"/>
<circle cx="1178.3" cy="1547.6" r="4.55" fill="#fff" stroke="#111" stroke-width="1.55"/>
<circle cx="1186" cy="1547.7" r="4.55" fill="#fff" stroke="#111" stroke-width="1.55"/>
<circle cx="1193.7" cy="1548.1" r="4.55" fill="#fff" stroke="#111" stroke-width="1.55"/>
<circle cx="1201.4" cy="1547" r="4.55" fill="#fff" stroke="#111" stroke-width="1.55"/>
<circle cx="1157.8" cy="1511.2" r="4.55" fill="#fff" stroke="#111" stroke-width="1.55"/>
<circle cx="1163.9" cy="1512.8" r="4.55" fill="#fff" stroke="#111" stroke-width="1.55"/>
<circle cx="1170" cy="1511" r="4.55" fill="#fff" stroke="#111" stroke-width="1.55"/>
<circle cx="1176.1" cy="1511.9" r="4.55" fill="#fff" stroke="#111" stroke-width="1.55"/>
<circle cx="1182.2" cy="1512.1" r="4.55" fill="#fff" stroke="#111" stroke-width="1.55"/>
<circle cx="1188.2" cy="1512.8" r="4.55" fill="#fff" stroke="#111" stroke-width="1.55"/>
<circle cx="1194.3" cy="1511" r="4.55" fill="#fff" stroke="#111" stroke-width="1.55"/>
<circle cx="1200.4" cy="1512.3" r="4.55" fill="#fff" stroke="#111" stroke-width="1.55"/>
<circle cx="1206.5" cy="1511" r="4.55" fill="#fff" stroke="#111" stroke-width="1.55"/>
<circle cx="1170.6" cy="1502.6" r="4.55" fill="#fff" stroke="#111" stroke-width="1.55"/>
<circle cx="1180.9" cy="1502.6" r="4.55" fill="#fff" stroke="#111" stroke-width="1.55"/>
<circle cx="1191.1" cy="1502.6" r="4.55" fill="#fff" stroke="#111" stroke-width="1.55"/>
<circle cx="1157.8" cy="1481.3" r="4.55" fill="#fff" stroke="#111" stroke-width="1.55"/>
<circle cx="1163.6" cy="1482.7" r="4.55" fill="#fff" stroke="#111" stroke-width="1.55"/>
<circle cx="1169.4" cy="1481.5" r="4.55" fill="#fff" stroke="#111" stroke-width="1.55"/>
<circle cx="1175.1" cy="1482" r="4.55" fill="#fff" stroke="#111" stroke-width="1.55"/>
<circle cx="1180.9" cy="1483.1" r="4.55" fill="#fff" stroke="#111" stroke-width="1.55"/>
<circle cx="1186.6" cy="1482.9" r="4.55" fill="#fff" stroke="#111" stroke-width="1.55"/>
<circle cx="1192.4" cy="1481.3" r="4.55" fill="#fff" stroke="#111" stroke-width="1.55"/>
<circle cx="1198.2" cy="1481.2" r="4.55" fill="#fff" stroke="#111" stroke-width="1.55"/>
<circle cx="1203.9" cy="1481.2" r="4.55" fill="#fff" stroke="#111" stroke-width="1.55"/>
<circle cx="1179.6" cy="1452.2" r="4.55" fill="#fff" stroke="#111" stroke-width="1.55"/>
<circle cx="1189.8" cy="1452.2" r="4.55" fill="#fff" stroke="#111" stroke-width="1.55"/>
<circle cx="1180.4" cy="1424" r="4.55" fill="#fff" stroke="#111" stroke-width="1.55"/>
<circle cx="1180.9" cy="1626.3" r="4.55" fill="#fff" stroke="#111" stroke-width="1.55"/>
<line x1="1180.368" y1="1507.76" x2="1180.368" y2="1586.608" stroke="#505050" stroke-width="1.9"/>
<line x1="1162.448" y1="1586.608" x2="1199.312" y2="1586.608" stroke="#505050" stroke-width="1.9"/>
<line x1="1173.2" y1="1507.76" x2="1187.28" y2="1507.76" stroke="#505050" stroke-width="1.9"/>
<circle cx="1074.6" cy="1568.8" r="4.55" fill="#fff" stroke="#111" stroke-width="1.55"/>
<circle cx="1080.3" cy="1566.5" r="4.55" fill="#fff" stroke="#111" stroke-width="1.55"/>
<circle cx="1086" cy="1568.8" r="4.55" fill="#fff" stroke="#111" stroke-width="1.55"/>
<circle cx="1091.7" cy="1568.8" r="4.55" fill="#fff" stroke="#111" stroke-width="1.55"/>
<circle cx="1097.4" cy="1568.9" r="4.55" fill="#fff" stroke="#111" stroke-width="1.55"/>
<circle cx="1103.1" cy="1569.2" r="4.55" fill="#fff" stroke="#111" stroke-width="1.55"/>
<circle cx="1108.8" cy="1568.3" r="4.55" fill="#fff" stroke="#111" stroke-width="1.55"/>
<circle cx="1114.5" cy="1568.9" r="4.55" fill="#fff" stroke="#111" stroke-width="1.55"/>
<circle cx="1120.2" cy="1568" r="4.55" fill="#fff" stroke="#111" stroke-width="1.55"/>
<circle cx="1125.8" cy="1568.4" r="4.55" fill="#fff" stroke="#111" stroke-width="1.55"/>
<circle cx="1076.4" cy="1572" r="4.55" fill="#fff" stroke="#111" stroke-width="1.55"/>
<circle cx="1082.6" cy="1573.4" r="4.55" fill="#fff" stroke="#111" stroke-width="1.55"/>
<circle cx="1088.8" cy="1574.8" r="4.55" fill="#fff" stroke="#111" stroke-width="1.55"/>
<circle cx="1095" cy="1573" r="4.55" fill="#fff" stroke="#111" stroke-width="1.55"/>
<circle cx="1101.1" cy="1573.9" r="4.55" fill="#fff" stroke="#111" stroke-width="1.55"/>
<circle cx="1107.3" cy="1572.3" r="4.55" fill="#fff" stroke="#111" stroke-width="1.55"/>
<circle cx="1113.5" cy="1573.2" r="4.55" fill="#fff" stroke="#111" stroke-width="1.55"/>
<circle cx="1119.7" cy="1573.4" r="4.55" fill="#fff" stroke="#111" stroke-width="1.55"/>
<circle cx="1125.8" cy="1574.1" r="4.55" fill="#fff" stroke="#111" stroke-width="1.55"/>
<circle cx="1086.2" cy="1558.6" r="4.55" fill="#fff" stroke="#111" stroke-width="1.55"/>
<circle cx="1094.7" cy="1558.9" r="4.55" fill="#fff" stroke="#111" stroke-width="1.55"/>
<circle cx="1103.2" cy="1558.3" r="4.55" fill="#fff" stroke="#111" stroke-width="1.55"/>
<circle cx="1111.8" cy="1559.1" r="4.55" fill="#fff" stroke="#111" stroke-width="1.55"/>
<circle cx="1074.6" cy="1597.9" r="4.55" fill="#fff" stroke="#111" stroke-width="1.55"/>
<circle cx="1080.3" cy="1596.6" r="4.55" fill="#fff" stroke="#111" stroke-width="1.55"/>
<circle cx="1085.9" cy="1597.2" r="4.55" fill="#fff" stroke="#111" stroke-width="1.55"/>
<circle cx="1091.5" cy="1597" r="4.55" fill="#fff" stroke="#111" stroke-width="1.55"/>
<circle cx="1097.2" cy="1596.1" r="4.55" fill="#fff" stroke="#111" stroke-width="1.55"/>
<circle cx="1102.8" cy="1597.3" r="4.55" fill="#fff" stroke="#111" stroke-width="1.55"/>
<circle cx="1108.4" cy="1596.2" r="4.55" fill="#fff" stroke="#111" stroke-width="1.55"/>
<circle cx="1114.1" cy="1597.1" r="4.55" fill="#fff" stroke="#111" stroke-width="1.55"/>
<circle cx="1119.7" cy="1598" r="4.55" fill="#fff" stroke="#111" stroke-width="1.55"/>
<circle cx="1125.3" cy="1596.4" r="4.55" fill="#fff" stroke="#111" stroke-width="1.55"/>
<circle cx="1131" cy="1597.3" r="4.55" fill="#fff" stroke="#111" stroke-width="1.55"/>
<circle cx="1077.2" cy="1601.6" r="4.55" fill="#fff" stroke="#111" stroke-width="1.55"/>
<circle cx="1083.3" cy="1602.3" r="4.55" fill="#fff" stroke="#111" stroke-width="1.55"/>
<circle cx="1089.4" cy="1601.2" r="4.55" fill="#fff" stroke="#111" stroke-width="1.55"/>
<circle cx="1095.5" cy="1602" r="4.55" fill="#fff" stroke="#111" stroke-width="1.55"/>
<circle cx="1101.7" cy="1602.7" r="4.55" fill="#fff" stroke="#111" stroke-width="1.55"/>
<circle cx="1107.8" cy="1601.3" r="4.55" fill="#fff" stroke="#111" stroke-width="1.55"/>
<circle cx="1113.9" cy="1601.6" r="4.55" fill="#fff" stroke="#111" stroke-width="1.55"/>
<circle cx="1120" cy="1601.3" r="4.55" fill="#fff" stroke="#111" stroke-width="1.55"/>
<circle cx="1126.1" cy="1601.1" r="4.55" fill="#fff" stroke="#111" stroke-width="1.55"/>
<circle cx="1132.2" cy="1602.4" r="4.55" fill="#fff" stroke="#111" stroke-width="1.55"/>
<circle cx="1096.4" cy="1539.2" r="4.55" fill="#fff" stroke="#111" stroke-width="1.55"/>
<circle cx="1101" cy="1543.6" r="4.55" fill="#fff" stroke="#111" stroke-width="1.55"/>
<circle cx="1106.6" cy="1538.7" r="4.55" fill="#fff" stroke="#111" stroke-width="1.55"/>
<circle cx="1101" cy="1626.3" r="4.55" fill="#fff" stroke="#111" stroke-width="1.55"/>
<circle cx="1101" cy="1567.9" r="4.55" fill="#fff" stroke="#111" stroke-width="1.55"/>
<circle cx="1101" cy="1597.4" r="4.55" fill="#fff" stroke="#111" stroke-width="1.55"/>
<line x1="1101.008" y1="1558.96" x2="1101.008" y2="1612.72" stroke="#505050" stroke-width="1.9"/>
<line x1="1082.32" y1="1558.96" x2="1119.44" y2="1558.96" stroke="#505050" stroke-width="1.9"/>
<line x1="1083.088" y1="1612.72" x2="1119.44" y2="1612.72" stroke="#505050" stroke-width="1.9"/>
<line x1="1096.4" y1="1585.84" x2="1106.128" y2="1585.84" stroke="#505050" stroke-width="1.9"/>
<rect x="1083.6" y="1916.8" width="32.40000000000009" height="44.0" fill="#fff" stroke="#1a1a1a" stroke-width="1.4"/>
<rect x="1162.4" y="1821.6" width="31.299999999999955" height="139.20000000000005" fill="#6a6a6a" stroke="#2a2a2a" stroke-width="1.5"/>
<rect x="1056.2" y="1707.4" width="174.5999999999999" height="253.39999999999986" fill="none" stroke="#999" stroke-width="1.1"/>
<line x1="1056.2" y1="1960.8" x2="1230.8" y2="1960.8" stroke="#555" stroke-width="1.2"/>
<line x1="1056.2" y1="1706.9" x2="1056.2" y2="1961.3999999999999" stroke="#0a0a0a" stroke-width="1.9"/>
<line x1="1054.7" y1="1743.2" x2="1066.8" y2="1743.2" stroke="#444" stroke-width="1.3"/>
<line x1="1229.3" y1="1743.2" x2="1230.8" y2="1743.2" stroke="#666" stroke-width="1"/>
<text x="1045.4" y="1746.6000000000001" font-size="25" fill="#111" text-anchor="end">22</text>
<line x1="1054.7" y1="1815.7" x2="1066.8" y2="1815.7" stroke="#444" stroke-width="1.3"/>
<line x1="1229.3" y1="1815.7" x2="1230.8" y2="1815.7" stroke="#666" stroke-width="1"/>
<text x="1045.4" y="1819.1000000000001" font-size="25" fill="#111" text-anchor="end">18</text>
<line x1="1054.7" y1="1888.1" x2="1066.8" y2="1888.1" stroke="#444" stroke-width="1.3"/>
<line x1="1229.3" y1="1888.1" x2="1230.8" y2="1888.1" stroke="#666" stroke-width="1"/>
<text x="1045.4" y="1891.5" font-size="25" fill="#111" text-anchor="end">14</text>
<line x1="1054.7" y1="1960.8" x2="1066.8" y2="1960.8" stroke="#444" stroke-width="1.3"/>
<line x1="1229.3" y1="1960.8" x2="1230.8" y2="1960.8" stroke="#666" stroke-width="1"/>
<text x="1045.4" y="1964.2" font-size="25" fill="#111" text-anchor="end">10</text>
<line x1="1054.7" y1="1779.4" x2="1066.8" y2="1779.4" stroke="#555" stroke-width="1.3"/>
<line x1="1229.3" y1="1779.4" x2="1230.8" y2="1779.4" stroke="#777" stroke-width="1"/>
<line x1="1054.7" y1="1852" x2="1066.8" y2="1852" stroke="#555" stroke-width="1.3"/>
<line x1="1229.3" y1="1852" x2="1230.8" y2="1852" stroke="#777" stroke-width="1"/>
<line x1="1054.7" y1="1924.5" x2="1066.8" y2="1924.5" stroke="#555" stroke-width="1.3"/>
<line x1="1229.3" y1="1924.5" x2="1230.8" y2="1924.5" stroke="#777" stroke-width="1"/>
<text x="981" y="1851" font-size="27.6" fill="#333" text-anchor="middle" transform="rotate(-90 981 1851)">Silence duration (ms)</text>
<text x="1072.5" y="1750.5" font-size="58" fill="#333" text-anchor="start" font-weight="bold">g</text>
<text x="1100.2" y="1997.2" font-size="25" fill="#111" text-anchor="middle">WT</text>
<text x="1194.4" y="1997.2" font-size="25" fill="#111" text-anchor="middle">PC-BK-/-</text>
<text x="1117.8999999999999" y="1860" font-size="17.4" fill="#2e2e2e" text-anchor="middle" class="st">★</text>
<text x="1128.6" y="1860" font-size="17.4" fill="#2e2e2e" text-anchor="middle" class="st">★</text>
<text x="1139.3" y="1860" font-size="17.4" fill="#2e2e2e" text-anchor="middle" class="st">★</text>
<line x1="1083.204" y1="1906.048" x2="1114.204" y2="1906.048" stroke="#222" stroke-width="1.4"/>
<line x1="1083.204" y1="1927.04" x2="1114.204" y2="1927.04" stroke="#222" stroke-width="1.4"/>
<line x1="1098.704" y1="1906.048" x2="1098.704" y2="1916.8" stroke="#222" stroke-width="1.4"/>
<line x1="1083.6" y1="1927.04" x2="1116" y2="1927.04" stroke="#333" stroke-width="1.3"/>
<line x1="1161.528" y1="1799.04" x2="1191.528" y2="1799.04" stroke="#222" stroke-width="1.4"/>
<line x1="1161.528" y1="1843.84" x2="1191.528" y2="1843.84" stroke="#222" stroke-width="1.4"/>
<line x1="1176.528" y1="1799.04" x2="1176.528" y2="1821.568" stroke="#222" stroke-width="1.4"/>
<line x1="1162.4" y1="1843.84" x2="1193.7" y2="1843.84" stroke="#333" stroke-width="1.3"/>
<circle cx="1099.7" cy="1887.9" r="3.7" fill="#fff" stroke="#111" stroke-width="1.5"/>
<circle cx="1099.7" cy="1906.6" r="3.7" fill="#fff" stroke="#111" stroke-width="1.5"/>
<circle cx="1099.7" cy="1922.7" r="3.7" fill="#fff" stroke="#111" stroke-width="1.5"/>
<circle cx="1099.7" cy="1925.2" r="3.7" fill="#fff" stroke="#111" stroke-width="1.5"/>
<circle cx="1099.7" cy="1942.4" r="3.7" fill="#fff" stroke="#111" stroke-width="1.5"/>
<circle cx="1099.7" cy="1944.2" r="3.7" fill="#fff" stroke="#111" stroke-width="1.5"/>
<circle cx="1175.8" cy="1743.2" r="3.7" fill="#fff" stroke="#111" stroke-width="1.5"/>
<circle cx="1175.8" cy="1759.4" r="3.7" fill="#fff" stroke="#111" stroke-width="1.5"/>
<circle cx="1175.8" cy="1763.2" r="3.7" fill="#fff" stroke="#111" stroke-width="1.5"/>
<circle cx="1175.8" cy="1779.8" r="3.7" fill="#fff" stroke="#111" stroke-width="1.5"/>
<circle cx="1175.8" cy="1795.2" r="3.7" fill="#fff" stroke="#111" stroke-width="1.5"/>
<circle cx="1175.8" cy="1797.8" r="3.7" fill="#fff" stroke="#111" stroke-width="1.5"/>
<circle cx="1175.8" cy="1815.7" r="3.7" fill="#fff" stroke="#111" stroke-width="1.5"/>
<circle cx="1175.8" cy="1819.5" r="3.7" fill="#fff" stroke="#111" stroke-width="1.5"/>
<circle cx="1175.8" cy="1833.6" r="3.7" fill="#fff" stroke="#111" stroke-width="1.5"/>
<circle cx="1175.8" cy="1841.3" r="3.7" fill="#fff" stroke="#111" stroke-width="1.5"/>
<circle cx="1175.8" cy="1852" r="3.7" fill="#fff" stroke="#111" stroke-width="1.5"/>
<circle cx="1175.8" cy="1853.1" r="3.7" fill="#fff" stroke="#111" stroke-width="1.5"/>
<circle cx="1175.8" cy="1869.4" r="3.7" fill="#fff" stroke="#111" stroke-width="1.5"/>
<circle cx="1175.8" cy="1871.5" r="3.7" fill="#fff" stroke="#111" stroke-width="1.5"/>
<circle cx="1175.8" cy="1875.8" r="3.7" fill="#fff" stroke="#111" stroke-width="1.5"/>
<circle cx="1175.8" cy="1886.8" r="3.7" fill="#fff" stroke="#111" stroke-width="1.5"/>
<circle cx="1175.8" cy="1888.6" r="3.7" fill="#fff" stroke="#111" stroke-width="1.5"/>
<circle cx="1175.8" cy="1892" r="3.7" fill="#fff" stroke="#111" stroke-width="1.5"/>
<circle cx="1175.8" cy="1905.3" r="3.7" fill="#fff" stroke="#111" stroke-width="1.5"/>
<circle cx="1175.8" cy="1907.1" r="3.7" fill="#fff" stroke="#111" stroke-width="1.5"/>
<circle cx="1175.8" cy="1909.6" r="3.7" fill="#fff" stroke="#111" stroke-width="1.5"/>
</svg></body></html>
